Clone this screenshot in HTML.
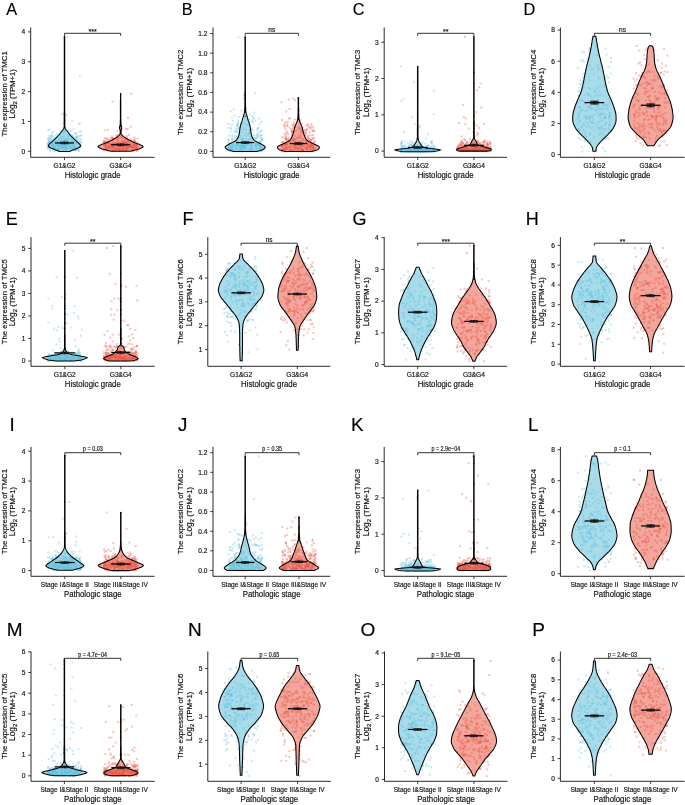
<!DOCTYPE html><html><head><meta charset="utf-8"><style>html,body{margin:0;padding:0;background:#fff;width:685px;height:805px;overflow:hidden}</style></head><body><svg width="685" height="805" viewBox="0 0 685 805" style="display:block;font-family:'Liberation Sans', sans-serif;will-change:transform"><style>text{stroke:#111;stroke-width:0.18px}</style><text x="6.2" y="15.0" font-size="16.3" >A</text>
<defs><path id="vA0" d="M70.0 151.4 70.2 151.2 70.5 151.0 72.3 150.3 74.4 149.6 76.8 148.6 78.7 147.7 80.0 146.8 80.7 145.9 80.3 145.0 79.6 144.1 78.9 143.4 78.0 142.6 77.1 141.9 76.1 141.0 75.2 140.0 74.2 139.1 73.3 138.2 72.4 137.3 71.5 136.4 70.6 135.5 69.8 134.6 69.1 133.7 68.4 132.8 67.7 131.8 67.0 130.9 66.5 130.2 65.9 129.5 65.4 128.7 65.1 128.0 65.0 127.3 64.8 126.6 64.8 125.9 64.8 125.0 64.8 124.0 64.8 123.1 64.8 122.1 64.8 121.2 64.8 120.2 64.8 119.3 64.8 118.3 64.8 117.4 64.8 116.4 64.8 115.4 64.8 114.5 64.8 113.5 64.7 112.6 64.7 111.6 64.7 110.7 64.7 109.7 64.7 108.8 64.7 107.8 64.7 106.9 64.7 105.9 64.7 105.0 64.7 104.0 64.7 103.1 64.7 102.1 64.7 101.2 64.7 100.2 64.7 99.3 64.7 98.3 64.7 97.3 64.7 96.4 64.7 95.4 64.7 94.5 64.7 93.5 64.7 92.6 64.7 91.6 64.7 90.7 64.7 89.7 64.7 88.8 64.7 87.8 64.7 86.9 64.7 85.9 64.7 85.0 64.7 84.0 64.7 83.1 64.7 82.1 64.7 81.2 64.7 80.2 64.7 79.2 64.7 78.3 64.7 77.3 64.7 76.4 64.7 75.4 64.7 74.5 64.7 73.5 64.7 72.6 64.7 71.6 64.7 70.7 64.7 69.7 64.7 68.8 64.7 67.8 64.7 66.9 64.7 65.9 64.7 65.0 64.7 64.0 64.7 63.1 64.7 62.1 64.7 61.1 64.7 60.2 64.7 59.2 64.7 58.3 64.7 57.3 64.7 56.4 64.7 55.4 64.7 54.5 64.7 53.5 64.7 52.6 64.7 51.6 64.7 50.7 64.7 49.7 64.7 48.8 64.7 47.8 64.7 46.9 64.7 45.9 64.7 45.0 64.7 44.0 64.7 43.0 64.7 42.1 64.7 41.1 64.7 40.2 64.7 39.2 64.7 38.3 64.7 37.3 64.7 36.4 64.3 36.4 64.3 37.3 64.3 38.3 64.3 39.2 64.3 40.2 64.3 41.1 64.3 42.1 64.3 43.0 64.3 44.0 64.3 45.0 64.3 45.9 64.3 46.9 64.3 47.8 64.3 48.8 64.3 49.7 64.3 50.7 64.3 51.6 64.3 52.6 64.3 53.5 64.3 54.5 64.3 55.4 64.3 56.4 64.3 57.3 64.3 58.3 64.3 59.2 64.3 60.2 64.3 61.1 64.3 62.1 64.3 63.1 64.3 64.0 64.3 65.0 64.3 65.9 64.3 66.9 64.3 67.8 64.3 68.8 64.3 69.7 64.3 70.7 64.3 71.6 64.3 72.6 64.3 73.5 64.3 74.5 64.3 75.4 64.3 76.4 64.3 77.3 64.3 78.3 64.3 79.2 64.3 80.2 64.3 81.2 64.3 82.1 64.3 83.1 64.3 84.0 64.3 85.0 64.3 85.9 64.3 86.9 64.3 87.8 64.3 88.8 64.3 89.7 64.3 90.7 64.3 91.6 64.3 92.6 64.3 93.5 64.3 94.5 64.3 95.4 64.3 96.4 64.3 97.3 64.3 98.3 64.3 99.3 64.3 100.2 64.3 101.2 64.3 102.1 64.3 103.1 64.3 104.0 64.3 105.0 64.3 105.9 64.3 106.9 64.3 107.8 64.3 108.8 64.3 109.7 64.3 110.7 64.3 111.6 64.3 112.6 64.2 113.5 64.2 114.5 64.2 115.4 64.2 116.4 64.2 117.4 64.2 118.3 64.2 119.3 64.2 120.2 64.2 121.2 64.2 122.1 64.2 123.1 64.2 124.0 64.2 125.0 64.2 125.9 64.2 126.6 64.0 127.3 63.9 128.0 63.6 128.7 63.1 129.5 62.5 130.2 62.0 130.9 61.3 131.8 60.6 132.8 59.9 133.7 59.2 134.6 58.4 135.5 57.5 136.4 56.6 137.3 55.7 138.2 54.8 139.1 53.8 140.0 52.9 141.0 51.9 141.9 51.0 142.6 50.1 143.4 49.4 144.1 48.7 145.0 48.3 145.9 49.0 146.8 50.3 147.7 52.2 148.6 54.6 149.6 56.7 150.3 58.5 151.0 58.8 151.2 59.0 151.4Z"/></defs><use href="#vA0" fill="#a9dcea"/>
<defs><path id="vA1" d="M129.7 151.3 131.5 150.9 133.3 150.4 135.0 150.0 136.5 149.6 137.9 149.2 139.2 148.9 140.2 148.5 141.0 148.1 141.8 147.7 142.5 147.3 142.9 146.9 143.1 146.5 142.9 146.2 142.3 145.8 141.5 145.4 140.7 145.0 139.7 144.6 138.6 144.1 137.3 143.7 136.1 143.2 135.0 142.8 134.0 142.3 133.0 141.9 132.0 141.4 131.0 141.0 130.1 140.6 129.2 140.1 128.4 139.7 127.7 139.2 126.9 138.8 126.2 138.4 125.5 138.0 124.9 137.5 124.3 137.1 123.8 136.7 123.2 136.2 122.7 135.8 122.2 135.3 121.7 134.9 121.4 134.4 121.2 134.0 121.1 133.6 121.1 133.2 121.0 132.7 121.0 132.3 121.0 131.9 121.0 131.5 121.0 131.1 121.1 130.6 121.1 130.2 121.2 129.8 121.3 129.4 121.4 129.0 121.6 128.6 121.7 128.1 121.7 127.7 121.7 127.3 121.6 126.9 121.4 126.5 121.3 126.0 121.2 125.6 121.1 125.2 121.1 124.7 121.0 124.3 121.0 123.8 120.9 123.4 120.9 122.9 120.9 122.5 120.9 122.0 120.9 121.5 120.9 121.0 120.9 120.5 120.9 120.1 120.9 119.6 120.8 119.1 120.8 118.6 120.8 118.1 120.8 117.7 120.8 117.2 120.8 116.7 120.8 116.2 120.8 115.7 120.8 115.3 120.8 114.8 120.8 114.3 120.8 113.8 120.8 113.4 120.8 112.9 120.8 112.4 120.8 111.9 120.8 111.4 120.8 111.0 120.8 110.5 120.8 110.0 120.8 109.5 120.8 109.0 120.8 108.6 120.8 108.1 120.8 107.6 120.8 107.1 120.8 106.6 120.8 106.2 120.8 105.7 120.8 105.2 120.8 104.7 120.8 104.2 120.8 103.8 120.8 103.3 120.8 102.8 120.8 102.3 120.8 101.8 120.8 101.4 120.8 100.9 120.8 100.4 120.7 99.9 120.7 99.4 120.7 99.0 120.7 98.5 120.7 98.0 120.7 97.5 120.7 97.0 120.7 96.6 120.7 96.1 120.7 95.6 120.7 95.1 120.7 94.6 120.7 94.2 120.7 93.7 120.5 93.7 120.5 94.2 120.5 94.6 120.5 95.1 120.5 95.6 120.5 96.1 120.5 96.6 120.5 97.0 120.5 97.5 120.5 98.0 120.5 98.5 120.5 99.0 120.5 99.4 120.5 99.9 120.4 100.4 120.4 100.9 120.4 101.4 120.4 101.8 120.4 102.3 120.4 102.8 120.4 103.3 120.4 103.8 120.4 104.2 120.4 104.7 120.4 105.2 120.4 105.7 120.4 106.2 120.4 106.6 120.4 107.1 120.4 107.6 120.4 108.1 120.4 108.6 120.4 109.0 120.4 109.5 120.4 110.0 120.4 110.5 120.4 111.0 120.4 111.4 120.4 111.9 120.4 112.4 120.4 112.9 120.4 113.4 120.4 113.8 120.4 114.3 120.4 114.8 120.4 115.3 120.4 115.7 120.4 116.2 120.4 116.7 120.4 117.2 120.4 117.7 120.4 118.1 120.4 118.6 120.4 119.1 120.3 119.6 120.3 120.1 120.3 120.5 120.3 121.0 120.3 121.5 120.3 122.0 120.3 122.5 120.3 122.9 120.3 123.4 120.2 123.8 120.2 124.3 120.1 124.7 120.1 125.2 120.0 125.6 119.9 126.0 119.8 126.5 119.6 126.9 119.5 127.3 119.5 127.7 119.5 128.1 119.6 128.6 119.8 129.0 119.9 129.4 120.0 129.8 120.1 130.2 120.1 130.6 120.2 131.1 120.2 131.5 120.2 131.9 120.2 132.3 120.2 132.7 120.1 133.2 120.1 133.6 120.0 134.0 119.8 134.4 119.5 134.9 119.0 135.3 118.5 135.8 118.0 136.2 117.4 136.7 116.9 137.1 116.3 137.5 115.7 138.0 115.0 138.4 114.3 138.8 113.5 139.2 112.8 139.7 112.0 140.1 111.1 140.6 110.2 141.0 109.2 141.4 108.2 141.9 107.2 142.3 106.2 142.8 105.1 143.2 103.9 143.7 102.6 144.1 101.5 144.6 100.5 145.0 99.7 145.4 98.9 145.8 98.3 146.2 98.1 146.5 98.3 146.9 98.7 147.3 99.4 147.7 100.2 148.1 101.0 148.5 102.0 148.9 103.3 149.2 104.7 149.6 106.2 150.0 107.9 150.4 109.7 150.9 111.5 151.3Z"/></defs><use href="#vA1" fill="#f3a69b"/>
<path d="M75.7 140.6h2M61.9 136.8h2M52.2 145.8h2M51.4 139.0h2M64.7 140.4h2M60.3 147.2h2M66.0 148.7h2M78.5 142.1h2M61.8 144.9h2M57.6 149.2h2M72.4 149.3h2M79.8 141.3h2M52.4 147.3h2M75.7 146.7h2M62.1 147.3h2M48.9 149.4h2M57.2 150.2h2M71.1 137.9h2M63.1 131.1h2M71.2 120.8h2M76.3 138.0h2M69.9 146.2h2M62.8 144.9h2M60.0 149.1h2M72.5 137.4h2M73.6 144.1h2M62.8 138.6h2M46.9 139.3h2M73.3 146.7h2M51.2 140.3h2M62.4 142.1h2M51.4 141.2h2M65.0 148.5h2M71.1 149.7h2M59.5 142.9h2M80.4 142.0h2M49.7 141.4h2M50.2 135.2h2M52.1 142.2h2M59.5 150.5h2M54.6 144.7h2M59.4 142.1h2M63.0 141.0h2" stroke="rgb(91,192,222)" stroke-opacity="0.33" stroke-width="2" fill="none"/>
<path d="M57.5 144.3h2M75.2 142.4h2M78.6 143.8h2M65.9 138.9h2M72.2 144.8h2M66.0 135.8h2M58.9 143.7h2M74.6 150.3h2M75.0 138.7h2M66.3 37.3h2M47.4 147.5h2M52.1 151.5h2M48.0 139.2h2M68.1 146.2h2M66.7 141.7h2M80.1 147.5h2M60.5 145.5h2M53.6 142.2h2M70.7 142.7h2M53.1 151.3h2M79.6 146.6h2M48.2 129.6h2M71.2 141.2h2M60.6 147.6h2M64.5 148.1h2M77.7 149.6h2M67.3 135.9h2M70.1 144.5h2M54.4 148.0h2M78.7 75.7h2M56.3 148.7h2M52.2 131.4h2M56.7 143.3h2M61.7 146.4h2M74.5 132.7h2M78.1 151.1h2M48.9 147.8h2M67.9 147.9h2M73.0 139.8h2M57.6 143.5h2M50.4 145.4h2M51.6 142.7h2M72.6 148.4h2" stroke="rgb(91,192,222)" stroke-opacity="0.33" stroke-width="2" fill="none"/>
<path d="M49.4 138.4h2M57.9 145.5h2M56.4 148.5h2M61.3 113.4h2M76.4 143.6h2M59.1 147.9h2M63.8 148.6h2M79.4 136.0h2M54.1 150.2h2M68.0 145.5h2M57.5 144.6h2M60.3 147.5h2M55.5 141.8h2M70.8 135.0h2M52.3 145.0h2M64.4 146.3h2M64.7 146.0h2M70.5 138.6h2M75.6 133.8h2M62.6 123.3h2M73.2 141.6h2M72.8 144.9h2M61.3 141.5h2M73.9 146.8h2M59.8 146.6h2M50.9 145.1h2M53.7 135.6h2M48.0 142.0h2M56.5 138.1h2M69.8 147.7h2M72.5 143.6h2M47.9 143.0h2M73.9 133.6h2M71.1 148.6h2M70.8 141.5h2M66.7 145.6h2M46.9 144.4h2M52.4 148.4h2M57.6 149.7h2M65.2 148.8h2M46.7 149.1h2M63.8 130.6h2M75.4 148.8h2" stroke="rgb(91,192,222)" stroke-opacity="0.33" stroke-width="2" fill="none"/>
<path d="M54.8 142.6h2M76.6 141.1h2M55.1 140.1h2M66.3 141.9h2M75.3 142.7h2M55.4 146.1h2M49.4 139.8h2M49.5 141.1h2M48.3 144.8h2M71.3 137.9h2M57.2 149.6h2M64.0 132.6h2M71.8 143.0h2M54.8 139.5h2M55.8 141.0h2M56.9 145.6h2M78.4 131.4h2M63.4 147.0h2M78.1 141.2h2M58.4 143.9h2M46.9 144.3h2M58.6 149.9h2M75.5 143.8h2M52.7 145.2h2M47.8 144.7h2M52.3 145.6h2M73.5 147.2h2M48.8 142.5h2M62.4 141.0h2M57.5 142.9h2M53.4 147.4h2M62.6 133.8h2M54.4 150.8h2M64.3 146.6h2M54.8 138.8h2M65.7 115.0h2M63.4 139.9h2M57.2 146.0h2M77.3 150.2h2M69.1 145.9h2M49.6 136.9h2M60.4 138.0h2M50.8 147.7h2" stroke="rgb(91,192,222)" stroke-opacity="0.33" stroke-width="2" fill="none"/>
<path d="M73.4 138.0h2M59.3 144.6h2M50.7 143.6h2M62.0 142.7h2M75.3 147.6h2M68.7 147.4h2M60.7 150.0h2M69.0 148.5h2M62.6 147.7h2M58.0 143.2h2M66.4 141.9h2M65.4 147.6h2M62.0 151.2h2M71.7 143.4h2M68.5 133.4h2M46.6 146.9h2M60.9 148.1h2M58.8 144.1h2M64.3 144.7h2M80.0 131.7h2M54.9 145.1h2M58.4 146.2h2M61.2 147.8h2M51.8 145.1h2M57.6 141.0h2M72.5 129.3h2M67.0 148.8h2M53.0 146.9h2M75.4 147.1h2M59.5 147.5h2M78.7 145.2h2M50.5 142.8h2M60.5 147.2h2M46.7 142.4h2M57.9 138.8h2M78.5 135.9h2M58.9 140.9h2M70.7 147.2h2M69.4 136.3h2M76.0 136.0h2M72.3 147.8h2M50.9 135.7h2" stroke="rgb(91,192,222)" stroke-opacity="0.33" stroke-width="2" fill="none"/>
<path d="M80.0 139.0h2M57.2 149.1h2M48.1 146.7h2M63.3 150.4h2M79.1 144.8h2M60.9 147.3h2M67.9 133.8h2M67.8 144.8h2M52.9 140.0h2M59.5 136.3h2M59.4 140.2h2M74.3 148.7h2M71.1 145.6h2M48.7 147.4h2M51.4 132.7h2M75.0 138.3h2M64.1 142.6h2M57.1 146.2h2M60.9 143.3h2M74.8 136.5h2M68.8 139.4h2M65.4 148.0h2M52.6 143.1h2M72.5 148.8h2M80.5 135.0h2M62.9 145.5h2M69.0 135.4h2M64.4 150.5h2M48.2 135.9h2M48.5 140.5h2M66.5 138.5h2M66.7 144.8h2M62.7 148.0h2M77.8 124.3h2M65.8 141.9h2M71.0 145.1h2M57.2 141.5h2M76.9 143.3h2M53.4 138.5h2M74.0 149.9h2M68.7 135.2h2M49.1 151.1h2" stroke="rgb(91,192,222)" stroke-opacity="0.33" stroke-width="2" fill="none"/>
<path d="M75.7 140.2h2M53.5 148.0h2M57.2 147.8h2M71.9 135.8h2M64.3 140.3h2M64.9 143.9h2M63.0 136.0h2M74.6 150.1h2M46.8 144.1h2M70.1 130.8h2M70.0 142.0h2M57.4 147.3h2M65.7 145.6h2M58.4 135.1h2M49.6 138.8h2M60.2 137.8h2M77.8 138.4h2M80.2 143.4h2M52.3 143.5h2M50.5 145.1h2M47.3 138.0h2M72.9 139.6h2M66.0 139.7h2M64.1 128.4h2M62.0 149.9h2M47.9 142.2h2M68.7 144.6h2M54.5 147.2h2M75.6 142.1h2M65.5 149.9h2M50.8 136.5h2M66.1 145.6h2M60.8 132.1h2M63.5 145.8h2M60.1 138.7h2M64.3 141.3h2M48.0 143.3h2M61.7 145.1h2M79.0 123.2h2M47.7 142.7h2M66.8 137.9h2M69.3 142.9h2" stroke="rgb(91,192,222)" stroke-opacity="0.33" stroke-width="2" fill="none"/>
<path d="M66.6 140.4h2M63.9 139.5h2M71.0 148.3h2M63.6 142.0h2M63.6 147.2h2M56.1 144.5h2M64.6 141.3h2M52.6 147.3h2M76.3 149.7h2M54.4 144.7h2M77.3 147.1h2M56.2 133.9h2M55.4 144.2h2M63.7 145.5h2M51.6 140.7h2M52.4 145.9h2M62.2 140.8h2M56.7 144.0h2M75.9 137.1h2M65.8 150.3h2M50.0 142.6h2M58.3 145.8h2M65.2 140.0h2M50.6 146.2h2M56.9 143.6h2M53.4 147.1h2M54.1 140.9h2M70.7 140.6h2M58.5 145.5h2M65.3 151.2h2M47.4 146.5h2M48.3 143.0h2M46.9 130.2h2M48.4 141.0h2M61.7 132.5h2M57.0 143.0h2M67.2 130.9h2M58.2 141.3h2M53.9 140.6h2M55.8 144.2h2M56.1 135.1h2M72.9 146.8h2" stroke="rgb(91,192,222)" stroke-opacity="0.33" stroke-width="2" fill="none"/>
<path d="M104.7 146.8h2M134.2 144.3h2M126.7 145.5h2M107.2 147.2h2M135.9 147.3h2M117.8 145.2h2M136.0 143.4h2M106.2 142.0h2M132.6 143.1h2M124.3 145.5h2M106.5 142.4h2M111.5 150.6h2M116.1 139.3h2M106.6 146.9h2M135.5 148.5h2M106.4 149.6h2M112.5 140.1h2M132.1 143.3h2M136.5 149.9h2M136.3 146.7h2M115.1 135.8h2M129.0 147.6h2M106.7 143.0h2M125.7 144.3h2M130.7 148.0h2M118.4 149.7h2M127.2 142.3h2M119.6 143.6h2M109.8 145.6h2M107.9 148.6h2M114.8 146.0h2M124.3 139.6h2M106.1 147.8h2M116.1 144.9h2M126.0 145.1h2M113.8 146.5h2M120.7 143.2h2M134.3 144.6h2M108.1 146.7h2M119.6 146.1h2M127.6 140.5h2M103.6 130.5h2M135.8 150.8h2" stroke="rgb(235,80,60)" stroke-opacity="0.33" stroke-width="2" fill="none"/>
<path d="M132.6 148.2h2M103.1 141.4h2M119.9 143.6h2M132.9 147.5h2M112.5 145.9h2M106.0 142.4h2M120.4 149.2h2M123.4 142.0h2M113.1 145.0h2M132.4 149.8h2M136.5 138.6h2M105.4 148.3h2M134.4 145.6h2M124.8 142.4h2M115.5 143.3h2M127.0 117.8h2M120.8 146.0h2M131.8 143.3h2M103.8 145.6h2M102.9 143.9h2M109.6 138.2h2M132.8 145.6h2M125.9 145.4h2M133.8 142.0h2M136.0 144.2h2M114.5 138.3h2M127.3 146.0h2M108.8 142.2h2M105.3 148.9h2M109.2 144.1h2M110.9 139.5h2M105.2 145.6h2M121.7 148.3h2M111.6 144.1h2M103.9 142.0h2M125.5 142.9h2M112.4 138.9h2M131.0 151.1h2M122.2 144.3h2M124.6 144.0h2M131.0 147.7h2M109.8 140.6h2M114.5 148.4h2" stroke="rgb(235,80,60)" stroke-opacity="0.33" stroke-width="2" fill="none"/>
<path d="M106.7 140.7h2M124.4 146.1h2M107.2 142.9h2M103.0 143.0h2M118.7 151.1h2M136.1 144.2h2M108.4 144.3h2M108.6 140.1h2M120.6 129.2h2M124.2 145.7h2M136.3 150.6h2M116.2 141.2h2M125.5 143.7h2M126.7 128.9h2M126.3 144.8h2M129.6 126.7h2M111.6 146.0h2M117.1 148.8h2M134.2 148.7h2M131.0 147.1h2M115.9 130.8h2M119.6 137.8h2M104.3 137.9h2M103.2 142.0h2M117.4 147.1h2M134.3 144.0h2M119.4 142.7h2M123.0 146.3h2M114.3 149.7h2M125.9 140.6h2M122.5 143.7h2M111.5 101.4h2M104.5 145.2h2M129.3 144.6h2M125.5 135.9h2M127.6 147.0h2M118.3 137.6h2M136.4 142.4h2M121.5 138.3h2M111.7 146.3h2M124.5 149.5h2M132.5 150.8h2" stroke="rgb(235,80,60)" stroke-opacity="0.33" stroke-width="2" fill="none"/>
<path d="M127.4 143.7h2M136.3 150.1h2M110.3 150.3h2M111.7 145.8h2M117.2 138.7h2M117.3 144.9h2M134.1 140.8h2M123.0 146.6h2M125.6 142.8h2M129.3 139.5h2M122.6 145.2h2M130.2 93.7h2M127.1 148.5h2M117.8 141.4h2M114.0 143.1h2M124.6 147.7h2M124.0 141.2h2M136.4 147.7h2M125.7 149.6h2M119.0 145.6h2M121.9 142.4h2M116.8 148.5h2M108.5 146.5h2M129.2 141.3h2M125.7 137.6h2M104.7 139.0h2M111.0 147.4h2M125.2 129.0h2M111.2 141.6h2M103.9 144.4h2M119.7 144.8h2M113.2 143.6h2M105.9 138.6h2M121.9 149.3h2M124.8 147.5h2M133.1 145.8h2M106.7 130.1h2M110.1 147.2h2M126.0 148.1h2M111.0 136.5h2M116.7 136.8h2M135.4 145.4h2" stroke="rgb(235,80,60)" stroke-opacity="0.33" stroke-width="2" fill="none"/>
<path d="M102.9 145.8h2M119.5 148.9h2M120.4 149.8h2M119.3 146.4h2M123.7 143.4h2M129.2 147.1h2M126.5 138.7h2M112.3 147.1h2M128.8 142.7h2M117.5 144.4h2M120.9 146.7h2M135.5 149.6h2M132.3 146.4h2M103.4 149.3h2M126.5 144.2h2M126.5 147.6h2M107.6 150.2h2M112.4 150.7h2M111.5 137.7h2M105.9 148.9h2M120.6 145.0h2M107.8 149.8h2M107.0 150.4h2M106.2 149.0h2M113.0 145.6h2M102.9 141.8h2M115.9 144.1h2M122.9 150.7h2M130.3 146.5h2M130.2 149.9h2M119.6 149.8h2M117.0 134.8h2M117.7 145.2h2M103.4 150.2h2M132.9 140.1h2M120.4 136.3h2M125.8 148.0h2M125.2 149.3h2M104.6 149.6h2M126.8 145.4h2M118.2 146.3h2M121.3 145.5h2" stroke="rgb(235,80,60)" stroke-opacity="0.33" stroke-width="2" fill="none"/>
<path d="M125.4 138.6h2M126.8 147.3h2M117.2 148.0h2M132.1 150.3h2M107.5 142.5h2M119.9 144.3h2M119.1 145.5h2M110.8 148.7h2M104.3 145.9h2M113.5 149.2h2M102.9 150.3h2M119.4 146.0h2M121.7 141.7h2M124.7 147.3h2M125.5 143.1h2M113.2 143.0h2M118.1 146.7h2M112.2 150.2h2M127.9 146.9h2M131.7 144.6h2M111.3 146.8h2M126.7 140.8h2M125.0 145.6h2M111.0 138.5h2M130.2 139.5h2M115.1 148.2h2M124.7 142.7h2M103.4 148.8h2M117.6 146.5h2M130.5 146.8h2M118.5 149.4h2M126.1 149.0h2M122.0 150.0h2M112.4 142.8h2M109.8 149.1h2M105.3 146.9h2M122.5 142.9h2M125.2 148.1h2M125.3 145.0h2M103.0 140.8h2M131.8 144.9h2M123.0 143.9h2" stroke="rgb(235,80,60)" stroke-opacity="0.33" stroke-width="2" fill="none"/>
<path d="M127.4 149.6h2M129.3 144.4h2M116.6 143.9h2M103.5 149.3h2M126.3 142.4h2M133.9 145.8h2M106.0 146.5h2M135.0 147.2h2M121.6 136.8h2M104.7 148.3h2M133.6 148.1h2M116.7 136.6h2M129.3 145.7h2M124.8 143.6h2M122.3 148.0h2M118.1 150.6h2M104.9 144.4h2M127.8 135.1h2M106.5 147.4h2M128.8 145.6h2M113.4 145.7h2M133.0 142.2h2M120.7 145.3h2M115.4 149.1h2M122.4 149.9h2M124.4 150.2h2M116.9 149.6h2M116.7 146.4h2M120.1 146.2h2M108.2 146.6h2M131.7 141.0h2M111.3 147.1h2M128.6 145.6h2M132.5 146.8h2M131.0 148.9h2M129.8 146.9h2M127.7 145.2h2M111.0 144.0h2M111.5 147.6h2M127.3 144.4h2M105.6 142.7h2M108.3 147.1h2" stroke="rgb(235,80,60)" stroke-opacity="0.33" stroke-width="2" fill="none"/>
<path d="M115.5 149.7h2M107.4 146.3h2M107.8 144.2h2M117.6 143.4h2M111.3 144.5h2M120.9 148.8h2M114.1 143.2h2M135.5 149.8h2M132.9 145.8h2M122.2 140.8h2M104.9 144.6h2M104.6 149.2h2M116.6 143.0h2M119.2 144.4h2M136.2 146.2h2M108.6 146.8h2M110.3 144.0h2M113.0 147.9h2M136.0 149.5h2M133.3 137.5h2M118.5 148.3h2M135.4 145.4h2M118.8 146.7h2M133.5 140.9h2M115.0 150.2h2M113.2 148.5h2M111.8 138.0h2M119.1 146.9h2M125.8 145.5h2M133.4 148.0h2M109.2 147.6h2M104.9 141.4h2M121.3 140.8h2M124.1 146.7h2M125.2 149.9h2M130.1 146.3h2M106.8 139.3h2M122.7 147.2h2M133.9 138.5h2M132.9 145.2h2M102.9 142.1h2M105.1 144.4h2" stroke="rgb(235,80,60)" stroke-opacity="0.33" stroke-width="2" fill="none"/>
<path d="M63.9 37.3h1.2M63.9 115.0h1.2M63.9 120.8h1.2M63.9 75.7h1.2M63.9 113.4h1.2M120.0 93.7h1.2M120.0 126.7h1.2M120.0 130.8h1.2M120.0 130.5h1.2" stroke="#111" stroke-width="1.0" fill="none"/>
<use href="#vA0" fill="none" stroke="#000" stroke-width="1.05"/>
<use href="#vA1" fill="none" stroke="#000" stroke-width="1.05"/>
<line x1="55.00" y1="142.94" x2="74.00" y2="142.94" stroke="#000" stroke-width="1.25"/>
<rect x="60.40" y="141.59" width="8.2" height="2.70" fill="#1a1a1a" fill-opacity="0.85"/>
<line x1="64.50" y1="141.59" x2="64.50" y2="144.29" stroke="#000" stroke-width="0.6"/>
<line x1="110.90" y1="144.73" x2="130.30" y2="144.73" stroke="#000" stroke-width="1.25"/>
<rect x="116.50" y="143.38" width="8.2" height="2.70" fill="#1a1a1a" fill-opacity="0.85"/>
<line x1="120.60" y1="143.38" x2="120.60" y2="146.08" stroke="#000" stroke-width="0.6"/>
<path d="M30.70,27.50 L30.70,157.30 L154.60,157.30" fill="none" stroke="#111" stroke-width="0.9"/>
<line x1="27.90" y1="151.30" x2="30.70" y2="151.30" stroke="#111" stroke-width="0.8"/>
<text x="25.20" y="153.61" font-size="6.6" text-anchor="end" fill="#222">0</text>
<line x1="27.90" y1="121.45" x2="30.70" y2="121.45" stroke="#111" stroke-width="0.8"/>
<text x="25.20" y="123.76" font-size="6.6" text-anchor="end" fill="#222">1</text>
<line x1="27.90" y1="91.60" x2="30.70" y2="91.60" stroke="#111" stroke-width="0.8"/>
<text x="25.20" y="93.91" font-size="6.6" text-anchor="end" fill="#222">2</text>
<line x1="27.90" y1="61.75" x2="30.70" y2="61.75" stroke="#111" stroke-width="0.8"/>
<text x="25.20" y="64.06" font-size="6.6" text-anchor="end" fill="#222">3</text>
<line x1="27.90" y1="31.90" x2="30.70" y2="31.90" stroke="#111" stroke-width="0.8"/>
<text x="25.20" y="34.21" font-size="6.6" text-anchor="end" fill="#222">4</text>
<line x1="64.50" y1="157.30" x2="64.50" y2="160.10" stroke="#111" stroke-width="0.8"/>
<text x="64.50" y="167.70" font-size="6.6" text-anchor="middle" fill="#222">G1&amp;G2</text>
<line x1="120.60" y1="157.30" x2="120.60" y2="160.10" stroke="#111" stroke-width="0.8"/>
<text x="120.60" y="167.70" font-size="6.6" text-anchor="middle" fill="#222">G3&amp;G4</text>
<text x="64.69" y="177.50" font-size="8.6" textLength="55.93" lengthAdjust="spacingAndGlyphs" fill="#111">Histologic grade</text>
<text transform="translate(7.00,93.80) rotate(-90)" font-size="7.8" text-anchor="middle" fill="#111">The expression of TMC1</text>
<text transform="translate(14.90,118.40) rotate(-90)" font-size="8.4" fill="#111">Log<tspan font-size="6" dy="2.3">2</tspan><tspan font-size="7.6" dy="-2.3"> (TPM+1)</tspan></text>
<path d="M64.50,35.80 L64.50,33.30 L120.60,33.30 L120.60,35.80" fill="none" stroke="#111" stroke-width="0.85"/>
<text x="92.55" y="34.30" font-size="7.0" text-anchor="middle" fill="#222">***</text>
<text x="181.7" y="15.0" font-size="16.3" >B</text>
<defs><path id="vB0" d="M256.9 151.4 260.3 150.6 262.8 149.7 264.1 148.8 265.0 148.0 265.3 147.1 264.8 146.3 263.6 145.5 262.1 144.6 260.7 143.8 259.1 143.0 257.3 142.1 255.6 141.3 254.4 140.4 253.7 139.6 253.1 138.7 252.5 137.9 252.1 137.1 251.8 136.2 251.5 135.4 251.3 134.4 251.1 133.5 251.0 132.5 250.9 131.6 250.7 130.6 250.6 129.7 250.5 128.7 250.4 127.8 250.2 126.9 250.0 125.9 249.7 125.0 249.5 124.1 249.2 123.2 248.9 122.3 248.5 121.4 248.2 120.4 248.0 119.5 247.7 118.6 247.4 117.7 247.2 116.7 246.9 115.8 246.6 114.8 246.3 113.9 246.1 113.0 245.9 112.0 245.8 111.1 245.7 110.2 245.7 109.3 245.6 108.4 245.6 107.5 245.6 106.7 245.5 105.8 245.5 104.9 245.5 104.0 245.5 103.2 245.5 102.3 245.5 101.4 245.5 100.4 245.5 99.5 245.5 98.5 245.5 97.6 245.5 96.6 245.5 95.7 245.5 94.7 245.5 93.8 245.5 92.8 245.5 91.9 245.4 90.9 245.4 90.0 245.4 89.0 245.4 88.1 245.4 87.1 245.4 86.2 245.4 85.2 245.4 84.3 245.4 83.3 245.4 82.4 245.4 81.4 245.4 80.5 245.4 79.5 245.4 78.6 245.4 77.6 245.4 76.7 245.4 75.7 245.4 74.8 245.4 73.8 245.4 72.9 245.4 71.9 245.4 71.0 245.4 70.0 245.4 69.1 245.4 68.1 245.4 67.2 245.4 66.2 245.4 65.3 245.4 64.3 245.4 63.4 245.4 62.4 245.4 61.5 245.4 60.5 245.4 59.6 245.4 58.6 245.4 57.7 245.4 56.7 245.4 55.8 245.4 54.8 245.4 53.9 245.4 52.9 245.4 52.0 245.4 51.0 245.4 50.1 245.4 49.1 245.4 48.2 245.4 47.2 245.4 46.3 245.4 45.3 245.4 44.4 245.4 43.4 245.4 42.5 245.4 41.5 245.4 40.6 245.4 39.6 245.4 38.7 245.4 37.7 245.3 36.8 245.0 36.8 245.0 37.7 245.0 38.7 245.0 39.6 245.0 40.6 245.0 41.5 245.0 42.5 245.0 43.4 245.0 44.4 245.0 45.3 245.0 46.3 245.0 47.2 245.0 48.2 245.0 49.1 245.0 50.1 245.0 51.0 245.0 52.0 245.0 52.9 245.0 53.9 245.0 54.8 245.0 55.8 245.0 56.7 245.0 57.7 245.0 58.6 245.0 59.6 245.0 60.5 245.0 61.5 245.0 62.4 245.0 63.4 245.0 64.3 245.0 65.3 245.0 66.2 245.0 67.2 245.0 68.1 245.0 69.1 245.0 70.0 245.0 71.0 245.0 71.9 245.0 72.9 245.0 73.8 245.0 74.8 245.0 75.7 245.0 76.7 245.0 77.6 245.0 78.6 245.0 79.5 245.0 80.5 245.0 81.4 245.0 82.4 245.0 83.3 245.0 84.3 245.0 85.2 245.0 86.2 245.0 87.1 245.0 88.1 245.0 89.0 245.0 90.0 245.0 90.9 244.9 91.9 244.9 92.8 244.9 93.8 244.9 94.7 244.9 95.7 244.9 96.6 244.9 97.6 244.9 98.5 244.9 99.5 244.9 100.4 244.9 101.4 244.9 102.3 244.9 103.2 244.9 104.0 244.9 104.9 244.9 105.8 244.8 106.7 244.8 107.5 244.8 108.4 244.7 109.3 244.7 110.2 244.6 111.1 244.5 112.0 244.3 113.0 244.1 113.9 243.8 114.8 243.5 115.8 243.2 116.7 243.0 117.7 242.7 118.6 242.4 119.5 242.2 120.4 241.9 121.4 241.5 122.3 241.2 123.2 240.9 124.1 240.7 125.0 240.4 125.9 240.2 126.9 240.0 127.8 239.9 128.7 239.8 129.7 239.7 130.6 239.5 131.6 239.4 132.5 239.3 133.5 239.1 134.4 238.9 135.4 238.6 136.2 238.3 137.1 237.9 137.9 237.3 138.7 236.7 139.6 236.0 140.4 234.8 141.3 233.1 142.1 231.3 143.0 229.7 143.8 228.3 144.6 226.8 145.5 225.6 146.3 225.1 147.1 225.4 148.0 226.3 148.8 227.6 149.7 230.1 150.6 233.5 151.4Z"/></defs><use href="#vB0" fill="#a9dcea"/>
<defs><path id="vB1" d="M311.8 151.4 313.5 151.0 315.2 150.6 316.8 150.1 317.7 149.7 318.2 149.3 318.6 148.8 318.9 148.4 319.2 148.0 319.3 147.5 319.4 147.1 319.2 146.7 318.8 146.3 318.1 145.9 317.2 145.5 316.2 145.1 315.3 144.6 314.3 144.2 313.5 143.8 312.7 143.4 311.8 143.0 310.9 142.5 310.0 142.1 309.1 141.7 308.3 141.3 307.7 140.8 307.2 140.4 306.8 140.0 306.5 139.6 306.2 139.1 305.9 138.7 305.7 138.3 305.4 137.9 305.2 137.5 305.0 137.1 304.8 136.6 304.6 136.2 304.5 135.8 304.3 135.4 304.1 135.0 304.0 134.5 303.8 134.1 303.7 133.7 303.6 133.3 303.5 132.8 303.3 132.4 303.2 132.0 303.1 131.5 303.0 131.1 302.9 130.7 302.8 130.3 302.7 129.8 302.6 129.4 302.5 129.0 302.4 128.6 302.3 128.1 302.2 127.7 302.0 127.3 301.9 126.9 301.8 126.4 301.6 126.0 301.4 125.5 301.3 125.1 301.1 124.7 300.9 124.2 300.7 123.8 300.5 123.4 300.3 122.9 300.1 122.5 299.9 122.1 299.8 121.6 299.6 121.2 299.5 120.8 299.3 120.3 299.2 119.9 299.1 119.5 299.0 119.0 299.0 118.6 299.0 118.2 298.9 117.7 298.9 117.3 298.9 116.9 298.9 116.4 298.8 116.0 298.8 115.6 298.8 115.1 298.8 114.7 298.8 114.3 298.7 113.8 298.7 113.4 298.7 113.0 298.7 112.6 298.7 112.1 298.7 111.7 298.7 111.2 298.7 110.8 298.7 110.4 298.7 109.9 298.7 109.5 298.7 109.0 298.6 108.6 298.6 108.2 298.6 107.7 298.6 107.3 298.6 106.8 298.6 106.4 298.6 106.0 298.6 105.5 298.6 105.1 298.6 104.6 298.6 104.2 298.6 103.8 298.6 103.3 298.6 102.9 298.6 102.4 298.6 102.0 298.6 101.6 298.6 101.1 298.6 100.7 298.6 100.2 298.6 99.8 298.6 99.3 298.6 98.9 298.6 98.5 298.6 98.0 298.5 97.6 298.2 97.6 298.2 98.0 298.2 98.5 298.2 98.9 298.2 99.3 298.2 99.8 298.2 100.2 298.2 100.7 298.2 101.1 298.2 101.6 298.2 102.0 298.2 102.4 298.2 102.9 298.2 103.3 298.2 103.8 298.2 104.2 298.2 104.6 298.2 105.1 298.2 105.5 298.2 106.0 298.2 106.4 298.2 106.8 298.2 107.3 298.2 107.7 298.2 108.2 298.2 108.6 298.1 109.0 298.1 109.5 298.1 109.9 298.1 110.4 298.1 110.8 298.1 111.2 298.1 111.7 298.1 112.1 298.1 112.6 298.1 113.0 298.1 113.4 298.1 113.8 298.0 114.3 298.0 114.7 298.0 115.1 298.0 115.6 298.0 116.0 297.9 116.4 297.9 116.9 297.9 117.3 297.9 117.7 297.8 118.2 297.8 118.6 297.8 119.0 297.7 119.5 297.6 119.9 297.5 120.3 297.3 120.8 297.2 121.2 297.0 121.6 296.9 122.1 296.7 122.5 296.5 122.9 296.3 123.4 296.1 123.8 295.9 124.2 295.7 124.7 295.5 125.1 295.4 125.5 295.2 126.0 295.0 126.4 294.9 126.9 294.8 127.3 294.6 127.7 294.5 128.1 294.4 128.6 294.3 129.0 294.2 129.4 294.1 129.8 294.0 130.3 293.9 130.7 293.8 131.1 293.7 131.5 293.6 132.0 293.5 132.4 293.3 132.8 293.2 133.3 293.1 133.7 293.0 134.1 292.8 134.5 292.7 135.0 292.5 135.4 292.3 135.8 292.2 136.2 292.0 136.6 291.8 137.1 291.6 137.5 291.4 137.9 291.1 138.3 290.9 138.7 290.6 139.1 290.3 139.6 290.0 140.0 289.6 140.4 289.1 140.8 288.5 141.3 287.7 141.7 286.8 142.1 285.9 142.5 285.0 143.0 284.1 143.4 283.3 143.8 282.5 144.2 281.5 144.6 280.6 145.1 279.6 145.5 278.7 145.9 278.0 146.3 277.6 146.7 277.4 147.1 277.5 147.5 277.6 148.0 277.9 148.4 278.2 148.8 278.6 149.3 279.1 149.7 280.0 150.1 281.6 150.6 283.3 151.0 285.0 151.4Z"/></defs><use href="#vB1" fill="#f3a69b"/>
<path d="M244.0 148.7h2M240.2 146.2h2M241.2 140.4h2M240.3 146.0h2M243.2 148.5h2M250.1 144.8h2M240.9 139.1h2M231.0 139.8h2M241.9 147.2h2M236.3 144.4h2M259.1 146.6h2M229.6 149.8h2M245.0 148.3h2M252.0 148.6h2M237.2 146.9h2M249.9 142.4h2M231.0 149.3h2M253.6 137.7h2M258.3 118.5h2M239.7 148.4h2M227.7 141.9h2M261.1 148.2h2M243.6 144.2h2M236.3 126.3h2M260.2 150.9h2M258.6 145.6h2M259.1 131.9h2M227.8 145.3h2M237.0 128.0h2M256.3 143.3h2M260.0 151.6h2M233.7 115.7h2M259.8 142.3h2M244.7 147.1h2M238.4 149.7h2M238.1 132.6h2M258.1 145.1h2M227.6 149.4h2M244.3 141.8h2M235.2 131.0h2M249.7 144.3h2M230.9 117.4h2M244.9 142.8h2" stroke="rgb(91,192,222)" stroke-opacity="0.33" stroke-width="2" fill="none"/>
<path d="M241.0 146.3h2M246.8 151.2h2M237.8 116.9h2M254.4 145.7h2M250.8 149.8h2M240.1 149.2h2M235.8 136.4h2M249.5 138.4h2M244.5 135.5h2M235.2 149.4h2M258.0 145.0h2M242.3 148.0h2M233.8 143.9h2M227.2 139.7h2M249.4 149.1h2M231.1 139.0h2M227.6 143.7h2M234.7 142.2h2M256.4 129.3h2M240.0 148.0h2M244.0 146.1h2M237.9 145.5h2M236.3 131.9h2M255.1 136.1h2M255.3 138.8h2M243.1 147.4h2M234.5 140.6h2M237.1 120.5h2M248.1 133.4h2M256.4 148.4h2M258.9 142.0h2M255.9 141.7h2M260.1 131.3h2M255.3 151.1h2M235.8 145.8h2M236.4 142.7h2M259.9 137.7h2M252.8 118.4h2M232.1 145.3h2M258.7 148.9h2M252.6 139.2h2M232.6 145.4h2M249.1 114.3h2" stroke="rgb(91,192,222)" stroke-opacity="0.33" stroke-width="2" fill="none"/>
<path d="M248.5 146.3h2M255.2 146.1h2M259.8 146.9h2M228.6 145.2h2M242.2 150.6h2M237.2 136.8h2M232.0 143.3h2M233.9 147.5h2M243.2 145.2h2M261.0 139.7h2M257.4 134.4h2M256.9 128.6h2M250.8 148.2h2M233.2 150.3h2M258.4 144.9h2M238.5 147.1h2M257.5 134.0h2M261.0 140.7h2M228.0 145.5h2M227.4 148.1h2M235.4 145.5h2M258.5 148.0h2M255.7 149.2h2M237.0 138.5h2M240.7 132.3h2M248.9 150.2h2M258.5 124.2h2M235.2 146.8h2M255.3 144.9h2M230.7 145.8h2M233.4 141.5h2M249.8 138.6h2M234.8 146.0h2M235.2 139.0h2M242.7 150.1h2M237.3 144.8h2M249.1 130.5h2M230.1 150.5h2M245.1 149.1h2M259.0 146.4h2M256.9 144.2h2M233.4 145.3h2M243.0 98.2h2" stroke="rgb(91,192,222)" stroke-opacity="0.33" stroke-width="2" fill="none"/>
<path d="M228.0 135.5h2M251.3 151.3h2M256.5 145.6h2M243.9 147.0h2M256.0 146.4h2M234.4 135.5h2M229.9 147.2h2M231.6 148.2h2M251.4 145.2h2M235.9 125.9h2M243.1 147.4h2M237.8 134.4h2M259.2 145.8h2M236.9 122.6h2M246.9 144.4h2M245.3 120.1h2M235.7 129.3h2M260.7 130.6h2M260.5 148.9h2M241.6 145.3h2M242.0 129.4h2M229.5 149.6h2M249.6 150.9h2M233.0 137.4h2M237.7 122.8h2M239.8 136.1h2M246.3 148.2h2M255.0 145.1h2M230.8 124.8h2M260.1 146.6h2M239.7 148.1h2M259.8 148.3h2M228.0 139.8h2M251.7 139.7h2M234.1 141.6h2M246.0 144.8h2M245.9 124.9h2M252.2 138.1h2M248.0 132.5h2M253.0 138.0h2M230.2 128.8h2M250.1 151.2h2M236.6 124.9h2" stroke="rgb(91,192,222)" stroke-opacity="0.33" stroke-width="2" fill="none"/>
<path d="M241.8 139.4h2M232.0 149.2h2M231.1 135.1h2M230.9 149.4h2M241.8 146.1h2M260.5 121.9h2M248.8 142.1h2M232.0 150.0h2M238.6 143.8h2M229.3 146.1h2M236.2 148.7h2M243.9 142.3h2M230.9 148.4h2M232.7 109.4h2M238.9 143.3h2M242.8 95.3h2M247.9 120.0h2M256.5 131.6h2M249.4 121.6h2M235.6 149.6h2M241.9 145.5h2M228.9 148.7h2M249.7 149.3h2M234.2 128.6h2M260.7 149.7h2M245.5 150.9h2M241.5 146.3h2M256.5 135.8h2M243.6 144.2h2M235.0 148.3h2M254.4 93.2h2M247.1 124.7h2M243.1 122.9h2M238.7 148.7h2M232.9 146.6h2M239.0 148.3h2M245.1 132.9h2M253.2 112.5h2M252.3 118.5h2M241.3 142.7h2M244.6 129.6h2M261.1 139.1h2" stroke="rgb(91,192,222)" stroke-opacity="0.33" stroke-width="2" fill="none"/>
<path d="M251.4 136.1h2M249.0 129.8h2M249.4 145.1h2M250.3 147.9h2M229.8 131.8h2M257.0 127.5h2M230.9 136.8h2M259.1 141.2h2M250.8 146.3h2M228.7 151.0h2M242.4 143.1h2M254.1 144.1h2M248.3 149.1h2M232.0 120.7h2M242.8 147.1h2M242.7 127.8h2M239.7 151.2h2M227.6 148.8h2M260.9 134.9h2M248.8 149.5h2M227.9 147.6h2M252.0 122.6h2M234.5 149.2h2M247.2 135.6h2M249.0 130.0h2M248.3 134.3h2M256.0 149.6h2M257.1 144.0h2M239.2 145.1h2M241.2 150.1h2M238.1 148.9h2M237.9 151.1h2M250.5 128.9h2M236.2 123.8h2M235.5 145.9h2M231.2 144.7h2M247.4 133.9h2M228.4 144.2h2M239.8 138.5h2M249.8 149.9h2M254.3 145.4h2M247.5 140.0h2" stroke="rgb(91,192,222)" stroke-opacity="0.33" stroke-width="2" fill="none"/>
<path d="M236.8 143.5h2M235.6 142.3h2M237.9 129.5h2M242.0 138.2h2M243.2 145.4h2M256.3 138.3h2M244.2 143.0h2M259.3 145.3h2M252.2 130.1h2M245.0 139.2h2M229.8 127.7h2M242.2 143.6h2M237.0 142.3h2M232.9 131.4h2M240.9 143.7h2M241.2 123.5h2M249.5 128.9h2M227.6 123.9h2M259.8 135.3h2M237.5 37.5h2M259.9 150.7h2M234.9 132.3h2M239.6 145.8h2M241.7 145.1h2M259.1 143.9h2M259.2 148.1h2M254.8 148.8h2M236.9 124.7h2M231.3 148.4h2M246.1 116.6h2M260.5 140.1h2M229.4 111.1h2M240.6 149.8h2M240.4 147.3h2M244.8 140.4h2M251.5 120.9h2M246.0 144.9h2M235.2 147.9h2M242.9 147.6h2M251.3 116.3h2M238.7 127.4h2M254.4 147.1h2" stroke="rgb(91,192,222)" stroke-opacity="0.33" stroke-width="2" fill="none"/>
<path d="M259.2 135.5h2M246.6 145.7h2M260.8 150.8h2M241.5 139.9h2M253.5 150.7h2M242.5 141.9h2M248.8 130.4h2M241.1 146.2h2M255.4 142.8h2M250.5 142.5h2M235.8 144.0h2M254.1 120.7h2M259.0 147.3h2M259.2 150.6h2M231.2 140.6h2M243.7 146.5h2M245.2 145.3h2M249.1 146.1h2M231.1 147.0h2M259.4 148.2h2M256.0 134.2h2M253.0 134.9h2M240.4 110.5h2M255.9 144.2h2M228.5 145.7h2M237.9 151.6h2M231.5 144.8h2M250.2 146.9h2M229.5 149.0h2M256.7 151.1h2M257.5 136.4h2M227.8 146.5h2M256.4 137.1h2M231.4 145.5h2M254.2 138.6h2M259.9 149.7h2M257.3 141.9h2M242.4 150.2h2M227.4 128.1h2M252.5 150.1h2M231.1 148.7h2M260.5 138.2h2" stroke="rgb(91,192,222)" stroke-opacity="0.33" stroke-width="2" fill="none"/>
<path d="M302.5 131.1h2M294.8 142.1h2M285.7 144.2h2M313.9 144.3h2M296.4 145.6h2M290.5 141.2h2M282.5 141.9h2M308.4 145.3h2M294.8 148.1h2M283.4 150.9h2M283.9 144.7h2M301.9 150.5h2M288.0 99.5h2M294.4 139.3h2M291.9 98.4h2M294.7 139.2h2M287.9 140.5h2M294.4 144.6h2M305.2 125.4h2M301.8 127.7h2M285.3 147.0h2M312.5 130.0h2M303.4 132.3h2M296.7 138.0h2M304.8 130.5h2M284.9 147.1h2M299.6 143.2h2M305.3 147.2h2M296.8 143.9h2M288.7 147.2h2M298.4 149.6h2M312.5 144.4h2M291.3 125.3h2M291.1 131.7h2M307.0 150.5h2M310.1 140.8h2M298.1 137.6h2M285.3 140.4h2M308.6 132.6h2M280.4 145.3h2M284.8 138.4h2M287.2 148.5h2M297.7 142.6h2" stroke="rgb(235,80,60)" stroke-opacity="0.33" stroke-width="2" fill="none"/>
<path d="M284.6 136.6h2M309.1 148.9h2M288.6 151.1h2M302.8 147.6h2M298.6 147.9h2M299.8 133.1h2M312.0 135.0h2M293.8 126.2h2M300.8 140.4h2M284.3 148.7h2M302.7 145.9h2M291.1 130.7h2M308.6 140.5h2M305.4 141.2h2M301.9 139.3h2M313.4 148.0h2M302.8 150.3h2M288.4 127.5h2M307.3 125.6h2M284.3 138.5h2M302.1 141.4h2M297.0 141.8h2M284.1 122.5h2M302.8 146.9h2M288.1 141.0h2M287.7 140.2h2M280.7 151.2h2M285.3 148.3h2M311.1 144.0h2M286.2 131.7h2M284.5 143.9h2M312.9 148.8h2M312.0 145.9h2M292.7 122.4h2M310.2 147.0h2M302.9 145.6h2M306.5 144.3h2M302.6 150.6h2M300.6 150.7h2M314.0 148.8h2M295.9 147.9h2M312.2 147.4h2M296.2 137.7h2" stroke="rgb(235,80,60)" stroke-opacity="0.33" stroke-width="2" fill="none"/>
<path d="M282.6 148.9h2M298.3 128.8h2M293.0 147.7h2M293.2 146.0h2M306.0 147.3h2M291.5 132.5h2M284.9 144.3h2M299.8 136.3h2M299.5 144.0h2M280.6 150.2h2M292.5 131.9h2M310.0 145.4h2M312.0 127.5h2M300.8 148.4h2M298.2 145.2h2M285.1 150.0h2M307.5 146.4h2M280.8 142.9h2M301.6 150.2h2M285.1 135.8h2M307.0 140.2h2M310.6 150.9h2M285.3 148.0h2M282.4 143.5h2M296.7 148.9h2M313.4 131.2h2M311.9 143.3h2M301.0 146.5h2M285.0 138.8h2M307.4 135.3h2M297.0 114.7h2M285.2 151.3h2M309.8 135.6h2M298.1 151.2h2M283.1 151.3h2M310.5 128.1h2M311.9 148.5h2M281.5 151.5h2M289.7 150.1h2M289.9 146.8h2M289.0 149.6h2M292.2 137.8h2M309.9 128.5h2" stroke="rgb(235,80,60)" stroke-opacity="0.33" stroke-width="2" fill="none"/>
<path d="M301.8 145.6h2M299.8 129.6h2M289.7 142.4h2M290.4 131.7h2M287.2 142.2h2M306.3 144.9h2M298.4 147.1h2M294.4 145.9h2M297.9 135.5h2M292.6 147.5h2M308.2 146.1h2M310.4 145.7h2M313.5 142.2h2M292.1 143.9h2M304.3 140.3h2M307.4 145.5h2M294.2 119.4h2M292.3 124.7h2M284.2 149.7h2M290.8 150.7h2M308.0 148.0h2M291.2 139.2h2M287.5 139.1h2M307.6 146.8h2M289.4 144.4h2M314.3 145.0h2M293.2 150.8h2M306.5 148.7h2M298.2 147.8h2M299.1 146.2h2M292.2 139.6h2M284.7 149.1h2M283.1 125.3h2M311.5 151.0h2M281.0 145.8h2M292.6 148.5h2M283.9 134.1h2M306.9 145.2h2M285.9 138.9h2M290.3 143.5h2M312.0 142.7h2M293.8 141.8h2M300.8 149.6h2" stroke="rgb(235,80,60)" stroke-opacity="0.33" stroke-width="2" fill="none"/>
<path d="M312.5 137.7h2M284.3 144.3h2M311.1 151.2h2M291.8 144.3h2M298.9 144.2h2M282.1 145.3h2M299.9 145.5h2M281.9 142.0h2M305.8 143.4h2M310.1 140.2h2M292.8 139.9h2M310.9 150.1h2M301.0 131.9h2M288.1 118.6h2M305.9 139.2h2M290.3 129.0h2M307.3 141.2h2M306.0 129.2h2M309.6 145.8h2M309.1 127.3h2M302.9 143.1h2M294.0 100.3h2M310.6 126.1h2M283.2 145.1h2M296.0 149.3h2M312.8 145.7h2M281.7 145.7h2M308.8 147.2h2M306.9 137.2h2M305.0 133.0h2M307.4 144.0h2M310.3 124.0h2M296.5 150.0h2M309.6 150.4h2M298.9 141.1h2M311.2 131.1h2M301.7 151.2h2M284.8 139.0h2M291.3 150.0h2M307.4 127.4h2M296.1 149.9h2M297.7 149.3h2M310.4 148.9h2" stroke="rgb(235,80,60)" stroke-opacity="0.33" stroke-width="2" fill="none"/>
<path d="M304.6 144.0h2M305.4 142.3h2M304.9 148.3h2M289.3 150.4h2M283.8 150.6h2M287.2 145.8h2M309.3 144.4h2M287.7 147.2h2M285.6 123.6h2M283.8 144.0h2M285.3 111.6h2M303.3 130.2h2M284.0 148.1h2M312.6 149.2h2M281.4 136.7h2M299.3 150.7h2M299.7 144.9h2M281.6 137.9h2M301.9 149.4h2M297.5 144.8h2M312.1 147.4h2M300.6 130.6h2M286.6 125.3h2M304.5 135.6h2M281.8 137.4h2M284.6 129.4h2M311.6 139.3h2M295.3 130.8h2M292.8 132.1h2M293.9 144.6h2M300.0 149.1h2M302.5 150.7h2M306.9 124.5h2M291.6 128.8h2M311.3 144.0h2M299.1 143.5h2M309.0 144.0h2M312.8 148.8h2M281.8 149.4h2M290.2 150.0h2M294.1 135.8h2M309.7 146.1h2M312.5 150.2h2" stroke="rgb(235,80,60)" stroke-opacity="0.33" stroke-width="2" fill="none"/>
<path d="M291.5 141.1h2M285.8 126.0h2M291.1 146.5h2M291.7 145.4h2M294.5 145.3h2M311.2 144.9h2M300.5 149.7h2M300.9 145.1h2M288.6 108.9h2M287.6 137.5h2M286.0 148.5h2M286.7 121.7h2M312.2 130.9h2M310.2 139.4h2M285.8 143.9h2M311.3 144.6h2M305.7 148.7h2M280.5 102.2h2M305.9 149.1h2M289.6 146.7h2M301.7 150.0h2M292.5 151.0h2M280.9 146.8h2M310.4 146.7h2M299.5 146.2h2M304.5 147.7h2M294.0 147.0h2M304.5 132.7h2M283.7 127.5h2M303.1 151.1h2M306.0 147.2h2M312.6 138.5h2M307.8 138.8h2M296.5 145.1h2M285.4 133.0h2M313.5 148.2h2M293.1 138.9h2M304.2 147.7h2M293.5 124.3h2M313.7 141.2h2M293.9 149.6h2M299.4 119.9h2" stroke="rgb(235,80,60)" stroke-opacity="0.33" stroke-width="2" fill="none"/>
<path d="M285.3 144.8h2M291.6 131.4h2M289.5 149.9h2M301.4 150.5h2M289.2 118.3h2M281.4 145.2h2M299.5 137.8h2M295.1 148.2h2M306.8 136.5h2M305.1 141.8h2M308.7 140.3h2M290.7 135.6h2M300.4 151.5h2M283.3 125.5h2M296.5 144.3h2M294.2 144.3h2M288.6 147.3h2M294.4 141.8h2M297.8 127.5h2M292.4 126.9h2M304.3 134.4h2M303.3 145.5h2M306.1 148.9h2M308.1 138.8h2M294.2 142.1h2M283.1 143.7h2M286.2 144.6h2M301.7 139.0h2M281.3 149.3h2M294.9 147.2h2M284.7 145.1h2M287.3 134.0h2M282.3 147.4h2M314.1 150.6h2M285.9 140.6h2M300.5 123.8h2M296.4 147.8h2M310.9 151.0h2M291.1 134.5h2M281.0 120.0h2M284.8 146.9h2M305.7 130.1h2" stroke="rgb(235,80,60)" stroke-opacity="0.33" stroke-width="2" fill="none"/>
<path d="M244.6 37.5h1.2M244.6 95.3h1.2M244.6 116.3h1.2M244.6 112.5h1.2M244.6 111.1h1.2M297.8 98.4h1.2M297.8 119.4h1.2M297.8 102.2h1.2M297.8 99.5h1.2M297.8 108.9h1.2M297.8 118.6h1.2" stroke="#111" stroke-width="1.0" fill="none"/>
<use href="#vB0" fill="none" stroke="#000" stroke-width="1.05"/>
<use href="#vB1" fill="none" stroke="#000" stroke-width="1.05"/>
<line x1="236.00" y1="142.56" x2="254.40" y2="142.56" stroke="#000" stroke-width="1.25"/>
<rect x="241.10" y="141.21" width="8.2" height="2.70" fill="#1a1a1a" fill-opacity="0.85"/>
<line x1="245.20" y1="141.21" x2="245.20" y2="143.91" stroke="#000" stroke-width="0.6"/>
<line x1="289.60" y1="143.54" x2="307.20" y2="143.54" stroke="#000" stroke-width="1.25"/>
<rect x="294.30" y="142.19" width="8.2" height="2.70" fill="#1a1a1a" fill-opacity="0.85"/>
<line x1="298.40" y1="142.19" x2="298.40" y2="144.89" stroke="#000" stroke-width="0.6"/>
<path d="M213.00,27.50 L213.00,157.30 L330.30,157.30" fill="none" stroke="#111" stroke-width="0.9"/>
<line x1="210.20" y1="151.40" x2="213.00" y2="151.40" stroke="#111" stroke-width="0.8"/>
<text x="207.50" y="153.71" font-size="6.6" text-anchor="end" fill="#222">0.0</text>
<line x1="210.20" y1="131.76" x2="213.00" y2="131.76" stroke="#111" stroke-width="0.8"/>
<text x="207.50" y="134.07" font-size="6.6" text-anchor="end" fill="#222">0.2</text>
<line x1="210.20" y1="112.12" x2="213.00" y2="112.12" stroke="#111" stroke-width="0.8"/>
<text x="207.50" y="114.43" font-size="6.6" text-anchor="end" fill="#222">0.4</text>
<line x1="210.20" y1="92.48" x2="213.00" y2="92.48" stroke="#111" stroke-width="0.8"/>
<text x="207.50" y="94.79" font-size="6.6" text-anchor="end" fill="#222">0.6</text>
<line x1="210.20" y1="72.84" x2="213.00" y2="72.84" stroke="#111" stroke-width="0.8"/>
<text x="207.50" y="75.15" font-size="6.6" text-anchor="end" fill="#222">0.8</text>
<line x1="210.20" y1="53.20" x2="213.00" y2="53.20" stroke="#111" stroke-width="0.8"/>
<text x="207.50" y="55.51" font-size="6.6" text-anchor="end" fill="#222">1.0</text>
<line x1="210.20" y1="33.56" x2="213.00" y2="33.56" stroke="#111" stroke-width="0.8"/>
<text x="207.50" y="35.87" font-size="6.6" text-anchor="end" fill="#222">1.2</text>
<line x1="245.20" y1="157.30" x2="245.20" y2="160.10" stroke="#111" stroke-width="0.8"/>
<text x="245.20" y="167.70" font-size="6.6" text-anchor="middle" fill="#222">G1&amp;G2</text>
<line x1="298.40" y1="157.30" x2="298.40" y2="160.10" stroke="#111" stroke-width="0.8"/>
<text x="298.40" y="167.70" font-size="6.6" text-anchor="middle" fill="#222">G3&amp;G4</text>
<text x="243.69" y="177.50" font-size="8.6" textLength="55.93" lengthAdjust="spacingAndGlyphs" fill="#111">Histologic grade</text>
<text transform="translate(183.20,92.40) rotate(-90)" font-size="7.8" text-anchor="middle" fill="#111">The expression of TMC2</text>
<text transform="translate(191.50,117.00) rotate(-90)" font-size="8.4" fill="#111">Log<tspan font-size="6" dy="2.3">2</tspan><tspan font-size="7.6" dy="-2.3"> (TPM+1)</tspan></text>
<path d="M245.20,35.80 L245.20,33.30 L298.40,33.30 L298.40,35.80" fill="none" stroke="#111" stroke-width="0.85"/>
<text x="271.80" y="32.00" font-size="6.5" text-anchor="middle" fill="#222">ns</text>
<text x="352.7" y="15.0" font-size="16.3" >C</text>
<defs><path id="vC0" d="M429.7 151.7 433.7 151.4 436.7 151.1 439.3 150.6 440.4 150.0 438.5 149.5 434.7 148.9 430.5 148.6 426.7 148.2 424.4 147.6 423.1 147.0 422.2 146.3 421.6 145.6 421.1 144.9 420.6 144.2 420.2 143.5 419.8 142.8 419.4 142.2 419.0 141.5 418.7 140.9 418.5 140.2 418.4 139.6 418.3 139.0 418.2 138.4 418.1 137.8 418.0 137.2 418.0 136.6 418.0 135.9 418.0 135.2 418.0 134.5 418.0 133.7 418.0 133.0 418.0 132.3 418.0 131.6 418.0 130.9 418.0 130.2 418.0 129.5 418.0 128.8 418.0 128.1 418.0 127.4 418.0 126.7 417.9 126.0 417.9 125.3 417.9 124.5 417.9 123.8 417.9 123.1 417.9 122.4 417.9 121.7 417.9 121.0 417.9 120.3 417.9 119.6 417.9 118.9 417.9 118.2 417.9 117.5 417.9 116.8 417.9 116.1 417.9 115.3 417.9 114.6 417.9 113.9 417.9 113.2 417.9 112.5 417.9 111.8 417.9 111.1 417.9 110.4 417.9 109.7 417.9 109.0 417.9 108.3 417.9 107.6 417.9 106.9 417.9 106.2 417.9 105.4 417.9 104.7 417.9 104.0 417.9 103.3 417.9 102.6 417.9 101.9 417.9 101.2 417.9 100.5 417.9 99.8 417.9 99.1 417.9 98.4 417.9 97.7 417.9 97.0 417.9 96.2 417.9 95.5 417.9 94.8 417.9 94.1 417.9 93.4 417.9 92.7 417.9 92.0 417.9 91.3 417.9 90.6 417.9 89.9 417.9 89.2 417.9 88.5 417.9 87.8 417.9 87.0 417.9 86.3 417.9 85.6 417.9 84.9 417.9 84.2 417.9 83.5 417.9 82.8 417.9 82.1 417.9 81.4 417.9 80.7 417.9 80.0 417.9 79.3 417.9 78.6 417.9 77.8 417.9 77.1 417.9 76.4 417.9 75.7 417.9 75.0 417.9 74.3 417.9 73.6 417.9 72.9 417.9 72.2 417.9 71.5 417.9 70.8 417.9 70.1 417.9 69.4 417.9 68.6 417.9 67.9 417.9 67.2 417.8 66.5 417.6 66.5 417.5 67.2 417.5 67.9 417.5 68.6 417.5 69.4 417.5 70.1 417.5 70.8 417.5 71.5 417.5 72.2 417.5 72.9 417.5 73.6 417.5 74.3 417.5 75.0 417.5 75.7 417.5 76.4 417.5 77.1 417.5 77.8 417.5 78.6 417.5 79.3 417.5 80.0 417.5 80.7 417.5 81.4 417.5 82.1 417.5 82.8 417.5 83.5 417.5 84.2 417.5 84.9 417.5 85.6 417.5 86.3 417.5 87.0 417.5 87.8 417.5 88.5 417.5 89.2 417.5 89.9 417.5 90.6 417.5 91.3 417.5 92.0 417.5 92.7 417.5 93.4 417.5 94.1 417.5 94.8 417.5 95.5 417.5 96.2 417.5 97.0 417.5 97.7 417.5 98.4 417.5 99.1 417.5 99.8 417.5 100.5 417.5 101.2 417.5 101.9 417.5 102.6 417.5 103.3 417.5 104.0 417.5 104.7 417.5 105.4 417.5 106.2 417.5 106.9 417.5 107.6 417.5 108.3 417.5 109.0 417.5 109.7 417.5 110.4 417.5 111.1 417.5 111.8 417.5 112.5 417.5 113.2 417.5 113.9 417.5 114.6 417.5 115.3 417.5 116.1 417.5 116.8 417.5 117.5 417.5 118.2 417.5 118.9 417.5 119.6 417.5 120.3 417.5 121.0 417.5 121.7 417.5 122.4 417.5 123.1 417.5 123.8 417.5 124.5 417.5 125.3 417.5 126.0 417.4 126.7 417.4 127.4 417.4 128.1 417.4 128.8 417.4 129.5 417.4 130.2 417.4 130.9 417.4 131.6 417.4 132.3 417.4 133.0 417.4 133.7 417.4 134.5 417.4 135.2 417.4 135.9 417.4 136.6 417.4 137.2 417.3 137.8 417.2 138.4 417.1 139.0 417.0 139.6 416.9 140.2 416.7 140.9 416.4 141.5 416.0 142.2 415.6 142.8 415.2 143.5 414.8 144.2 414.3 144.9 413.8 145.6 413.2 146.3 412.3 147.0 411.0 147.6 408.7 148.2 404.9 148.6 400.7 148.9 396.9 149.5 395.0 150.0 396.1 150.6 398.7 151.1 401.7 151.4 405.7 151.7Z"/></defs><use href="#vC0" fill="#a9dcea"/>
<defs><path id="vC1" d="M487.3 151.1 489.5 150.7 490.9 150.4 491.2 149.9 491.3 149.5 490.5 148.8 488.9 148.2 487.0 147.7 484.9 147.1 483.4 146.7 481.9 146.2 480.2 145.7 478.9 145.3 477.9 144.6 477.3 143.8 476.8 142.9 476.4 142.0 475.9 141.1 475.4 140.2 474.9 139.5 474.5 138.8 474.4 138.0 474.3 137.2 474.2 136.4 474.2 135.6 474.2 134.8 474.2 133.8 474.2 132.9 474.2 131.9 474.2 131.0 474.2 130.0 474.2 129.1 474.2 128.1 474.2 127.2 474.2 126.2 474.2 125.2 474.2 124.3 474.2 123.3 474.2 122.4 474.2 121.4 474.1 120.5 474.1 119.5 474.1 118.6 474.1 117.6 474.1 116.7 474.1 115.7 474.1 114.8 474.1 113.8 474.1 112.9 474.1 111.9 474.1 111.0 474.1 110.0 474.1 109.1 474.1 108.1 474.1 107.2 474.1 106.2 474.1 105.3 474.1 104.3 474.1 103.4 474.1 102.4 474.1 101.5 474.1 100.5 474.1 99.6 474.1 98.6 474.1 97.7 474.1 96.7 474.1 95.8 474.1 94.8 474.1 93.8 474.1 92.9 474.1 91.9 474.1 91.0 474.1 90.0 474.1 89.1 474.1 88.1 474.1 87.2 474.1 86.2 474.1 85.3 474.1 84.3 474.1 83.4 474.1 82.4 474.1 81.5 474.1 80.5 474.1 79.6 474.1 78.6 474.1 77.7 474.1 76.7 474.1 75.8 474.1 74.8 474.1 73.9 474.1 72.9 474.1 72.0 474.1 71.0 474.1 70.1 474.1 69.1 474.1 68.2 474.1 67.2 474.1 66.3 474.1 65.3 474.1 64.4 474.1 63.4 474.1 62.4 474.1 61.5 474.1 60.5 474.1 59.6 474.1 58.6 474.1 57.7 474.1 56.7 474.1 55.8 474.1 54.8 474.1 53.9 474.1 52.9 474.1 52.0 474.1 51.0 474.1 50.1 474.1 49.1 474.1 48.2 474.1 47.2 474.1 46.3 474.1 45.3 474.1 44.4 474.1 43.4 474.1 42.5 474.1 41.5 474.1 40.6 474.1 39.6 474.1 38.7 474.1 37.7 474.0 36.8 473.8 36.8 473.7 37.7 473.7 38.7 473.7 39.6 473.7 40.6 473.7 41.5 473.7 42.5 473.7 43.4 473.7 44.4 473.7 45.3 473.7 46.3 473.7 47.2 473.7 48.2 473.7 49.1 473.7 50.1 473.7 51.0 473.7 52.0 473.7 52.9 473.7 53.9 473.7 54.8 473.7 55.8 473.7 56.7 473.7 57.7 473.7 58.6 473.7 59.6 473.7 60.5 473.7 61.5 473.7 62.4 473.7 63.4 473.7 64.4 473.7 65.3 473.7 66.3 473.7 67.2 473.7 68.2 473.7 69.1 473.7 70.1 473.7 71.0 473.7 72.0 473.7 72.9 473.7 73.9 473.7 74.8 473.7 75.8 473.7 76.7 473.7 77.7 473.7 78.6 473.7 79.6 473.7 80.5 473.7 81.5 473.7 82.4 473.7 83.4 473.7 84.3 473.7 85.3 473.7 86.2 473.7 87.2 473.7 88.1 473.7 89.1 473.7 90.0 473.7 91.0 473.7 91.9 473.7 92.9 473.7 93.8 473.7 94.8 473.7 95.8 473.7 96.7 473.7 97.7 473.7 98.6 473.7 99.6 473.7 100.5 473.7 101.5 473.7 102.4 473.7 103.4 473.7 104.3 473.7 105.3 473.7 106.2 473.7 107.2 473.7 108.1 473.7 109.1 473.7 110.0 473.7 111.0 473.7 111.9 473.7 112.9 473.7 113.8 473.7 114.8 473.7 115.7 473.7 116.7 473.7 117.6 473.7 118.6 473.7 119.5 473.7 120.5 473.6 121.4 473.6 122.4 473.6 123.3 473.6 124.3 473.6 125.2 473.6 126.2 473.6 127.2 473.6 128.1 473.6 129.1 473.6 130.0 473.6 131.0 473.6 131.9 473.6 132.9 473.6 133.8 473.6 134.8 473.6 135.6 473.6 136.4 473.5 137.2 473.4 138.0 473.3 138.8 472.9 139.5 472.4 140.2 471.9 141.1 471.4 142.0 471.0 142.9 470.5 143.8 469.9 144.6 468.9 145.3 467.6 145.7 465.9 146.2 464.4 146.7 462.9 147.1 460.8 147.7 458.9 148.2 457.3 148.8 456.5 149.5 456.6 149.9 456.9 150.4 458.3 150.7 460.5 151.1Z"/></defs><use href="#vC1" fill="#f3a69b"/>
<path d="M410.8 145.8h2M418.4 148.9h2M413.9 150.5h2M416.4 150.7h2M426.6 150.0h2M414.0 149.7h2M401.0 149.8h2M430.1 146.8h2M433.5 149.5h2M429.0 150.2h2M421.3 151.5h2M427.4 148.1h2M413.2 149.3h2M427.3 148.7h2M418.0 148.9h2M427.1 134.3h2M432.6 151.4h2M432.0 149.9h2M425.1 151.1h2M413.2 151.5h2M401.6 151.6h2M409.0 141.4h2M424.2 143.6h2M414.9 149.4h2M431.9 151.7h2M416.2 151.1h2M400.4 150.6h2M408.9 148.1h2M421.8 149.5h2M419.0 150.0h2M415.8 146.4h2M415.1 151.0h2M431.8 148.5h2M419.6 150.2h2M433.1 151.2h2M408.4 151.0h2M433.2 151.2h2M416.2 150.5h2M425.0 138.5h2M408.3 151.4h2M407.0 149.5h2M403.0 132.2h2M426.2 148.8h2" stroke="rgb(91,192,222)" stroke-opacity="0.33" stroke-width="2" fill="none"/>
<path d="M428.3 151.0h2M423.8 150.0h2M422.8 148.4h2M425.6 148.3h2M401.8 151.5h2M400.6 149.2h2M414.5 144.7h2M424.3 148.8h2M411.3 148.4h2M421.7 147.1h2M403.8 148.8h2M429.6 148.6h2M401.2 148.7h2M420.1 148.1h2M419.1 149.7h2M413.8 144.6h2M417.2 150.7h2M413.6 149.5h2M429.2 149.9h2M423.4 150.1h2M420.7 144.6h2M401.0 150.7h2M416.7 149.0h2M414.6 146.5h2M418.2 150.7h2M400.0 143.7h2M428.4 150.4h2M426.4 148.0h2M406.9 149.7h2M424.5 148.5h2M430.5 150.6h2M407.6 150.7h2M400.2 151.8h2M423.1 146.9h2M425.2 150.8h2M432.6 150.7h2M402.5 99.1h2M417.2 148.4h2M411.8 149.4h2M423.7 149.7h2M419.7 149.0h2M414.2 149.1h2M419.3 148.9h2" stroke="rgb(91,192,222)" stroke-opacity="0.33" stroke-width="2" fill="none"/>
<path d="M411.7 145.2h2M406.1 150.5h2M415.8 150.5h2M412.9 150.6h2M413.1 150.6h2M417.7 149.7h2M420.9 149.9h2M400.9 151.8h2M425.3 149.5h2M410.6 149.0h2M419.8 149.9h2M403.0 149.7h2M408.7 149.5h2M400.9 149.6h2M425.2 150.6h2M414.7 150.6h2M432.9 151.0h2M419.2 150.4h2M409.1 150.2h2M433.3 150.3h2M433.0 148.3h2M428.9 148.1h2M420.7 151.4h2M417.2 142.1h2M409.5 150.6h2M407.6 151.1h2M403.7 141.5h2M427.2 145.2h2M402.3 148.8h2M411.7 150.2h2M422.0 149.2h2M400.2 143.0h2M401.8 148.0h2M403.7 150.7h2M426.8 149.8h2M421.4 148.7h2M404.2 151.6h2M417.1 151.6h2M422.9 149.3h2M432.0 148.4h2M402.7 151.2h2M426.9 149.2h2M426.0 148.5h2" stroke="rgb(91,192,222)" stroke-opacity="0.33" stroke-width="2" fill="none"/>
<path d="M418.7 149.9h2M416.3 145.6h2M420.0 149.1h2M402.6 146.6h2M414.3 149.5h2M410.6 143.7h2M407.7 147.2h2M400.4 147.1h2M404.5 151.9h2M426.0 145.9h2M410.7 141.6h2M422.2 150.0h2M411.9 150.7h2M410.7 150.6h2M408.9 150.3h2M420.7 150.7h2M400.0 66.5h2M413.1 82.0h2M425.8 147.5h2M428.7 150.0h2M405.3 147.8h2M428.6 150.7h2M407.7 150.3h2M421.8 148.7h2M418.3 150.6h2M420.3 150.2h2M417.6 150.4h2M432.2 149.0h2M413.6 150.2h2M428.0 150.5h2M421.7 142.3h2M409.8 151.4h2M400.7 140.9h2M404.7 146.6h2M403.5 149.8h2M409.3 150.0h2M411.0 117.3h2M400.4 149.1h2M399.9 151.7h2M422.7 148.6h2M431.7 150.5h2M412.6 150.5h2M429.7 147.6h2" stroke="rgb(91,192,222)" stroke-opacity="0.33" stroke-width="2" fill="none"/>
<path d="M413.6 151.1h2M423.5 151.4h2M431.4 146.0h2M429.4 150.4h2M432.3 146.0h2M402.5 148.3h2M420.8 151.3h2M417.4 151.5h2M426.1 149.7h2M414.3 148.5h2M409.4 149.8h2M430.7 143.1h2M431.6 148.9h2M418.5 150.6h2M404.3 148.6h2M428.1 146.9h2M433.4 148.6h2M420.0 151.5h2M415.4 148.4h2M419.9 151.4h2M428.6 151.3h2M411.6 149.1h2M429.5 148.9h2M429.0 149.6h2M409.5 150.8h2M413.2 151.3h2M421.8 149.2h2M416.7 150.1h2M425.5 151.5h2M415.7 149.6h2M403.5 150.8h2M416.6 151.5h2M401.6 150.9h2M415.5 150.2h2M425.1 151.1h2M405.2 151.1h2M413.3 148.1h2M403.6 150.2h2M404.9 149.1h2M427.8 148.5h2M408.8 144.6h2M403.4 148.2h2M413.8 150.0h2" stroke="rgb(91,192,222)" stroke-opacity="0.33" stroke-width="2" fill="none"/>
<path d="M400.5 150.8h2M401.4 150.4h2M417.0 151.5h2M411.3 150.0h2M408.7 151.5h2M421.6 149.2h2M405.7 148.7h2M400.8 144.1h2M427.2 145.9h2M400.4 150.4h2M420.5 151.1h2M426.5 150.9h2M419.9 149.7h2M413.4 146.2h2M430.1 142.2h2M402.3 150.3h2M409.6 145.0h2M413.9 147.6h2M401.6 150.2h2M413.4 150.3h2M415.1 151.6h2M431.9 151.3h2M422.0 150.2h2M415.7 149.8h2M431.3 150.4h2M417.8 149.0h2M433.1 147.6h2M416.7 150.4h2M419.1 149.8h2M411.8 143.6h2M400.3 100.8h2M433.6 149.9h2M414.2 149.8h2M400.6 149.3h2M403.7 145.0h2M400.1 150.5h2M423.8 150.3h2M431.6 149.8h2M424.9 150.7h2M424.9 151.1h2M427.0 147.6h2M413.2 150.4h2M425.5 146.1h2" stroke="rgb(91,192,222)" stroke-opacity="0.33" stroke-width="2" fill="none"/>
<path d="M428.1 151.1h2M421.4 147.2h2M415.9 150.7h2M400.7 149.8h2M432.7 114.2h2M422.7 148.4h2M430.1 149.5h2M405.8 149.8h2M408.1 147.4h2M427.3 150.9h2M416.8 151.0h2M430.7 149.0h2M418.7 148.5h2M424.7 148.4h2M411.8 151.7h2M431.4 149.6h2M430.3 149.0h2M416.2 148.6h2M416.7 147.9h2M418.6 125.7h2M416.0 149.4h2M405.5 149.5h2M412.4 150.8h2M430.8 142.6h2M426.0 148.8h2M404.2 148.5h2M420.1 151.9h2M408.9 151.1h2M405.3 149.0h2M411.1 148.8h2M400.6 149.0h2M402.2 145.9h2M401.4 146.0h2M424.6 149.7h2M425.6 149.1h2M416.2 150.2h2M414.8 149.4h2M414.5 124.2h2M432.8 90.7h2M413.8 149.9h2M420.7 143.7h2M433.6 150.2h2M419.3 149.7h2" stroke="rgb(91,192,222)" stroke-opacity="0.33" stroke-width="2" fill="none"/>
<path d="M432.5 145.2h2M414.6 150.0h2M414.6 146.6h2M410.6 148.1h2M415.8 148.6h2M422.7 150.5h2M419.5 145.9h2M414.3 149.2h2M408.0 145.6h2M406.1 149.2h2M424.7 150.5h2M408.3 146.1h2M426.5 149.3h2M409.9 148.9h2M400.3 145.6h2M405.3 150.1h2M419.1 127.5h2M425.6 149.7h2M408.4 151.3h2M418.1 145.5h2M429.0 149.0h2M423.0 151.5h2M414.4 142.1h2M431.0 150.2h2M430.4 151.8h2M419.3 146.4h2M406.8 142.9h2M410.7 150.2h2M422.6 150.2h2M415.1 148.2h2M418.3 150.0h2M430.9 141.5h2M426.0 148.3h2M415.4 150.9h2M416.6 120.1h2M400.9 142.3h2M409.6 150.5h2M420.5 150.7h2M423.7 150.3h2M412.1 146.1h2M409.9 149.4h2M424.9 150.6h2M407.6 149.8h2" stroke="rgb(91,192,222)" stroke-opacity="0.33" stroke-width="2" fill="none"/>
<path d="M480.3 149.7h2M473.4 149.8h2M488.2 150.8h2M487.3 149.2h2M461.3 149.8h2M465.8 141.8h2M489.1 143.0h2M481.8 149.6h2M460.2 142.1h2M483.6 142.7h2M481.9 150.2h2M460.6 147.8h2M489.3 147.1h2M482.8 150.7h2M457.3 149.7h2M476.4 147.8h2M471.1 150.4h2M476.4 142.5h2M458.2 145.5h2M468.7 150.2h2M479.1 148.0h2M467.5 149.7h2M475.0 148.5h2M476.7 143.8h2M470.8 147.5h2M471.1 149.3h2M482.4 150.6h2M456.9 149.3h2M468.7 138.9h2M468.6 150.1h2M476.1 146.4h2M476.1 141.6h2M488.8 147.7h2M468.4 150.4h2M489.5 143.9h2M465.8 150.2h2M484.3 150.1h2M463.8 150.1h2M485.2 150.8h2M486.7 145.3h2M469.7 147.5h2M474.9 150.7h2M467.4 146.4h2M483.9 148.2h2" stroke="rgb(235,80,60)" stroke-opacity="0.33" stroke-width="2" fill="none"/>
<path d="M462.8 149.4h2M460.2 148.6h2M484.1 147.6h2M461.7 146.1h2M484.4 141.6h2M476.7 150.1h2M487.3 149.0h2M466.0 142.6h2M479.2 148.0h2M489.7 150.8h2M466.4 143.9h2M476.5 151.1h2M476.1 146.4h2M472.9 72.3h2M482.8 144.5h2M456.8 148.2h2M464.5 149.8h2M476.1 150.3h2M458.8 149.5h2M478.2 148.8h2M467.8 150.0h2M472.6 151.0h2M476.9 134.2h2M478.8 148.3h2M463.7 148.3h2M460.3 145.5h2M464.9 147.9h2M475.8 135.4h2M459.0 149.0h2M464.8 151.1h2M486.6 147.1h2M466.9 150.5h2M472.0 148.2h2M484.3 150.4h2M488.9 151.1h2M470.5 149.7h2M478.0 147.5h2M476.0 90.3h2M458.5 150.6h2M475.5 149.2h2M468.7 149.9h2M486.0 144.5h2M482.9 149.1h2M479.2 148.0h2" stroke="rgb(235,80,60)" stroke-opacity="0.33" stroke-width="2" fill="none"/>
<path d="M475.1 148.1h2M470.7 149.8h2M462.1 151.0h2M459.2 150.2h2M478.2 150.1h2M464.8 144.3h2M477.0 142.0h2M464.4 147.9h2M479.6 144.6h2M479.6 146.2h2M480.8 147.6h2M463.3 146.7h2M478.8 148.0h2M466.6 149.9h2M464.7 144.7h2M459.7 150.7h2M473.1 150.6h2M473.2 148.5h2M458.3 145.6h2M475.6 125.5h2M479.2 146.0h2M480.0 151.1h2M457.3 150.9h2M471.9 142.3h2M468.2 145.3h2M468.2 150.0h2M471.5 149.0h2M472.9 147.4h2M489.0 141.7h2M482.8 145.6h2M468.4 150.6h2M460.3 150.9h2M463.9 150.2h2M485.0 147.6h2M469.6 149.6h2M470.0 148.4h2M488.6 144.4h2M456.4 150.3h2M466.4 150.4h2M459.7 144.8h2M476.0 150.1h2M471.0 150.5h2M478.6 145.3h2M488.1 149.0h2" stroke="rgb(235,80,60)" stroke-opacity="0.33" stroke-width="2" fill="none"/>
<path d="M467.6 128.6h2M465.6 149.7h2M472.0 146.3h2M478.0 128.1h2M472.9 114.3h2M460.0 144.4h2M458.0 149.0h2M473.3 147.2h2M478.9 143.0h2M462.9 149.8h2M466.6 149.2h2M489.9 147.8h2M472.5 149.1h2M476.7 147.7h2M458.9 145.9h2M459.4 143.7h2M457.3 147.3h2M483.5 149.1h2M488.1 150.6h2M464.1 150.1h2M485.6 147.8h2M469.3 149.6h2M483.3 148.2h2M465.0 150.4h2M484.8 149.0h2M473.7 149.4h2M468.6 149.6h2M487.4 148.2h2M479.6 147.2h2M480.6 151.3h2M474.7 149.8h2M483.4 140.0h2M486.7 150.0h2M459.9 145.1h2M460.4 143.8h2M467.2 148.4h2M472.6 144.3h2M473.5 146.6h2M466.6 148.0h2M471.8 145.8h2M470.1 150.0h2M489.3 147.3h2M462.9 116.9h2M469.7 149.3h2" stroke="rgb(235,80,60)" stroke-opacity="0.33" stroke-width="2" fill="none"/>
<path d="M462.0 151.0h2M482.7 148.2h2M466.4 148.2h2M461.4 142.8h2M472.7 149.1h2M482.2 147.2h2M483.6 147.1h2M486.0 143.8h2M461.5 147.4h2M458.6 148.3h2M464.9 148.9h2M471.7 140.1h2M470.9 149.7h2M456.1 147.6h2M478.7 149.2h2M468.4 142.6h2M467.0 146.7h2M474.1 149.1h2M475.6 150.3h2M466.7 148.2h2M465.1 149.7h2M469.1 147.2h2M477.1 146.5h2M456.9 150.0h2M486.7 148.4h2M484.8 149.3h2M474.1 150.6h2M466.0 150.2h2M485.1 150.1h2M472.8 150.4h2M464.9 149.1h2M475.2 147.1h2M458.4 143.7h2M460.0 149.4h2M470.2 150.0h2M486.4 149.9h2M475.2 146.2h2M479.5 149.9h2M472.8 148.5h2M474.7 143.2h2M481.8 150.8h2M458.7 149.7h2M485.4 150.0h2M472.4 148.4h2" stroke="rgb(235,80,60)" stroke-opacity="0.33" stroke-width="2" fill="none"/>
<path d="M479.5 83.6h2M468.6 149.0h2M487.4 149.9h2M460.6 140.7h2M479.8 144.9h2M461.9 149.7h2M481.9 149.5h2M487.3 144.1h2M462.1 148.8h2M480.2 107.6h2M484.9 151.3h2M458.3 123.1h2M471.5 143.2h2M459.7 149.1h2M479.8 149.1h2M471.7 143.3h2M471.9 150.8h2M469.0 150.4h2M457.1 148.7h2M486.0 149.0h2M472.2 145.0h2M477.5 150.0h2M478.3 87.3h2M484.2 151.1h2M461.9 105.0h2M471.9 150.1h2M488.8 143.0h2M463.2 139.3h2M476.5 143.3h2M486.0 146.9h2M487.0 146.2h2M489.9 148.8h2M471.2 149.6h2M457.7 151.1h2M465.9 145.9h2M462.2 143.7h2M466.2 148.5h2M479.9 149.5h2M482.4 146.2h2M481.3 147.9h2M472.4 150.1h2M481.7 142.3h2M477.8 145.5h2M475.4 112.0h2" stroke="rgb(235,80,60)" stroke-opacity="0.33" stroke-width="2" fill="none"/>
<path d="M477.0 147.9h2M461.7 147.2h2M481.1 151.0h2M462.1 142.8h2M489.7 150.4h2M462.5 148.7h2M457.7 149.5h2M460.6 136.6h2M474.7 150.5h2M470.1 145.4h2M460.4 150.5h2M489.1 149.2h2M457.3 147.2h2M473.3 150.8h2M459.6 149.8h2M486.8 150.2h2M456.6 145.7h2M468.2 149.8h2M478.8 148.6h2M478.5 146.9h2M464.8 118.4h2M478.6 150.5h2M485.9 148.8h2M487.1 149.6h2M476.8 140.2h2M464.0 139.9h2M461.2 149.2h2M457.6 150.2h2M485.4 150.1h2M466.1 149.6h2M464.5 148.5h2M473.9 143.7h2M467.0 150.0h2M476.5 132.9h2M482.2 142.3h2M474.8 147.4h2M474.7 149.6h2M464.0 36.8h2M472.5 132.2h2M484.9 151.0h2M484.0 148.4h2M472.2 144.0h2M483.1 123.8h2M461.7 148.6h2" stroke="rgb(235,80,60)" stroke-opacity="0.33" stroke-width="2" fill="none"/>
<path d="M486.7 151.1h2M473.2 148.8h2M478.8 143.1h2M466.9 150.6h2M475.4 142.5h2M460.5 148.6h2M485.8 150.8h2M474.8 151.2h2M477.2 151.1h2M481.4 145.9h2M486.5 141.5h2M466.7 149.9h2M486.1 143.6h2M479.7 149.6h2M472.8 145.1h2M457.8 150.0h2M466.4 149.7h2M463.2 150.4h2M470.7 144.8h2M464.0 149.5h2M460.5 145.1h2M465.8 142.7h2M472.0 150.0h2M477.4 149.5h2M464.3 124.3h2M474.3 147.9h2M460.0 148.5h2M487.3 148.7h2M483.1 141.8h2M473.7 142.7h2M457.6 148.7h2M462.6 148.2h2M486.4 144.8h2M482.7 150.4h2M485.4 151.0h2M476.2 148.0h2M462.1 150.7h2M488.8 149.3h2M484.8 145.8h2M461.1 142.8h2M462.2 145.2h2M457.0 149.1h2M482.5 146.7h2M471.2 150.1h2" stroke="rgb(235,80,60)" stroke-opacity="0.33" stroke-width="2" fill="none"/>
<path d="M417.1 66.5h1.2M417.1 117.3h1.2M417.1 82.0h1.2M417.1 125.7h1.2M417.1 100.8h1.2M417.1 90.7h1.2M417.1 114.2h1.2M473.3 36.8h1.2M473.3 116.9h1.2M473.3 135.4h1.2M473.3 136.6h1.2M473.3 83.6h1.2M473.3 128.6h1.2M473.3 123.1h1.2M473.3 123.8h1.2M473.3 132.9h1.2M473.3 125.5h1.2M473.3 72.3h1.2" stroke="#111" stroke-width="1.0" fill="none"/>
<use href="#vC0" fill="none" stroke="#000" stroke-width="1.05"/>
<use href="#vC1" fill="none" stroke="#000" stroke-width="1.05"/>
<line x1="407.70" y1="147.47" x2="427.70" y2="147.47" stroke="#000" stroke-width="1.25"/>
<rect x="413.60" y="146.12" width="8.2" height="2.70" fill="#1a1a1a" fill-opacity="0.85"/>
<line x1="417.70" y1="146.12" x2="417.70" y2="148.82" stroke="#000" stroke-width="0.6"/>
<line x1="463.90" y1="145.29" x2="483.90" y2="145.29" stroke="#000" stroke-width="1.25"/>
<rect x="469.80" y="143.94" width="8.2" height="2.70" fill="#1a1a1a" fill-opacity="0.85"/>
<line x1="473.90" y1="143.94" x2="473.90" y2="146.64" stroke="#000" stroke-width="0.6"/>
<path d="M384.20,27.50 L384.20,157.30 L507.00,157.30" fill="none" stroke="#111" stroke-width="0.9"/>
<line x1="381.40" y1="151.10" x2="384.20" y2="151.10" stroke="#111" stroke-width="0.8"/>
<text x="378.70" y="153.41" font-size="6.6" text-anchor="end" fill="#222">0</text>
<line x1="381.40" y1="114.80" x2="384.20" y2="114.80" stroke="#111" stroke-width="0.8"/>
<text x="378.70" y="117.11" font-size="6.6" text-anchor="end" fill="#222">1</text>
<line x1="381.40" y1="78.50" x2="384.20" y2="78.50" stroke="#111" stroke-width="0.8"/>
<text x="378.70" y="80.81" font-size="6.6" text-anchor="end" fill="#222">2</text>
<line x1="381.40" y1="42.20" x2="384.20" y2="42.20" stroke="#111" stroke-width="0.8"/>
<text x="378.70" y="44.51" font-size="6.6" text-anchor="end" fill="#222">3</text>
<line x1="417.70" y1="157.30" x2="417.70" y2="160.10" stroke="#111" stroke-width="0.8"/>
<text x="417.70" y="167.70" font-size="6.6" text-anchor="middle" fill="#222">G1&amp;G2</text>
<line x1="473.90" y1="157.30" x2="473.90" y2="160.10" stroke="#111" stroke-width="0.8"/>
<text x="473.90" y="167.70" font-size="6.6" text-anchor="middle" fill="#222">G3&amp;G4</text>
<text x="417.64" y="177.50" font-size="8.6" textLength="55.93" lengthAdjust="spacingAndGlyphs" fill="#111">Histologic grade</text>
<text transform="translate(360.00,92.40) rotate(-90)" font-size="7.8" text-anchor="middle" fill="#111">The expression of TMC3</text>
<text transform="translate(368.50,117.00) rotate(-90)" font-size="8.4" fill="#111">Log<tspan font-size="6" dy="2.3">2</tspan><tspan font-size="7.6" dy="-2.3"> (TPM+1)</tspan></text>
<path d="M417.70,35.80 L417.70,33.30 L473.90,33.30 L473.90,35.80" fill="none" stroke="#111" stroke-width="0.85"/>
<text x="445.80" y="34.30" font-size="7.0" text-anchor="middle" fill="#222">**</text>
<text x="523.5" y="15.0" font-size="16.3" >D</text>
<defs><path id="vD0" d="M595.9 151.2 596.0 150.4 596.1 149.6 596.2 148.8 596.3 148.1 596.6 147.1 597.1 146.2 597.8 145.3 598.5 144.3 599.2 143.4 599.9 142.5 600.7 141.7 601.5 140.8 602.4 139.9 603.3 139.1 604.2 138.2 605.1 137.3 606.0 136.5 606.8 135.6 607.6 134.8 608.4 133.9 609.3 133.0 610.1 132.2 610.9 131.3 611.6 130.4 612.3 129.6 612.9 128.7 613.4 127.8 613.8 127.0 614.3 126.1 614.7 125.2 615.1 124.4 615.4 123.5 615.7 122.7 615.9 121.8 616.0 120.9 616.1 120.1 616.1 119.1 616.1 118.2 616.1 117.3 616.0 116.3 616.0 115.4 615.9 114.5 615.8 113.7 615.6 112.8 615.4 111.9 615.2 111.1 614.9 110.2 614.6 109.3 614.4 108.5 614.1 107.6 613.8 106.7 613.5 105.9 613.2 105.0 612.9 104.2 612.5 103.3 612.2 102.4 611.8 101.6 611.5 100.7 611.1 99.8 610.7 99.0 610.4 98.1 610.0 97.2 609.6 96.4 609.2 95.5 608.8 94.6 608.4 93.8 608.1 92.9 607.8 92.0 607.5 91.2 607.3 90.3 607.0 89.5 606.8 88.6 606.6 87.7 606.4 86.9 606.2 86.0 606.0 85.1 605.8 84.3 605.6 83.3 605.4 82.4 605.2 81.4 605.0 80.5 604.8 79.5 604.7 78.6 604.5 77.6 604.3 76.6 604.1 75.8 604.0 74.9 603.8 74.1 603.6 73.2 603.4 72.3 603.3 71.5 603.1 70.6 602.9 69.7 602.7 68.9 602.5 68.0 602.3 67.1 602.1 66.3 601.9 65.4 601.7 64.5 601.4 63.7 601.2 62.8 601.0 61.9 600.8 61.1 600.6 60.2 600.4 59.4 600.2 58.5 599.9 57.6 599.7 56.8 599.5 55.9 599.3 55.0 599.1 54.2 598.9 53.3 598.7 52.4 598.5 51.6 598.3 50.7 598.2 49.8 598.0 49.0 597.8 48.1 597.7 47.3 597.5 46.4 597.4 45.5 597.2 44.7 597.1 43.8 596.9 42.9 596.8 42.1 596.7 41.2 596.6 40.3 596.4 39.5 596.2 38.6 596.1 37.8 595.9 37.0 595.7 36.2 593.1 36.2 592.9 37.0 592.7 37.8 592.6 38.6 592.4 39.5 592.2 40.3 592.1 41.2 592.0 42.1 591.9 42.9 591.7 43.8 591.6 44.7 591.4 45.5 591.3 46.4 591.1 47.3 591.0 48.1 590.8 49.0 590.6 49.8 590.5 50.7 590.3 51.6 590.1 52.4 589.9 53.3 589.7 54.2 589.5 55.0 589.3 55.9 589.1 56.8 588.9 57.6 588.6 58.5 588.4 59.4 588.2 60.2 588.0 61.1 587.8 61.9 587.6 62.8 587.4 63.7 587.1 64.5 586.9 65.4 586.7 66.3 586.5 67.1 586.3 68.0 586.1 68.9 585.9 69.7 585.7 70.6 585.5 71.5 585.4 72.3 585.2 73.2 585.0 74.1 584.8 74.9 584.7 75.8 584.5 76.6 584.3 77.6 584.1 78.6 584.0 79.5 583.8 80.5 583.6 81.4 583.4 82.4 583.2 83.3 583.0 84.3 582.8 85.1 582.6 86.0 582.4 86.9 582.2 87.7 582.0 88.6 581.8 89.5 581.5 90.3 581.3 91.2 581.0 92.0 580.7 92.9 580.4 93.8 580.0 94.6 579.6 95.5 579.2 96.4 578.8 97.2 578.4 98.1 578.1 99.0 577.7 99.8 577.3 100.7 577.0 101.6 576.6 102.4 576.3 103.3 575.9 104.2 575.6 105.0 575.3 105.9 575.0 106.7 574.7 107.6 574.4 108.5 574.2 109.3 573.9 110.2 573.6 111.1 573.4 111.9 573.2 112.8 573.0 113.7 572.9 114.5 572.8 115.4 572.8 116.3 572.7 117.3 572.7 118.2 572.7 119.1 572.7 120.1 572.8 120.9 572.9 121.8 573.1 122.7 573.4 123.5 573.7 124.4 574.1 125.2 574.5 126.1 575.0 127.0 575.4 127.8 575.9 128.7 576.5 129.6 577.2 130.4 577.9 131.3 578.7 132.2 579.5 133.0 580.4 133.9 581.2 134.8 582.0 135.6 582.8 136.5 583.7 137.3 584.6 138.2 585.5 139.1 586.4 139.9 587.3 140.8 588.1 141.7 588.9 142.5 589.6 143.4 590.3 144.3 591.0 145.3 591.7 146.2 592.2 147.1 592.5 148.1 592.6 148.8 592.7 149.6 592.8 150.4 592.9 151.2Z"/></defs><use href="#vD0" fill="#a9dcea"/>
<defs><path id="vD1" d="M653.8 145.7 654.3 144.9 654.9 144.1 655.4 143.3 655.9 142.4 656.5 141.6 657.0 140.8 657.7 140.0 658.4 139.2 659.2 138.4 660.1 137.6 661.1 136.8 662.1 136.0 663.0 135.2 664.0 134.4 664.8 133.6 665.6 132.8 666.3 132.0 667.1 131.2 667.8 130.4 668.6 129.6 669.2 128.8 669.9 128.0 670.4 127.2 670.9 126.5 671.2 125.7 671.5 124.9 671.7 124.1 672.0 123.3 672.2 122.5 672.4 121.8 672.6 121.0 672.8 120.2 672.9 119.4 673.0 118.7 673.1 117.9 673.1 117.1 673.1 116.3 673.0 115.5 672.9 114.6 672.8 113.8 672.7 113.0 672.6 112.2 672.5 111.3 672.4 110.6 672.3 109.8 672.1 109.0 671.9 108.2 671.8 107.5 671.6 106.7 671.4 105.9 671.2 105.1 671.0 104.3 670.8 103.5 670.5 102.8 670.3 102.0 670.0 101.2 669.7 100.4 669.4 99.6 669.1 98.8 668.8 98.0 668.5 97.2 668.2 96.4 667.8 95.6 667.4 94.8 667.1 94.0 666.7 93.2 666.3 92.4 665.9 91.6 665.5 90.8 665.2 90.0 664.9 89.2 664.6 88.4 664.3 87.6 664.0 86.8 663.8 86.0 663.5 85.3 663.2 84.5 662.9 83.7 662.6 82.9 662.3 82.1 661.9 81.3 661.6 80.5 661.2 79.7 660.9 78.9 660.5 78.1 660.1 77.3 659.8 76.5 659.4 75.7 659.0 74.9 658.6 74.1 658.2 73.3 657.8 72.5 657.3 71.7 656.9 70.9 656.6 70.1 656.3 69.3 656.0 68.6 655.8 67.8 655.6 67.0 655.3 66.2 655.2 65.4 655.0 64.6 654.8 63.8 654.7 63.0 654.6 62.2 654.5 61.4 654.4 60.6 654.4 59.8 654.3 59.0 654.3 58.2 654.3 57.4 654.2 56.6 654.2 55.8 654.2 55.0 654.1 54.2 654.0 53.5 653.9 52.8 653.8 52.1 653.7 51.4 653.6 50.7 653.5 50.0 653.4 49.3 653.3 48.6 653.1 47.9 652.9 47.2 652.4 46.5 651.8 45.7 649.4 45.7 648.8 46.5 648.3 47.2 648.1 47.9 647.9 48.6 647.8 49.3 647.7 50.0 647.6 50.7 647.5 51.4 647.4 52.1 647.3 52.8 647.2 53.5 647.1 54.2 647.0 55.0 647.0 55.8 647.0 56.6 646.9 57.4 646.9 58.2 646.9 59.0 646.8 59.8 646.8 60.6 646.7 61.4 646.6 62.2 646.5 63.0 646.4 63.8 646.2 64.6 646.0 65.4 645.9 66.2 645.6 67.0 645.4 67.8 645.2 68.6 644.9 69.3 644.6 70.1 644.3 70.9 643.9 71.7 643.4 72.5 643.0 73.3 642.6 74.1 642.2 74.9 641.8 75.7 641.4 76.5 641.1 77.3 640.7 78.1 640.3 78.9 640.0 79.7 639.6 80.5 639.3 81.3 638.9 82.1 638.6 82.9 638.3 83.7 638.0 84.5 637.7 85.3 637.4 86.0 637.2 86.8 636.9 87.6 636.6 88.4 636.3 89.2 636.0 90.0 635.7 90.8 635.3 91.6 634.9 92.4 634.5 93.2 634.1 94.0 633.8 94.8 633.4 95.6 633.0 96.4 632.7 97.2 632.4 98.0 632.1 98.8 631.8 99.6 631.5 100.4 631.2 101.2 630.9 102.0 630.7 102.8 630.4 103.5 630.2 104.3 630.0 105.1 629.8 105.9 629.6 106.7 629.4 107.5 629.3 108.2 629.1 109.0 628.9 109.8 628.8 110.6 628.7 111.3 628.6 112.2 628.5 113.0 628.4 113.8 628.3 114.6 628.2 115.5 628.1 116.3 628.1 117.1 628.1 117.9 628.2 118.7 628.3 119.4 628.4 120.2 628.6 121.0 628.8 121.8 629.0 122.5 629.2 123.3 629.5 124.1 629.7 124.9 630.0 125.7 630.3 126.5 630.8 127.2 631.3 128.0 632.0 128.8 632.6 129.6 633.4 130.4 634.1 131.2 634.9 132.0 635.6 132.8 636.4 133.6 637.2 134.4 638.2 135.2 639.1 136.0 640.1 136.8 641.1 137.6 642.0 138.4 642.8 139.2 643.5 140.0 644.2 140.8 644.7 141.6 645.3 142.4 645.8 143.3 646.3 144.1 646.9 144.9 647.4 145.7Z"/></defs><use href="#vD1" fill="#f3a69b"/>
<path d="M607.3 77.9h2M595.3 95.8h2M593.2 89.6h2M577.6 90.9h2M584.0 135.8h2M598.5 78.5h2M606.3 137.9h2M581.1 127.1h2M585.5 126.5h2M605.0 123.0h2M592.3 126.5h2M584.6 137.4h2M604.1 150.9h2M586.9 93.9h2M596.7 69.8h2M578.6 130.2h2M588.4 48.6h2M604.2 117.2h2M598.6 85.4h2M581.2 87.2h2M588.0 126.2h2M591.3 115.9h2M584.4 83.0h2M577.9 116.4h2M581.0 134.4h2M579.1 106.8h2M586.7 115.9h2M584.5 116.6h2M608.3 119.2h2M589.7 107.3h2M609.8 73.6h2" stroke="rgb(91,192,222)" stroke-opacity="0.33" stroke-width="2" fill="none"/>
<path d="M581.6 101.3h2M609.1 115.1h2M578.6 129.3h2M581.7 60.1h2M576.5 118.8h2M579.5 99.8h2M606.6 107.6h2M608.6 131.9h2M579.8 139.5h2M608.0 82.6h2M592.2 119.6h2M596.3 127.4h2M581.1 151.5h2M587.6 76.5h2M598.2 115.1h2M580.7 89.8h2M587.1 92.9h2M593.3 114.6h2M608.5 113.2h2M577.7 134.6h2M591.0 122.3h2M577.5 95.7h2M582.8 86.9h2M601.8 148.3h2M576.6 124.1h2M610.0 62.3h2M577.5 113.0h2M585.4 136.8h2M578.4 131.2h2M599.7 121.2h2M597.2 94.8h2" stroke="rgb(91,192,222)" stroke-opacity="0.33" stroke-width="2" fill="none"/>
<path d="M594.3 110.5h2M599.8 94.0h2M594.3 91.8h2M589.0 134.8h2M590.0 127.9h2M593.4 96.3h2M596.2 102.6h2M591.7 117.4h2M585.2 118.0h2M595.1 105.6h2M589.0 107.8h2M597.2 76.4h2M602.5 105.0h2M599.1 128.5h2M599.1 95.7h2M600.7 113.0h2M597.6 121.9h2M599.2 114.3h2M593.4 129.7h2M603.0 137.4h2M586.9 107.0h2M604.7 85.9h2M608.1 116.2h2M603.6 135.4h2M601.0 113.7h2M605.9 104.8h2M608.0 133.8h2M596.8 109.2h2M607.6 129.1h2M601.7 106.4h2M603.7 84.5h2" stroke="rgb(91,192,222)" stroke-opacity="0.33" stroke-width="2" fill="none"/>
<path d="M588.4 80.2h2M596.0 55.0h2M593.2 137.4h2M603.5 109.1h2M577.9 106.9h2M604.9 123.6h2M608.1 126.5h2M602.6 78.7h2M590.8 97.8h2M607.9 104.6h2M590.4 69.6h2M590.7 108.7h2M589.7 103.1h2M590.7 122.2h2M602.9 105.4h2M589.3 89.0h2M604.0 117.8h2M583.7 80.6h2M580.1 126.1h2M581.9 77.2h2M592.3 123.1h2M580.2 110.5h2M609.1 131.6h2M597.1 87.8h2M587.9 101.0h2M604.9 138.8h2M587.8 59.7h2M583.9 140.9h2M579.1 84.1h2M603.8 77.8h2M609.0 124.6h2" stroke="rgb(91,192,222)" stroke-opacity="0.33" stroke-width="2" fill="none"/>
<path d="M598.7 91.3h2M604.0 128.7h2M592.2 102.6h2M582.4 129.9h2M603.5 86.6h2M609.5 131.2h2M589.9 141.6h2M587.3 95.0h2M604.3 117.9h2M600.6 137.4h2M601.0 71.5h2M590.3 101.3h2M584.0 94.5h2M608.2 95.2h2M576.8 129.0h2M577.1 67.7h2M579.4 80.5h2M582.8 101.4h2M588.4 119.0h2M588.9 117.3h2M588.7 65.5h2M583.3 52.2h2M594.9 110.2h2M594.6 91.7h2M602.3 113.8h2M579.6 61.1h2M599.2 118.1h2M596.7 67.3h2M608.7 116.7h2M588.1 105.7h2M584.9 69.1h2" stroke="rgb(91,192,222)" stroke-opacity="0.33" stroke-width="2" fill="none"/>
<path d="M582.2 109.8h2M582.7 74.1h2M579.8 92.8h2M578.4 87.9h2M594.1 41.2h2M604.7 96.3h2M595.0 47.0h2M598.5 134.8h2M601.6 120.3h2M587.6 88.0h2M583.7 132.6h2M598.1 105.8h2M603.4 118.1h2M586.4 102.0h2M598.9 133.8h2M578.0 121.6h2M603.8 125.1h2M608.9 121.5h2M605.9 109.0h2M586.4 110.5h2M602.7 129.1h2M596.0 107.3h2M598.5 109.6h2M595.6 124.2h2M577.4 102.6h2M581.2 81.6h2M584.8 111.3h2M582.9 124.6h2M600.7 109.7h2M596.6 112.5h2M596.9 65.1h2" stroke="rgb(91,192,222)" stroke-opacity="0.33" stroke-width="2" fill="none"/>
<path d="M600.4 114.5h2M596.2 88.0h2M596.9 100.3h2M603.8 138.9h2M577.9 96.0h2M577.6 91.6h2M610.0 130.0h2M605.5 54.4h2M600.6 126.0h2M579.2 111.7h2M592.9 73.9h2M580.1 84.4h2M589.0 121.3h2M583.3 116.9h2M584.9 103.7h2M598.5 114.7h2M588.1 49.6h2M610.0 58.2h2M606.7 75.7h2M582.6 123.7h2M607.9 124.4h2M600.6 127.4h2M604.6 48.4h2M582.8 61.7h2M598.2 128.5h2M589.0 133.6h2M600.4 132.1h2M607.2 138.4h2M600.4 108.2h2M607.6 98.9h2" stroke="rgb(91,192,222)" stroke-opacity="0.33" stroke-width="2" fill="none"/>
<path d="M608.1 101.9h2M579.1 108.1h2M589.3 95.8h2M587.7 117.7h2M581.7 51.9h2M584.0 73.2h2M591.3 108.8h2M598.5 127.7h2M603.9 115.7h2M585.7 118.7h2M592.4 69.1h2M608.5 112.8h2M577.5 137.9h2M580.8 100.6h2M578.9 120.4h2M602.3 95.5h2M586.9 142.6h2M588.6 51.8h2M581.2 147.2h2M598.5 69.1h2M608.4 116.9h2M605.1 91.6h2M602.2 134.5h2M588.9 106.2h2M607.5 66.7h2M589.2 116.8h2M586.2 122.7h2M605.0 105.3h2M585.2 121.6h2M577.7 115.2h2" stroke="rgb(91,192,222)" stroke-opacity="0.33" stroke-width="2" fill="none"/>
<path d="M653.5 104.2h2M648.9 83.7h2M662.1 114.0h2M633.3 113.9h2M652.6 117.2h2M635.5 136.0h2M638.6 124.5h2M663.9 98.1h2M646.8 96.9h2M652.6 81.3h2M639.3 106.0h2M657.2 108.8h2M660.5 72.6h2M651.2 88.0h2M642.6 136.7h2M656.4 98.9h2M651.5 118.0h2M647.2 132.6h2M655.9 135.9h2M648.6 138.2h2M643.3 93.9h2M652.9 109.3h2M655.6 124.4h2M640.8 105.3h2M634.8 85.1h2M636.9 100.9h2M639.7 75.9h2M647.9 99.9h2M655.3 116.3h2M654.6 119.5h2M632.8 88.6h2" stroke="rgb(235,80,60)" stroke-opacity="0.33" stroke-width="2" fill="none"/>
<path d="M644.5 125.9h2M641.9 125.9h2M645.3 65.4h2M660.0 115.9h2M663.9 92.9h2M649.9 108.0h2M638.8 114.9h2M633.2 114.8h2M666.3 90.5h2M664.9 91.6h2M634.2 128.4h2M636.6 129.5h2M663.0 118.3h2M632.8 105.5h2M663.0 48.7h2M648.4 134.0h2M652.6 47.2h2M664.9 102.6h2M649.0 101.4h2M655.8 117.7h2M646.4 116.1h2M638.2 108.6h2M638.0 101.2h2M648.5 118.9h2M654.7 80.7h2M632.6 78.8h2M665.2 132.9h2M652.0 88.2h2M640.3 65.2h2M638.6 113.5h2M637.2 116.2h2" stroke="rgb(235,80,60)" stroke-opacity="0.33" stroke-width="2" fill="none"/>
<path d="M650.1 123.6h2M632.6 107.6h2M645.8 82.4h2M635.0 73.3h2M664.9 65.7h2M637.5 63.6h2M635.7 99.9h2M653.6 79.4h2M662.7 74.7h2M643.8 76.9h2M649.8 101.4h2M644.6 83.3h2M652.2 71.7h2M661.5 86.3h2M660.5 94.0h2M645.0 137.2h2M656.6 99.3h2M634.8 141.1h2M641.5 74.3h2M642.0 124.0h2M656.7 100.6h2M647.7 70.4h2M654.8 120.0h2M644.7 92.0h2M658.4 123.7h2M655.6 122.1h2M638.3 75.5h2M650.9 116.5h2M648.8 95.5h2M641.5 83.6h2M653.4 49.8h2" stroke="rgb(235,80,60)" stroke-opacity="0.33" stroke-width="2" fill="none"/>
<path d="M642.2 76.6h2M644.7 88.5h2M639.2 130.2h2M654.9 116.0h2M653.7 75.7h2M634.1 97.4h2M665.1 124.1h2M636.6 93.5h2M650.9 103.2h2M633.1 124.6h2M643.2 114.7h2M647.7 83.0h2M637.4 127.5h2M662.6 120.2h2M664.6 131.5h2M643.0 120.3h2M659.1 145.3h2M647.5 106.0h2M659.3 115.5h2M662.5 130.5h2M666.3 102.6h2M661.9 131.4h2M646.3 82.7h2M658.3 98.1h2M649.1 71.9h2M662.9 122.9h2M643.6 59.1h2M658.4 92.0h2M645.3 108.7h2M640.7 105.3h2M666.5 71.9h2" stroke="rgb(235,80,60)" stroke-opacity="0.33" stroke-width="2" fill="none"/>
<path d="M656.6 76.0h2M636.1 112.7h2M642.5 114.1h2M657.5 145.9h2M641.4 112.7h2M663.6 102.6h2M633.8 104.2h2M653.7 92.1h2M650.6 80.1h2M663.5 130.1h2M637.0 95.2h2M659.0 106.2h2M643.0 55.2h2M661.5 137.1h2M651.1 124.2h2M663.5 85.6h2M633.2 120.7h2M646.0 85.5h2M653.2 111.9h2M660.9 87.5h2M655.9 98.1h2M638.5 109.5h2M642.2 130.7h2M666.1 55.5h2M635.7 46.0h2M639.5 143.1h2M665.3 121.5h2M644.7 49.7h2M651.5 88.5h2M665.4 119.8h2" stroke="rgb(235,80,60)" stroke-opacity="0.33" stroke-width="2" fill="none"/>
<path d="M659.0 86.3h2M657.2 108.6h2M648.3 84.3h2M654.2 96.2h2M639.5 133.0h2M654.6 138.5h2M648.5 90.9h2M660.8 67.6h2M665.9 145.0h2M662.9 93.6h2M652.1 128.5h2M651.1 116.2h2M653.9 65.3h2M641.2 73.0h2M664.4 113.2h2M654.8 98.7h2M645.5 91.0h2M658.4 131.0h2M645.1 73.3h2M665.2 95.1h2M635.8 79.5h2M661.8 117.7h2M663.9 107.5h2M656.7 129.2h2M657.0 78.6h2M647.0 120.0h2M643.5 112.8h2M636.0 138.3h2M658.7 129.0h2M635.8 132.3h2" stroke="rgb(235,80,60)" stroke-opacity="0.33" stroke-width="2" fill="none"/>
<path d="M657.4 113.2h2M654.6 140.9h2M638.8 131.5h2M642.3 136.6h2M636.9 123.2h2M639.6 126.7h2M635.0 93.2h2M646.1 71.7h2M660.0 72.9h2M645.6 92.7h2M648.5 72.0h2M639.8 85.8h2M647.8 64.3h2M646.0 112.5h2M661.7 124.6h2M646.0 111.4h2M654.1 130.6h2M656.7 116.0h2M658.9 111.8h2M658.8 106.6h2M633.6 116.1h2M654.9 117.5h2M656.8 60.2h2M663.5 71.5h2M641.8 145.3h2M638.2 138.4h2M644.0 133.6h2M661.0 63.4h2M639.2 62.3h2M643.7 129.6h2" stroke="rgb(235,80,60)" stroke-opacity="0.33" stroke-width="2" fill="none"/>
<path d="M658.0 124.3h2M657.8 78.6h2M660.7 132.8h2M651.4 84.8h2M638.5 84.4h2M644.2 78.2h2M650.5 115.5h2M638.2 50.6h2M634.1 127.2h2M664.3 121.3h2M649.1 127.3h2M650.8 126.7h2M642.9 87.9h2M663.2 141.4h2M642.6 128.0h2M635.2 111.2h2M648.6 108.1h2M656.9 106.4h2M653.7 102.0h2M633.9 117.3h2M646.4 48.4h2M633.7 81.4h2M644.9 100.7h2M656.2 127.0h2M647.8 124.2h2M649.0 127.5h2M660.0 130.4h2M647.8 96.7h2M643.7 118.9h2M662.4 135.1h2" stroke="rgb(235,80,60)" stroke-opacity="0.33" stroke-width="2" fill="none"/>
<use href="#vD0" fill="none" stroke="#000" stroke-width="1.05"/>
<use href="#vD1" fill="none" stroke="#000" stroke-width="1.05"/>
<line x1="584.60" y1="102.63" x2="604.20" y2="102.63" stroke="#000" stroke-width="1.25"/>
<rect x="590.30" y="100.63" width="8.2" height="4.00" fill="#1a1a1a" fill-opacity="0.85"/>
<line x1="594.40" y1="100.63" x2="594.40" y2="104.63" stroke="#000" stroke-width="0.6"/>
<line x1="640.90" y1="105.27" x2="660.30" y2="105.27" stroke="#000" stroke-width="1.25"/>
<rect x="646.50" y="103.27" width="8.2" height="4.00" fill="#1a1a1a" fill-opacity="0.85"/>
<line x1="650.60" y1="103.27" x2="650.60" y2="107.27" stroke="#000" stroke-width="0.6"/>
<path d="M560.40,27.50 L560.40,157.30 L684.50,157.30" fill="none" stroke="#111" stroke-width="0.9"/>
<line x1="557.60" y1="154.60" x2="560.40" y2="154.60" stroke="#111" stroke-width="0.8"/>
<text x="554.90" y="156.91" font-size="6.6" text-anchor="end" fill="#222">0</text>
<line x1="557.60" y1="123.48" x2="560.40" y2="123.48" stroke="#111" stroke-width="0.8"/>
<text x="554.90" y="125.79" font-size="6.6" text-anchor="end" fill="#222">2</text>
<line x1="557.60" y1="92.36" x2="560.40" y2="92.36" stroke="#111" stroke-width="0.8"/>
<text x="554.90" y="94.67" font-size="6.6" text-anchor="end" fill="#222">4</text>
<line x1="557.60" y1="61.24" x2="560.40" y2="61.24" stroke="#111" stroke-width="0.8"/>
<text x="554.90" y="63.55" font-size="6.6" text-anchor="end" fill="#222">6</text>
<line x1="557.60" y1="30.12" x2="560.40" y2="30.12" stroke="#111" stroke-width="0.8"/>
<text x="554.90" y="32.43" font-size="6.6" text-anchor="end" fill="#222">8</text>
<line x1="594.40" y1="157.30" x2="594.40" y2="160.10" stroke="#111" stroke-width="0.8"/>
<text x="594.40" y="167.70" font-size="6.6" text-anchor="middle" fill="#222">G1&amp;G2</text>
<line x1="650.60" y1="157.30" x2="650.60" y2="160.10" stroke="#111" stroke-width="0.8"/>
<text x="650.60" y="167.70" font-size="6.6" text-anchor="middle" fill="#222">G3&amp;G4</text>
<text x="594.49" y="177.50" font-size="8.6" textLength="55.93" lengthAdjust="spacingAndGlyphs" fill="#111">Histologic grade</text>
<text transform="translate(536.10,92.40) rotate(-90)" font-size="7.8" text-anchor="middle" fill="#111">The expression of TMC4</text>
<text transform="translate(544.00,117.00) rotate(-90)" font-size="8.4" fill="#111">Log<tspan font-size="6" dy="2.3">2</tspan><tspan font-size="7.6" dy="-2.3"> (TPM+1)</tspan></text>
<path d="M594.40,35.80 L594.40,33.30 L650.60,33.30 L650.60,35.80" fill="none" stroke="#111" stroke-width="0.85"/>
<text x="622.50" y="32.00" font-size="6.5" text-anchor="middle" fill="#222">ns</text>
<text x="5.7" y="224.9" font-size="18.0" >E</text>
<defs><path id="vE0" d="M73.6 361.0 77.9 360.4 81.4 359.9 84.2 359.1 86.4 358.4 87.2 357.6 85.3 356.9 81.2 356.3 77.1 355.6 72.3 354.7 68.8 353.8 67.6 352.9 66.8 352.0 66.2 351.2 65.7 350.3 65.4 349.5 65.3 348.8 65.1 348.2 65.1 347.5 65.1 346.6 65.1 345.7 65.1 344.7 65.1 343.8 65.1 342.9 65.1 342.0 65.1 341.1 65.1 340.2 65.1 339.3 65.1 338.4 65.1 337.4 65.1 336.5 65.1 335.6 65.1 334.7 65.0 333.8 65.0 332.9 65.0 332.0 65.0 331.0 65.0 330.1 65.0 329.2 65.0 328.3 65.0 327.4 65.0 326.5 65.0 325.6 65.0 324.6 65.0 323.7 65.0 322.8 65.0 321.9 65.0 321.0 65.0 320.1 65.0 319.2 65.0 318.3 65.0 317.3 65.0 316.4 65.0 315.5 65.0 314.6 65.0 313.7 65.0 312.8 65.0 311.9 65.0 310.9 65.0 310.0 65.0 309.1 65.0 308.2 65.0 307.3 65.0 306.4 65.0 305.5 65.0 304.6 65.0 303.6 65.0 302.7 65.0 301.8 65.0 300.9 65.0 300.0 65.0 299.1 65.0 298.2 65.0 297.2 65.0 296.3 65.0 295.4 65.0 294.5 65.0 293.6 65.0 292.7 65.0 291.8 65.0 290.8 65.0 289.9 65.0 289.0 65.0 288.1 65.0 287.2 65.0 286.3 65.0 285.4 65.0 284.5 65.0 283.5 65.0 282.6 65.0 281.7 65.0 280.8 65.0 279.9 65.0 279.0 65.0 278.1 65.0 277.1 65.0 276.2 65.0 275.3 65.0 274.4 65.0 273.5 65.0 272.6 65.0 271.7 65.0 270.8 65.0 269.8 65.0 268.9 65.0 268.0 65.0 267.1 65.0 266.2 65.0 265.3 65.0 264.4 65.0 263.4 65.0 262.5 65.0 261.6 65.0 260.7 65.0 259.8 65.0 258.9 65.0 258.0 65.0 257.0 65.0 256.1 65.0 255.2 65.0 254.3 65.0 253.4 65.0 252.5 65.0 251.6 65.0 250.7 64.6 250.7 64.6 251.6 64.6 252.5 64.6 253.4 64.6 254.3 64.6 255.2 64.6 256.1 64.6 257.0 64.6 258.0 64.6 258.9 64.6 259.8 64.6 260.7 64.6 261.6 64.6 262.5 64.6 263.4 64.6 264.4 64.6 265.3 64.6 266.2 64.6 267.1 64.6 268.0 64.6 268.9 64.6 269.8 64.6 270.8 64.6 271.7 64.6 272.6 64.6 273.5 64.6 274.4 64.6 275.3 64.6 276.2 64.6 277.1 64.6 278.1 64.6 279.0 64.6 279.9 64.6 280.8 64.6 281.7 64.6 282.6 64.6 283.5 64.6 284.5 64.6 285.4 64.6 286.3 64.6 287.2 64.6 288.1 64.6 289.0 64.6 289.9 64.6 290.8 64.6 291.8 64.6 292.7 64.6 293.6 64.6 294.5 64.6 295.4 64.6 296.3 64.6 297.2 64.6 298.2 64.6 299.1 64.6 300.0 64.6 300.9 64.6 301.8 64.6 302.7 64.6 303.6 64.6 304.6 64.6 305.5 64.6 306.4 64.6 307.3 64.6 308.2 64.6 309.1 64.6 310.0 64.6 310.9 64.6 311.9 64.6 312.8 64.6 313.7 64.6 314.6 64.6 315.5 64.6 316.4 64.6 317.3 64.6 318.3 64.6 319.2 64.6 320.1 64.6 321.0 64.6 321.9 64.6 322.8 64.6 323.7 64.6 324.6 64.6 325.6 64.6 326.5 64.6 327.4 64.6 328.3 64.6 329.2 64.6 330.1 64.6 331.0 64.6 332.0 64.6 332.9 64.6 333.8 64.5 334.7 64.5 335.6 64.5 336.5 64.5 337.4 64.5 338.4 64.5 339.3 64.5 340.2 64.5 341.1 64.5 342.0 64.5 342.9 64.5 343.8 64.5 344.7 64.5 345.7 64.5 346.6 64.5 347.5 64.5 348.2 64.3 348.8 64.2 349.5 63.9 350.3 63.4 351.2 62.8 352.0 62.0 352.9 60.8 353.8 57.3 354.7 52.5 355.6 48.4 356.3 44.3 356.9 42.4 357.6 43.2 358.4 45.4 359.1 48.2 359.9 51.7 360.4 56.0 361.0Z"/></defs><use href="#vE0" fill="#a9dcea"/>
<defs><path id="vE1" d="M130.8 361.0 133.0 360.7 134.8 360.3 137.1 359.5 138.1 358.7 137.6 358.1 136.6 357.4 134.7 356.5 132.2 355.6 130.0 354.7 128.3 353.8 126.9 352.9 125.8 352.0 125.2 351.2 124.7 350.3 124.3 349.5 124.0 348.6 123.8 347.7 123.4 346.8 122.3 345.9 121.4 345.0 121.2 344.3 121.1 343.7 121.1 343.0 121.1 342.0 121.1 341.1 121.1 340.1 121.1 339.2 121.1 338.2 121.1 337.3 121.1 336.3 121.1 335.4 121.1 334.4 121.1 333.5 121.1 332.5 121.1 331.6 121.1 330.6 121.1 329.7 121.0 328.7 121.0 327.8 121.0 326.8 121.0 325.9 121.0 324.9 121.0 324.0 121.0 323.0 121.0 322.1 121.0 321.1 121.0 320.2 121.0 319.2 121.0 318.3 121.0 317.4 121.0 316.4 121.0 315.5 121.0 314.5 121.0 313.6 121.0 312.6 121.0 311.7 121.0 310.7 121.0 309.8 121.0 308.8 121.0 307.9 121.0 306.9 121.0 306.0 121.0 305.0 121.0 304.1 121.0 303.1 121.0 302.2 121.0 301.2 121.0 300.3 121.0 299.3 121.0 298.4 121.0 297.4 121.0 296.5 121.0 295.5 121.0 294.6 121.0 293.6 121.0 292.7 121.0 291.7 121.0 290.8 121.0 289.8 121.0 288.9 121.0 287.9 121.0 287.0 121.0 286.0 121.0 285.1 121.0 284.1 121.0 283.2 121.0 282.2 121.0 281.3 121.0 280.3 121.0 279.4 121.0 278.4 121.0 277.5 121.0 276.5 121.0 275.6 121.0 274.6 121.0 273.7 121.0 272.7 121.0 271.8 121.0 270.8 121.0 269.9 121.0 268.9 121.0 268.0 121.0 267.0 121.0 266.1 121.0 265.1 121.0 264.2 121.0 263.2 121.0 262.3 121.0 261.3 121.0 260.4 121.0 259.4 121.0 258.5 121.0 257.5 121.0 256.6 121.0 255.6 121.0 254.7 121.0 253.7 121.0 252.8 121.0 251.8 121.0 250.9 121.0 249.9 121.0 249.0 121.0 248.0 121.0 247.1 121.0 246.1 120.6 246.1 120.6 247.1 120.6 248.0 120.6 249.0 120.6 249.9 120.6 250.9 120.6 251.8 120.6 252.8 120.6 253.7 120.6 254.7 120.6 255.6 120.6 256.6 120.6 257.5 120.6 258.5 120.6 259.4 120.6 260.4 120.6 261.3 120.6 262.3 120.6 263.2 120.6 264.2 120.6 265.1 120.6 266.1 120.6 267.0 120.6 268.0 120.6 268.9 120.6 269.9 120.6 270.8 120.6 271.8 120.6 272.7 120.6 273.7 120.6 274.6 120.6 275.6 120.6 276.5 120.6 277.5 120.6 278.4 120.6 279.4 120.6 280.3 120.6 281.3 120.6 282.2 120.6 283.2 120.6 284.1 120.6 285.1 120.6 286.0 120.6 287.0 120.6 287.9 120.6 288.9 120.6 289.8 120.6 290.8 120.6 291.7 120.6 292.7 120.6 293.6 120.6 294.6 120.6 295.5 120.6 296.5 120.6 297.4 120.6 298.4 120.6 299.3 120.6 300.3 120.6 301.2 120.6 302.2 120.6 303.1 120.6 304.1 120.6 305.0 120.6 306.0 120.6 306.9 120.6 307.9 120.6 308.8 120.6 309.8 120.6 310.7 120.6 311.7 120.6 312.6 120.6 313.6 120.6 314.5 120.6 315.5 120.6 316.4 120.6 317.4 120.6 318.3 120.6 319.2 120.6 320.2 120.6 321.1 120.6 322.1 120.6 323.0 120.6 324.0 120.6 324.9 120.6 325.9 120.6 326.8 120.6 327.8 120.6 328.7 120.5 329.7 120.5 330.6 120.5 331.6 120.5 332.5 120.5 333.5 120.5 334.4 120.5 335.4 120.5 336.3 120.5 337.3 120.5 338.2 120.5 339.2 120.5 340.1 120.5 341.1 120.5 342.0 120.5 343.0 120.5 343.7 120.4 344.3 120.2 345.0 119.3 345.9 118.2 346.8 117.8 347.7 117.6 348.6 117.3 349.5 116.9 350.3 116.4 351.2 115.8 352.0 114.7 352.9 113.3 353.8 111.6 354.7 109.4 355.6 106.9 356.5 105.0 357.4 104.0 358.1 103.5 358.7 104.5 359.5 106.8 360.3 108.6 360.7 110.8 361.0Z"/></defs><use href="#vE1" fill="#f3a69b"/>
<path d="M79.4 357.8h2M70.4 357.1h2M66.1 357.1h2M70.4 327.6h2M51.5 354.6h2M58.8 360.3h2M75.8 358.2h2M74.9 355.8h2M77.1 358.5h2M66.0 356.6h2M48.8 361.3h2M55.7 360.8h2M76.0 355.1h2M54.1 360.1h2M73.8 358.7h2M47.3 298.5h2M63.0 359.5h2M51.2 355.1h2M72.9 361.0h2M70.2 359.0h2M74.6 346.2h2M70.5 357.9h2M71.0 353.3h2M53.5 355.3h2M58.2 338.6h2M50.4 356.0h2M59.9 358.8h2M77.3 356.3h2M48.9 355.7h2M74.3 359.3h2M62.3 354.8h2M79.6 355.8h2M74.0 357.6h2M74.2 356.1h2M79.8 357.6h2M63.8 353.2h2M59.3 358.2h2M74.5 359.5h2M71.3 357.4h2M65.5 356.7h2M79.4 355.9h2M58.4 360.5h2M60.3 360.3h2M78.1 356.6h2M50.4 357.9h2" stroke="rgb(91,192,222)" stroke-opacity="0.33" stroke-width="2" fill="none"/>
<path d="M58.9 358.6h2M53.6 357.1h2M60.2 355.3h2M65.3 355.6h2M75.2 353.4h2M59.0 347.5h2M67.3 356.3h2M67.8 360.3h2M78.0 354.4h2M70.9 358.9h2M55.8 356.0h2M77.2 350.7h2M58.2 355.3h2M59.6 356.2h2M52.9 360.0h2M48.0 358.1h2M76.5 358.1h2M65.0 357.0h2M75.2 356.3h2M70.9 358.9h2M68.3 359.3h2M69.5 355.5h2M52.7 357.9h2M71.2 357.4h2M55.9 353.0h2M64.6 357.8h2M63.5 359.7h2M64.2 358.2h2M59.1 357.5h2M52.3 359.3h2M60.7 360.3h2M66.9 357.8h2M71.2 351.9h2M78.0 357.4h2M77.3 357.4h2M55.4 358.9h2M68.8 359.4h2M73.8 355.3h2M59.2 357.6h2M66.3 323.4h2M73.6 306.3h2M65.5 360.3h2M59.5 353.7h2M49.8 358.5h2M78.5 357.6h2" stroke="rgb(91,192,222)" stroke-opacity="0.33" stroke-width="2" fill="none"/>
<path d="M64.7 352.1h2M66.0 360.9h2M77.3 353.5h2M64.7 357.9h2M59.7 357.4h2M54.0 354.9h2M69.3 354.0h2M71.1 360.1h2M70.2 357.3h2M48.5 358.6h2M75.9 354.2h2M49.1 356.5h2M60.3 355.5h2M50.9 357.6h2M72.9 359.0h2M78.8 355.1h2M76.3 358.3h2M79.3 356.1h2M69.1 358.6h2M62.6 350.1h2M77.5 352.6h2M71.1 358.1h2M69.4 360.6h2M51.0 359.8h2M62.7 355.4h2M56.2 355.5h2M61.9 357.8h2M57.3 359.9h2M61.8 359.0h2M52.1 356.4h2M62.5 359.4h2M68.9 359.4h2M80.0 360.9h2M63.1 355.4h2M80.1 358.6h2M63.4 356.7h2M61.0 352.5h2M76.9 353.4h2M71.9 358.6h2M58.9 355.3h2M53.9 357.4h2M52.2 359.3h2M70.9 356.4h2M51.4 359.5h2M62.9 357.2h2" stroke="rgb(91,192,222)" stroke-opacity="0.33" stroke-width="2" fill="none"/>
<path d="M63.1 357.1h2M72.0 358.6h2M57.5 357.2h2M76.9 316.1h2M55.7 361.0h2M73.4 357.4h2M47.2 355.9h2M68.8 360.3h2M65.2 357.5h2M78.9 358.5h2M51.3 358.5h2M75.6 359.6h2M70.3 357.0h2M71.5 355.1h2M55.3 355.3h2M54.4 358.7h2M56.6 357.2h2M80.3 360.6h2M47.0 356.5h2M61.2 327.4h2M59.1 358.6h2M66.7 358.5h2M77.7 358.5h2M67.7 360.2h2M62.5 358.9h2M78.9 360.6h2M55.4 276.9h2M67.6 357.6h2M57.9 354.9h2M66.1 358.0h2M79.5 358.7h2M64.0 355.7h2M67.8 357.4h2M57.3 356.2h2M76.6 353.6h2M63.6 360.3h2M52.0 357.9h2M65.5 359.3h2M79.2 353.1h2M63.3 358.4h2M52.0 360.4h2M65.2 354.9h2M74.9 354.3h2M66.8 356.9h2M50.4 359.9h2" stroke="rgb(91,192,222)" stroke-opacity="0.33" stroke-width="2" fill="none"/>
<path d="M50.5 360.1h2M70.8 356.4h2M55.3 358.5h2M64.8 355.5h2M74.5 354.3h2M51.6 355.3h2M46.8 360.5h2M48.5 357.0h2M57.1 358.4h2M80.7 358.8h2M76.9 358.9h2M71.0 355.3h2M70.3 356.8h2M62.5 357.6h2M48.2 357.6h2M60.2 357.5h2M58.3 353.4h2M79.6 358.4h2M72.7 356.4h2M65.3 352.9h2M71.4 360.1h2M80.6 360.9h2M69.7 356.6h2M61.1 357.4h2M54.3 355.9h2M58.4 357.9h2M54.8 357.1h2M71.7 358.4h2M61.2 360.1h2M64.5 358.9h2M50.7 358.5h2M74.1 356.0h2M55.9 357.7h2M62.0 360.8h2M62.8 360.3h2M70.3 360.6h2M72.9 357.2h2M76.6 358.1h2M53.9 357.8h2M67.0 355.8h2M64.5 350.9h2M65.3 351.8h2M71.0 357.4h2M47.9 356.8h2M77.9 357.3h2" stroke="rgb(91,192,222)" stroke-opacity="0.33" stroke-width="2" fill="none"/>
<path d="M55.4 357.4h2M60.7 297.1h2M58.6 341.6h2M73.5 359.4h2M57.3 358.8h2M51.8 358.6h2M77.9 355.8h2M55.7 330.2h2M66.3 358.0h2M76.0 277.7h2M69.6 360.1h2M62.1 356.2h2M61.7 360.4h2M62.0 355.0h2M73.5 359.4h2M70.1 359.9h2M50.3 356.6h2M53.1 328.4h2M56.2 356.7h2M79.2 356.6h2M59.5 355.4h2M59.8 360.5h2M63.2 356.3h2M63.1 328.4h2M65.1 356.4h2M61.9 359.4h2M47.4 357.9h2M53.1 356.0h2M67.7 359.1h2M49.8 355.9h2M52.0 350.2h2M47.2 322.6h2M75.6 356.1h2M64.9 359.5h2M80.0 335.7h2M74.5 358.4h2M47.0 356.0h2M79.5 356.1h2M72.2 250.7h2M79.5 357.9h2M66.0 358.8h2M74.6 358.5h2M50.5 355.5h2M51.6 306.0h2M64.6 358.0h2" stroke="rgb(91,192,222)" stroke-opacity="0.33" stroke-width="2" fill="none"/>
<path d="M58.2 358.9h2M51.4 308.5h2M52.1 359.1h2M68.5 357.4h2M47.5 360.6h2M63.6 354.5h2M64.3 359.6h2M49.7 358.9h2M67.4 358.1h2M57.6 326.9h2M78.5 358.1h2M72.8 313.1h2M56.6 354.6h2M63.7 357.3h2M58.0 358.6h2M72.8 357.1h2M47.9 354.0h2M73.9 339.9h2M48.5 354.3h2M55.0 358.1h2M65.1 360.1h2M58.7 357.7h2M64.3 359.9h2M69.0 360.5h2M47.4 360.1h2M65.7 354.5h2M51.7 355.8h2M78.0 349.4h2M72.6 356.6h2M48.2 359.6h2M74.9 358.5h2M69.4 360.1h2M47.8 360.1h2M65.0 355.9h2M76.6 358.6h2M78.5 352.3h2M63.6 356.6h2M64.0 357.8h2M54.7 360.1h2M52.2 355.5h2M46.9 359.8h2M60.7 360.3h2M58.5 360.0h2M58.5 355.4h2M70.7 357.2h2" stroke="rgb(91,192,222)" stroke-opacity="0.33" stroke-width="2" fill="none"/>
<path d="M64.9 294.3h2M64.7 358.5h2M66.1 356.2h2M66.7 314.6h2M72.7 358.4h2M76.3 355.9h2M72.3 359.1h2M70.6 359.9h2M60.8 358.9h2M70.8 357.7h2M75.6 357.5h2M55.1 358.2h2M59.9 356.8h2M78.5 358.2h2M77.7 318.4h2M55.6 356.1h2M60.4 359.1h2M49.3 359.9h2M77.6 360.6h2M61.4 358.4h2M80.7 329.6h2M53.1 355.6h2M58.1 356.5h2M51.3 359.2h2M78.3 359.9h2M50.0 359.1h2M76.8 357.7h2M59.7 353.6h2M55.3 344.2h2M47.1 359.3h2M54.3 355.2h2M78.1 357.9h2M70.7 357.7h2M53.4 359.2h2M77.5 357.4h2M48.7 360.2h2M61.3 357.5h2M48.4 360.3h2M76.9 352.8h2M68.4 356.9h2M47.6 355.1h2M48.3 358.6h2M78.2 359.6h2M61.3 358.0h2M80.7 358.1h2" stroke="rgb(91,192,222)" stroke-opacity="0.33" stroke-width="2" fill="none"/>
<path d="M117.9 334.4h2M122.8 347.4h2M135.1 351.8h2M111.4 358.7h2M117.9 347.0h2M116.8 350.7h2M122.8 358.5h2M109.9 355.6h2M114.6 355.1h2M116.7 350.3h2M117.3 351.7h2M115.2 350.9h2M136.5 359.5h2M106.5 349.4h2M116.6 355.4h2M132.4 359.9h2M121.9 357.3h2M114.9 360.2h2M116.2 354.4h2M120.4 355.7h2M136.2 355.5h2M107.6 353.7h2M112.9 356.4h2M133.9 357.2h2M120.0 357.5h2M131.4 354.3h2M129.3 340.2h2M105.1 349.8h2M130.0 358.5h2M106.5 355.6h2M111.1 356.2h2M117.0 359.7h2M103.6 357.5h2M131.2 353.0h2M112.2 246.1h2M122.1 360.2h2M133.0 356.2h2M135.9 356.6h2M124.1 358.9h2M136.7 358.6h2M125.5 360.3h2M114.6 360.2h2M120.2 346.0h2M111.7 350.3h2M108.2 356.9h2M123.9 358.5h2M123.5 354.9h2" stroke="rgb(235,80,60)" stroke-opacity="0.33" stroke-width="2" fill="none"/>
<path d="M130.8 334.3h2M103.9 356.5h2M134.2 356.1h2M126.1 359.0h2M127.6 336.2h2M135.3 360.6h2M106.0 353.3h2M105.3 346.6h2M104.5 356.2h2M115.4 355.8h2M115.0 347.7h2M122.5 357.1h2M119.6 353.3h2M133.6 353.8h2M127.8 354.4h2M104.7 352.9h2M104.6 357.6h2M107.2 358.4h2M109.3 337.8h2M114.8 357.0h2M127.5 360.5h2M132.7 349.4h2M102.8 352.0h2M116.8 358.3h2M117.6 360.7h2M136.1 346.1h2M107.3 360.0h2M105.8 357.0h2M131.5 354.5h2M111.3 359.3h2M102.9 352.8h2M106.0 355.3h2M133.5 360.2h2M119.1 359.0h2M110.8 358.0h2M109.1 347.1h2M118.3 356.2h2M119.7 359.5h2M115.1 358.8h2M114.9 351.2h2M125.2 360.8h2M111.7 349.7h2M108.8 357.7h2M109.2 356.6h2M122.7 357.7h2M113.2 355.6h2M119.1 354.0h2" stroke="rgb(235,80,60)" stroke-opacity="0.33" stroke-width="2" fill="none"/>
<path d="M108.9 358.5h2M121.3 360.2h2M117.0 356.5h2M115.2 355.3h2M107.5 357.8h2M109.2 359.4h2M128.6 343.6h2M124.3 352.8h2M132.3 356.3h2M116.4 355.8h2M134.4 355.3h2M124.5 357.3h2M109.7 356.8h2M117.5 351.7h2M112.9 346.5h2M130.9 349.1h2M105.8 356.7h2M110.1 354.5h2M121.1 358.2h2M129.2 328.8h2M111.1 356.5h2M113.4 314.5h2M112.6 360.3h2M112.1 355.1h2M135.3 355.7h2M127.7 351.6h2M133.9 358.4h2M112.5 357.4h2M120.2 348.3h2M119.9 358.1h2M111.2 354.6h2M124.5 353.1h2M112.4 357.3h2M125.5 347.1h2M111.5 355.6h2M105.9 351.7h2M124.6 359.3h2M107.9 360.4h2M116.7 356.4h2M117.1 357.7h2M122.5 354.8h2M109.0 358.0h2M107.3 359.3h2M132.9 347.1h2M121.4 354.2h2M127.8 357.5h2" stroke="rgb(235,80,60)" stroke-opacity="0.33" stroke-width="2" fill="none"/>
<path d="M129.7 354.2h2M123.3 356.4h2M130.4 350.9h2M114.9 357.9h2M120.2 354.0h2M110.9 354.6h2M122.9 357.5h2M102.9 356.0h2M119.9 357.8h2M130.9 344.2h2M129.5 358.9h2M131.0 359.8h2M105.2 355.3h2M109.1 354.4h2M129.2 352.6h2M110.7 355.3h2M112.7 356.8h2M111.7 341.6h2M122.8 355.8h2M134.7 352.9h2M129.4 354.6h2M104.6 360.3h2M116.5 310.3h2M134.5 329.9h2M135.9 358.2h2M121.8 358.0h2M105.5 358.8h2M115.4 353.7h2M114.1 360.0h2M112.2 361.0h2M122.8 357.3h2M115.1 360.8h2M123.4 359.1h2M133.0 358.1h2M130.9 348.8h2M114.5 360.1h2M124.8 357.2h2M108.2 353.4h2M118.4 359.7h2M123.8 347.1h2M119.5 354.6h2M109.7 351.0h2M131.0 357.3h2M121.6 359.0h2M109.9 359.5h2M122.0 359.5h2" stroke="rgb(235,80,60)" stroke-opacity="0.33" stroke-width="2" fill="none"/>
<path d="M118.6 356.2h2M109.7 358.4h2M112.0 356.8h2M127.0 357.7h2M105.0 358.8h2M118.5 350.3h2M135.4 354.5h2M131.0 354.9h2M121.3 359.8h2M115.0 357.2h2M114.5 284.2h2M121.6 360.5h2M124.0 355.6h2M127.2 325.6h2M128.9 358.5h2M127.8 358.5h2M116.8 353.3h2M124.5 356.8h2M109.6 345.4h2M103.0 357.9h2M136.2 360.1h2M136.3 300.6h2M120.1 346.7h2M113.5 354.5h2M108.1 357.5h2M108.7 273.8h2M115.3 357.2h2M125.0 355.9h2M116.9 358.0h2M121.3 359.4h2M135.0 352.1h2M131.6 356.8h2M106.5 331.2h2M128.1 351.9h2M106.7 355.6h2M119.2 357.1h2M123.1 360.0h2M125.9 355.3h2M111.2 355.6h2M109.3 361.2h2M103.9 345.6h2M125.0 286.7h2M125.7 355.1h2M107.7 349.2h2M113.3 360.3h2M117.6 351.2h2" stroke="rgb(235,80,60)" stroke-opacity="0.33" stroke-width="2" fill="none"/>
<path d="M105.0 357.3h2M109.8 360.5h2M135.5 285.8h2M118.3 355.8h2M133.8 358.4h2M133.9 356.1h2M129.9 358.0h2M105.1 342.9h2M131.5 353.5h2M128.0 357.6h2M114.1 356.9h2M135.5 352.9h2M129.6 358.4h2M108.1 346.0h2M117.3 298.3h2M125.6 355.9h2M124.9 360.3h2M106.5 356.9h2M107.1 359.9h2M131.0 352.5h2M112.5 319.6h2M124.5 353.1h2M118.8 351.2h2M123.5 359.1h2M118.3 355.6h2M109.3 356.5h2M116.1 346.4h2M102.9 357.1h2M127.5 360.0h2M105.4 346.7h2M126.3 357.8h2M118.6 355.1h2M129.0 359.3h2M135.3 346.5h2M121.0 354.1h2M133.2 353.3h2M130.0 349.1h2M129.0 354.3h2M130.9 359.4h2M131.4 357.6h2M119.1 360.6h2M119.6 357.3h2M125.9 360.2h2M118.8 360.9h2M119.2 300.2h2M109.1 355.9h2" stroke="rgb(235,80,60)" stroke-opacity="0.33" stroke-width="2" fill="none"/>
<path d="M103.5 334.7h2M120.1 354.4h2M109.2 358.7h2M128.5 359.6h2M104.9 353.6h2M111.2 357.5h2M104.7 359.7h2M125.6 356.0h2M132.3 360.8h2M124.2 360.4h2M126.9 344.3h2M132.2 338.1h2M113.1 355.9h2M112.4 355.0h2M131.0 358.6h2M118.7 357.9h2M129.5 359.3h2M131.7 358.2h2M130.6 358.6h2M119.6 358.0h2M108.4 358.8h2M105.6 360.2h2M123.1 356.9h2M114.2 357.7h2M132.7 358.6h2M115.6 353.1h2M129.8 359.7h2M120.9 339.0h2M113.4 298.6h2M129.7 354.2h2M108.7 354.9h2M118.8 358.2h2M105.8 248.0h2M135.8 358.5h2M106.7 359.6h2M104.6 353.6h2M129.4 355.8h2M106.1 357.3h2M115.2 358.4h2M107.1 361.1h2M120.3 354.3h2M121.0 358.0h2M118.9 354.8h2M134.7 351.1h2M104.0 360.6h2M111.6 334.8h2" stroke="rgb(235,80,60)" stroke-opacity="0.33" stroke-width="2" fill="none"/>
<path d="M111.5 349.5h2M118.7 353.4h2M110.3 309.3h2M112.9 355.4h2M110.2 314.7h2M128.7 356.2h2M116.1 345.8h2M111.4 357.8h2M130.9 357.8h2M116.2 343.9h2M118.8 356.7h2M114.9 356.9h2M119.7 357.7h2M114.3 355.0h2M105.7 353.1h2M126.4 351.9h2M110.4 301.3h2M107.3 352.9h2M106.9 358.1h2M114.0 347.3h2M123.2 320.7h2M127.6 358.1h2M104.1 357.6h2M104.7 356.6h2M116.7 359.3h2M110.5 347.4h2M132.7 353.2h2M131.2 360.1h2M129.2 355.4h2M123.0 360.3h2M105.0 354.4h2M125.0 358.7h2M120.2 353.2h2M136.0 345.8h2M126.6 325.1h2M119.2 358.6h2M130.7 360.0h2M122.1 358.0h2M126.1 359.1h2M131.6 358.5h2M124.2 360.3h2M117.3 357.2h2M108.6 360.1h2M132.6 355.2h2M124.3 353.6h2M126.6 351.6h2" stroke="rgb(235,80,60)" stroke-opacity="0.33" stroke-width="2" fill="none"/>
<path d="M64.2 250.7h1.2M64.2 276.9h1.2M64.2 328.4h1.2M64.2 347.5h1.2M64.2 298.5h1.2M64.2 322.6h1.2M64.2 349.4h1.2M64.2 335.7h1.2M64.2 313.1h1.2M64.2 308.5h1.2M64.2 306.0h1.2M64.2 314.6h1.2M64.2 323.4h1.2M64.2 344.2h1.2M64.2 318.4h1.2M120.2 246.1h1.2M120.2 343.6h1.2M120.2 285.8h1.2M120.2 328.8h1.2M120.2 329.9h1.2M120.2 334.7h1.2M120.2 345.8h1.2M120.2 344.2h1.2M120.2 284.2h1.2M120.2 273.8h1.2M120.2 320.7h1.2M120.2 342.9h1.2M120.2 339.0h1.2M120.2 286.7h1.2M120.2 314.5h1.2M120.2 309.3h1.2M120.2 310.3h1.2M120.2 338.1h1.2M120.2 298.6h1.2M120.2 301.3h1.2" stroke="#111" stroke-width="1.0" fill="none"/>
<use href="#vE0" fill="none" stroke="#000" stroke-width="1.05"/>
<use href="#vE1" fill="none" stroke="#000" stroke-width="1.05"/>
<line x1="54.30" y1="352.89" x2="75.30" y2="352.89" stroke="#000" stroke-width="1.25"/>
<rect x="60.70" y="351.54" width="8.2" height="2.70" fill="#1a1a1a" fill-opacity="0.85"/>
<line x1="64.80" y1="351.54" x2="64.80" y2="354.24" stroke="#000" stroke-width="0.6"/>
<line x1="111.20" y1="352.44" x2="130.40" y2="352.44" stroke="#000" stroke-width="1.25"/>
<rect x="116.70" y="351.09" width="8.2" height="2.70" fill="#1a1a1a" fill-opacity="0.85"/>
<line x1="120.80" y1="351.09" x2="120.80" y2="353.79" stroke="#000" stroke-width="0.6"/>
<path d="M31.00,237.10 L31.00,366.30 L154.60,366.30" fill="none" stroke="#111" stroke-width="0.9"/>
<line x1="28.20" y1="361.00" x2="31.00" y2="361.00" stroke="#111" stroke-width="0.8"/>
<text x="25.50" y="363.31" font-size="6.6" text-anchor="end" fill="#222">0</text>
<line x1="28.20" y1="338.48" x2="31.00" y2="338.48" stroke="#111" stroke-width="0.8"/>
<text x="25.50" y="340.79" font-size="6.6" text-anchor="end" fill="#222">1</text>
<line x1="28.20" y1="315.96" x2="31.00" y2="315.96" stroke="#111" stroke-width="0.8"/>
<text x="25.50" y="318.27" font-size="6.6" text-anchor="end" fill="#222">2</text>
<line x1="28.20" y1="293.44" x2="31.00" y2="293.44" stroke="#111" stroke-width="0.8"/>
<text x="25.50" y="295.75" font-size="6.6" text-anchor="end" fill="#222">3</text>
<line x1="28.20" y1="270.92" x2="31.00" y2="270.92" stroke="#111" stroke-width="0.8"/>
<text x="25.50" y="273.23" font-size="6.6" text-anchor="end" fill="#222">4</text>
<line x1="28.20" y1="248.40" x2="31.00" y2="248.40" stroke="#111" stroke-width="0.8"/>
<text x="25.50" y="250.71" font-size="6.6" text-anchor="end" fill="#222">5</text>
<line x1="64.80" y1="366.30" x2="64.80" y2="369.10" stroke="#111" stroke-width="0.8"/>
<text x="64.80" y="376.70" font-size="6.6" text-anchor="middle" fill="#222">G1&amp;G2</text>
<line x1="120.80" y1="366.30" x2="120.80" y2="369.10" stroke="#111" stroke-width="0.8"/>
<text x="120.80" y="376.70" font-size="6.6" text-anchor="middle" fill="#222">G3&amp;G4</text>
<text x="64.84" y="386.50" font-size="8.6" textLength="55.93" lengthAdjust="spacingAndGlyphs" fill="#111">Histologic grade</text>
<text transform="translate(7.00,301.70) rotate(-90)" font-size="7.8" text-anchor="middle" fill="#111">The expression of TMC5</text>
<text transform="translate(14.90,326.30) rotate(-90)" font-size="8.4" fill="#111">Log<tspan font-size="6" dy="2.3">2</tspan><tspan font-size="7.6" dy="-2.3"> (TPM+1)</tspan></text>
<path d="M64.80,245.70 L64.80,243.20 L120.80,243.20 L120.80,245.70" fill="none" stroke="#111" stroke-width="0.85"/>
<text x="92.80" y="244.20" font-size="7.0" text-anchor="middle" fill="#222">**</text>
<text x="182.5" y="224.9" font-size="18.0" >F</text>
<defs><path id="vF0" d="M242.1 360.8 242.1 360.0 242.1 359.2 242.2 358.3 242.2 357.5 242.2 356.7 242.3 355.9 242.3 355.0 242.3 354.2 242.3 353.4 242.3 352.6 242.4 351.7 242.4 350.9 242.4 350.1 242.4 349.2 242.4 348.3 242.4 347.5 242.4 346.6 242.5 345.7 242.5 344.9 242.5 344.0 242.5 343.1 242.5 342.2 242.5 341.4 242.5 340.5 242.5 339.6 242.5 338.8 242.5 337.9 242.5 337.0 242.5 336.1 242.5 335.3 242.5 334.4 242.5 333.5 242.6 332.7 242.6 331.8 242.6 330.9 242.6 330.0 242.6 329.2 242.7 328.5 242.7 327.7 242.8 326.9 242.8 326.1 242.9 325.3 243.0 324.5 243.1 323.7 243.2 322.9 243.4 322.1 243.6 321.3 244.0 320.4 244.4 319.6 244.8 318.8 245.2 318.0 245.7 317.2 246.2 316.4 246.7 315.6 247.3 314.8 247.9 314.0 248.5 313.2 249.2 312.4 249.8 311.6 250.5 310.8 251.1 310.0 251.7 309.2 252.4 308.4 253.0 307.6 253.6 306.8 254.3 306.0 254.9 305.2 255.5 304.4 256.2 303.6 256.8 302.9 257.4 302.1 258.1 301.3 258.8 300.5 259.5 299.7 260.2 298.9 260.8 298.1 261.3 297.3 261.8 296.5 262.2 295.7 262.5 294.9 262.9 294.1 263.2 293.2 263.4 292.4 263.6 291.6 263.8 290.8 263.8 290.0 263.8 289.1 263.6 288.3 263.4 287.4 263.2 286.5 263.0 285.7 262.8 284.9 262.5 284.1 262.2 283.3 261.8 282.5 261.4 281.7 261.0 280.9 260.6 280.1 260.1 279.3 259.7 278.5 259.2 277.7 258.8 276.9 258.2 276.1 257.7 275.3 257.1 274.6 256.6 273.8 256.0 273.0 255.3 272.2 254.7 271.4 254.0 270.6 253.3 269.8 252.6 269.0 251.8 268.2 251.0 267.4 250.2 266.6 249.4 265.8 248.6 265.0 247.9 264.2 247.1 263.4 246.2 262.6 245.3 261.8 244.5 260.9 243.8 260.1 243.2 259.3 242.9 258.5 242.8 257.7 242.6 257.0 242.5 256.2 242.5 255.5 242.4 254.7 242.3 254.0 239.9 254.0 239.8 254.7 239.7 255.5 239.7 256.2 239.6 257.0 239.4 257.7 239.3 258.5 239.0 259.3 238.4 260.1 237.7 260.9 236.9 261.8 236.0 262.6 235.1 263.4 234.3 264.2 233.6 265.0 232.8 265.8 232.0 266.6 231.2 267.4 230.4 268.2 229.6 269.0 228.9 269.8 228.2 270.6 227.5 271.4 226.9 272.2 226.2 273.0 225.6 273.8 225.1 274.6 224.5 275.3 224.0 276.1 223.4 276.9 223.0 277.7 222.5 278.5 222.1 279.3 221.6 280.1 221.2 280.9 220.8 281.7 220.4 282.5 220.0 283.3 219.7 284.1 219.4 284.9 219.2 285.7 219.0 286.5 218.8 287.4 218.6 288.3 218.4 289.1 218.4 290.0 218.4 290.8 218.6 291.6 218.8 292.4 219.0 293.2 219.3 294.1 219.7 294.9 220.0 295.7 220.4 296.5 220.9 297.3 221.4 298.1 222.0 298.9 222.7 299.7 223.4 300.5 224.1 301.3 224.8 302.1 225.4 302.9 226.0 303.6 226.7 304.4 227.3 305.2 227.9 306.0 228.6 306.8 229.2 307.6 229.8 308.4 230.5 309.2 231.1 310.0 231.7 310.8 232.4 311.6 233.0 312.4 233.7 313.2 234.3 314.0 234.9 314.8 235.5 315.6 236.0 316.4 236.5 317.2 237.0 318.0 237.4 318.8 237.8 319.6 238.2 320.4 238.6 321.3 238.8 322.1 239.0 322.9 239.1 323.7 239.2 324.5 239.3 325.3 239.4 326.1 239.4 326.9 239.5 327.7 239.5 328.5 239.6 329.2 239.6 330.0 239.6 330.9 239.6 331.8 239.6 332.7 239.7 333.5 239.7 334.4 239.7 335.3 239.7 336.1 239.7 337.0 239.7 337.9 239.7 338.8 239.7 339.6 239.7 340.5 239.7 341.4 239.7 342.2 239.7 343.1 239.7 344.0 239.7 344.9 239.7 345.7 239.8 346.6 239.8 347.5 239.8 348.3 239.8 349.2 239.8 350.1 239.8 350.9 239.8 351.7 239.9 352.6 239.9 353.4 239.9 354.2 239.9 355.0 239.9 355.9 240.0 356.7 240.0 357.5 240.0 358.3 240.1 359.2 240.1 360.0 240.1 360.8Z"/></defs><use href="#vF0" fill="#a9dcea"/>
<defs><path id="vF1" d="M298.1 350.3 298.1 349.5 298.2 348.6 298.2 347.8 298.2 346.9 298.2 346.0 298.3 345.2 298.3 344.3 298.3 343.5 298.3 342.6 298.4 341.8 298.4 340.9 298.4 340.1 298.4 339.2 298.5 338.4 298.5 337.5 298.6 336.7 298.6 335.8 298.6 335.0 298.7 334.1 298.8 333.3 298.8 332.5 298.9 331.6 299.0 330.8 299.2 330.0 299.3 329.2 299.4 328.3 299.6 327.5 299.8 326.7 300.1 325.9 300.4 325.0 300.9 324.2 301.4 323.3 302.0 322.5 302.6 321.6 303.2 320.8 303.8 319.9 304.4 319.1 304.9 318.3 305.5 317.4 306.1 316.6 306.7 315.8 307.2 315.0 307.8 314.1 308.4 313.3 309.0 312.5 309.6 311.7 310.2 310.9 310.9 310.0 311.5 309.2 312.2 308.4 312.8 307.6 313.4 306.7 314.0 305.9 314.4 305.1 314.8 304.3 315.1 303.4 315.4 302.6 315.7 301.7 316.0 300.9 316.2 300.0 316.4 299.2 316.6 298.3 316.7 297.5 316.7 296.7 316.7 295.8 316.7 295.0 316.6 294.2 316.5 293.4 316.4 292.5 316.3 291.7 316.2 290.9 316.1 290.1 316.0 289.3 315.9 288.4 315.7 287.6 315.5 286.8 315.2 286.0 314.9 285.2 314.6 284.3 314.3 283.5 314.0 282.7 313.7 281.9 313.4 281.0 313.0 280.2 312.6 279.3 312.2 278.5 311.8 277.6 311.4 276.8 310.9 275.9 310.5 275.1 310.0 274.2 309.5 273.4 309.1 272.6 308.5 271.8 308.0 270.9 307.5 270.1 307.0 269.3 306.5 268.5 306.0 267.7 305.5 266.8 305.1 266.0 304.6 265.2 304.2 264.4 303.7 263.6 303.3 262.7 302.9 261.9 302.5 261.1 302.2 260.3 301.8 259.4 301.4 258.6 301.1 257.8 300.7 256.9 300.4 256.1 300.0 255.2 299.7 254.4 299.5 253.5 299.2 252.7 299.0 251.8 298.8 251.0 298.7 250.2 298.6 249.4 298.5 248.5 298.3 247.7 298.2 246.9 298.1 246.1 296.5 246.1 296.4 246.9 296.3 247.7 296.1 248.5 296.0 249.4 295.9 250.2 295.8 251.0 295.6 251.8 295.4 252.7 295.1 253.5 294.9 254.4 294.6 255.2 294.2 256.1 293.9 256.9 293.5 257.8 293.2 258.6 292.8 259.4 292.4 260.3 292.1 261.1 291.7 261.9 291.3 262.7 290.9 263.6 290.4 264.4 290.0 265.2 289.5 266.0 289.1 266.8 288.6 267.7 288.1 268.5 287.6 269.3 287.1 270.1 286.6 270.9 286.1 271.8 285.5 272.6 285.1 273.4 284.6 274.2 284.1 275.1 283.7 275.9 283.2 276.8 282.8 277.6 282.4 278.5 282.0 279.3 281.6 280.2 281.2 281.0 280.9 281.9 280.6 282.7 280.3 283.5 280.0 284.3 279.7 285.2 279.4 286.0 279.1 286.8 278.9 287.6 278.7 288.4 278.6 289.3 278.5 290.1 278.4 290.9 278.3 291.7 278.2 292.5 278.1 293.4 278.0 294.2 277.9 295.0 277.9 295.8 277.9 296.7 277.9 297.5 278.0 298.3 278.2 299.2 278.4 300.0 278.6 300.9 278.9 301.7 279.2 302.6 279.5 303.4 279.8 304.3 280.2 305.1 280.6 305.9 281.2 306.7 281.8 307.6 282.4 308.4 283.1 309.2 283.7 310.0 284.4 310.9 285.0 311.7 285.6 312.5 286.2 313.3 286.8 314.1 287.4 315.0 287.9 315.8 288.5 316.6 289.1 317.4 289.7 318.3 290.2 319.1 290.8 319.9 291.4 320.8 292.0 321.6 292.6 322.5 293.2 323.3 293.7 324.2 294.2 325.0 294.5 325.9 294.8 326.7 295.0 327.5 295.2 328.3 295.3 329.2 295.4 330.0 295.6 330.8 295.7 331.6 295.8 332.5 295.8 333.3 295.9 334.1 296.0 335.0 296.0 335.8 296.0 336.7 296.1 337.5 296.1 338.4 296.2 339.2 296.2 340.1 296.2 340.9 296.2 341.8 296.3 342.6 296.3 343.5 296.3 344.3 296.3 345.2 296.4 346.0 296.4 346.9 296.4 347.8 296.4 348.6 296.5 349.5 296.5 350.3Z"/></defs><use href="#vF1" fill="#f3a69b"/>
<path d="M228.1 263.4h2M238.0 292.6h2M242.5 293.2h2M255.7 302.6h2M235.6 303.9h2M246.3 273.5h2M239.0 294.8h2M247.1 290.5h2M234.0 274.8h2M241.5 281.1h2M225.7 321.4h2M237.9 300.5h2M227.1 314.1h2M246.5 313.4h2M224.8 271.1h2M243.2 283.0h2M245.7 285.6h2M228.2 322.5h2M227.2 268.9h2M254.6 309.1h2M230.6 273.2h2M238.2 285.7h2M229.4 263.3h2M235.9 316.8h2M247.1 302.7h2M238.2 286.7h2M240.0 261.1h2M235.0 293.5h2M247.0 260.6h2M242.7 303.3h2M223.7 297.4h2M247.2 281.6h2M227.7 264.4h2" stroke="rgb(91,192,222)" stroke-opacity="0.33" stroke-width="2" fill="none"/>
<path d="M230.0 297.0h2M246.2 321.5h2M241.2 303.9h2M225.7 296.1h2M254.5 270.7h2M239.0 290.0h2M229.8 316.8h2M225.8 268.3h2M230.2 325.9h2M239.0 294.0h2M242.5 311.5h2M234.8 287.4h2M225.8 316.3h2M244.8 272.7h2M249.3 280.1h2M239.9 333.2h2M248.4 319.0h2M241.0 269.4h2M226.4 312.4h2M255.4 282.3h2M253.3 305.8h2M227.7 317.0h2M231.5 301.9h2M251.4 319.6h2M242.6 283.8h2M230.3 272.9h2M246.1 272.6h2M242.8 305.8h2M228.9 276.0h2M233.5 286.7h2M229.6 306.2h2M235.7 300.3h2M256.8 292.5h2" stroke="rgb(91,192,222)" stroke-opacity="0.33" stroke-width="2" fill="none"/>
<path d="M245.5 280.4h2M229.8 290.1h2M229.7 308.0h2M254.0 287.8h2M246.2 320.0h2M244.8 290.6h2M238.0 273.3h2M249.8 311.1h2M234.2 283.3h2M232.2 292.1h2M238.9 283.8h2M256.2 279.5h2M225.7 269.7h2M256.3 334.8h2M255.1 305.7h2M243.7 277.0h2M239.2 266.2h2M241.1 300.2h2M231.6 316.6h2M245.3 294.9h2M245.2 289.5h2M232.7 275.3h2M226.7 289.3h2M231.6 273.3h2M230.5 310.9h2M236.8 285.0h2M249.4 299.5h2M251.8 320.0h2M247.2 287.7h2M229.9 322.8h2M244.5 333.1h2M242.1 285.4h2M234.5 284.3h2" stroke="rgb(91,192,222)" stroke-opacity="0.33" stroke-width="2" fill="none"/>
<path d="M255.9 286.6h2M245.9 286.0h2M230.5 275.8h2M248.2 292.5h2M248.4 269.0h2M229.2 313.8h2M251.6 285.0h2M227.3 341.8h2M223.4 312.9h2M244.6 291.1h2M228.8 282.9h2M231.4 274.0h2M254.6 287.5h2M230.1 299.2h2M252.9 303.6h2M237.9 345.1h2M223.9 332.1h2M239.6 310.4h2M238.0 300.2h2M243.3 316.0h2M238.0 276.4h2M242.7 305.6h2M237.9 277.6h2M241.7 292.7h2M237.7 295.4h2M238.3 326.7h2M234.4 275.0h2M223.1 309.0h2M241.5 361.5h2M236.7 277.5h2M234.7 288.5h2M236.1 292.2h2M238.2 314.7h2" stroke="rgb(91,192,222)" stroke-opacity="0.33" stroke-width="2" fill="none"/>
<path d="M252.9 292.0h2M250.5 311.8h2M249.0 292.8h2M250.2 309.7h2M230.4 289.2h2M250.0 282.4h2M234.4 280.2h2M232.7 293.6h2M239.3 313.1h2M224.3 290.1h2M234.1 331.9h2M235.0 318.6h2M255.5 280.3h2M243.3 285.8h2M246.3 272.0h2M224.7 286.9h2M243.3 265.8h2M255.7 294.2h2M249.2 300.2h2M234.5 268.9h2M252.9 283.2h2M244.2 311.5h2M254.9 309.7h2M242.3 305.0h2M248.9 298.3h2M223.7 291.4h2M247.3 352.2h2M247.3 303.9h2M243.9 306.2h2M254.8 277.2h2M225.4 269.4h2M227.5 263.3h2M248.6 283.6h2" stroke="rgb(91,192,222)" stroke-opacity="0.33" stroke-width="2" fill="none"/>
<path d="M255.7 270.9h2M231.4 287.1h2M249.6 305.9h2M235.1 285.4h2M231.5 287.2h2M230.2 331.1h2M231.2 317.0h2M233.7 294.5h2M249.4 330.3h2M247.5 321.1h2M243.9 284.2h2M224.0 290.7h2M233.8 295.5h2M255.7 306.0h2M241.3 306.6h2M251.5 276.4h2M243.8 290.1h2M236.2 266.4h2M252.9 292.7h2M243.0 279.8h2M251.7 299.6h2M253.7 281.9h2M253.3 299.8h2M254.4 286.1h2M246.5 286.7h2M242.5 303.5h2M237.7 291.6h2M235.1 300.6h2M234.7 279.5h2M254.6 265.9h2M224.1 292.4h2M238.1 291.1h2M229.2 290.8h2" stroke="rgb(91,192,222)" stroke-opacity="0.33" stroke-width="2" fill="none"/>
<path d="M226.2 280.9h2M238.2 281.5h2M225.4 305.9h2M254.2 256.7h2M246.0 276.4h2M256.1 274.1h2M246.4 275.4h2M235.4 289.8h2M254.5 259.1h2M250.2 292.4h2M253.0 294.7h2M246.7 298.4h2M248.6 285.2h2M230.6 295.8h2M225.7 292.5h2M250.9 304.9h2M233.4 279.1h2M223.6 301.6h2M238.0 267.5h2M237.8 290.4h2M233.0 294.3h2M233.7 276.4h2M236.2 307.5h2M254.6 289.3h2M227.1 285.0h2M248.4 294.5h2M240.1 300.1h2M234.0 294.1h2M250.1 296.7h2M230.9 295.2h2M240.4 290.0h2M255.8 285.4h2" stroke="rgb(91,192,222)" stroke-opacity="0.33" stroke-width="2" fill="none"/>
<path d="M226.2 316.7h2M254.5 303.2h2M226.9 294.6h2M256.1 276.7h2M225.9 274.8h2M233.5 277.5h2M247.6 271.7h2M256.6 349.2h2M226.7 291.3h2M251.6 290.2h2M240.1 305.9h2M238.6 268.8h2M228.7 310.4h2M251.2 303.6h2M224.5 308.1h2M243.1 283.3h2M238.5 267.1h2M239.6 282.4h2M237.3 294.8h2M234.7 295.7h2M247.3 288.4h2M246.8 281.4h2M254.5 327.5h2M255.5 267.6h2M233.4 285.7h2M253.0 267.0h2M234.2 270.1h2M238.2 325.5h2M241.6 288.6h2M236.8 293.2h2M225.9 335.3h2M241.8 268.7h2" stroke="rgb(91,192,222)" stroke-opacity="0.33" stroke-width="2" fill="none"/>
<path d="M307.0 296.7h2M303.9 296.8h2M281.1 273.6h2M282.5 280.6h2M311.2 311.4h2M312.2 310.9h2M309.1 300.0h2M281.0 307.5h2M303.8 294.6h2M297.2 275.2h2M312.5 332.9h2M284.6 311.8h2M286.3 300.7h2M305.4 291.0h2M300.5 288.2h2M307.3 288.9h2M286.7 312.3h2M291.1 283.2h2M302.5 251.9h2M285.0 279.4h2M299.0 309.2h2M296.8 335.2h2M308.3 269.5h2M312.6 327.3h2M305.6 247.9h2M281.4 262.5h2M286.2 299.1h2M286.8 277.6h2M303.5 274.6h2M285.8 257.2h2M312.3 304.2h2M308.5 311.8h2" stroke="rgb(235,80,60)" stroke-opacity="0.33" stroke-width="2" fill="none"/>
<path d="M305.0 285.8h2M286.9 341.0h2M307.0 258.0h2M307.0 283.0h2M289.2 273.3h2M301.5 284.9h2M284.3 274.5h2M307.0 296.6h2M311.7 262.5h2M280.5 284.6h2M303.8 263.3h2M300.4 298.7h2M303.7 283.9h2M309.7 275.7h2M308.1 313.0h2M294.8 283.0h2M310.5 278.4h2M288.1 300.5h2M285.7 322.5h2M292.0 282.6h2M282.0 320.5h2M286.7 305.9h2M310.4 324.0h2M302.2 265.9h2M311.0 282.4h2M289.4 285.7h2M298.7 262.0h2M302.1 309.3h2M294.3 323.8h2M293.0 315.8h2M306.2 319.7h2M288.8 310.7h2" stroke="rgb(235,80,60)" stroke-opacity="0.33" stroke-width="2" fill="none"/>
<path d="M285.1 285.3h2M285.3 345.3h2M302.8 292.0h2M292.4 296.9h2M284.3 299.7h2M293.5 312.2h2M288.9 309.5h2M297.8 268.7h2M282.8 278.3h2M313.0 290.2h2M300.1 314.7h2M302.5 319.8h2M284.1 276.0h2M302.7 335.2h2M287.5 308.7h2M296.6 279.1h2M297.4 287.1h2M298.5 280.5h2M296.1 293.3h2M299.6 267.6h2M286.1 282.6h2M280.7 317.0h2M287.0 292.0h2M300.3 294.6h2M291.5 287.0h2M309.4 267.1h2M283.9 298.2h2M288.0 310.9h2M311.7 338.9h2M312.2 285.7h2M297.4 289.9h2M300.1 296.2h2" stroke="rgb(235,80,60)" stroke-opacity="0.33" stroke-width="2" fill="none"/>
<path d="M308.1 288.3h2M303.0 296.5h2M293.0 294.1h2M293.8 311.0h2M282.5 289.5h2M309.4 320.1h2M302.2 283.2h2M282.9 296.8h2M294.2 290.7h2M284.3 320.1h2M293.2 296.9h2M290.0 251.1h2M303.3 288.0h2M309.1 311.4h2M289.9 270.5h2M300.9 267.0h2M310.9 284.4h2M281.7 263.9h2M312.1 273.7h2M310.3 264.8h2M310.9 293.6h2M308.6 299.2h2M288.3 309.2h2M299.2 256.5h2M287.3 280.9h2M307.7 329.3h2M292.6 298.4h2M305.4 301.4h2M284.7 303.5h2M284.5 287.7h2M303.8 280.2h2M280.0 319.0h2" stroke="rgb(235,80,60)" stroke-opacity="0.33" stroke-width="2" fill="none"/>
<path d="M288.7 272.3h2M296.8 268.9h2M291.0 320.4h2M310.4 306.9h2M291.7 288.2h2M282.7 289.6h2M296.7 318.1h2M299.2 274.8h2M287.5 281.5h2M298.1 272.5h2M287.0 303.4h2M288.4 299.7h2M300.9 274.4h2M311.7 323.8h2M303.2 329.2h2M292.1 268.4h2M294.1 275.6h2M298.5 285.4h2M283.6 286.0h2M286.2 273.3h2M288.4 349.6h2M287.9 295.4h2M311.4 266.8h2M297.9 286.7h2M293.6 313.9h2M304.8 313.3h2M310.6 288.6h2M299.4 285.3h2M280.6 301.5h2M288.4 291.2h2M303.9 303.2h2M299.0 276.0h2" stroke="rgb(235,80,60)" stroke-opacity="0.33" stroke-width="2" fill="none"/>
<path d="M293.9 300.0h2M294.7 304.1h2M301.3 325.4h2M306.5 298.6h2M301.8 322.8h2M289.4 301.0h2M312.4 273.2h2M295.9 311.6h2M301.7 279.6h2M282.6 278.0h2M293.3 310.3h2M291.9 279.4h2M279.7 331.9h2M309.1 288.1h2M280.5 286.5h2M304.1 304.2h2M306.5 287.2h2M301.3 317.2h2M298.6 298.3h2M308.2 277.3h2M285.2 314.4h2M280.6 291.0h2M296.4 291.9h2M304.0 302.0h2M297.7 279.3h2M293.2 285.7h2M286.7 302.4h2M308.6 307.7h2M285.3 289.5h2M285.7 281.5h2M308.8 280.9h2M303.1 290.2h2" stroke="rgb(235,80,60)" stroke-opacity="0.33" stroke-width="2" fill="none"/>
<path d="M306.1 301.9h2M306.4 275.4h2M306.5 302.8h2M312.9 309.7h2M294.7 281.0h2M295.8 297.5h2M296.1 328.9h2M301.6 304.9h2M300.5 284.9h2M287.5 277.7h2M285.3 268.9h2M287.9 280.4h2M295.8 308.7h2M291.1 311.0h2M285.7 303.7h2M288.2 317.3h2M286.8 298.6h2M281.1 271.8h2M312.6 291.3h2M293.0 307.6h2M287.8 293.3h2M313.3 270.3h2M300.5 291.0h2M306.8 308.7h2M295.1 323.0h2M305.2 283.4h2M305.1 273.5h2M298.6 297.4h2M306.3 332.6h2M309.6 287.2h2M283.6 291.1h2M296.2 305.5h2" stroke="rgb(235,80,60)" stroke-opacity="0.33" stroke-width="2" fill="none"/>
<path d="M307.0 269.5h2M279.4 281.9h2M304.9 300.9h2M299.6 328.9h2M284.6 311.4h2M297.2 312.9h2M299.0 278.6h2M292.8 272.8h2M288.3 301.9h2M306.7 299.2h2M293.0 283.9h2M313.1 296.3h2M306.8 269.8h2M297.6 274.6h2M312.4 287.8h2M308.3 314.6h2M311.2 311.2h2M289.5 290.1h2M309.6 304.7h2M292.4 330.5h2M296.9 271.0h2M303.8 297.4h2M283.4 318.6h2M302.5 306.0h2M309.4 320.0h2M294.2 289.0h2M281.2 292.0h2M284.7 273.8h2M308.6 275.0h2M284.3 288.3h2M296.3 286.4h2M305.5 288.6h2" stroke="rgb(235,80,60)" stroke-opacity="0.33" stroke-width="2" fill="none"/>
<use href="#vF0" fill="none" stroke="#000" stroke-width="1.05"/>
<use href="#vF1" fill="none" stroke="#000" stroke-width="1.05"/>
<line x1="231.40" y1="292.84" x2="250.80" y2="292.84" stroke="#000" stroke-width="1.25"/>
<rect x="237.00" y="291.49" width="8.2" height="2.70" fill="#1a1a1a" fill-opacity="0.85"/>
<line x1="241.10" y1="291.49" x2="241.10" y2="294.19" stroke="#000" stroke-width="0.6"/>
<line x1="287.60" y1="294.03" x2="307.00" y2="294.03" stroke="#000" stroke-width="1.25"/>
<rect x="293.20" y="292.68" width="8.2" height="2.70" fill="#1a1a1a" fill-opacity="0.85"/>
<line x1="297.30" y1="292.68" x2="297.30" y2="295.38" stroke="#000" stroke-width="0.6"/>
<path d="M207.80,237.10 L207.80,366.30 L330.30,366.30" fill="none" stroke="#111" stroke-width="0.9"/>
<line x1="205.00" y1="349.60" x2="207.80" y2="349.60" stroke="#111" stroke-width="0.8"/>
<text x="202.30" y="351.91" font-size="6.6" text-anchor="end" fill="#222">1</text>
<line x1="205.00" y1="325.75" x2="207.80" y2="325.75" stroke="#111" stroke-width="0.8"/>
<text x="202.30" y="328.06" font-size="6.6" text-anchor="end" fill="#222">2</text>
<line x1="205.00" y1="301.90" x2="207.80" y2="301.90" stroke="#111" stroke-width="0.8"/>
<text x="202.30" y="304.21" font-size="6.6" text-anchor="end" fill="#222">3</text>
<line x1="205.00" y1="278.05" x2="207.80" y2="278.05" stroke="#111" stroke-width="0.8"/>
<text x="202.30" y="280.36" font-size="6.6" text-anchor="end" fill="#222">4</text>
<line x1="205.00" y1="254.20" x2="207.80" y2="254.20" stroke="#111" stroke-width="0.8"/>
<text x="202.30" y="256.51" font-size="6.6" text-anchor="end" fill="#222">5</text>
<line x1="241.10" y1="366.30" x2="241.10" y2="369.10" stroke="#111" stroke-width="0.8"/>
<text x="241.10" y="376.70" font-size="6.6" text-anchor="middle" fill="#222">G1&amp;G2</text>
<line x1="297.30" y1="366.30" x2="297.30" y2="369.10" stroke="#111" stroke-width="0.8"/>
<text x="297.30" y="376.70" font-size="6.6" text-anchor="middle" fill="#222">G3&amp;G4</text>
<text x="241.09" y="386.50" font-size="8.6" textLength="55.93" lengthAdjust="spacingAndGlyphs" fill="#111">Histologic grade</text>
<text transform="translate(183.20,301.70) rotate(-90)" font-size="7.8" text-anchor="middle" fill="#111">The expression of TMC6</text>
<text transform="translate(191.50,326.30) rotate(-90)" font-size="8.4" fill="#111">Log<tspan font-size="6" dy="2.3">2</tspan><tspan font-size="7.6" dy="-2.3"> (TPM+1)</tspan></text>
<path d="M241.10,245.70 L241.10,243.20 L297.30,243.20 L297.30,245.70" fill="none" stroke="#111" stroke-width="0.85"/>
<text x="269.20" y="241.90" font-size="6.5" text-anchor="middle" fill="#222">ns</text>
<text x="352.4" y="224.9" font-size="18.0" >G</text>
<defs><path id="vG0" d="M418.5 359.7 418.7 359.0 418.9 358.3 419.0 357.6 419.2 356.9 419.4 356.2 419.6 355.5 419.8 354.8 419.9 354.0 420.1 353.3 420.3 352.6 420.6 351.9 420.8 351.2 421.1 350.5 421.3 349.8 421.6 349.1 421.9 348.4 422.3 347.7 422.6 347.0 422.9 346.3 423.3 345.6 423.6 344.8 424.0 344.1 424.3 343.4 424.7 342.6 425.0 341.9 425.4 341.1 425.8 340.4 426.2 339.7 426.6 338.9 427.0 338.2 427.4 337.5 427.9 336.8 428.3 336.1 428.8 335.4 429.3 334.7 429.8 334.0 430.2 333.3 430.7 332.6 431.1 331.8 431.5 331.1 432.0 330.4 432.4 329.6 432.9 328.9 433.3 328.2 433.7 327.4 434.1 326.7 434.4 325.9 434.7 325.2 435.0 324.5 435.2 323.8 435.4 323.1 435.7 322.4 435.9 321.7 436.0 321.0 436.2 320.3 436.3 319.6 436.4 318.9 436.5 318.1 436.5 317.4 436.6 316.6 436.7 315.9 436.7 315.2 436.7 314.4 436.8 313.7 436.8 312.9 436.8 312.2 436.8 311.5 436.8 310.7 436.7 310.0 436.7 309.2 436.6 308.5 436.5 307.8 436.5 307.0 436.4 306.3 436.3 305.5 436.2 304.8 436.0 304.1 435.8 303.4 435.6 302.7 435.4 302.0 435.1 301.3 434.8 300.6 434.6 299.9 434.3 299.2 434.0 298.5 433.8 297.7 433.5 297.0 433.2 296.2 432.9 295.5 432.6 294.8 432.3 294.0 431.9 293.3 431.6 292.5 431.3 291.8 430.9 291.1 430.6 290.4 430.2 289.7 429.8 289.0 429.4 288.3 429.0 287.6 428.7 286.9 428.3 286.2 427.9 285.5 427.5 284.7 427.2 284.0 426.8 283.2 426.4 282.5 426.0 281.8 425.7 281.0 425.3 280.3 424.9 279.5 424.5 278.8 424.1 278.1 423.7 277.3 423.3 276.6 422.8 275.8 422.4 275.1 422.0 274.4 421.7 273.6 421.3 272.9 421.0 272.2 420.7 271.5 420.4 270.7 420.1 270.0 419.8 269.3 419.6 268.6 419.3 267.9 419.0 267.2 416.4 267.2 416.1 267.9 415.8 268.6 415.6 269.3 415.3 270.0 415.0 270.7 414.7 271.5 414.4 272.2 414.1 272.9 413.7 273.6 413.4 274.4 413.0 275.1 412.6 275.8 412.1 276.6 411.7 277.3 411.3 278.1 410.9 278.8 410.5 279.5 410.1 280.3 409.7 281.0 409.4 281.8 409.0 282.5 408.6 283.2 408.2 284.0 407.9 284.7 407.5 285.5 407.1 286.2 406.7 286.9 406.4 287.6 406.0 288.3 405.6 289.0 405.2 289.7 404.8 290.4 404.5 291.1 404.1 291.8 403.8 292.5 403.5 293.3 403.1 294.0 402.8 294.8 402.5 295.5 402.2 296.2 401.9 297.0 401.6 297.7 401.4 298.5 401.1 299.2 400.8 299.9 400.6 300.6 400.3 301.3 400.0 302.0 399.8 302.7 399.6 303.4 399.4 304.1 399.2 304.8 399.1 305.5 399.0 306.3 398.9 307.0 398.9 307.8 398.8 308.5 398.7 309.2 398.7 310.0 398.6 310.7 398.6 311.5 398.6 312.2 398.6 312.9 398.6 313.7 398.7 314.4 398.7 315.2 398.7 315.9 398.8 316.6 398.9 317.4 398.9 318.1 399.0 318.9 399.1 319.6 399.2 320.3 399.4 321.0 399.5 321.7 399.7 322.4 400.0 323.1 400.2 323.8 400.4 324.5 400.7 325.2 401.0 325.9 401.3 326.7 401.7 327.4 402.1 328.2 402.5 328.9 403.0 329.6 403.4 330.4 403.9 331.1 404.3 331.8 404.7 332.6 405.2 333.3 405.6 334.0 406.1 334.7 406.6 335.4 407.1 336.1 407.5 336.8 408.0 337.5 408.4 338.2 408.8 338.9 409.2 339.7 409.6 340.4 410.0 341.1 410.4 341.9 410.7 342.6 411.1 343.4 411.4 344.1 411.8 344.8 412.1 345.6 412.5 346.3 412.8 347.0 413.1 347.7 413.5 348.4 413.8 349.1 414.1 349.8 414.3 350.5 414.6 351.2 414.8 351.9 415.1 352.6 415.3 353.3 415.5 354.0 415.6 354.8 415.8 355.5 416.0 356.2 416.2 356.9 416.4 357.6 416.5 358.3 416.7 359.0 416.9 359.7Z"/></defs><use href="#vG0" fill="#a9dcea"/>
<defs><path id="vG1" d="M474.9 361.3 475.2 360.5 475.5 359.7 475.9 358.9 476.2 358.0 476.6 357.2 477.2 356.3 477.9 355.3 478.6 354.4 479.4 353.4 480.1 352.5 480.8 351.5 481.5 350.6 482.2 349.6 482.9 348.6 483.6 347.7 484.2 346.7 484.7 345.9 485.1 345.0 485.5 344.2 485.9 343.3 486.3 342.4 486.7 341.6 487.2 340.7 487.8 339.8 488.4 338.8 489.1 337.9 489.7 336.9 490.4 336.0 491.0 335.0 491.5 334.2 492.1 333.3 492.7 332.4 493.2 331.6 493.7 330.7 494.1 329.9 494.5 329.0 494.8 328.1 495.2 327.3 495.5 326.4 495.8 325.6 496.1 324.7 496.2 323.8 496.3 323.0 496.3 322.0 496.2 321.1 496.1 320.1 495.9 319.2 495.8 318.2 495.6 317.3 495.4 316.4 495.2 315.5 494.9 314.7 494.5 313.8 494.2 313.0 493.8 312.1 493.4 311.2 492.9 310.3 492.4 309.3 491.8 308.4 491.2 307.4 490.6 306.5 490.0 305.5 489.5 304.7 489.0 303.8 488.5 303.0 488.0 302.1 487.5 301.2 487.0 300.4 486.5 299.5 486.0 298.7 485.4 297.8 484.8 296.9 484.2 296.1 483.6 295.2 483.0 294.4 482.4 293.5 481.7 292.5 481.0 291.6 480.3 290.6 479.6 289.7 478.9 288.7 478.3 287.8 477.8 286.9 477.3 286.1 476.8 285.2 476.4 284.3 476.0 283.5 475.7 282.6 475.4 281.8 475.2 280.9 474.9 280.0 474.8 279.1 474.6 278.2 474.5 277.3 474.4 276.5 474.4 275.7 474.3 274.9 474.3 274.2 474.3 273.2 474.3 272.3 474.3 271.3 474.2 270.4 474.2 269.4 474.2 268.4 474.2 267.5 474.2 266.5 474.2 265.6 474.2 264.6 474.2 263.7 474.2 262.7 474.1 261.8 474.1 260.8 474.1 259.9 474.1 258.9 474.1 258.0 474.1 257.0 474.1 256.1 474.1 255.1 474.1 254.2 474.1 253.2 474.1 252.3 474.1 251.3 474.1 250.4 474.1 249.4 474.1 248.5 474.1 247.5 474.1 246.6 474.0 245.6 473.8 245.6 473.7 246.6 473.7 247.5 473.7 248.5 473.7 249.4 473.7 250.4 473.7 251.3 473.7 252.3 473.7 253.2 473.7 254.2 473.7 255.1 473.7 256.1 473.7 257.0 473.7 258.0 473.7 258.9 473.7 259.9 473.7 260.8 473.7 261.8 473.6 262.7 473.6 263.7 473.6 264.6 473.6 265.6 473.6 266.5 473.6 267.5 473.6 268.4 473.6 269.4 473.6 270.4 473.5 271.3 473.5 272.3 473.5 273.2 473.5 274.2 473.5 274.9 473.4 275.7 473.4 276.5 473.3 277.3 473.2 278.2 473.0 279.1 472.9 280.0 472.6 280.9 472.4 281.8 472.1 282.6 471.8 283.5 471.4 284.3 471.0 285.2 470.5 286.1 470.0 286.9 469.5 287.8 468.9 288.7 468.2 289.7 467.5 290.6 466.8 291.6 466.1 292.5 465.4 293.5 464.8 294.4 464.2 295.2 463.6 296.1 463.0 296.9 462.4 297.8 461.8 298.7 461.3 299.5 460.8 300.4 460.3 301.2 459.8 302.1 459.3 303.0 458.8 303.8 458.3 304.7 457.8 305.5 457.2 306.5 456.6 307.4 456.0 308.4 455.4 309.3 454.9 310.3 454.4 311.2 454.0 312.1 453.6 313.0 453.3 313.8 452.9 314.7 452.6 315.5 452.4 316.4 452.2 317.3 452.0 318.2 451.9 319.2 451.7 320.1 451.6 321.1 451.5 322.0 451.5 323.0 451.6 323.8 451.7 324.7 452.0 325.6 452.3 326.4 452.6 327.3 453.0 328.1 453.3 329.0 453.7 329.9 454.1 330.7 454.6 331.6 455.1 332.4 455.7 333.3 456.3 334.2 456.8 335.0 457.4 336.0 458.1 336.9 458.7 337.9 459.4 338.8 460.0 339.8 460.6 340.7 461.1 341.6 461.5 342.4 461.9 343.3 462.3 344.2 462.7 345.0 463.1 345.9 463.6 346.7 464.2 347.7 464.9 348.6 465.6 349.6 466.3 350.6 467.0 351.5 467.7 352.5 468.4 353.4 469.2 354.4 469.9 355.3 470.6 356.3 471.2 357.2 471.6 358.0 471.9 358.9 472.3 359.7 472.6 360.5 472.9 361.3Z"/></defs><use href="#vG1" fill="#f3a69b"/>
<path d="M404.5 334.6h2M427.5 322.7h2M420.4 291.9h2M402.0 312.5h2M415.0 305.5h2M403.3 307.2h2M424.1 304.4h2M422.1 280.1h2M403.8 330.4h2M406.0 321.7h2M413.6 311.1h2M401.1 313.1h2M426.3 311.2h2M407.1 312.7h2M428.1 306.3h2M428.6 304.3h2M407.5 309.6h2M408.9 315.5h2M410.5 294.6h2M411.5 312.4h2M424.2 290.1h2M409.1 315.1h2M418.8 324.3h2M433.6 331.2h2M412.1 310.4h2M411.1 323.2h2M420.9 336.2h2M433.0 288.9h2M403.4 318.0h2M430.1 330.0h2M406.8 322.1h2" stroke="rgb(91,192,222)" stroke-opacity="0.33" stroke-width="2" fill="none"/>
<path d="M420.3 329.5h2M420.4 345.9h2M431.6 298.7h2M412.1 323.4h2M408.2 293.1h2M414.5 325.1h2M417.3 329.0h2M406.9 271.4h2M408.7 305.7h2M424.0 318.2h2M428.4 325.1h2M407.0 292.8h2M409.0 294.4h2M416.7 333.4h2M405.1 288.1h2M407.8 288.5h2M419.9 320.7h2M422.1 331.0h2M402.9 314.0h2M420.1 311.9h2M400.2 328.1h2M411.8 298.0h2M406.9 310.1h2M418.0 308.9h2M427.2 310.3h2M420.4 286.4h2M402.2 338.9h2M428.3 354.2h2M429.6 313.7h2M405.8 331.4h2M433.0 308.5h2" stroke="rgb(91,192,222)" stroke-opacity="0.33" stroke-width="2" fill="none"/>
<path d="M431.6 311.3h2M412.6 296.7h2M418.8 324.1h2M404.2 334.4h2M417.5 315.5h2M414.3 274.0h2M427.8 300.0h2M429.5 320.6h2M407.2 278.7h2M430.5 290.9h2M407.4 320.9h2M430.9 328.6h2M411.3 317.2h2M427.7 340.4h2M408.0 339.8h2M432.7 304.1h2M406.3 333.3h2M414.0 318.3h2M430.4 340.0h2M424.7 330.6h2M417.2 316.5h2M409.4 321.7h2M407.2 298.3h2M415.1 306.2h2M410.2 312.0h2M419.6 316.9h2M420.3 342.4h2M416.0 338.1h2M409.0 295.0h2M410.4 341.1h2M428.2 325.9h2" stroke="rgb(91,192,222)" stroke-opacity="0.33" stroke-width="2" fill="none"/>
<path d="M413.4 316.6h2M415.7 325.0h2M407.5 281.1h2M419.3 295.7h2M402.7 284.5h2M428.6 321.5h2M430.0 330.4h2M421.5 307.0h2M417.8 329.0h2M433.0 319.5h2M419.0 285.8h2M401.2 303.4h2M420.5 327.6h2M424.6 337.8h2M433.2 314.2h2M409.5 291.4h2M406.4 328.2h2M409.4 301.3h2M406.1 303.5h2M412.5 299.2h2M427.9 281.1h2M412.3 308.8h2M401.2 329.3h2M423.2 297.3h2M424.9 280.9h2M417.0 316.0h2M412.6 313.4h2M408.6 301.9h2M432.3 306.3h2M426.0 326.6h2M410.8 294.7h2" stroke="rgb(91,192,222)" stroke-opacity="0.33" stroke-width="2" fill="none"/>
<path d="M428.4 325.9h2M413.7 314.6h2M424.2 297.3h2M418.6 284.2h2M403.0 345.2h2M422.0 317.2h2M424.7 359.4h2M421.0 351.0h2M433.6 315.7h2M431.4 348.3h2M403.2 328.1h2M412.0 335.3h2M427.6 279.9h2M401.1 339.7h2M406.8 296.6h2M410.0 287.4h2M411.8 323.3h2M418.1 341.5h2M422.9 300.6h2M417.7 304.1h2M406.8 321.5h2M413.3 335.7h2M409.3 296.8h2M421.5 327.8h2M428.4 302.6h2M431.7 318.8h2M432.5 312.9h2M402.6 289.6h2M418.8 276.2h2M421.2 319.0h2M415.8 341.8h2" stroke="rgb(91,192,222)" stroke-opacity="0.33" stroke-width="2" fill="none"/>
<path d="M429.9 317.6h2M429.9 324.8h2M425.9 353.2h2M411.7 338.6h2M404.1 330.7h2M404.4 304.6h2M408.6 281.0h2M429.1 329.9h2M413.0 301.3h2M428.9 312.2h2M410.5 310.3h2M426.4 319.1h2M417.1 322.5h2M404.6 306.0h2M399.8 278.5h2M405.1 359.7h2M431.9 281.4h2M411.5 323.3h2M399.9 331.7h2M407.1 288.5h2M414.3 301.9h2M422.6 296.5h2M430.5 305.4h2M433.1 313.6h2M410.3 307.4h2M429.0 303.9h2M425.4 333.8h2M431.7 317.5h2M403.1 275.4h2M424.6 283.3h2M420.7 340.0h2" stroke="rgb(91,192,222)" stroke-opacity="0.33" stroke-width="2" fill="none"/>
<path d="M411.1 347.5h2M413.9 320.5h2M413.9 291.2h2M403.8 344.9h2M429.7 298.6h2M433.3 299.9h2M412.8 313.3h2M425.5 340.6h2M400.2 300.0h2M413.0 348.9h2M418.4 298.9h2M432.1 295.0h2M424.0 310.9h2M427.4 329.8h2M410.2 321.6h2M421.3 336.5h2M429.5 316.4h2M429.4 325.0h2M406.5 348.1h2M416.9 342.5h2M417.7 330.0h2M425.9 318.5h2M415.8 317.0h2M405.0 328.8h2M402.7 289.8h2M432.2 267.8h2M406.5 330.8h2M409.9 351.3h2M410.1 278.7h2M429.3 333.0h2" stroke="rgb(91,192,222)" stroke-opacity="0.33" stroke-width="2" fill="none"/>
<path d="M418.6 296.0h2M413.2 347.4h2M423.6 312.0h2M429.1 344.6h2M424.4 297.1h2M429.3 284.9h2M425.4 309.7h2M427.3 332.2h2M429.2 335.7h2M406.4 338.3h2M402.1 302.9h2M418.5 317.1h2M413.9 311.1h2M424.6 346.7h2M426.5 326.4h2M413.5 319.4h2M402.5 315.8h2M428.4 311.9h2M413.4 326.3h2M432.6 301.7h2M424.7 314.2h2M424.5 306.3h2M417.7 301.6h2M427.1 272.2h2M400.2 290.2h2M432.7 310.1h2M407.9 276.9h2M407.5 282.3h2M433.6 314.4h2M423.1 343.5h2" stroke="rgb(91,192,222)" stroke-opacity="0.33" stroke-width="2" fill="none"/>
<path d="M488.3 300.7h2M460.6 327.4h2M476.7 319.9h2M465.2 343.0h2M476.0 309.1h2M485.8 319.6h2M467.9 300.7h2M463.4 335.6h2M458.4 309.8h2M463.4 311.0h2M465.6 355.9h2M482.0 350.1h2M471.1 316.4h2M465.9 292.7h2M475.6 351.0h2M468.7 295.6h2M466.5 309.6h2M460.2 351.1h2M482.3 342.4h2M476.9 324.4h2M456.2 347.0h2M470.5 314.8h2M488.9 330.2h2M463.2 327.1h2M488.1 296.4h2M482.1 313.3h2M466.8 320.7h2M486.2 334.1h2M471.9 336.2h2M466.6 300.3h2M456.0 327.3h2M479.3 315.0h2" stroke="rgb(235,80,60)" stroke-opacity="0.33" stroke-width="2" fill="none"/>
<path d="M467.2 352.1h2M486.2 341.2h2M463.3 300.9h2M461.8 312.2h2M465.4 307.2h2M469.0 304.1h2M460.9 321.1h2M468.5 317.0h2M473.6 353.9h2M474.0 301.0h2M461.0 337.6h2M463.8 348.1h2M467.5 323.2h2M466.8 340.7h2M467.2 313.1h2M461.5 299.8h2M460.5 333.0h2M466.2 288.9h2M459.2 308.6h2M481.5 324.8h2M466.0 302.4h2M486.5 324.8h2M461.1 323.7h2M477.4 329.7h2M459.7 319.6h2M489.3 310.4h2M460.6 333.4h2M459.8 301.9h2M480.9 317.1h2M460.7 346.1h2M466.3 302.7h2M486.8 345.0h2" stroke="rgb(235,80,60)" stroke-opacity="0.33" stroke-width="2" fill="none"/>
<path d="M480.3 306.1h2M483.8 336.1h2M471.8 303.0h2M462.2 321.4h2M463.0 352.0h2M483.1 321.7h2M479.6 309.4h2M478.5 343.6h2M474.7 309.7h2M477.1 350.0h2M456.3 338.9h2M469.5 330.5h2M462.6 322.0h2M468.7 245.6h2M489.7 325.9h2M480.9 279.5h2M465.8 330.8h2M483.8 303.8h2M475.2 345.1h2M463.1 316.1h2M470.6 332.7h2M464.2 313.0h2M471.4 284.1h2M480.2 350.5h2M479.6 314.8h2M487.2 321.4h2M455.9 327.9h2M455.9 307.5h2M476.4 308.1h2M488.0 318.1h2M488.5 302.2h2M483.5 309.2h2" stroke="rgb(235,80,60)" stroke-opacity="0.33" stroke-width="2" fill="none"/>
<path d="M486.8 309.5h2M480.1 335.7h2M461.5 314.1h2M471.8 299.1h2M465.5 331.0h2M472.0 349.8h2M485.1 288.3h2M470.2 339.0h2M480.5 324.4h2M487.0 318.0h2M459.6 312.9h2M489.2 303.3h2M486.3 318.1h2M480.8 320.0h2M458.6 338.0h2M462.9 316.5h2M466.1 339.9h2M471.6 301.2h2M468.1 329.9h2M488.1 290.2h2M487.6 311.3h2M483.5 338.3h2M456.1 347.4h2M475.5 343.7h2M481.5 317.3h2M476.2 323.5h2M476.3 332.9h2M470.9 316.2h2M489.7 346.8h2M465.7 302.4h2M460.3 322.6h2" stroke="rgb(235,80,60)" stroke-opacity="0.33" stroke-width="2" fill="none"/>
<path d="M466.5 330.6h2M467.7 316.8h2M459.9 298.3h2M465.6 304.1h2M459.9 334.1h2M475.3 335.9h2M462.3 345.9h2M457.6 303.6h2M459.3 319.3h2M460.5 307.1h2M463.6 288.7h2M457.3 296.3h2M465.6 337.2h2M456.5 345.3h2M464.6 308.1h2M471.5 326.6h2M462.5 331.7h2M477.3 339.2h2M467.9 302.4h2M460.0 321.7h2M468.8 321.3h2M458.9 346.5h2M482.6 328.4h2M463.2 328.2h2M484.8 332.0h2M484.0 317.9h2M479.8 330.9h2M477.3 317.7h2M483.5 310.4h2M463.0 327.7h2M464.2 345.4h2" stroke="rgb(235,80,60)" stroke-opacity="0.33" stroke-width="2" fill="none"/>
<path d="M470.3 337.1h2M470.1 337.7h2M483.8 326.2h2M469.5 319.1h2M466.6 332.0h2M484.2 327.4h2M475.3 350.4h2M484.4 319.0h2M478.9 323.1h2M485.9 321.8h2M469.7 329.8h2M473.9 278.8h2M486.7 308.9h2M489.8 328.7h2M464.7 298.7h2M470.8 309.7h2M475.0 317.0h2M486.7 316.1h2M475.8 268.6h2M485.3 300.7h2M488.3 336.8h2M473.0 304.2h2M477.9 327.4h2M462.1 353.5h2M463.9 349.8h2M458.3 301.4h2M481.8 323.6h2M486.2 314.3h2M473.1 302.9h2M483.6 314.3h2M463.4 305.4h2" stroke="rgb(235,80,60)" stroke-opacity="0.33" stroke-width="2" fill="none"/>
<path d="M474.7 305.8h2M476.1 330.9h2M483.8 331.2h2M488.4 296.1h2M488.1 292.7h2M465.8 253.1h2M487.7 281.1h2M474.0 353.5h2M486.2 341.9h2M457.1 324.3h2M469.4 350.4h2M484.3 337.5h2M476.6 339.3h2M488.1 301.8h2M469.9 286.3h2M458.9 341.0h2M465.1 290.8h2M468.4 361.3h2M483.6 342.4h2M488.7 302.2h2M475.0 327.7h2M478.2 340.3h2M474.0 319.0h2M476.7 338.9h2M474.9 337.1h2M474.0 331.8h2M487.1 299.4h2M489.7 324.4h2M485.1 335.7h2M468.3 359.1h2M466.1 318.8h2" stroke="rgb(235,80,60)" stroke-opacity="0.33" stroke-width="2" fill="none"/>
<path d="M476.8 313.5h2M456.8 311.9h2M457.3 342.2h2M480.5 322.9h2M482.5 307.1h2M461.6 305.8h2M467.6 347.9h2M459.5 289.7h2M464.4 338.2h2M462.5 322.7h2M489.3 317.1h2M485.0 325.5h2M483.4 321.4h2M478.0 313.9h2M457.9 318.1h2M471.1 317.2h2M475.4 294.5h2M456.7 351.6h2M464.8 349.7h2M483.2 297.0h2M458.8 298.0h2M477.6 342.2h2M475.9 340.6h2M459.0 317.4h2M489.9 327.1h2M483.0 361.3h2M459.0 313.5h2M481.0 294.4h2M459.5 338.8h2M466.7 318.9h2M480.1 288.6h2" stroke="rgb(235,80,60)" stroke-opacity="0.33" stroke-width="2" fill="none"/>
<path d="M473.3 245.6h1.2M473.3 278.8h1.2M473.3 279.5h1.2" stroke="#111" stroke-width="1.0" fill="none"/>
<use href="#vG0" fill="none" stroke="#000" stroke-width="1.05"/>
<use href="#vG1" fill="none" stroke="#000" stroke-width="1.05"/>
<line x1="407.90" y1="312.19" x2="427.50" y2="312.19" stroke="#000" stroke-width="1.25"/>
<rect x="413.60" y="310.84" width="8.2" height="2.70" fill="#1a1a1a" fill-opacity="0.85"/>
<line x1="417.70" y1="310.84" x2="417.70" y2="313.55" stroke="#000" stroke-width="0.6"/>
<line x1="464.30" y1="321.39" x2="483.50" y2="321.39" stroke="#000" stroke-width="1.25"/>
<rect x="469.80" y="320.04" width="8.2" height="2.70" fill="#1a1a1a" fill-opacity="0.85"/>
<line x1="473.90" y1="320.04" x2="473.90" y2="322.74" stroke="#000" stroke-width="0.6"/>
<path d="M384.20,237.10 L384.20,366.30 L507.00,366.30" fill="none" stroke="#111" stroke-width="0.9"/>
<line x1="381.40" y1="364.50" x2="384.20" y2="364.50" stroke="#111" stroke-width="0.8"/>
<text x="378.70" y="366.81" font-size="6.6" text-anchor="end" fill="#222">0</text>
<line x1="381.40" y1="332.80" x2="384.20" y2="332.80" stroke="#111" stroke-width="0.8"/>
<text x="378.70" y="335.11" font-size="6.6" text-anchor="end" fill="#222">1</text>
<line x1="381.40" y1="301.10" x2="384.20" y2="301.10" stroke="#111" stroke-width="0.8"/>
<text x="378.70" y="303.41" font-size="6.6" text-anchor="end" fill="#222">2</text>
<line x1="381.40" y1="269.40" x2="384.20" y2="269.40" stroke="#111" stroke-width="0.8"/>
<text x="378.70" y="271.71" font-size="6.6" text-anchor="end" fill="#222">3</text>
<line x1="381.40" y1="237.70" x2="384.20" y2="237.70" stroke="#111" stroke-width="0.8"/>
<text x="378.70" y="240.01" font-size="6.6" text-anchor="end" fill="#222">4</text>
<line x1="417.70" y1="366.30" x2="417.70" y2="369.10" stroke="#111" stroke-width="0.8"/>
<text x="417.70" y="376.70" font-size="6.6" text-anchor="middle" fill="#222">G1&amp;G2</text>
<line x1="473.90" y1="366.30" x2="473.90" y2="369.10" stroke="#111" stroke-width="0.8"/>
<text x="473.90" y="376.70" font-size="6.6" text-anchor="middle" fill="#222">G3&amp;G4</text>
<text x="417.64" y="386.50" font-size="8.6" textLength="55.93" lengthAdjust="spacingAndGlyphs" fill="#111">Histologic grade</text>
<text transform="translate(360.00,301.70) rotate(-90)" font-size="7.8" text-anchor="middle" fill="#111">The expression of TMC7</text>
<text transform="translate(368.50,326.30) rotate(-90)" font-size="8.4" fill="#111">Log<tspan font-size="6" dy="2.3">2</tspan><tspan font-size="7.6" dy="-2.3"> (TPM+1)</tspan></text>
<path d="M417.70,245.70 L417.70,243.20 L473.90,243.20 L473.90,245.70" fill="none" stroke="#111" stroke-width="0.85"/>
<text x="445.80" y="244.20" font-size="7.0" text-anchor="middle" fill="#222">***</text>
<text x="525.7" y="224.9" font-size="18.0" >H</text>
<defs><path id="vH0" d="M595.2 360.7 595.2 359.9 595.3 359.1 595.3 358.3 595.4 357.5 595.4 356.6 595.5 355.8 595.5 355.0 595.5 354.2 595.6 353.3 595.6 352.5 595.7 351.7 595.7 350.9 595.8 350.1 595.9 349.2 595.9 348.4 596.0 347.5 596.0 346.7 596.1 345.9 596.2 345.0 596.3 344.2 596.4 343.3 596.5 342.5 596.6 341.6 596.7 340.8 596.8 340.0 597.0 339.2 597.1 338.4 597.4 337.6 597.6 336.8 597.9 336.0 598.2 335.2 598.6 334.4 598.9 333.6 599.2 332.8 599.5 332.1 599.9 331.3 600.2 330.5 600.6 329.7 601.0 328.9 601.4 328.1 601.8 327.3 602.2 326.5 602.6 325.7 603.0 324.9 603.4 324.1 603.8 323.4 604.2 322.6 604.6 321.8 605.1 321.0 605.5 320.2 605.9 319.4 606.4 318.6 606.9 317.8 607.4 317.0 607.9 316.2 608.5 315.4 609.0 314.7 609.6 313.9 610.1 313.1 610.7 312.3 611.2 311.5 611.7 310.7 612.3 309.9 612.8 309.1 613.4 308.3 613.9 307.5 614.4 306.7 614.8 305.9 615.2 305.2 615.5 304.4 615.7 303.6 616.0 302.7 616.2 301.9 616.4 301.1 616.6 300.3 616.8 299.5 616.9 298.7 617.0 297.9 617.0 297.0 617.0 296.3 616.9 295.5 616.7 294.7 616.5 293.9 616.3 293.1 616.1 292.3 615.8 291.5 615.6 290.7 615.3 289.9 615.0 289.1 614.7 288.3 614.4 287.6 614.0 286.8 613.7 286.0 613.3 285.2 612.9 284.4 612.4 283.6 612.0 282.8 611.6 282.0 611.1 281.2 610.6 280.4 610.1 279.6 609.5 278.8 609.0 278.1 608.4 277.3 607.9 276.5 607.3 275.7 606.7 274.9 606.1 274.1 605.5 273.3 604.9 272.5 604.2 271.7 603.6 270.9 602.9 270.1 602.3 269.4 601.7 268.6 601.0 267.8 600.3 267.0 599.6 266.2 598.8 265.4 598.1 264.6 597.5 263.8 596.9 263.0 596.5 262.2 596.3 261.4 596.2 260.7 596.1 259.9 596.0 259.1 595.9 258.3 595.8 257.5 595.8 256.7 595.7 255.9 593.1 255.9 593.0 256.7 593.0 257.5 592.9 258.3 592.8 259.1 592.7 259.9 592.6 260.7 592.5 261.4 592.3 262.2 591.9 263.0 591.3 263.8 590.7 264.6 590.0 265.4 589.2 266.2 588.5 267.0 587.8 267.8 587.1 268.6 586.5 269.4 585.9 270.1 585.2 270.9 584.6 271.7 583.9 272.5 583.3 273.3 582.7 274.1 582.1 274.9 581.5 275.7 580.9 276.5 580.4 277.3 579.8 278.1 579.3 278.8 578.7 279.6 578.2 280.4 577.7 281.2 577.2 282.0 576.8 282.8 576.4 283.6 575.9 284.4 575.5 285.2 575.1 286.0 574.8 286.8 574.4 287.6 574.1 288.3 573.8 289.1 573.5 289.9 573.2 290.7 573.0 291.5 572.7 292.3 572.5 293.1 572.3 293.9 572.1 294.7 571.9 295.5 571.8 296.3 571.8 297.0 571.8 297.9 571.9 298.7 572.0 299.5 572.2 300.3 572.4 301.1 572.6 301.9 572.8 302.7 573.1 303.6 573.3 304.4 573.6 305.2 574.0 305.9 574.4 306.7 574.9 307.5 575.4 308.3 576.0 309.1 576.5 309.9 577.1 310.7 577.6 311.5 578.1 312.3 578.7 313.1 579.2 313.9 579.8 314.7 580.3 315.4 580.9 316.2 581.4 317.0 581.9 317.8 582.4 318.6 582.9 319.4 583.3 320.2 583.7 321.0 584.2 321.8 584.6 322.6 585.0 323.4 585.4 324.1 585.8 324.9 586.2 325.7 586.6 326.5 587.0 327.3 587.4 328.1 587.8 328.9 588.2 329.7 588.6 330.5 588.9 331.3 589.3 332.1 589.6 332.8 589.9 333.6 590.2 334.4 590.6 335.2 590.9 336.0 591.2 336.8 591.4 337.6 591.7 338.4 591.8 339.2 592.0 340.0 592.1 340.8 592.2 341.6 592.3 342.5 592.4 343.3 592.5 344.2 592.6 345.0 592.7 345.9 592.8 346.7 592.8 347.5 592.9 348.4 592.9 349.2 593.0 350.1 593.1 350.9 593.1 351.7 593.2 352.5 593.2 353.3 593.3 354.2 593.3 355.0 593.3 355.8 593.4 356.6 593.4 357.5 593.5 358.3 593.5 359.1 593.6 359.9 593.6 360.7Z"/></defs><use href="#vH0" fill="#a9dcea"/>
<defs><path id="vH1" d="M651.6 351.8 651.7 351.0 651.7 350.1 651.8 349.3 651.8 348.4 651.9 347.6 651.9 346.7 652.0 345.8 652.1 345.0 652.1 344.1 652.2 343.3 652.3 342.4 652.4 341.6 652.5 340.7 652.7 339.9 652.8 339.0 653.0 338.2 653.2 337.4 653.4 336.5 653.7 335.7 653.9 334.9 654.2 334.0 654.5 333.2 654.9 332.4 655.3 331.5 655.7 330.7 656.2 329.9 656.7 329.0 657.2 328.2 657.6 327.4 658.1 326.5 658.5 325.7 659.0 324.8 659.4 324.0 659.9 323.2 660.3 322.3 660.7 321.5 661.2 320.7 661.6 319.8 662.1 319.0 662.6 318.2 663.0 317.4 663.5 316.6 664.0 315.7 664.4 314.9 664.9 314.1 665.4 313.3 665.8 312.5 666.3 311.7 666.8 310.8 667.3 310.0 667.9 309.2 668.4 308.3 668.9 307.5 669.4 306.7 669.9 305.8 670.2 305.0 670.5 304.2 670.7 303.3 671.0 302.5 671.2 301.7 671.4 300.8 671.5 300.0 671.7 299.2 671.8 298.3 671.9 297.5 671.9 296.7 671.9 295.8 671.8 295.0 671.8 294.2 671.7 293.4 671.6 292.6 671.4 291.8 671.3 291.0 671.1 290.1 671.0 289.3 670.8 288.5 670.6 287.7 670.4 286.8 670.1 286.0 669.8 285.2 669.5 284.3 669.2 283.5 668.8 282.7 668.5 281.8 668.2 281.0 667.8 280.1 667.4 279.3 667.0 278.5 666.6 277.6 666.2 276.8 665.8 276.0 665.3 275.1 664.9 274.3 664.5 273.5 664.1 272.7 663.6 271.9 663.2 271.0 662.8 270.2 662.3 269.4 661.9 268.6 661.4 267.8 661.0 267.0 660.5 266.1 660.1 265.3 659.6 264.5 659.2 263.6 658.7 262.8 658.3 262.0 657.8 261.1 657.3 260.3 656.9 259.5 656.4 258.6 656.0 257.8 655.5 257.0 655.0 256.1 654.5 255.3 654.1 254.5 653.7 253.6 653.3 252.8 653.0 251.9 652.7 251.1 652.5 250.3 652.2 249.4 652.0 248.6 651.8 247.7 651.6 246.9 651.4 246.0 649.8 246.0 649.6 246.9 649.4 247.7 649.2 248.6 649.0 249.4 648.7 250.3 648.5 251.1 648.2 251.9 647.9 252.8 647.5 253.6 647.1 254.5 646.7 255.3 646.2 256.1 645.7 257.0 645.2 257.8 644.8 258.6 644.3 259.5 643.9 260.3 643.4 261.1 642.9 262.0 642.5 262.8 642.0 263.6 641.6 264.5 641.1 265.3 640.7 266.1 640.2 267.0 639.8 267.8 639.3 268.6 638.9 269.4 638.4 270.2 638.0 271.0 637.6 271.9 637.1 272.7 636.7 273.5 636.3 274.3 635.9 275.1 635.4 276.0 635.0 276.8 634.6 277.6 634.2 278.5 633.8 279.3 633.4 280.1 633.0 281.0 632.7 281.8 632.4 282.7 632.0 283.5 631.7 284.3 631.4 285.2 631.1 286.0 630.8 286.8 630.6 287.7 630.4 288.5 630.2 289.3 630.1 290.1 629.9 291.0 629.8 291.8 629.6 292.6 629.5 293.4 629.4 294.2 629.4 295.0 629.3 295.8 629.3 296.7 629.3 297.5 629.4 298.3 629.5 299.2 629.7 300.0 629.8 300.8 630.0 301.7 630.2 302.5 630.5 303.3 630.7 304.2 631.0 305.0 631.3 305.8 631.8 306.7 632.3 307.5 632.8 308.3 633.3 309.2 633.9 310.0 634.4 310.8 634.9 311.7 635.4 312.5 635.8 313.3 636.3 314.1 636.8 314.9 637.2 315.7 637.7 316.6 638.2 317.4 638.6 318.2 639.1 319.0 639.6 319.8 640.0 320.7 640.5 321.5 640.9 322.3 641.3 323.2 641.8 324.0 642.2 324.8 642.7 325.7 643.1 326.5 643.6 327.4 644.0 328.2 644.5 329.0 645.0 329.9 645.5 330.7 645.9 331.5 646.3 332.4 646.7 333.2 647.0 334.0 647.3 334.9 647.5 335.7 647.8 336.5 648.0 337.4 648.2 338.2 648.4 339.0 648.5 339.9 648.7 340.7 648.8 341.6 648.9 342.4 649.0 343.3 649.1 344.1 649.1 345.0 649.2 345.8 649.3 346.7 649.3 347.6 649.4 348.4 649.4 349.3 649.5 350.1 649.5 351.0 649.6 351.8Z"/></defs><use href="#vH1" fill="#f3a69b"/>
<path d="M604.2 307.5h2M605.1 303.2h2M591.5 307.6h2M588.1 295.0h2M606.2 278.5h2M588.8 286.0h2M609.6 273.7h2M586.1 290.2h2M580.7 315.4h2M592.7 273.8h2M587.8 316.2h2M596.5 293.4h2M599.5 279.0h2M582.3 327.0h2M584.7 358.7h2M606.8 315.9h2M577.2 261.9h2M601.4 280.3h2M578.8 292.1h2M579.6 305.0h2M596.9 314.8h2M597.8 306.3h2M602.6 289.4h2M600.3 296.3h2M583.8 304.8h2M595.8 269.5h2M583.6 312.3h2M587.6 273.0h2M592.4 305.6h2M581.6 316.3h2M581.3 288.0h2M603.9 268.3h2" stroke="rgb(91,192,222)" stroke-opacity="0.33" stroke-width="2" fill="none"/>
<path d="M588.2 292.9h2M591.8 332.9h2M582.2 294.7h2M601.9 299.0h2M579.1 344.1h2M577.5 282.2h2M610.2 273.8h2M589.3 278.6h2M607.2 286.7h2M601.5 305.3h2M601.2 313.6h2M598.4 361.7h2M591.2 282.1h2M600.4 301.7h2M598.2 304.0h2M586.9 294.2h2M592.3 320.1h2M586.0 319.7h2M580.7 261.9h2M600.7 324.9h2M577.1 323.5h2M604.1 276.1h2M585.0 317.1h2M582.7 303.5h2M597.1 297.5h2M598.1 291.1h2M595.3 339.2h2M588.4 297.8h2M579.0 280.3h2M579.7 324.5h2M608.5 281.3h2M609.7 283.7h2" stroke="rgb(91,192,222)" stroke-opacity="0.33" stroke-width="2" fill="none"/>
<path d="M584.8 335.9h2M595.0 274.0h2M589.0 318.7h2M608.1 298.2h2M596.3 325.6h2M600.8 342.2h2M590.9 297.3h2M597.3 289.9h2M605.5 267.8h2M586.3 288.9h2M598.0 276.0h2M598.4 273.9h2M589.3 293.0h2M586.9 291.0h2M585.6 316.0h2M578.2 293.9h2M587.0 280.9h2M579.3 276.4h2M609.9 280.5h2M585.5 280.5h2M582.5 308.9h2M604.9 329.9h2M582.5 327.5h2M593.8 295.3h2M604.1 324.2h2M589.5 301.7h2M598.1 304.5h2M601.2 315.4h2M583.3 306.8h2M608.5 338.4h2M604.7 292.5h2M590.1 321.2h2" stroke="rgb(91,192,222)" stroke-opacity="0.33" stroke-width="2" fill="none"/>
<path d="M576.9 291.5h2M585.9 319.9h2M604.1 300.3h2M589.3 280.8h2M581.8 281.7h2M591.1 328.5h2M577.1 274.5h2M601.5 259.6h2M603.9 281.3h2M598.0 334.3h2M597.9 294.4h2M592.3 298.4h2M586.5 290.7h2M592.2 321.3h2M587.1 335.0h2M601.4 286.1h2M610.2 324.3h2M601.2 330.0h2M586.5 299.6h2M587.1 300.9h2M598.1 332.0h2M605.8 284.8h2M586.2 308.5h2M577.1 304.9h2M590.9 296.2h2M600.1 321.9h2M598.0 293.1h2M602.1 299.8h2M607.7 314.3h2M590.1 310.7h2M602.7 293.1h2M604.0 284.6h2" stroke="rgb(91,192,222)" stroke-opacity="0.33" stroke-width="2" fill="none"/>
<path d="M584.0 296.9h2M602.4 316.5h2M605.6 266.8h2M595.7 300.4h2M581.3 303.4h2M593.4 311.6h2M593.5 309.2h2M587.2 300.0h2M580.1 287.5h2M582.5 295.5h2M604.2 312.5h2M578.1 295.9h2M590.4 294.4h2M577.2 280.7h2M580.1 283.8h2M603.6 286.7h2M594.7 295.4h2M610.2 314.7h2M580.2 336.7h2M607.2 319.3h2M598.1 299.4h2M602.3 281.0h2M603.6 290.2h2M586.4 302.8h2M596.1 298.8h2M587.7 288.9h2M593.8 291.6h2M592.3 270.3h2M581.9 291.6h2M600.1 281.0h2M579.4 319.7h2" stroke="rgb(91,192,222)" stroke-opacity="0.33" stroke-width="2" fill="none"/>
<path d="M586.7 285.1h2M607.9 281.7h2M593.5 292.2h2M595.7 282.8h2M600.8 299.9h2M602.2 296.9h2M584.0 305.9h2M607.4 316.6h2M590.3 292.2h2M595.1 305.2h2M591.3 318.8h2M592.6 332.2h2M610.0 315.0h2M607.7 321.3h2M601.6 314.8h2M581.9 281.8h2M603.9 289.9h2M600.2 300.5h2M608.2 312.5h2M579.7 287.6h2M592.3 319.3h2M608.5 300.8h2M605.9 302.0h2M580.8 298.7h2M580.0 294.8h2M590.2 295.4h2M601.8 287.2h2M581.4 310.7h2M579.7 312.4h2M606.3 338.9h2M609.1 282.1h2" stroke="rgb(91,192,222)" stroke-opacity="0.33" stroke-width="2" fill="none"/>
<path d="M576.6 301.1h2M577.9 285.1h2M579.6 318.2h2M610.0 281.0h2M601.0 272.2h2M604.9 313.0h2M588.7 280.1h2M580.0 293.7h2M600.8 270.5h2M605.8 296.2h2M602.4 272.4h2M585.2 312.4h2M590.1 291.4h2M608.4 290.2h2M577.2 308.2h2M606.8 302.6h2M605.8 294.4h2M590.4 282.9h2M595.6 278.2h2M602.6 296.2h2M607.0 311.2h2M604.2 281.9h2M608.5 331.7h2M601.4 295.3h2M607.5 292.3h2M602.6 308.4h2M586.8 323.8h2M604.1 316.2h2M599.2 282.9h2M584.8 290.1h2M590.2 294.3h2" stroke="rgb(91,192,222)" stroke-opacity="0.33" stroke-width="2" fill="none"/>
<path d="M598.2 297.3h2M580.6 289.0h2M580.8 297.2h2M596.8 289.9h2M582.4 291.5h2M607.8 329.3h2M577.2 298.3h2M600.1 301.2h2M596.9 303.0h2M580.9 301.9h2M584.8 305.2h2M591.3 297.0h2M584.8 291.4h2M603.0 288.4h2M579.4 327.3h2M593.1 304.8h2M598.0 273.3h2M593.9 275.9h2M593.5 303.6h2M602.9 301.3h2M595.7 277.3h2M591.9 348.2h2M606.1 309.6h2M596.3 273.0h2M608.0 303.7h2M583.8 285.6h2M582.7 301.8h2M600.4 282.5h2M594.3 302.5h2M580.5 328.9h2M596.9 290.5h2" stroke="rgb(91,192,222)" stroke-opacity="0.33" stroke-width="2" fill="none"/>
<path d="M639.0 296.8h2M640.6 327.1h2M656.6 293.8h2M659.2 289.8h2M650.1 282.6h2M648.1 294.1h2M657.0 312.2h2M655.1 279.2h2M633.9 248.0h2M636.2 277.7h2M655.4 303.8h2M666.1 287.9h2M646.3 304.6h2M662.5 293.6h2M654.4 278.8h2M633.1 266.4h2M633.5 285.5h2M659.2 316.2h2M637.2 304.5h2M644.3 281.0h2M637.4 269.6h2M642.9 285.5h2M649.9 271.2h2M662.3 334.1h2M647.4 283.3h2M636.3 288.4h2M649.9 317.6h2M648.0 285.4h2M654.1 279.7h2M647.9 282.9h2M657.7 341.3h2" stroke="rgb(235,80,60)" stroke-opacity="0.33" stroke-width="2" fill="none"/>
<path d="M637.8 297.5h2M633.5 316.4h2M664.1 287.2h2M665.7 266.5h2M636.2 288.1h2M659.4 309.3h2M659.7 272.1h2M642.3 296.4h2M663.5 292.7h2M643.0 318.9h2M655.6 299.2h2M655.6 314.3h2M643.5 289.9h2M634.3 272.7h2M634.1 269.8h2M666.4 293.9h2M641.7 289.9h2M639.3 286.4h2M657.5 278.3h2M651.6 330.2h2M658.9 284.0h2M635.9 279.4h2M657.1 272.5h2M652.8 320.6h2M647.8 328.0h2M641.7 316.3h2M638.6 296.6h2M648.3 321.3h2M640.3 261.4h2M634.4 285.3h2M657.3 310.8h2" stroke="rgb(235,80,60)" stroke-opacity="0.33" stroke-width="2" fill="none"/>
<path d="M662.2 284.0h2M634.0 302.8h2M657.9 258.5h2M634.3 296.1h2M638.2 299.6h2M634.2 307.8h2M648.6 316.3h2M635.4 318.1h2M659.1 318.1h2M637.5 272.1h2M665.8 303.9h2M636.4 303.4h2M639.8 266.5h2M656.0 306.4h2M643.7 259.1h2M659.3 271.9h2M662.2 352.8h2M645.6 265.0h2M651.8 303.0h2M634.5 295.0h2M663.0 261.4h2M656.9 308.3h2M664.7 314.9h2M636.8 332.2h2M655.5 299.5h2M638.7 301.6h2M640.8 338.4h2M657.4 316.5h2M653.1 310.6h2M648.7 306.5h2M659.9 304.4h2" stroke="rgb(235,80,60)" stroke-opacity="0.33" stroke-width="2" fill="none"/>
<path d="M637.3 317.5h2M661.0 289.2h2M645.2 283.5h2M643.9 316.4h2M643.3 322.3h2M645.2 265.4h2M653.0 308.5h2M644.9 281.7h2M662.4 328.2h2M648.5 317.8h2M644.5 295.2h2M641.5 281.7h2M660.1 310.4h2M643.5 269.9h2M664.7 296.6h2M663.8 286.9h2M656.4 317.8h2M650.3 313.9h2M642.2 313.5h2M653.6 283.1h2M640.5 272.4h2M662.0 281.4h2M658.7 261.8h2M662.4 298.7h2M658.3 261.5h2M651.8 288.9h2M653.6 300.7h2M648.8 327.5h2M642.4 331.0h2M663.4 273.6h2M633.0 298.6h2" stroke="rgb(235,80,60)" stroke-opacity="0.33" stroke-width="2" fill="none"/>
<path d="M637.6 313.1h2M659.1 293.3h2M643.4 309.2h2M642.2 311.6h2M639.4 315.3h2M635.7 273.3h2M634.7 323.4h2M648.5 309.4h2M654.4 308.6h2M653.1 252.1h2M652.0 291.5h2M651.7 310.1h2M646.6 284.1h2M645.6 304.2h2M663.5 312.1h2M663.1 343.7h2M656.7 306.7h2M634.2 274.7h2M651.8 297.4h2M639.8 268.0h2M647.6 260.1h2M646.4 273.0h2M640.6 290.2h2M663.4 275.1h2M647.1 308.1h2M647.5 265.9h2M636.4 299.2h2M642.8 327.8h2M656.3 312.2h2M653.7 266.5h2M661.1 291.2h2" stroke="rgb(235,80,60)" stroke-opacity="0.33" stroke-width="2" fill="none"/>
<path d="M636.1 282.1h2M661.5 296.7h2M659.1 301.2h2M634.2 300.7h2M640.2 265.5h2M662.0 309.6h2M640.5 248.6h2M656.2 305.4h2M642.6 285.2h2M647.0 282.9h2M652.5 314.9h2M664.1 298.3h2M641.2 284.4h2M645.0 293.7h2M643.5 306.1h2M634.3 310.4h2M655.4 254.5h2M632.6 327.8h2M659.7 315.0h2M662.0 288.4h2M657.2 313.4h2M634.3 280.2h2M634.8 256.8h2M635.7 312.6h2M649.8 275.6h2M658.9 278.4h2M633.3 268.7h2M661.7 303.0h2M639.1 282.6h2M643.2 301.6h2M655.0 267.5h2" stroke="rgb(235,80,60)" stroke-opacity="0.33" stroke-width="2" fill="none"/>
<path d="M635.1 298.2h2M658.2 272.4h2M662.8 291.4h2M661.4 292.1h2M644.4 308.0h2M646.5 268.2h2M654.8 287.9h2M636.1 288.1h2M662.1 289.8h2M659.1 307.0h2M660.5 289.0h2M648.7 323.1h2M645.9 308.1h2M662.9 298.0h2M633.8 304.8h2M648.3 306.0h2M647.3 323.5h2M650.5 306.0h2M646.4 271.4h2M661.3 276.2h2M643.6 329.9h2M661.4 307.3h2M656.1 299.6h2M644.4 302.7h2M645.4 284.0h2M665.4 308.4h2M655.5 305.0h2M666.4 286.4h2M663.8 294.1h2M647.6 311.6h2M635.4 306.6h2" stroke="rgb(235,80,60)" stroke-opacity="0.33" stroke-width="2" fill="none"/>
<path d="M642.4 313.1h2M638.6 274.2h2M640.4 324.1h2M646.6 308.4h2M639.3 267.4h2M634.8 276.6h2M653.5 310.3h2M633.0 276.7h2M639.9 329.2h2M644.3 312.7h2M658.8 307.8h2M661.1 328.8h2M636.7 293.5h2M659.0 328.6h2M662.6 294.1h2M650.1 293.8h2M652.3 320.3h2M646.3 267.2h2M644.2 317.4h2M662.0 247.9h2M659.2 325.5h2M634.0 282.6h2M657.3 282.3h2M646.8 327.8h2M642.3 318.8h2M665.0 259.8h2M636.8 314.9h2M643.9 266.1h2M633.5 337.7h2M650.7 301.1h2M647.6 310.7h2" stroke="rgb(235,80,60)" stroke-opacity="0.33" stroke-width="2" fill="none"/>
<use href="#vH0" fill="none" stroke="#000" stroke-width="1.05"/>
<use href="#vH1" fill="none" stroke="#000" stroke-width="1.05"/>
<line x1="584.60" y1="301.60" x2="604.20" y2="301.60" stroke="#000" stroke-width="1.25"/>
<rect x="590.30" y="300.15" width="8.2" height="2.90" fill="#1a1a1a" fill-opacity="0.85"/>
<line x1="594.40" y1="300.15" x2="594.40" y2="303.05" stroke="#000" stroke-width="0.6"/>
<line x1="640.70" y1="295.66" x2="660.50" y2="295.66" stroke="#000" stroke-width="1.25"/>
<rect x="646.50" y="294.21" width="8.2" height="2.90" fill="#1a1a1a" fill-opacity="0.85"/>
<line x1="650.60" y1="294.21" x2="650.60" y2="297.11" stroke="#000" stroke-width="0.6"/>
<path d="M560.40,237.10 L560.40,366.30 L684.50,366.30" fill="none" stroke="#111" stroke-width="0.9"/>
<line x1="557.60" y1="364.10" x2="560.40" y2="364.10" stroke="#111" stroke-width="0.8"/>
<text x="554.90" y="366.41" font-size="6.6" text-anchor="end" fill="#222">0</text>
<line x1="557.60" y1="344.32" x2="560.40" y2="344.32" stroke="#111" stroke-width="0.8"/>
<text x="554.90" y="346.63" font-size="6.6" text-anchor="end" fill="#222">1</text>
<line x1="557.60" y1="324.54" x2="560.40" y2="324.54" stroke="#111" stroke-width="0.8"/>
<text x="554.90" y="326.85" font-size="6.6" text-anchor="end" fill="#222">2</text>
<line x1="557.60" y1="304.76" x2="560.40" y2="304.76" stroke="#111" stroke-width="0.8"/>
<text x="554.90" y="307.07" font-size="6.6" text-anchor="end" fill="#222">3</text>
<line x1="557.60" y1="284.98" x2="560.40" y2="284.98" stroke="#111" stroke-width="0.8"/>
<text x="554.90" y="287.29" font-size="6.6" text-anchor="end" fill="#222">4</text>
<line x1="557.60" y1="265.20" x2="560.40" y2="265.20" stroke="#111" stroke-width="0.8"/>
<text x="554.90" y="267.51" font-size="6.6" text-anchor="end" fill="#222">5</text>
<line x1="557.60" y1="245.42" x2="560.40" y2="245.42" stroke="#111" stroke-width="0.8"/>
<text x="554.90" y="247.73" font-size="6.6" text-anchor="end" fill="#222">6</text>
<line x1="594.40" y1="366.30" x2="594.40" y2="369.10" stroke="#111" stroke-width="0.8"/>
<text x="594.40" y="376.70" font-size="6.6" text-anchor="middle" fill="#222">G1&amp;G2</text>
<line x1="650.60" y1="366.30" x2="650.60" y2="369.10" stroke="#111" stroke-width="0.8"/>
<text x="650.60" y="376.70" font-size="6.6" text-anchor="middle" fill="#222">G3&amp;G4</text>
<text x="594.49" y="386.50" font-size="8.6" textLength="55.93" lengthAdjust="spacingAndGlyphs" fill="#111">Histologic grade</text>
<text transform="translate(536.10,301.70) rotate(-90)" font-size="7.8" text-anchor="middle" fill="#111">The expression of TMC8</text>
<text transform="translate(544.00,326.30) rotate(-90)" font-size="8.4" fill="#111">Log<tspan font-size="6" dy="2.3">2</tspan><tspan font-size="7.6" dy="-2.3"> (TPM+1)</tspan></text>
<path d="M594.40,245.70 L594.40,243.20 L650.60,243.20 L650.60,245.70" fill="none" stroke="#111" stroke-width="0.85"/>
<text x="622.50" y="244.20" font-size="7.0" text-anchor="middle" fill="#222">**</text>
<text x="9.6" y="430.6" font-size="18.8" >I</text>
<defs><path id="vI0" d="M72.0 570.3 74.3 569.7 76.6 569.1 79.4 568.4 81.5 567.6 83.1 566.7 83.8 565.8 83.1 564.9 81.9 564.0 80.8 563.2 79.7 562.4 78.5 561.6 77.3 560.7 76.2 560.0 75.1 559.3 74.0 558.5 73.0 557.8 72.1 557.0 71.1 556.2 70.3 555.4 69.5 554.7 68.8 553.9 68.2 553.1 67.6 552.4 67.1 551.6 66.7 550.9 66.3 550.2 65.9 549.4 65.6 548.7 65.4 547.9 65.3 547.0 65.1 546.1 65.1 545.2 65.1 544.3 65.1 543.3 65.1 542.4 65.1 541.4 65.1 540.4 65.1 539.5 65.1 538.5 65.1 537.6 65.1 536.6 65.1 535.7 65.1 534.7 65.1 533.8 65.1 532.8 65.0 531.8 65.0 530.9 65.0 529.9 65.0 529.0 65.0 528.0 65.0 527.1 65.0 526.1 65.0 525.2 65.0 524.2 65.0 523.2 65.0 522.3 65.0 521.3 65.0 520.4 65.0 519.4 65.0 518.5 65.0 517.5 65.0 516.6 65.0 515.6 65.0 514.6 65.0 513.7 65.0 512.7 65.0 511.8 65.0 510.8 65.0 509.9 65.0 508.9 65.0 507.9 65.0 507.0 65.0 506.0 65.0 505.1 65.0 504.1 65.0 503.2 65.0 502.2 65.0 501.3 65.0 500.3 65.0 499.3 65.0 498.4 65.0 497.4 65.0 496.5 65.0 495.5 65.0 494.6 65.0 493.6 65.0 492.7 65.0 491.7 65.0 490.7 65.0 489.8 65.0 488.8 65.0 487.9 65.0 486.9 65.0 486.0 65.0 485.0 65.0 484.1 65.0 483.1 65.0 482.1 65.0 481.2 65.0 480.2 65.0 479.3 65.0 478.3 65.0 477.4 65.0 476.4 65.0 475.5 65.0 474.5 65.0 473.5 65.0 472.6 65.0 471.6 65.0 470.7 65.0 469.7 65.0 468.8 65.0 467.8 65.0 466.8 65.0 465.9 65.0 464.9 65.0 464.0 65.0 463.0 65.0 462.1 65.0 461.1 65.0 460.2 65.0 459.2 65.0 458.2 65.0 457.3 65.0 456.3 65.0 455.4 64.6 455.4 64.6 456.3 64.6 457.3 64.6 458.2 64.6 459.2 64.6 460.2 64.6 461.1 64.6 462.1 64.6 463.0 64.6 464.0 64.6 464.9 64.6 465.9 64.6 466.8 64.6 467.8 64.6 468.8 64.6 469.7 64.6 470.7 64.6 471.6 64.6 472.6 64.6 473.5 64.6 474.5 64.6 475.5 64.6 476.4 64.6 477.4 64.6 478.3 64.6 479.3 64.6 480.2 64.6 481.2 64.6 482.1 64.6 483.1 64.6 484.1 64.6 485.0 64.6 486.0 64.6 486.9 64.6 487.9 64.6 488.8 64.6 489.8 64.6 490.7 64.6 491.7 64.6 492.7 64.6 493.6 64.6 494.6 64.6 495.5 64.6 496.5 64.6 497.4 64.6 498.4 64.6 499.3 64.6 500.3 64.6 501.3 64.6 502.2 64.6 503.2 64.6 504.1 64.6 505.1 64.6 506.0 64.6 507.0 64.6 507.9 64.6 508.9 64.6 509.9 64.6 510.8 64.6 511.8 64.6 512.7 64.6 513.7 64.6 514.6 64.6 515.6 64.6 516.6 64.6 517.5 64.6 518.5 64.6 519.4 64.6 520.4 64.6 521.3 64.6 522.3 64.6 523.2 64.6 524.2 64.6 525.2 64.6 526.1 64.6 527.1 64.6 528.0 64.6 529.0 64.6 529.9 64.6 530.9 64.6 531.8 64.5 532.8 64.5 533.8 64.5 534.7 64.5 535.7 64.5 536.6 64.5 537.6 64.5 538.5 64.5 539.5 64.5 540.4 64.5 541.4 64.5 542.4 64.5 543.3 64.5 544.3 64.5 545.2 64.5 546.1 64.3 547.0 64.2 547.9 64.0 548.7 63.7 549.4 63.3 550.2 62.9 550.9 62.5 551.6 62.0 552.4 61.4 553.1 60.8 553.9 60.1 554.7 59.3 555.4 58.5 556.2 57.5 557.0 56.6 557.8 55.6 558.5 54.5 559.3 53.4 560.0 52.3 560.7 51.1 561.6 49.9 562.4 48.8 563.2 47.7 564.0 46.5 564.9 45.8 565.8 46.5 566.7 48.1 567.6 50.2 568.4 53.0 569.1 55.3 569.7 57.6 570.3Z"/></defs><use href="#vI0" fill="#a9dcea"/>
<defs><path id="vI1" d="M129.2 570.6 130.9 570.2 132.6 569.9 134.1 569.5 135.9 569.0 137.6 568.6 139.1 568.1 140.2 567.6 141.1 567.2 142.0 566.7 142.7 566.3 143.2 565.8 143.4 565.4 143.1 564.9 142.3 564.5 141.2 564.0 140.1 563.6 139.0 563.1 138.0 562.7 136.9 562.2 135.8 561.7 134.8 561.2 133.7 560.7 132.7 560.3 131.7 559.9 130.6 559.5 129.6 559.0 128.6 558.6 127.8 558.2 127.1 557.8 126.5 557.3 126.0 556.9 125.5 556.5 125.1 556.1 124.7 555.6 124.3 555.2 124.0 554.8 123.7 554.4 123.4 553.9 123.1 553.5 122.9 553.1 122.7 552.6 122.5 552.2 122.3 551.8 122.2 551.4 122.0 550.9 121.9 550.5 121.8 550.1 121.7 549.6 121.6 549.2 121.6 548.8 121.5 548.3 121.4 547.9 121.3 547.5 121.2 547.0 121.1 546.6 121.1 546.1 121.1 545.6 121.1 545.2 121.1 544.7 121.1 544.2 121.1 543.7 121.1 543.2 121.1 542.7 121.1 542.3 121.1 541.8 121.1 541.3 121.0 540.8 121.0 540.3 121.0 539.9 121.0 539.4 121.0 538.9 121.0 538.4 121.0 537.9 121.0 537.4 121.0 537.0 121.0 536.5 121.0 536.0 121.0 535.5 121.0 535.0 121.0 534.6 121.0 534.1 121.0 533.6 121.0 533.1 121.0 532.6 121.0 532.1 121.0 531.7 121.0 531.2 121.0 530.7 121.0 530.2 121.0 529.7 121.0 529.3 121.0 528.8 121.0 528.3 121.0 527.8 121.0 527.3 121.0 526.8 121.0 526.4 121.0 525.9 121.0 525.4 121.0 524.9 121.0 524.4 121.0 524.0 121.0 523.5 121.0 523.0 121.0 522.5 121.0 522.0 121.0 521.5 121.0 521.1 121.0 520.6 121.0 520.1 121.0 519.6 121.0 519.1 121.0 518.7 121.0 518.2 121.0 517.7 121.0 517.2 121.0 516.7 121.0 516.2 121.0 515.8 121.0 515.3 121.0 514.8 121.0 514.3 121.0 513.8 121.0 513.4 121.0 512.9 121.0 512.4 120.6 512.4 120.6 512.9 120.6 513.4 120.6 513.8 120.6 514.3 120.6 514.8 120.6 515.3 120.6 515.8 120.6 516.2 120.6 516.7 120.6 517.2 120.6 517.7 120.6 518.2 120.6 518.7 120.6 519.1 120.6 519.6 120.6 520.1 120.6 520.6 120.6 521.1 120.6 521.5 120.6 522.0 120.6 522.5 120.6 523.0 120.6 523.5 120.6 524.0 120.6 524.4 120.6 524.9 120.6 525.4 120.6 525.9 120.6 526.4 120.6 526.8 120.6 527.3 120.6 527.8 120.6 528.3 120.6 528.8 120.6 529.3 120.6 529.7 120.6 530.2 120.6 530.7 120.6 531.2 120.6 531.7 120.6 532.1 120.6 532.6 120.6 533.1 120.6 533.6 120.6 534.1 120.6 534.6 120.6 535.0 120.6 535.5 120.6 536.0 120.6 536.5 120.6 537.0 120.6 537.4 120.6 537.9 120.6 538.4 120.6 538.9 120.6 539.4 120.6 539.9 120.6 540.3 120.6 540.8 120.5 541.3 120.5 541.8 120.5 542.3 120.5 542.7 120.5 543.2 120.5 543.7 120.5 544.2 120.5 544.7 120.5 545.2 120.5 545.6 120.5 546.1 120.5 546.6 120.4 547.0 120.3 547.5 120.2 547.9 120.1 548.3 120.0 548.8 120.0 549.2 119.9 549.6 119.8 550.1 119.7 550.5 119.6 550.9 119.4 551.4 119.3 551.8 119.1 552.2 118.9 552.6 118.7 553.1 118.5 553.5 118.2 553.9 117.9 554.4 117.6 554.8 117.3 555.2 116.9 555.6 116.5 556.1 116.1 556.5 115.6 556.9 115.1 557.3 114.5 557.8 113.8 558.2 113.0 558.6 112.0 559.0 111.0 559.5 109.9 559.9 108.9 560.3 107.9 560.7 106.8 561.2 105.8 561.7 104.7 562.2 103.6 562.7 102.6 563.1 101.5 563.6 100.4 564.0 99.3 564.5 98.5 564.9 98.2 565.4 98.4 565.8 98.9 566.3 99.6 566.7 100.5 567.2 101.4 567.6 102.5 568.1 104.0 568.6 105.7 569.0 107.5 569.5 109.0 569.9 110.7 570.2 112.4 570.6Z"/></defs><use href="#vI1" fill="#f3a69b"/>
<path d="M59.9 567.4h2M62.2 566.6h2M61.6 564.3h2M48.1 560.8h2M49.9 565.0h2M62.5 564.6h2M63.7 557.0h2M48.9 563.6h2M54.7 556.6h2M73.4 561.3h2M57.1 568.8h2M73.0 569.1h2M72.6 563.4h2M63.2 568.5h2M70.1 567.4h2M79.2 557.4h2M80.0 567.0h2M78.6 570.2h2M70.2 564.8h2M52.8 560.5h2M53.9 566.6h2M74.6 567.3h2M70.8 554.3h2M56.6 569.0h2M75.6 542.1h2M63.2 563.0h2M57.6 555.2h2M63.6 569.6h2M72.0 553.7h2M79.7 561.6h2M51.9 563.2h2M63.6 567.6h2M64.2 553.5h2M54.6 567.4h2M72.4 569.0h2M57.9 566.7h2M75.5 567.5h2M60.4 565.2h2M69.0 560.6h2M79.7 569.6h2M62.8 565.8h2M77.2 566.1h2M48.2 564.0h2" stroke="rgb(91,192,222)" stroke-opacity="0.33" stroke-width="2" fill="none"/>
<path d="M53.4 565.8h2M71.5 569.0h2M62.6 556.2h2M60.3 564.6h2M69.9 562.3h2M59.4 565.4h2M47.4 563.5h2M75.0 568.8h2M70.8 567.5h2M47.2 563.2h2M57.8 567.6h2M75.7 566.7h2M66.6 564.4h2M80.3 567.8h2M70.5 567.4h2M71.1 561.2h2M71.9 558.9h2M51.3 558.7h2M68.4 567.1h2M65.9 566.4h2M68.3 561.7h2M62.3 565.7h2M59.3 561.4h2M54.6 563.0h2M57.8 557.2h2M59.1 566.4h2M57.7 561.0h2M58.0 553.0h2M69.3 564.8h2M54.5 551.1h2M70.0 560.8h2M62.9 559.2h2M51.1 562.4h2M74.5 568.1h2M71.7 565.6h2M59.8 570.0h2M73.5 551.7h2M55.3 557.3h2M68.7 561.4h2M68.4 565.4h2M59.6 562.9h2M55.1 555.2h2M47.8 564.7h2" stroke="rgb(91,192,222)" stroke-opacity="0.33" stroke-width="2" fill="none"/>
<path d="M47.0 562.4h2M54.3 555.3h2M71.2 552.0h2M53.5 565.7h2M78.9 566.8h2M67.1 564.8h2M47.0 552.6h2M70.3 562.9h2M55.9 566.3h2M80.4 565.6h2M48.7 565.9h2M65.5 557.9h2M79.4 567.0h2M65.8 566.9h2M47.2 569.4h2M72.4 562.6h2M58.4 561.3h2M79.8 569.1h2M67.5 566.7h2M75.4 568.6h2M74.6 559.8h2M61.7 563.8h2M52.3 536.9h2M75.0 562.5h2M49.8 563.6h2M65.2 564.1h2M70.7 557.7h2M47.8 537.6h2M65.2 565.2h2M64.6 455.7h2M57.0 567.4h2M55.0 566.5h2M58.8 567.3h2M56.2 567.3h2M67.5 569.5h2M68.9 563.9h2M64.5 560.6h2M67.0 568.6h2M58.1 542.4h2M70.0 561.7h2M54.4 561.6h2M75.5 565.3h2M70.6 551.2h2" stroke="rgb(91,192,222)" stroke-opacity="0.33" stroke-width="2" fill="none"/>
<path d="M54.8 569.5h2M74.3 563.9h2M69.0 564.0h2M64.0 558.8h2M78.4 559.2h2M61.9 557.9h2M69.1 560.8h2M60.6 559.5h2M69.4 568.0h2M68.3 565.6h2M64.2 566.0h2M72.2 561.3h2M57.9 557.0h2M77.5 561.0h2M64.9 564.9h2M57.0 568.9h2M78.2 567.1h2M78.7 551.5h2M62.4 567.4h2M74.6 567.2h2M51.5 565.6h2M61.9 518.8h2M50.5 567.3h2M49.0 567.6h2M52.4 562.2h2M75.5 565.8h2M50.8 568.3h2M79.6 565.3h2M70.1 559.5h2M74.6 568.0h2M59.7 565.6h2M54.3 569.8h2M79.4 561.3h2M55.3 565.3h2M66.0 569.1h2M66.1 567.4h2M58.7 567.4h2M64.0 567.4h2M71.6 556.5h2M66.5 552.9h2M63.6 561.4h2M52.3 569.8h2M62.2 564.6h2" stroke="rgb(91,192,222)" stroke-opacity="0.33" stroke-width="2" fill="none"/>
<path d="M48.9 557.7h2M68.4 569.0h2M62.6 567.4h2M66.2 567.2h2M55.2 564.5h2M64.8 556.5h2M66.4 565.7h2M67.9 559.6h2M54.6 566.3h2M66.7 565.1h2M51.9 556.5h2M56.9 568.1h2M50.8 567.8h2M72.3 559.4h2M76.0 557.9h2M50.4 568.8h2M75.5 569.4h2M50.6 568.3h2M66.1 562.4h2M63.0 564.1h2M74.1 568.2h2M79.0 563.0h2M77.4 558.8h2M59.4 561.9h2M77.8 565.6h2M59.4 565.6h2M56.8 556.9h2M69.0 556.5h2M58.4 560.7h2M55.3 567.2h2M62.3 566.0h2M52.6 566.8h2M60.6 555.4h2M50.3 566.8h2M51.3 558.5h2M65.1 558.4h2M47.7 566.8h2M74.8 567.0h2M72.8 564.8h2M74.7 545.6h2M69.3 557.7h2M71.8 561.0h2" stroke="rgb(91,192,222)" stroke-opacity="0.33" stroke-width="2" fill="none"/>
<path d="M49.9 562.6h2M78.2 561.8h2M75.7 556.9h2M71.5 566.7h2M74.9 563.8h2M50.1 565.3h2M72.2 568.0h2M63.2 567.9h2M68.0 501.9h2M55.8 569.8h2M72.6 566.4h2M79.8 564.4h2M78.0 558.4h2M71.0 559.0h2M67.3 569.8h2M50.5 565.0h2M70.3 558.5h2M59.6 560.8h2M67.5 560.9h2M75.4 536.5h2M75.5 556.3h2M47.1 565.5h2M51.9 558.3h2M51.9 566.2h2M73.4 564.8h2M68.5 562.0h2M74.1 564.8h2M64.8 563.1h2M53.2 564.6h2M69.3 569.8h2M69.3 568.8h2M67.8 566.6h2M64.6 569.9h2M61.0 567.4h2M68.3 568.1h2M75.4 569.3h2M61.9 567.9h2M56.0 560.8h2M78.3 568.1h2M77.4 561.4h2M62.8 564.0h2M74.9 558.7h2" stroke="rgb(91,192,222)" stroke-opacity="0.33" stroke-width="2" fill="none"/>
<path d="M64.0 562.8h2M78.7 559.0h2M53.7 565.8h2M69.3 561.1h2M62.5 567.7h2M51.4 559.1h2M80.2 566.6h2M55.5 566.3h2M53.4 570.1h2M66.4 569.0h2M52.7 562.5h2M56.1 569.3h2M64.8 563.6h2M61.3 558.7h2M68.4 564.4h2M56.5 567.8h2M77.2 570.4h2M54.0 567.0h2M58.2 564.9h2M78.6 569.6h2M60.1 564.6h2M69.0 554.4h2M64.5 552.7h2M78.8 564.8h2M63.7 563.5h2M55.7 565.1h2M54.7 561.5h2M69.6 564.8h2M58.0 561.8h2M56.3 552.1h2M74.1 568.1h2M66.0 533.6h2M73.7 561.8h2M51.8 567.5h2M66.1 564.3h2M57.0 565.8h2M70.3 563.1h2M47.1 567.6h2M68.2 558.0h2M69.6 567.4h2M74.6 558.3h2M53.3 565.4h2" stroke="rgb(91,192,222)" stroke-opacity="0.33" stroke-width="2" fill="none"/>
<path d="M74.3 558.5h2M76.8 561.0h2M68.2 569.4h2M62.9 562.8h2M63.8 569.2h2M64.6 567.3h2M49.5 558.9h2M61.6 567.6h2M48.5 564.4h2M72.8 558.0h2M47.1 557.2h2M57.3 564.8h2M76.1 562.9h2M51.5 565.3h2M58.7 557.7h2M66.3 561.3h2M77.9 562.8h2M69.8 558.3h2M64.5 562.3h2M56.1 559.0h2M59.2 566.2h2M54.0 564.3h2M54.5 558.1h2M70.7 569.8h2M76.5 562.2h2M55.0 569.4h2M56.7 565.9h2M51.7 564.8h2M61.4 567.9h2M58.9 565.6h2M77.4 569.2h2M55.0 564.2h2M79.2 563.2h2M77.2 565.8h2M66.6 558.6h2M59.8 566.9h2M78.7 560.7h2M48.8 566.3h2M48.8 565.7h2M59.5 561.7h2M57.4 567.1h2M71.7 566.2h2" stroke="rgb(91,192,222)" stroke-opacity="0.33" stroke-width="2" fill="none"/>
<path d="M110.9 557.0h2M136.1 564.9h2M120.6 563.5h2M117.8 562.2h2M125.1 566.7h2M111.8 563.6h2M114.8 563.6h2M129.9 559.6h2M122.4 568.2h2M127.0 564.9h2M131.9 563.5h2M107.9 556.4h2M103.0 566.7h2M126.9 560.9h2M110.4 559.4h2M112.8 548.4h2M128.3 566.3h2M119.0 564.3h2M103.3 564.0h2M108.9 563.2h2M133.5 569.6h2M107.0 565.5h2M130.0 564.7h2M134.4 565.8h2M107.9 560.4h2M104.3 565.0h2M128.4 556.5h2M129.1 567.8h2M124.3 560.3h2M133.6 566.2h2M126.0 568.2h2M113.6 567.6h2M104.5 569.6h2M112.8 557.0h2M123.8 568.0h2M113.6 568.8h2M130.3 563.3h2M131.9 565.6h2M133.7 564.1h2M127.8 564.7h2M121.6 566.2h2M130.0 561.9h2M115.1 567.2h2" stroke="rgb(235,80,60)" stroke-opacity="0.33" stroke-width="2" fill="none"/>
<path d="M106.0 563.6h2M104.9 568.2h2M104.3 567.7h2M129.8 563.8h2M105.8 568.5h2M113.9 555.3h2M105.0 564.1h2M119.6 565.3h2M117.0 556.7h2M104.0 568.8h2M112.3 569.6h2M111.4 566.4h2M103.2 567.6h2M111.8 562.9h2M117.8 558.0h2M104.0 556.9h2M130.5 568.6h2M133.4 559.2h2M107.1 565.3h2M118.3 569.9h2M103.4 565.5h2M131.8 562.5h2M130.0 564.1h2M130.9 558.9h2M125.4 565.7h2M108.7 566.5h2M122.6 554.5h2M120.9 558.0h2M125.3 556.3h2M129.0 563.0h2M134.0 562.5h2M126.6 559.6h2M135.4 561.6h2M111.5 565.4h2M103.9 562.8h2M130.3 567.4h2M105.5 565.0h2M115.2 556.8h2M106.5 561.8h2M114.2 567.4h2M131.5 569.8h2M108.9 561.2h2M117.2 562.9h2" stroke="rgb(235,80,60)" stroke-opacity="0.33" stroke-width="2" fill="none"/>
<path d="M122.2 568.9h2M133.1 565.8h2M108.3 562.2h2M107.0 568.2h2M119.4 565.1h2M133.7 568.5h2M133.3 564.7h2M114.0 554.3h2M115.6 560.5h2M119.7 568.0h2M117.4 562.3h2M103.8 565.5h2M120.2 556.5h2M132.4 559.6h2M117.3 563.2h2M121.6 566.1h2M133.6 557.3h2M127.0 565.9h2M123.1 563.4h2M117.8 564.5h2M105.1 567.6h2M119.8 568.5h2M131.0 558.3h2M112.1 563.1h2M128.0 565.5h2M103.4 566.5h2M122.3 562.7h2M116.5 568.2h2M106.2 560.7h2M123.5 570.0h2M129.9 564.6h2M121.3 561.3h2M119.5 561.4h2M119.0 566.7h2M130.0 567.6h2M127.3 566.7h2M117.3 564.1h2M109.4 562.4h2M114.0 556.4h2M105.8 570.5h2M125.7 562.7h2M103.2 549.6h2" stroke="rgb(235,80,60)" stroke-opacity="0.33" stroke-width="2" fill="none"/>
<path d="M134.7 546.1h2M134.1 564.5h2M135.2 569.3h2M126.3 564.0h2M123.0 562.5h2M111.9 561.5h2M131.2 570.0h2M129.1 565.8h2M130.9 567.1h2M106.9 556.8h2M109.6 567.4h2M134.3 564.2h2M112.5 557.4h2M128.5 542.5h2M107.4 549.7h2M128.6 566.0h2M121.8 569.7h2M118.8 546.2h2M107.3 569.6h2M116.1 570.7h2M127.1 566.9h2M117.5 561.8h2M127.4 562.3h2M119.2 565.7h2M125.6 528.7h2M104.6 557.7h2M131.2 561.5h2M115.5 567.1h2M119.9 551.1h2M135.6 567.3h2M115.4 564.3h2M105.8 512.4h2M112.7 565.2h2M108.2 564.9h2M113.7 566.5h2M106.9 556.6h2M118.7 566.8h2M112.2 557.5h2M113.3 569.8h2M115.1 561.8h2M121.5 556.1h2M118.9 566.3h2" stroke="rgb(235,80,60)" stroke-opacity="0.33" stroke-width="2" fill="none"/>
<path d="M121.1 562.2h2M104.2 562.3h2M129.8 565.5h2M133.6 570.4h2M119.0 565.5h2M103.5 565.7h2M134.4 565.1h2M107.4 560.8h2M134.9 568.8h2M111.4 555.9h2M136.4 566.8h2M131.1 560.1h2M122.5 565.7h2M117.7 570.3h2M102.9 567.5h2M106.6 561.4h2M129.3 563.0h2M123.5 564.8h2M113.4 562.4h2M134.8 569.0h2M125.0 562.3h2M123.6 555.5h2M117.1 561.9h2M116.4 558.5h2M132.4 563.4h2M131.0 565.3h2M109.7 566.7h2M113.6 570.3h2M129.3 552.5h2M133.4 565.9h2M109.9 565.0h2M105.7 559.8h2M112.9 568.2h2M110.7 559.4h2M127.0 563.9h2M121.4 561.6h2M128.0 560.2h2M126.0 568.5h2M126.1 559.4h2M127.7 568.5h2M133.7 567.9h2M133.7 556.7h2" stroke="rgb(235,80,60)" stroke-opacity="0.33" stroke-width="2" fill="none"/>
<path d="M108.8 563.7h2M124.6 565.9h2M106.6 566.4h2M134.1 560.9h2M116.9 562.7h2M109.8 567.9h2M104.1 569.6h2M134.7 566.5h2M108.1 565.5h2M130.1 554.2h2M126.8 568.3h2M118.5 566.8h2M116.8 564.8h2M106.7 568.7h2M135.0 561.4h2M133.6 565.8h2M107.5 565.8h2M111.4 563.2h2M113.5 568.1h2M119.2 569.7h2M113.8 568.1h2M116.6 567.0h2M130.9 563.8h2M129.3 561.3h2M111.2 558.9h2M119.0 568.4h2M120.0 564.6h2M113.3 562.9h2M106.7 561.4h2M106.4 569.7h2M103.5 564.8h2M108.2 565.9h2M113.2 565.1h2M129.0 562.6h2M127.8 556.7h2M135.4 558.9h2M122.6 563.8h2M116.1 561.5h2M105.3 551.3h2M127.0 564.7h2M111.2 566.1h2M108.1 570.3h2" stroke="rgb(235,80,60)" stroke-opacity="0.33" stroke-width="2" fill="none"/>
<path d="M128.9 564.6h2M122.7 568.5h2M122.4 563.2h2M124.9 563.7h2M106.6 559.9h2M114.7 557.3h2M115.2 566.2h2M110.9 563.9h2M132.1 558.1h2M134.0 559.0h2M127.2 553.4h2M126.5 567.6h2M105.5 567.8h2M135.7 564.1h2M120.4 561.6h2M130.6 566.2h2M134.5 563.2h2M135.0 568.3h2M114.9 560.2h2M112.4 542.9h2M105.1 569.0h2M116.1 560.2h2M122.4 568.9h2M104.9 555.3h2M136.7 565.3h2M122.2 570.0h2M116.9 565.0h2M128.8 568.6h2M121.7 569.1h2M127.5 563.8h2M113.1 566.2h2M131.6 568.3h2M108.1 564.3h2M115.8 564.2h2M130.8 560.5h2M121.7 565.1h2M122.1 563.3h2M131.2 562.1h2M114.1 564.7h2M102.8 562.8h2M103.6 562.0h2M124.4 560.2h2" stroke="rgb(235,80,60)" stroke-opacity="0.33" stroke-width="2" fill="none"/>
<path d="M112.3 562.3h2M103.8 562.7h2M128.9 555.2h2M111.4 566.2h2M134.7 560.3h2M105.0 559.0h2M109.6 551.0h2M103.3 555.6h2M115.9 570.4h2M105.9 565.8h2M119.7 564.2h2M107.3 568.2h2M117.7 562.1h2M103.8 551.7h2M135.0 570.4h2M127.8 565.8h2M112.3 562.2h2M119.6 566.5h2M136.4 562.9h2M116.1 560.0h2M120.8 567.4h2M108.5 558.0h2M111.5 562.7h2M109.0 570.6h2M123.7 566.7h2M134.0 569.9h2M127.3 565.3h2M105.0 564.2h2M103.5 561.1h2M136.8 568.1h2M126.0 563.9h2M113.8 566.7h2M119.5 565.7h2M135.4 561.8h2M118.2 568.0h2M113.5 559.4h2M104.6 564.0h2M127.6 564.2h2M117.1 566.7h2M117.0 564.9h2M121.3 562.8h2M110.3 562.9h2" stroke="rgb(235,80,60)" stroke-opacity="0.33" stroke-width="2" fill="none"/>
<path d="M64.2 455.7h1.2M64.2 536.9h1.2M64.2 533.6h1.2M64.2 501.9h1.2M64.2 545.6h1.2M120.2 512.4h1.2M120.2 549.7h1.2M120.2 546.2h1.2M120.2 549.6h1.2" stroke="#111" stroke-width="1.0" fill="none"/>
<use href="#vI0" fill="none" stroke="#000" stroke-width="1.05"/>
<use href="#vI1" fill="none" stroke="#000" stroke-width="1.05"/>
<line x1="54.90" y1="562.54" x2="74.70" y2="562.54" stroke="#000" stroke-width="1.25"/>
<rect x="60.70" y="561.19" width="8.2" height="2.70" fill="#1a1a1a" fill-opacity="0.85"/>
<line x1="64.80" y1="561.19" x2="64.80" y2="563.89" stroke="#000" stroke-width="0.6"/>
<line x1="111.10" y1="564.03" x2="130.50" y2="564.03" stroke="#000" stroke-width="1.25"/>
<rect x="116.70" y="562.68" width="8.2" height="2.70" fill="#1a1a1a" fill-opacity="0.85"/>
<line x1="120.80" y1="562.68" x2="120.80" y2="565.38" stroke="#000" stroke-width="0.6"/>
<path d="M31.00,446.90 L31.00,576.30 L154.60,576.30" fill="none" stroke="#111" stroke-width="0.9"/>
<line x1="28.20" y1="570.60" x2="31.00" y2="570.60" stroke="#111" stroke-width="0.8"/>
<text x="25.50" y="572.91" font-size="6.6" text-anchor="end" fill="#222">0</text>
<line x1="28.20" y1="540.75" x2="31.00" y2="540.75" stroke="#111" stroke-width="0.8"/>
<text x="25.50" y="543.06" font-size="6.6" text-anchor="end" fill="#222">1</text>
<line x1="28.20" y1="510.90" x2="31.00" y2="510.90" stroke="#111" stroke-width="0.8"/>
<text x="25.50" y="513.21" font-size="6.6" text-anchor="end" fill="#222">2</text>
<line x1="28.20" y1="481.05" x2="31.00" y2="481.05" stroke="#111" stroke-width="0.8"/>
<text x="25.50" y="483.36" font-size="6.6" text-anchor="end" fill="#222">3</text>
<line x1="28.20" y1="451.20" x2="31.00" y2="451.20" stroke="#111" stroke-width="0.8"/>
<text x="25.50" y="453.51" font-size="6.6" text-anchor="end" fill="#222">4</text>
<line x1="64.80" y1="576.30" x2="64.80" y2="579.10" stroke="#111" stroke-width="0.8"/>
<text x="64.80" y="586.70" font-size="6.6" text-anchor="middle" fill="#222">Stage I&amp;Stage II</text>
<line x1="120.80" y1="576.30" x2="120.80" y2="579.10" stroke="#111" stroke-width="0.8"/>
<text x="120.80" y="586.70" font-size="6.6" text-anchor="middle" fill="#222">Stage III&amp;Stage IV</text>
<text x="63.96" y="596.50" font-size="8.6" textLength="57.67" lengthAdjust="spacingAndGlyphs" fill="#111">Pathologic stage</text>
<text transform="translate(7.00,511.60) rotate(-90)" font-size="7.8" text-anchor="middle" fill="#111">The expression of TMC1</text>
<text transform="translate(14.90,536.20) rotate(-90)" font-size="8.4" fill="#111">Log<tspan font-size="6" dy="2.3">2</tspan><tspan font-size="7.6" dy="-2.3"> (TPM+1)</tspan></text>
<path d="M64.80,455.20 L64.80,452.70 L120.80,452.70 L120.80,455.20" fill="none" stroke="#111" stroke-width="0.85"/>
<text x="82.97" y="450.90" font-size="6.3" textLength="19.67" lengthAdjust="spacingAndGlyphs" fill="#222">p = 0.03</text>
<text x="178.1" y="430.6" font-size="18.8" >J</text>
<defs><path id="vJ0" d="M263.2 570.5 264.4 569.7 265.6 568.9 266.2 568.0 265.8 567.2 264.9 566.3 263.6 565.5 262.4 564.6 261.1 563.8 259.7 562.9 258.2 562.1 256.8 561.2 255.7 560.4 254.7 559.4 253.8 558.5 253.0 557.5 252.3 556.6 251.7 555.6 251.1 554.7 250.7 553.7 250.4 552.8 250.1 551.8 249.8 550.9 249.6 550.0 249.4 549.0 249.2 548.1 249.0 547.1 248.8 546.2 248.6 545.3 248.3 544.3 248.0 543.4 247.7 542.4 247.4 541.4 247.2 540.5 246.9 539.5 246.7 538.6 246.5 537.7 246.3 536.8 246.2 535.8 246.0 534.9 245.9 534.0 245.8 533.1 245.7 532.2 245.7 531.4 245.6 530.5 245.6 529.7 245.5 528.8 245.5 528.0 245.5 527.2 245.5 526.3 245.5 525.4 245.5 524.4 245.5 523.5 245.5 522.5 245.5 521.6 245.5 520.6 245.5 519.6 245.5 518.7 245.5 517.7 245.5 516.8 245.5 515.8 245.4 514.9 245.4 513.9 245.4 513.0 245.4 512.0 245.4 511.1 245.4 510.1 245.4 509.2 245.4 508.2 245.4 507.3 245.4 506.3 245.4 505.4 245.4 504.4 245.4 503.5 245.4 502.5 245.4 501.6 245.4 500.6 245.4 499.7 245.4 498.7 245.4 497.8 245.4 496.8 245.4 495.9 245.4 494.9 245.4 494.0 245.4 493.0 245.4 492.1 245.4 491.1 245.4 490.2 245.4 489.2 245.4 488.3 245.4 487.3 245.4 486.3 245.4 485.4 245.4 484.4 245.4 483.5 245.4 482.5 245.4 481.6 245.4 480.6 245.4 479.7 245.4 478.7 245.4 477.8 245.4 476.8 245.4 475.9 245.4 474.9 245.4 474.0 245.4 473.0 245.4 472.1 245.4 471.1 245.4 470.2 245.4 469.2 245.4 468.3 245.4 467.3 245.4 466.4 245.4 465.4 245.4 464.5 245.4 463.5 245.4 462.6 245.4 461.6 245.4 460.7 245.4 459.7 245.4 458.8 245.4 457.8 245.4 456.9 245.3 455.9 245.0 455.9 245.0 456.9 245.0 457.8 245.0 458.8 245.0 459.7 245.0 460.7 245.0 461.6 245.0 462.6 245.0 463.5 245.0 464.5 245.0 465.4 245.0 466.4 245.0 467.3 245.0 468.3 245.0 469.2 245.0 470.2 245.0 471.1 245.0 472.1 245.0 473.0 245.0 474.0 245.0 474.9 245.0 475.9 245.0 476.8 245.0 477.8 245.0 478.7 245.0 479.7 245.0 480.6 245.0 481.6 245.0 482.5 245.0 483.5 245.0 484.4 245.0 485.4 245.0 486.3 245.0 487.3 245.0 488.3 245.0 489.2 245.0 490.2 245.0 491.1 245.0 492.1 245.0 493.0 245.0 494.0 245.0 494.9 245.0 495.9 245.0 496.8 245.0 497.8 245.0 498.7 245.0 499.7 245.0 500.6 245.0 501.6 245.0 502.5 245.0 503.5 245.0 504.4 245.0 505.4 245.0 506.3 245.0 507.3 245.0 508.2 245.0 509.2 245.0 510.1 245.0 511.1 245.0 512.0 245.0 513.0 245.0 513.9 245.0 514.9 244.9 515.8 244.9 516.8 244.9 517.7 244.9 518.7 244.9 519.6 244.9 520.6 244.9 521.6 244.9 522.5 244.9 523.5 244.9 524.4 244.9 525.4 244.9 526.3 244.9 527.2 244.9 528.0 244.9 528.8 244.8 529.7 244.8 530.5 244.7 531.4 244.7 532.2 244.6 533.1 244.5 534.0 244.4 534.9 244.2 535.8 244.1 536.8 243.9 537.7 243.7 538.6 243.5 539.5 243.2 540.5 243.0 541.4 242.7 542.4 242.4 543.4 242.1 544.3 241.8 545.3 241.6 546.2 241.4 547.1 241.2 548.1 241.0 549.0 240.8 550.0 240.6 550.9 240.3 551.8 240.0 552.8 239.7 553.7 239.3 554.7 238.7 555.6 238.1 556.6 237.4 557.5 236.6 558.5 235.7 559.4 234.7 560.4 233.6 561.2 232.2 562.1 230.7 562.9 229.3 563.8 228.0 564.6 226.8 565.5 225.5 566.3 224.6 567.2 224.2 568.0 224.8 568.9 226.0 569.7 227.2 570.5Z"/></defs><use href="#vJ0" fill="#a9dcea"/>
<defs><path id="vJ1" d="M314.1 570.5 315.0 570.1 315.9 569.7 316.9 569.3 317.8 568.9 318.4 568.5 318.6 568.0 318.5 567.6 318.2 567.2 317.7 566.8 317.1 566.3 316.5 565.9 315.8 565.5 315.1 565.0 314.5 564.6 313.9 564.2 313.1 563.8 312.3 563.3 311.5 562.9 310.6 562.5 309.8 562.1 309.0 561.7 308.4 561.2 307.8 560.8 307.4 560.4 307.1 559.9 306.8 559.5 306.5 559.0 306.3 558.6 306.1 558.2 305.9 557.7 305.7 557.3 305.5 556.8 305.4 556.4 305.2 555.9 305.0 555.5 304.9 555.0 304.7 554.6 304.6 554.2 304.4 553.7 304.2 553.3 304.1 552.8 303.9 552.4 303.7 551.9 303.6 551.5 303.4 551.0 303.2 550.6 303.1 550.2 302.9 549.7 302.8 549.3 302.6 548.8 302.5 548.4 302.3 547.9 302.2 547.5 302.1 547.0 301.9 546.6 301.8 546.2 301.6 545.7 301.5 545.3 301.4 544.8 301.2 544.4 301.1 543.9 300.9 543.5 300.7 543.0 300.6 542.6 300.4 542.1 300.3 541.7 300.1 541.3 300.0 540.8 299.9 540.4 299.8 539.9 299.7 539.5 299.6 539.0 299.6 538.6 299.6 538.2 299.5 537.7 299.5 537.3 299.5 536.9 299.5 536.4 299.4 536.0 299.4 535.6 299.4 535.1 299.4 534.7 299.4 534.3 299.4 533.8 299.3 533.4 299.3 533.0 299.3 532.5 299.3 532.1 299.3 531.7 299.3 531.2 299.3 530.8 299.3 530.3 299.3 529.9 299.3 529.5 299.3 529.0 299.3 528.6 299.3 528.2 299.2 527.7 299.2 527.3 299.2 526.8 299.2 526.4 299.2 526.0 299.2 525.5 299.2 525.1 299.2 524.7 299.2 524.2 299.2 523.8 299.2 523.3 299.2 522.9 299.2 522.5 299.2 522.0 299.2 521.6 299.2 521.2 299.2 520.7 299.2 520.3 299.2 519.8 299.2 519.4 299.2 519.0 299.2 518.5 299.2 518.1 299.2 517.7 299.2 517.2 299.1 516.8 298.9 516.8 298.8 517.2 298.8 517.7 298.8 518.1 298.8 518.5 298.8 519.0 298.8 519.4 298.8 519.8 298.8 520.3 298.8 520.7 298.8 521.2 298.8 521.6 298.8 522.0 298.8 522.5 298.8 522.9 298.8 523.3 298.8 523.8 298.8 524.2 298.8 524.7 298.8 525.1 298.8 525.5 298.8 526.0 298.8 526.4 298.8 526.8 298.8 527.3 298.8 527.7 298.7 528.2 298.7 528.6 298.7 529.0 298.7 529.5 298.7 529.9 298.7 530.3 298.7 530.8 298.7 531.2 298.7 531.7 298.7 532.1 298.7 532.5 298.7 533.0 298.7 533.4 298.6 533.8 298.6 534.3 298.6 534.7 298.6 535.1 298.6 535.6 298.6 536.0 298.5 536.4 298.5 536.9 298.5 537.3 298.5 537.7 298.4 538.2 298.4 538.6 298.4 539.0 298.3 539.5 298.2 539.9 298.1 540.4 298.0 540.8 297.9 541.3 297.7 541.7 297.6 542.1 297.4 542.6 297.3 543.0 297.1 543.5 296.9 543.9 296.8 544.4 296.6 544.8 296.5 545.3 296.4 545.7 296.2 546.2 296.1 546.6 295.9 547.0 295.8 547.5 295.7 547.9 295.5 548.4 295.4 548.8 295.2 549.3 295.1 549.7 294.9 550.2 294.8 550.6 294.6 551.0 294.4 551.5 294.3 551.9 294.1 552.4 293.9 552.8 293.8 553.3 293.6 553.7 293.4 554.2 293.3 554.6 293.1 555.0 293.0 555.5 292.8 555.9 292.6 556.4 292.5 556.8 292.3 557.3 292.1 557.7 291.9 558.2 291.7 558.6 291.5 559.0 291.2 559.5 290.9 559.9 290.6 560.4 290.2 560.8 289.6 561.2 289.0 561.7 288.2 562.1 287.4 562.5 286.5 562.9 285.7 563.3 284.9 563.8 284.1 564.2 283.5 564.6 282.9 565.0 282.2 565.5 281.5 565.9 280.9 566.3 280.3 566.8 279.8 567.2 279.5 567.6 279.4 568.0 279.6 568.5 280.2 568.9 281.1 569.3 282.1 569.7 283.0 570.1 283.9 570.5Z"/></defs><use href="#vJ1" fill="#f3a69b"/>
<path d="M255.1 566.7h2M251.8 564.2h2M241.6 568.7h2M256.8 558.8h2M241.0 546.2h2M240.8 554.6h2M228.0 561.4h2M256.6 564.5h2M242.7 551.9h2M227.6 565.4h2M250.3 569.6h2M254.1 555.3h2M250.5 568.3h2M244.8 567.3h2M233.8 557.8h2M233.2 566.7h2M248.4 563.3h2M254.8 569.6h2M233.8 567.8h2M237.6 553.0h2M228.0 565.7h2M257.1 566.8h2M238.4 566.9h2M235.4 553.3h2M255.4 564.0h2M248.9 564.2h2M236.0 569.2h2M240.4 564.7h2M238.1 534.5h2M251.7 545.2h2M250.2 566.2h2M241.9 558.4h2M235.2 569.4h2M253.6 561.8h2M243.9 560.3h2M237.9 546.7h2M248.1 564.5h2M237.5 569.3h2M243.9 565.0h2M234.3 545.5h2M231.4 570.1h2M244.4 568.3h2M234.7 559.9h2" stroke="rgb(91,192,222)" stroke-opacity="0.33" stroke-width="2" fill="none"/>
<path d="M236.5 562.5h2M235.4 569.5h2M231.9 564.0h2M227.5 554.1h2M237.6 569.4h2M247.1 566.2h2M242.5 540.0h2M240.6 568.2h2M244.9 557.7h2M259.9 570.6h2M243.8 542.3h2M244.1 561.9h2M238.7 565.4h2M241.2 553.8h2M257.8 456.6h2M237.2 560.5h2M258.2 562.5h2M236.9 563.9h2M253.9 569.5h2M258.5 562.0h2M228.8 569.7h2M255.4 558.9h2M258.5 556.4h2M233.2 567.1h2M229.1 532.2h2M229.5 550.3h2M229.9 567.4h2M258.2 561.1h2M261.2 548.6h2M253.4 551.9h2M254.2 562.5h2M237.4 540.3h2M241.3 563.0h2M237.5 568.8h2M256.1 565.6h2M257.6 566.5h2M246.2 524.5h2M242.1 563.5h2M246.2 548.9h2M233.1 564.5h2M252.3 567.5h2M234.7 555.5h2M234.3 569.8h2" stroke="rgb(91,192,222)" stroke-opacity="0.33" stroke-width="2" fill="none"/>
<path d="M229.1 559.5h2M235.6 565.3h2M237.4 569.8h2M230.6 569.6h2M253.5 562.5h2M261.2 558.0h2M228.1 559.7h2M243.0 560.3h2M241.8 564.6h2M258.1 567.9h2M241.4 562.9h2M252.4 569.9h2M240.8 560.2h2M232.3 565.2h2M231.9 566.0h2M257.4 546.0h2M245.4 565.9h2M247.5 551.1h2M246.3 559.0h2M232.3 554.4h2M247.9 565.8h2M261.1 550.3h2M252.6 562.6h2M245.1 569.5h2M252.0 565.6h2M234.1 563.9h2M237.8 544.5h2M256.9 557.9h2M250.1 560.8h2M241.4 565.1h2M230.9 564.5h2M240.7 558.4h2M241.7 564.0h2M254.2 567.6h2M241.9 551.3h2M230.4 568.9h2M251.0 568.9h2M250.1 560.9h2M251.9 535.3h2M236.1 563.1h2M256.6 565.6h2M260.0 561.3h2M254.1 559.5h2" stroke="rgb(91,192,222)" stroke-opacity="0.33" stroke-width="2" fill="none"/>
<path d="M249.1 548.3h2M250.8 564.2h2M234.1 569.1h2M239.6 567.8h2M253.6 561.4h2M233.8 557.5h2M241.4 570.3h2M259.5 561.4h2M239.1 557.9h2M251.6 556.7h2M231.4 562.5h2M232.7 566.1h2M239.3 561.8h2M260.0 567.8h2M246.8 560.9h2M237.2 565.0h2M243.2 570.4h2M241.0 535.8h2M237.4 564.9h2M254.0 569.4h2M251.0 553.1h2M240.9 569.6h2M232.6 568.4h2M260.1 554.9h2M253.1 554.1h2M237.2 563.6h2M229.2 569.4h2M256.9 556.4h2M238.1 570.3h2M243.0 569.6h2M246.1 562.3h2M234.4 568.8h2M248.8 554.4h2M228.0 569.9h2M242.5 564.6h2M245.6 556.5h2M237.1 561.3h2M232.2 569.2h2M260.0 559.9h2M228.7 547.0h2M240.5 569.0h2M243.7 569.4h2M248.2 569.4h2" stroke="rgb(91,192,222)" stroke-opacity="0.33" stroke-width="2" fill="none"/>
<path d="M236.6 534.3h2M260.7 544.8h2M235.6 560.1h2M230.3 567.9h2M231.7 544.8h2M249.4 569.6h2M238.5 546.2h2M248.8 566.6h2M244.2 563.2h2M247.1 565.7h2M231.5 564.9h2M243.4 565.7h2M251.8 565.3h2M253.5 544.3h2M252.3 557.1h2M251.6 563.6h2M244.2 563.9h2M260.0 559.4h2M260.7 557.8h2M252.9 499.1h2M230.0 566.4h2M260.9 569.7h2M243.7 567.0h2M254.7 552.2h2M232.9 563.2h2M247.5 567.9h2M248.9 552.2h2M257.3 557.1h2M234.7 569.9h2M257.3 569.2h2M248.6 553.6h2M257.5 539.5h2M247.1 553.8h2M240.0 559.8h2M260.5 559.2h2M234.6 556.9h2M233.5 563.0h2M233.8 529.8h2M260.7 570.2h2M228.6 562.6h2M251.6 555.3h2M260.8 533.1h2" stroke="rgb(91,192,222)" stroke-opacity="0.33" stroke-width="2" fill="none"/>
<path d="M254.8 567.4h2M238.2 566.5h2M230.2 565.3h2M231.4 550.8h2M259.5 569.3h2M257.8 558.4h2M236.8 565.8h2M240.2 562.2h2M246.1 566.8h2M243.5 564.1h2M234.3 563.1h2M234.0 554.8h2M244.4 522.8h2M255.2 545.1h2M245.5 570.3h2M251.4 567.8h2M241.6 544.3h2M241.0 560.2h2M233.7 564.1h2M247.2 568.9h2M257.2 568.3h2M229.5 547.2h2M239.7 558.3h2M233.8 542.8h2M256.4 564.1h2M246.6 570.5h2M231.0 564.0h2M249.4 569.9h2M255.0 537.5h2M258.4 564.6h2M236.0 562.7h2M250.4 566.5h2M231.2 562.4h2M241.9 570.3h2M235.2 564.6h2M250.7 567.3h2M260.2 538.1h2M244.5 546.3h2M253.0 539.2h2M245.3 562.2h2M250.7 567.2h2M232.7 564.4h2" stroke="rgb(91,192,222)" stroke-opacity="0.33" stroke-width="2" fill="none"/>
<path d="M230.6 558.0h2M232.3 560.1h2M254.7 545.5h2M254.1 560.4h2M239.3 548.3h2M240.5 568.2h2M258.3 561.6h2M254.0 559.9h2M240.4 567.2h2M240.7 551.4h2M255.7 545.1h2M242.0 569.8h2M243.3 566.4h2M236.0 563.0h2M240.6 567.0h2M238.6 570.7h2M245.5 564.3h2M245.1 557.2h2M237.9 564.2h2M257.9 567.3h2M258.5 559.3h2M227.9 569.1h2M251.4 569.3h2M232.7 568.6h2M237.6 539.3h2M251.2 569.9h2M248.4 569.2h2M235.5 567.7h2M239.1 534.7h2M238.1 562.5h2M231.0 564.5h2M258.8 549.6h2M228.8 549.9h2M238.8 564.0h2M240.2 569.9h2M249.7 565.4h2M245.2 563.2h2M232.3 570.3h2M240.8 554.1h2M238.0 565.9h2M237.3 561.3h2M243.5 552.4h2" stroke="rgb(91,192,222)" stroke-opacity="0.33" stroke-width="2" fill="none"/>
<path d="M229.4 565.8h2M236.3 557.0h2M261.0 558.6h2M242.0 570.6h2M229.2 562.5h2M245.8 563.0h2M235.3 553.3h2M247.0 542.8h2M249.3 540.9h2M234.7 567.2h2M235.9 566.1h2M253.2 560.2h2M258.4 570.1h2M257.5 568.1h2M246.7 570.0h2M247.7 539.4h2M254.6 544.6h2M240.9 567.3h2M233.7 562.8h2M245.5 545.5h2M250.6 560.7h2M232.0 548.3h2M257.8 564.0h2M253.5 566.8h2M237.5 548.2h2M238.0 544.6h2M229.8 564.7h2M244.6 569.2h2M229.2 569.3h2M258.6 545.8h2M251.6 560.7h2M248.1 540.0h2M249.8 561.6h2M260.4 565.1h2M238.5 565.8h2M231.3 563.7h2M258.3 570.1h2M243.5 556.2h2M260.4 566.9h2M242.0 570.7h2M235.5 559.4h2M241.5 569.3h2" stroke="rgb(91,192,222)" stroke-opacity="0.33" stroke-width="2" fill="none"/>
<path d="M306.5 566.8h2M282.7 567.4h2M285.7 567.6h2M299.3 567.9h2M292.1 555.7h2M301.6 560.3h2M306.6 567.8h2M297.5 566.0h2M296.0 568.1h2M295.2 558.7h2M291.5 555.2h2M294.3 562.4h2M304.4 558.7h2M304.2 567.9h2M310.2 567.9h2M308.6 558.8h2M312.0 565.1h2M311.5 549.3h2M284.3 566.0h2M313.4 566.1h2M312.8 564.3h2M295.9 564.9h2M287.4 549.7h2M287.2 552.3h2M307.1 564.8h2M283.9 554.5h2M304.7 570.6h2M281.2 561.7h2M298.5 560.6h2M287.1 563.2h2M285.8 563.7h2M291.9 546.8h2M293.9 562.6h2M289.2 558.0h2M310.3 570.0h2M286.0 546.3h2M284.9 542.0h2M291.0 558.3h2M310.7 568.7h2M314.5 553.9h2M295.3 568.5h2M282.1 568.3h2M297.7 548.7h2" stroke="rgb(235,80,60)" stroke-opacity="0.33" stroke-width="2" fill="none"/>
<path d="M285.9 567.5h2M296.6 565.7h2M295.0 555.1h2M282.2 566.7h2M287.9 561.9h2M292.6 570.0h2M309.1 562.6h2M282.2 552.7h2M301.2 564.7h2M282.7 568.8h2M306.0 559.7h2M282.2 566.1h2M297.9 567.5h2M291.4 521.6h2M300.8 559.4h2M311.3 567.1h2M294.4 517.5h2M287.8 567.2h2M305.4 564.9h2M291.6 563.7h2M299.4 557.0h2M310.9 569.9h2M287.7 561.4h2M296.5 560.1h2M283.2 565.1h2M305.4 551.5h2M311.7 539.5h2M285.9 569.7h2M284.8 570.4h2M289.3 555.9h2M308.8 558.5h2M289.9 569.1h2M308.3 566.9h2M290.1 527.3h2M284.7 566.8h2M313.0 555.9h2M290.1 568.8h2M305.9 564.4h2M297.2 551.6h2M293.5 544.9h2M289.5 552.1h2M281.5 568.8h2M293.1 570.4h2" stroke="rgb(235,80,60)" stroke-opacity="0.33" stroke-width="2" fill="none"/>
<path d="M291.4 569.2h2M287.1 564.9h2M295.5 569.5h2M295.7 552.5h2M312.8 543.0h2M294.4 567.4h2M295.8 559.6h2M295.1 559.3h2M303.9 565.9h2M294.1 544.0h2M312.4 563.4h2M292.9 563.3h2M311.5 540.8h2M282.1 568.5h2M302.5 569.9h2M309.4 562.3h2M303.0 553.7h2M312.9 559.4h2M293.3 560.1h2M310.6 555.3h2M292.9 557.3h2M305.6 558.5h2M285.2 569.3h2M305.1 552.9h2M313.8 556.4h2M304.3 567.0h2M288.6 562.3h2M282.0 563.1h2M314.1 564.8h2M310.2 554.1h2M294.4 568.6h2M298.9 557.4h2M312.4 567.2h2M303.3 569.8h2M306.2 561.4h2M283.7 568.2h2M303.0 569.1h2M289.4 550.4h2M291.3 570.6h2M298.2 565.5h2M281.9 559.2h2M298.9 566.1h2M289.8 562.6h2" stroke="rgb(235,80,60)" stroke-opacity="0.33" stroke-width="2" fill="none"/>
<path d="M289.5 548.5h2M293.8 540.2h2M289.6 558.5h2M285.9 558.8h2M309.9 569.0h2M313.7 553.9h2M303.3 561.2h2M302.8 562.2h2M283.9 569.0h2M282.4 555.2h2M289.5 570.0h2M294.6 553.3h2M294.6 568.5h2M302.2 562.6h2M290.4 564.8h2M300.7 568.9h2M286.3 528.5h2M311.0 556.1h2M297.4 559.2h2M305.2 569.7h2M307.0 565.9h2M304.0 570.3h2M286.1 535.0h2M309.8 562.6h2M302.3 547.4h2M283.7 567.5h2M290.8 566.3h2M307.4 568.8h2M298.2 560.7h2M305.6 562.1h2M306.4 565.3h2M294.4 550.0h2M313.4 555.2h2M281.2 564.7h2M300.2 567.4h2M307.4 554.7h2M300.7 565.3h2M308.5 563.9h2M303.7 566.3h2M289.1 560.9h2M287.5 555.7h2M293.3 540.3h2M290.4 567.4h2" stroke="rgb(235,80,60)" stroke-opacity="0.33" stroke-width="2" fill="none"/>
<path d="M294.8 563.9h2M281.7 567.8h2M310.2 558.4h2M297.5 562.8h2M301.5 568.2h2M288.0 565.6h2M300.6 562.3h2M306.0 563.1h2M296.3 568.8h2M305.4 564.2h2M283.6 563.3h2M300.2 567.7h2M314.6 558.2h2M312.6 564.1h2M291.4 567.8h2M292.9 569.0h2M298.8 542.5h2M283.8 536.1h2M288.1 556.3h2M305.0 559.9h2M301.7 551.4h2M308.3 564.8h2M296.0 565.5h2M297.3 559.6h2M285.7 559.4h2M299.3 565.9h2M297.2 569.1h2M289.4 559.7h2M292.0 549.6h2M304.6 558.7h2M288.9 567.6h2M290.9 540.5h2M288.8 563.6h2M305.0 567.4h2M306.8 566.0h2M294.5 564.8h2M301.9 551.2h2M310.8 565.9h2M313.0 561.7h2M297.8 562.5h2M303.8 569.9h2M281.3 526.9h2M304.6 569.8h2" stroke="rgb(235,80,60)" stroke-opacity="0.33" stroke-width="2" fill="none"/>
<path d="M298.0 570.6h2M307.9 564.5h2M298.1 560.7h2M307.9 570.2h2M301.4 569.8h2M281.8 555.5h2M302.5 551.7h2M281.4 561.7h2M297.5 540.9h2M285.1 563.9h2M295.3 564.9h2M289.0 559.8h2M300.9 567.4h2M281.3 563.8h2M298.2 566.1h2M303.0 562.0h2M294.2 563.9h2M284.3 569.9h2M283.6 565.4h2M309.5 555.3h2M306.6 566.4h2M300.0 568.0h2M281.3 552.0h2M314.1 560.5h2M313.8 559.5h2M296.9 550.2h2M311.4 565.1h2M313.2 565.1h2M312.5 561.3h2M284.1 555.0h2M282.0 564.3h2M284.1 556.1h2M304.9 565.6h2M281.1 568.7h2M285.0 544.1h2M289.9 570.4h2M291.9 568.0h2M294.5 557.6h2M308.9 553.3h2M306.4 564.5h2M294.3 569.9h2M303.8 569.4h2M307.7 566.5h2" stroke="rgb(235,80,60)" stroke-opacity="0.33" stroke-width="2" fill="none"/>
<path d="M293.1 566.4h2M294.0 569.4h2M308.3 564.8h2M291.3 564.1h2M299.7 562.5h2M302.3 556.8h2M295.1 551.5h2M282.2 566.5h2M309.2 561.7h2M309.9 555.3h2M284.0 550.8h2M314.9 563.2h2M307.2 566.2h2M284.0 550.3h2M314.6 550.5h2M284.1 565.0h2M295.4 568.6h2M294.3 568.3h2M303.2 565.1h2M312.1 564.0h2M287.6 547.9h2M284.9 543.1h2M299.7 542.9h2M314.1 565.9h2M305.6 542.2h2M297.8 565.4h2M313.9 550.7h2M285.8 561.4h2M313.3 563.2h2M299.7 564.4h2M281.9 570.5h2M310.9 562.8h2M314.8 562.5h2M306.5 561.0h2M292.2 565.2h2M309.0 555.8h2M291.8 563.0h2M309.0 570.0h2M304.6 565.6h2M310.7 566.4h2M291.9 561.5h2M312.7 569.8h2" stroke="rgb(235,80,60)" stroke-opacity="0.33" stroke-width="2" fill="none"/>
<path d="M281.7 550.8h2M314.1 563.1h2M285.5 565.9h2M307.7 555.9h2M283.5 570.0h2M303.9 567.2h2M312.2 551.7h2M303.0 553.2h2M293.9 534.5h2M297.2 557.1h2M311.2 564.9h2M299.4 566.7h2M305.7 563.8h2M294.4 568.0h2M291.7 568.9h2M284.2 567.8h2M283.6 569.9h2M302.5 561.8h2M297.8 556.0h2M299.5 559.3h2M310.9 545.3h2M298.5 550.2h2M311.0 564.8h2M290.7 558.1h2M297.2 557.6h2M309.4 567.7h2M295.9 568.5h2M314.4 554.6h2M297.9 563.5h2M281.1 561.9h2M289.8 555.9h2M301.5 553.0h2M301.8 568.7h2M309.3 558.5h2M312.5 567.9h2M292.2 567.5h2M289.1 558.1h2M309.3 569.1h2M286.7 562.6h2M300.8 559.2h2M303.8 556.2h2M295.2 566.4h2" stroke="rgb(235,80,60)" stroke-opacity="0.33" stroke-width="2" fill="none"/>
<path d="M244.6 456.6h1.2M244.6 534.7h1.2M244.6 529.8h1.2M244.6 533.1h1.2M244.6 534.3h1.2M298.4 517.5h1.2M298.4 527.3h1.2M298.4 540.2h1.2M298.4 526.9h1.2M298.4 535.0h1.2M298.4 540.9h1.2" stroke="#111" stroke-width="1.0" fill="none"/>
<use href="#vJ0" fill="none" stroke="#000" stroke-width="1.05"/>
<use href="#vJ1" fill="none" stroke="#000" stroke-width="1.05"/>
<line x1="236.00" y1="562.45" x2="254.40" y2="562.45" stroke="#000" stroke-width="1.25"/>
<rect x="241.10" y="561.10" width="8.2" height="2.70" fill="#1a1a1a" fill-opacity="0.85"/>
<line x1="245.20" y1="561.10" x2="245.20" y2="563.80" stroke="#000" stroke-width="0.6"/>
<line x1="291.00" y1="561.76" x2="307.00" y2="561.76" stroke="#000" stroke-width="1.25"/>
<rect x="294.90" y="560.41" width="8.2" height="2.70" fill="#1a1a1a" fill-opacity="0.85"/>
<line x1="299.00" y1="560.41" x2="299.00" y2="563.11" stroke="#000" stroke-width="0.6"/>
<path d="M213.00,446.90 L213.00,576.30 L330.30,576.30" fill="none" stroke="#111" stroke-width="0.9"/>
<line x1="210.20" y1="570.50" x2="213.00" y2="570.50" stroke="#111" stroke-width="0.8"/>
<text x="207.50" y="572.81" font-size="6.6" text-anchor="end" fill="#222">0.0</text>
<line x1="210.20" y1="550.86" x2="213.00" y2="550.86" stroke="#111" stroke-width="0.8"/>
<text x="207.50" y="553.17" font-size="6.6" text-anchor="end" fill="#222">0.2</text>
<line x1="210.20" y1="531.22" x2="213.00" y2="531.22" stroke="#111" stroke-width="0.8"/>
<text x="207.50" y="533.53" font-size="6.6" text-anchor="end" fill="#222">0.4</text>
<line x1="210.20" y1="511.58" x2="213.00" y2="511.58" stroke="#111" stroke-width="0.8"/>
<text x="207.50" y="513.89" font-size="6.6" text-anchor="end" fill="#222">0.6</text>
<line x1="210.20" y1="491.94" x2="213.00" y2="491.94" stroke="#111" stroke-width="0.8"/>
<text x="207.50" y="494.25" font-size="6.6" text-anchor="end" fill="#222">0.8</text>
<line x1="210.20" y1="472.30" x2="213.00" y2="472.30" stroke="#111" stroke-width="0.8"/>
<text x="207.50" y="474.61" font-size="6.6" text-anchor="end" fill="#222">1.0</text>
<line x1="210.20" y1="452.66" x2="213.00" y2="452.66" stroke="#111" stroke-width="0.8"/>
<text x="207.50" y="454.97" font-size="6.6" text-anchor="end" fill="#222">1.2</text>
<line x1="245.20" y1="576.30" x2="245.20" y2="579.10" stroke="#111" stroke-width="0.8"/>
<text x="245.20" y="586.70" font-size="6.6" text-anchor="middle" fill="#222">Stage I&amp;Stage II</text>
<line x1="299.00" y1="576.30" x2="299.00" y2="579.10" stroke="#111" stroke-width="0.8"/>
<text x="299.00" y="586.70" font-size="6.6" text-anchor="middle" fill="#222">Stage III&amp;Stage IV</text>
<text x="242.81" y="596.50" font-size="8.6" textLength="57.67" lengthAdjust="spacingAndGlyphs" fill="#111">Pathologic stage</text>
<text transform="translate(183.20,511.60) rotate(-90)" font-size="7.8" text-anchor="middle" fill="#111">The expression of TMC2</text>
<text transform="translate(191.50,536.20) rotate(-90)" font-size="8.4" fill="#111">Log<tspan font-size="6" dy="2.3">2</tspan><tspan font-size="7.6" dy="-2.3"> (TPM+1)</tspan></text>
<path d="M245.20,455.20 L245.20,452.70 L299.00,452.70 L299.00,455.20" fill="none" stroke="#111" stroke-width="0.85"/>
<text x="262.27" y="450.90" font-size="6.3" textLength="19.67" lengthAdjust="spacingAndGlyphs" fill="#222">p = 0.35</text>
<text x="351.1" y="430.6" font-size="18.8" >K</text>
<defs><path id="vK0" d="M429.7 570.9 433.2 570.7 435.7 570.5 438.3 570.0 439.9 569.5 440.4 569.0 437.3 568.5 431.7 568.0 428.5 567.7 425.7 567.4 424.1 567.1 423.2 566.9 422.6 566.4 422.2 565.9 421.9 565.4 421.5 564.8 421.2 564.3 421.0 563.7 420.7 563.1 420.5 562.5 420.2 562.0 419.9 561.3 419.5 560.7 419.1 560.1 418.8 559.4 418.5 558.8 418.3 558.2 418.2 557.6 418.1 557.1 418.0 556.5 418.0 556.0 418.0 555.3 418.0 554.6 418.0 554.0 418.0 553.3 418.0 552.6 418.0 551.9 418.0 551.3 418.0 550.6 418.0 549.9 418.0 549.2 418.0 548.6 418.0 547.9 418.0 547.2 417.9 546.5 417.9 545.9 417.9 545.2 417.9 544.5 417.9 543.8 417.9 543.2 417.9 542.5 417.9 541.8 417.9 541.1 417.9 540.5 417.9 539.8 417.9 539.1 417.9 538.5 417.9 537.8 417.9 537.1 417.9 536.4 417.9 535.8 417.9 535.1 417.9 534.4 417.9 533.7 417.9 533.1 417.9 532.4 417.9 531.7 417.9 531.0 417.9 530.4 417.9 529.7 417.9 529.0 417.9 528.3 417.9 527.7 417.9 527.0 417.9 526.3 417.9 525.6 417.9 525.0 417.9 524.3 417.9 523.6 417.9 522.9 417.9 522.3 417.9 521.6 417.9 520.9 417.9 520.3 417.9 519.6 417.9 518.9 417.9 518.2 417.9 517.6 417.9 516.9 417.9 516.2 417.9 515.5 417.9 514.9 417.9 514.2 417.9 513.5 417.9 512.8 417.9 512.2 417.9 511.5 417.9 510.8 417.9 510.1 417.9 509.5 417.9 508.8 417.9 508.1 417.9 507.4 417.9 506.8 417.9 506.1 417.9 505.4 417.9 504.7 417.9 504.1 417.9 503.4 417.9 502.7 417.9 502.0 417.9 501.4 417.9 500.7 417.9 500.0 417.9 499.4 417.9 498.7 417.9 498.0 417.9 497.3 417.9 496.7 417.9 496.0 417.9 495.3 417.9 494.6 417.9 494.0 417.9 493.3 417.9 492.6 417.9 491.9 417.9 491.3 417.9 490.6 417.8 489.9 417.6 489.9 417.5 490.6 417.5 491.3 417.5 491.9 417.5 492.6 417.5 493.3 417.5 494.0 417.5 494.6 417.5 495.3 417.5 496.0 417.5 496.7 417.5 497.3 417.5 498.0 417.5 498.7 417.5 499.4 417.5 500.0 417.5 500.7 417.5 501.4 417.5 502.0 417.5 502.7 417.5 503.4 417.5 504.1 417.5 504.7 417.5 505.4 417.5 506.1 417.5 506.8 417.5 507.4 417.5 508.1 417.5 508.8 417.5 509.5 417.5 510.1 417.5 510.8 417.5 511.5 417.5 512.2 417.5 512.8 417.5 513.5 417.5 514.2 417.5 514.9 417.5 515.5 417.5 516.2 417.5 516.9 417.5 517.6 417.5 518.2 417.5 518.9 417.5 519.6 417.5 520.3 417.5 520.9 417.5 521.6 417.5 522.3 417.5 522.9 417.5 523.6 417.5 524.3 417.5 525.0 417.5 525.6 417.5 526.3 417.5 527.0 417.5 527.7 417.5 528.3 417.5 529.0 417.5 529.7 417.5 530.4 417.5 531.0 417.5 531.7 417.5 532.4 417.5 533.1 417.5 533.7 417.5 534.4 417.5 535.1 417.5 535.8 417.5 536.4 417.5 537.1 417.5 537.8 417.5 538.5 417.5 539.1 417.5 539.8 417.5 540.5 417.5 541.1 417.5 541.8 417.5 542.5 417.5 543.2 417.5 543.8 417.5 544.5 417.5 545.2 417.5 545.9 417.5 546.5 417.4 547.2 417.4 547.9 417.4 548.6 417.4 549.2 417.4 549.9 417.4 550.6 417.4 551.3 417.4 551.9 417.4 552.6 417.4 553.3 417.4 554.0 417.4 554.6 417.4 555.3 417.4 556.0 417.4 556.5 417.3 557.1 417.2 557.6 417.1 558.2 416.9 558.8 416.6 559.4 416.3 560.1 415.9 560.7 415.5 561.3 415.2 562.0 414.9 562.5 414.7 563.1 414.4 563.7 414.2 564.3 413.9 564.8 413.5 565.4 413.2 565.9 412.8 566.4 412.2 566.9 411.3 567.1 409.7 567.4 406.9 567.7 403.7 568.0 398.1 568.5 395.0 569.0 395.5 569.5 397.1 570.0 399.7 570.5 402.2 570.7 405.7 570.9Z"/></defs><use href="#vK0" fill="#a9dcea"/>
<defs><path id="vK1" d="M488.4 570.5 489.6 570.0 490.4 569.4 490.6 568.7 490.7 568.0 490.2 567.1 489.0 566.3 487.3 565.4 484.9 564.7 481.9 564.0 479.9 563.4 478.4 562.9 477.5 562.2 476.9 561.4 476.5 560.9 476.1 560.3 475.6 559.6 475.1 558.9 474.7 558.3 474.5 557.8 474.3 556.9 474.2 556.1 474.2 555.3 474.2 554.3 474.2 553.4 474.2 552.4 474.2 551.5 474.2 550.5 474.2 549.6 474.2 548.6 474.2 547.7 474.2 546.7 474.2 545.8 474.2 544.8 474.2 543.9 474.2 542.9 474.2 542.0 474.1 541.0 474.1 540.1 474.1 539.2 474.1 538.2 474.1 537.3 474.1 536.3 474.1 535.4 474.1 534.4 474.1 533.5 474.1 532.5 474.1 531.6 474.1 530.6 474.1 529.7 474.1 528.7 474.1 527.8 474.1 526.8 474.1 525.9 474.1 524.9 474.1 524.0 474.1 523.0 474.1 522.1 474.1 521.2 474.1 520.2 474.1 519.3 474.1 518.3 474.1 517.4 474.1 516.4 474.1 515.5 474.1 514.5 474.1 513.6 474.1 512.6 474.1 511.7 474.1 510.7 474.1 509.8 474.1 508.8 474.1 507.9 474.1 506.9 474.1 506.0 474.1 505.0 474.1 504.1 474.1 503.2 474.1 502.2 474.1 501.3 474.1 500.3 474.1 499.4 474.1 498.4 474.1 497.5 474.1 496.5 474.1 495.6 474.1 494.6 474.1 493.7 474.1 492.7 474.1 491.8 474.1 490.8 474.1 489.9 474.1 488.9 474.1 488.0 474.1 487.1 474.1 486.1 474.1 485.2 474.1 484.2 474.1 483.3 474.1 482.3 474.1 481.4 474.1 480.4 474.1 479.5 474.1 478.5 474.1 477.6 474.1 476.6 474.1 475.7 474.1 474.7 474.1 473.8 474.1 472.8 474.1 471.9 474.1 470.9 474.1 470.0 474.1 469.1 474.1 468.1 474.1 467.2 474.1 466.2 474.1 465.3 474.1 464.3 474.1 463.4 474.1 462.4 474.1 461.5 474.1 460.5 474.1 459.6 474.1 458.6 474.1 457.7 474.1 456.7 474.0 455.8 473.8 455.8 473.7 456.7 473.7 457.7 473.7 458.6 473.7 459.6 473.7 460.5 473.7 461.5 473.7 462.4 473.7 463.4 473.7 464.3 473.7 465.3 473.7 466.2 473.7 467.2 473.7 468.1 473.7 469.1 473.7 470.0 473.7 470.9 473.7 471.9 473.7 472.8 473.7 473.8 473.7 474.7 473.7 475.7 473.7 476.6 473.7 477.6 473.7 478.5 473.7 479.5 473.7 480.4 473.7 481.4 473.7 482.3 473.7 483.3 473.7 484.2 473.7 485.2 473.7 486.1 473.7 487.1 473.7 488.0 473.7 488.9 473.7 489.9 473.7 490.8 473.7 491.8 473.7 492.7 473.7 493.7 473.7 494.6 473.7 495.6 473.7 496.5 473.7 497.5 473.7 498.4 473.7 499.4 473.7 500.3 473.7 501.3 473.7 502.2 473.7 503.2 473.7 504.1 473.7 505.0 473.7 506.0 473.7 506.9 473.7 507.9 473.7 508.8 473.7 509.8 473.7 510.7 473.7 511.7 473.7 512.6 473.7 513.6 473.7 514.5 473.7 515.5 473.7 516.4 473.7 517.4 473.7 518.3 473.7 519.3 473.7 520.2 473.7 521.2 473.7 522.1 473.7 523.0 473.7 524.0 473.7 524.9 473.7 525.9 473.7 526.8 473.7 527.8 473.7 528.7 473.7 529.7 473.7 530.6 473.7 531.6 473.7 532.5 473.7 533.5 473.7 534.4 473.7 535.4 473.7 536.3 473.7 537.3 473.7 538.2 473.7 539.2 473.7 540.1 473.7 541.0 473.6 542.0 473.6 542.9 473.6 543.9 473.6 544.8 473.6 545.8 473.6 546.7 473.6 547.7 473.6 548.6 473.6 549.6 473.6 550.5 473.6 551.5 473.6 552.4 473.6 553.4 473.6 554.3 473.6 555.3 473.6 556.1 473.5 556.9 473.3 557.8 473.1 558.3 472.7 558.9 472.2 559.6 471.7 560.3 471.3 560.9 470.9 561.4 470.3 562.2 469.4 562.9 467.9 563.4 465.9 564.0 462.9 564.7 460.5 565.4 458.8 566.3 457.6 567.1 457.1 568.0 457.2 568.7 457.4 569.4 458.2 570.0 459.4 570.5Z"/></defs><use href="#vK1" fill="#f3a69b"/>
<path d="M416.0 568.7h2M408.5 542.9h2M410.2 567.3h2M409.9 568.5h2M432.9 568.5h2M417.2 565.1h2M411.4 569.1h2M431.8 566.9h2M413.0 568.0h2M416.5 569.8h2M399.8 569.3h2M428.4 566.4h2M411.0 567.7h2M416.5 569.6h2M414.9 569.0h2M413.4 569.2h2M429.3 568.5h2M413.5 570.9h2M420.0 567.6h2M428.2 563.1h2M424.2 570.4h2M404.7 568.7h2M407.8 565.6h2M424.1 570.6h2M429.6 562.6h2M420.2 569.7h2M423.9 569.4h2M403.1 564.4h2M430.0 561.9h2M430.9 568.8h2M423.1 566.9h2M422.2 570.9h2M404.7 570.4h2M431.6 570.3h2M430.1 568.5h2M425.8 569.7h2M414.8 567.7h2M406.2 569.3h2M406.9 570.4h2M426.2 570.1h2M427.6 567.6h2M411.0 563.0h2M403.8 568.6h2" stroke="rgb(91,192,222)" stroke-opacity="0.33" stroke-width="2" fill="none"/>
<path d="M403.2 570.1h2M413.1 570.3h2M399.7 570.1h2M432.6 570.7h2M403.0 570.1h2M401.2 567.6h2M432.1 570.0h2M400.3 569.5h2M408.3 569.4h2M399.8 570.8h2M411.7 567.7h2M418.3 569.5h2M407.0 569.6h2M431.1 570.2h2M405.5 570.1h2M418.7 570.0h2M410.8 569.4h2M405.5 566.8h2M426.7 561.5h2M427.8 569.8h2M421.8 567.3h2M401.3 568.9h2M426.9 566.6h2M420.0 563.6h2M418.0 567.8h2M415.7 563.7h2M407.1 566.7h2M403.4 568.7h2M420.2 568.4h2M426.6 566.5h2M424.8 569.2h2M414.5 562.3h2M404.0 570.5h2M407.8 569.9h2M407.6 566.7h2M426.4 565.1h2M417.3 570.3h2M415.6 568.5h2M421.7 569.4h2M433.0 568.8h2M420.4 567.7h2M411.8 567.9h2M419.6 569.2h2" stroke="rgb(91,192,222)" stroke-opacity="0.33" stroke-width="2" fill="none"/>
<path d="M429.1 559.9h2M419.5 570.4h2M400.3 568.5h2M431.4 567.7h2M420.9 559.0h2M426.8 570.2h2M415.2 567.6h2M415.6 568.0h2M427.5 490.6h2M409.0 561.7h2M402.1 569.3h2M425.6 562.5h2M429.8 568.1h2M422.4 570.4h2M407.2 568.9h2M430.9 569.0h2M416.2 564.7h2M411.5 564.2h2M422.5 565.8h2M415.4 569.0h2M433.2 569.1h2M427.5 560.4h2M418.6 566.6h2M432.9 568.7h2M421.9 567.6h2M404.3 569.0h2M414.7 568.1h2M412.0 568.9h2M409.4 564.9h2M421.2 566.8h2M418.6 569.4h2M418.9 538.7h2M410.9 569.4h2M431.6 567.2h2M401.2 567.9h2M427.1 567.4h2M407.2 569.8h2M415.9 571.0h2M418.4 569.2h2M421.6 567.3h2M428.8 568.9h2M418.4 568.4h2M428.3 569.9h2" stroke="rgb(91,192,222)" stroke-opacity="0.33" stroke-width="2" fill="none"/>
<path d="M414.9 565.4h2M428.6 565.3h2M431.4 568.5h2M400.7 570.0h2M432.2 569.1h2M407.9 565.4h2M430.4 569.4h2M426.7 562.3h2M417.8 570.2h2M431.8 568.4h2M419.5 568.2h2M412.0 570.0h2M430.3 570.3h2M408.1 569.6h2M426.5 569.0h2M402.6 534.0h2M433.5 566.2h2M400.8 568.4h2M411.3 566.9h2M417.9 528.5h2M408.9 558.0h2M410.1 563.6h2M428.3 570.7h2M421.5 569.0h2M431.7 569.4h2M420.5 569.1h2M415.7 568.2h2M403.5 564.6h2M404.2 565.4h2M428.8 570.3h2M405.9 565.6h2M417.6 569.3h2M409.8 568.3h2M400.9 569.4h2M429.6 568.7h2M401.9 563.1h2M402.0 499.2h2M431.1 568.6h2M413.9 566.5h2M410.9 568.7h2M423.6 568.6h2M399.7 564.7h2M415.6 565.2h2" stroke="rgb(91,192,222)" stroke-opacity="0.33" stroke-width="2" fill="none"/>
<path d="M420.5 531.3h2M423.7 566.4h2M429.6 559.8h2M427.3 569.1h2M431.2 569.7h2M409.3 568.0h2M433.6 565.6h2M423.3 570.7h2M408.0 562.7h2M424.7 560.9h2M423.3 569.2h2M430.7 566.9h2M424.0 564.2h2M424.0 568.8h2M415.3 568.5h2M423.4 567.9h2M419.0 570.5h2M420.2 570.5h2M433.6 568.6h2M422.5 568.7h2M426.4 568.0h2M419.5 569.3h2M414.9 570.1h2M425.3 570.7h2M428.8 569.1h2M411.2 569.9h2M414.5 560.8h2M417.6 569.8h2M431.9 568.4h2M419.1 568.8h2M408.4 565.2h2M400.1 568.9h2M405.2 567.1h2M413.1 560.6h2M417.3 569.0h2M417.3 567.0h2M403.9 567.7h2M412.3 570.6h2M413.5 563.3h2M420.3 569.7h2M403.4 568.9h2M412.4 567.9h2M416.7 570.8h2" stroke="rgb(91,192,222)" stroke-opacity="0.33" stroke-width="2" fill="none"/>
<path d="M420.9 565.8h2M422.2 568.8h2M413.0 559.9h2M405.1 568.2h2M417.3 568.4h2M413.9 547.8h2M430.7 567.7h2M420.8 567.3h2M422.3 567.4h2M424.4 565.8h2M431.5 570.6h2M433.6 570.2h2M409.0 570.1h2M425.5 565.6h2M420.8 570.7h2M426.5 569.6h2M413.0 568.7h2M414.8 568.8h2M400.4 563.4h2M405.2 561.6h2M404.0 570.3h2M407.8 534.4h2M425.6 562.0h2M419.7 567.9h2M423.6 568.3h2M412.5 569.9h2M405.9 568.7h2M406.8 568.7h2M403.8 570.2h2M429.9 566.1h2M402.9 568.0h2M418.3 568.9h2M410.6 560.8h2M421.0 571.1h2M409.6 564.0h2M412.2 567.6h2M415.1 569.2h2M415.2 570.1h2M403.3 566.9h2M406.8 565.0h2M414.8 567.9h2M405.0 565.4h2M421.6 570.2h2" stroke="rgb(91,192,222)" stroke-opacity="0.33" stroke-width="2" fill="none"/>
<path d="M406.8 570.1h2M400.9 566.1h2M418.0 561.8h2M433.5 567.2h2M404.5 563.0h2M412.3 568.9h2M407.4 565.0h2M410.8 565.0h2M421.5 567.6h2M430.1 567.1h2M414.4 570.6h2M423.8 570.2h2M405.8 558.9h2M407.9 570.9h2M416.6 570.5h2M427.9 569.6h2M411.6 570.1h2M410.4 567.8h2M403.6 567.6h2M415.9 568.8h2M415.8 569.5h2M408.7 565.3h2M433.1 569.5h2M410.0 567.0h2M401.5 569.4h2M432.9 554.9h2M426.9 569.8h2M406.0 569.7h2M404.6 564.8h2M420.4 565.0h2M422.7 568.8h2M410.5 569.0h2M409.2 566.3h2M402.1 568.9h2M403.1 569.4h2M419.6 570.0h2M417.0 566.5h2M408.1 568.0h2M409.1 568.0h2M430.8 569.9h2M412.5 570.4h2M426.7 570.0h2" stroke="rgb(91,192,222)" stroke-opacity="0.33" stroke-width="2" fill="none"/>
<path d="M430.6 570.3h2M406.6 570.8h2M403.9 569.0h2M420.1 568.1h2M407.3 568.5h2M431.1 564.2h2M418.9 563.6h2M400.2 536.6h2M419.6 569.1h2M423.1 568.3h2M431.7 569.9h2M411.7 569.7h2M430.7 569.7h2M422.3 562.6h2M402.3 568.8h2M408.7 570.5h2M424.6 569.9h2M412.3 570.5h2M416.4 569.2h2M401.2 567.8h2M413.1 561.2h2M413.3 567.2h2M418.9 566.6h2M420.8 567.1h2M404.5 567.9h2M405.7 568.3h2M406.4 560.0h2M432.5 567.9h2M415.7 569.5h2M410.7 569.5h2M417.6 569.0h2M425.7 568.4h2M406.3 570.6h2M429.1 565.9h2M431.7 567.4h2M432.1 569.0h2M406.1 569.7h2M432.9 568.1h2M413.0 568.5h2M415.6 497.8h2M426.8 568.3h2M414.6 570.2h2" stroke="rgb(91,192,222)" stroke-opacity="0.33" stroke-width="2" fill="none"/>
<path d="M485.3 562.1h2M462.0 561.5h2M459.4 569.6h2M456.3 568.2h2M457.1 568.1h2M458.2 569.5h2M486.2 566.8h2M486.5 561.0h2M458.6 563.6h2M460.8 570.3h2M461.1 568.4h2M487.4 568.8h2M481.5 563.5h2M475.8 569.3h2M476.5 552.0h2M461.3 570.3h2M468.4 564.2h2M457.6 564.6h2M486.4 548.2h2M457.2 570.0h2M466.8 565.2h2M466.9 558.3h2M464.0 565.7h2M456.4 570.1h2M461.2 494.2h2M456.6 568.8h2M476.2 565.4h2M470.7 532.5h2M485.0 568.6h2M466.9 560.4h2M476.9 565.3h2M470.0 566.8h2M481.1 563.4h2M460.2 567.4h2M457.2 563.1h2M466.9 567.0h2M462.9 566.2h2M468.6 565.4h2M468.4 567.5h2M462.7 562.0h2M482.8 568.1h2M475.7 562.9h2M462.1 564.5h2M464.9 568.7h2" stroke="rgb(235,80,60)" stroke-opacity="0.33" stroke-width="2" fill="none"/>
<path d="M457.7 569.2h2M488.8 569.8h2M483.2 569.0h2M459.2 565.4h2M462.7 565.7h2M482.1 569.9h2M461.1 564.1h2M468.0 565.7h2M465.8 565.1h2M468.6 569.2h2M488.2 564.2h2M478.6 565.4h2M484.4 564.5h2M460.2 563.9h2M489.1 563.7h2M475.8 570.5h2M462.9 566.0h2M479.6 565.2h2M478.1 567.9h2M471.8 569.4h2M470.0 566.4h2M469.0 568.3h2M488.1 568.6h2M477.5 568.2h2M470.1 501.2h2M466.1 565.2h2M475.9 568.7h2M482.8 569.6h2M484.9 567.3h2M469.7 548.5h2M477.6 569.6h2M489.1 566.3h2M465.1 568.2h2M471.0 561.5h2M468.4 531.3h2M463.2 567.6h2M486.8 570.3h2M477.7 568.0h2M481.0 568.7h2M464.7 568.0h2M487.5 569.4h2M474.4 567.3h2M488.9 560.6h2M482.8 566.8h2" stroke="rgb(235,80,60)" stroke-opacity="0.33" stroke-width="2" fill="none"/>
<path d="M487.6 563.9h2M469.9 568.6h2M464.0 569.6h2M484.5 565.0h2M488.4 567.5h2M474.0 566.1h2M485.4 562.6h2M486.6 568.0h2M482.1 569.8h2M468.5 567.8h2M467.1 565.6h2M480.8 564.3h2M477.1 565.9h2M485.6 567.8h2M476.9 565.6h2M460.4 564.7h2M476.0 567.1h2M456.6 567.6h2M479.1 565.5h2M465.0 561.4h2M467.1 567.1h2M467.5 568.4h2M462.9 565.9h2M486.0 566.8h2M461.4 565.5h2M472.5 565.7h2M488.2 567.6h2M470.8 568.1h2M481.3 559.9h2M475.5 567.4h2M485.7 567.6h2M463.3 568.0h2M471.3 564.2h2M476.9 519.4h2M485.6 567.0h2M458.7 565.0h2M481.0 564.0h2M479.3 566.6h2M486.9 564.8h2M474.8 568.2h2M476.8 563.2h2M487.7 566.7h2M487.8 566.6h2M486.9 564.0h2" stroke="rgb(235,80,60)" stroke-opacity="0.33" stroke-width="2" fill="none"/>
<path d="M484.6 567.3h2M473.7 569.4h2M462.6 568.9h2M481.9 561.9h2M463.4 566.8h2M482.7 559.2h2M474.4 569.2h2M462.7 568.0h2M480.7 568.1h2M487.5 565.5h2M468.5 568.5h2M468.0 566.5h2M472.2 567.8h2M459.0 569.7h2M473.3 569.6h2M482.3 566.9h2M474.5 561.3h2M467.3 569.3h2M460.2 565.4h2M478.9 565.7h2M471.7 562.7h2M458.0 563.8h2M478.7 563.9h2M458.7 567.2h2M457.3 566.5h2M480.9 570.6h2M475.4 565.7h2M476.1 569.1h2M489.0 558.1h2M473.1 569.7h2M462.4 565.4h2M464.2 565.3h2M468.2 570.5h2M466.4 566.1h2M471.7 542.5h2M456.2 569.1h2M474.9 569.8h2M467.5 564.6h2M484.6 564.6h2M468.6 557.9h2M475.9 569.1h2M477.0 565.3h2M461.6 568.3h2M459.3 569.8h2" stroke="rgb(235,80,60)" stroke-opacity="0.33" stroke-width="2" fill="none"/>
<path d="M477.5 567.2h2M486.6 558.5h2M483.9 563.4h2M484.0 565.9h2M476.3 564.8h2M472.6 567.8h2M487.7 564.5h2M474.5 567.9h2M482.2 569.9h2M472.7 566.5h2M480.1 566.2h2M478.1 560.7h2M466.2 565.9h2M457.7 568.4h2M475.8 564.7h2M478.2 564.1h2M484.9 570.1h2M488.8 568.0h2M477.4 566.8h2M487.3 483.8h2M465.7 564.0h2M489.2 567.8h2M464.1 565.4h2M488.7 567.0h2M472.1 568.0h2M459.4 569.1h2M465.9 569.8h2M458.0 568.0h2M460.7 563.8h2M476.5 559.0h2M477.2 564.4h2M475.6 567.9h2M484.5 565.3h2M474.0 566.8h2M477.2 562.8h2M458.6 566.9h2M458.8 557.9h2M485.4 568.7h2M484.3 565.6h2M459.4 566.1h2M488.3 566.7h2M465.3 497.7h2M480.3 568.1h2M462.5 568.7h2" stroke="rgb(235,80,60)" stroke-opacity="0.33" stroke-width="2" fill="none"/>
<path d="M459.0 566.5h2M474.1 569.3h2M471.5 568.3h2M485.5 565.4h2M473.0 550.7h2M480.4 569.7h2M463.3 568.7h2M480.1 568.0h2M470.0 560.7h2M456.2 564.3h2M462.8 565.1h2M480.4 564.7h2M472.4 568.0h2M465.2 568.3h2M481.4 566.4h2M482.7 564.9h2M474.8 569.1h2M488.2 566.1h2M459.3 567.7h2M465.0 567.8h2M479.3 566.9h2M464.5 568.7h2M465.4 568.5h2M462.4 568.9h2M484.3 565.1h2M462.5 569.1h2M459.9 566.7h2M472.4 562.2h2M483.7 570.4h2M476.9 565.2h2M483.6 567.2h2M480.8 568.9h2M484.1 567.1h2M458.4 564.6h2M468.2 565.8h2M469.2 565.4h2M478.4 570.3h2M486.3 565.9h2M463.9 569.2h2M461.5 565.7h2M476.9 475.5h2M464.0 565.7h2M473.6 569.3h2M459.2 546.3h2" stroke="rgb(235,80,60)" stroke-opacity="0.33" stroke-width="2" fill="none"/>
<path d="M462.0 565.7h2M472.9 560.9h2M472.4 563.7h2M461.5 567.2h2M474.1 567.3h2M479.1 567.5h2M473.9 567.3h2M463.2 568.1h2M482.7 567.8h2M474.3 557.8h2M461.5 563.4h2M460.7 566.6h2M464.6 568.8h2M463.4 568.8h2M485.3 568.5h2M458.2 570.2h2M476.8 558.1h2M461.8 568.9h2M485.9 568.5h2M463.2 568.8h2M480.3 566.7h2M482.9 567.3h2M476.4 567.1h2M487.8 561.8h2M468.8 569.9h2M487.1 567.9h2M462.6 559.9h2M483.5 568.9h2M486.9 566.2h2M461.1 569.5h2M484.9 569.5h2M475.0 568.1h2M473.2 565.3h2M475.2 566.6h2M476.5 542.8h2M469.7 568.1h2M487.9 569.4h2M489.0 565.3h2M475.3 567.3h2M482.4 568.5h2M472.0 456.2h2M461.5 567.6h2M485.0 569.2h2M467.8 566.0h2" stroke="rgb(235,80,60)" stroke-opacity="0.33" stroke-width="2" fill="none"/>
<path d="M482.2 570.3h2M485.7 565.6h2M456.9 569.5h2M475.2 562.6h2M468.3 567.1h2M476.7 564.8h2M479.8 567.4h2M483.7 565.9h2M489.3 569.3h2M464.4 566.6h2M463.7 568.5h2M465.1 562.7h2M487.1 568.2h2M467.5 463.2h2M480.8 565.9h2M470.8 570.3h2M484.4 569.1h2M474.1 563.1h2M477.9 565.4h2M474.5 569.9h2M478.9 558.7h2M462.5 565.0h2M476.8 569.9h2M465.4 566.3h2M487.6 570.2h2M458.3 569.2h2M478.0 569.2h2M458.0 564.6h2M465.9 568.4h2M464.3 560.2h2M456.2 568.2h2M458.6 568.8h2M461.0 569.8h2M460.5 562.5h2M487.0 565.5h2M482.4 566.0h2M487.7 568.7h2M457.1 565.7h2M475.2 564.3h2M472.0 568.4h2M464.5 568.5h2M479.2 569.9h2M484.8 569.5h2M484.1 567.5h2" stroke="rgb(235,80,60)" stroke-opacity="0.33" stroke-width="2" fill="none"/>
<path d="M417.1 490.6h1.2M417.1 531.3h1.2M417.1 528.5h1.2M417.1 542.9h1.2M417.1 554.9h1.2M417.1 534.0h1.2M473.3 456.2h1.2M473.3 531.3h1.2M473.3 463.2h1.2M473.3 559.2h1.2M473.3 519.4h1.2M473.3 483.8h1.2M473.3 558.5h1.2M473.3 548.2h1.2M473.3 557.9h1.2M473.3 558.7h1.2M473.3 559.0h1.2" stroke="#111" stroke-width="1.0" fill="none"/>
<use href="#vK0" fill="none" stroke="#000" stroke-width="1.05"/>
<use href="#vK1" fill="none" stroke="#000" stroke-width="1.05"/>
<line x1="407.70" y1="567.41" x2="427.70" y2="567.41" stroke="#000" stroke-width="1.25"/>
<rect x="413.60" y="566.06" width="8.2" height="2.70" fill="#1a1a1a" fill-opacity="0.85"/>
<line x1="417.70" y1="566.06" x2="417.70" y2="568.76" stroke="#000" stroke-width="0.6"/>
<line x1="464.30" y1="563.24" x2="483.50" y2="563.24" stroke="#000" stroke-width="1.25"/>
<rect x="469.80" y="561.89" width="8.2" height="2.70" fill="#1a1a1a" fill-opacity="0.85"/>
<line x1="473.90" y1="561.89" x2="473.90" y2="564.59" stroke="#000" stroke-width="0.6"/>
<path d="M384.20,446.90 L384.20,576.30 L507.00,576.30" fill="none" stroke="#111" stroke-width="0.9"/>
<line x1="381.40" y1="570.50" x2="384.20" y2="570.50" stroke="#111" stroke-width="0.8"/>
<text x="378.70" y="572.81" font-size="6.6" text-anchor="end" fill="#222">0</text>
<line x1="381.40" y1="534.20" x2="384.20" y2="534.20" stroke="#111" stroke-width="0.8"/>
<text x="378.70" y="536.51" font-size="6.6" text-anchor="end" fill="#222">1</text>
<line x1="381.40" y1="497.90" x2="384.20" y2="497.90" stroke="#111" stroke-width="0.8"/>
<text x="378.70" y="500.21" font-size="6.6" text-anchor="end" fill="#222">2</text>
<line x1="381.40" y1="461.60" x2="384.20" y2="461.60" stroke="#111" stroke-width="0.8"/>
<text x="378.70" y="463.91" font-size="6.6" text-anchor="end" fill="#222">3</text>
<line x1="417.70" y1="576.30" x2="417.70" y2="579.10" stroke="#111" stroke-width="0.8"/>
<text x="417.70" y="586.70" font-size="6.6" text-anchor="middle" fill="#222">Stage I&amp;Stage II</text>
<line x1="473.90" y1="576.30" x2="473.90" y2="579.10" stroke="#111" stroke-width="0.8"/>
<text x="473.90" y="586.70" font-size="6.6" text-anchor="middle" fill="#222">Stage III&amp;Stage IV</text>
<text x="416.76" y="596.50" font-size="8.6" textLength="57.67" lengthAdjust="spacingAndGlyphs" fill="#111">Pathologic stage</text>
<text transform="translate(360.00,511.60) rotate(-90)" font-size="7.8" text-anchor="middle" fill="#111">The expression of TMC3</text>
<text transform="translate(368.50,536.20) rotate(-90)" font-size="8.4" fill="#111">Log<tspan font-size="6" dy="2.3">2</tspan><tspan font-size="7.6" dy="-2.3"> (TPM+1)</tspan></text>
<path d="M417.70,455.20 L417.70,452.70 L473.90,452.70 L473.90,455.20" fill="none" stroke="#111" stroke-width="0.85"/>
<text x="431.39" y="450.90" font-size="6.3" textLength="28.83" lengthAdjust="spacingAndGlyphs" fill="#222">p = 2.9e−04</text>
<text x="528.0" y="430.6" font-size="18.8" >L</text>
<defs><path id="vL0" d="M595.2 569.8 595.4 569.1 595.5 568.3 595.7 567.5 595.9 566.7 596.1 566.0 596.4 565.2 596.8 564.4 597.2 563.6 597.6 562.9 598.2 562.0 598.9 561.2 599.7 560.4 600.6 559.6 601.5 558.8 602.4 557.9 603.2 557.1 604.1 556.2 605.0 555.3 606.0 554.4 606.9 553.6 607.8 552.7 608.7 551.8 609.5 550.9 610.3 550.0 611.0 549.1 611.8 548.2 612.5 547.3 613.2 546.4 613.9 545.5 614.4 544.6 614.9 543.7 615.3 542.9 615.6 542.0 615.9 541.1 616.2 540.2 616.5 539.3 616.7 538.4 616.9 537.5 617.0 536.6 617.0 535.7 617.0 534.9 616.9 534.0 616.8 533.1 616.6 532.3 616.5 531.4 616.3 530.5 616.1 529.6 615.9 528.7 615.6 527.8 615.4 526.9 615.1 526.0 614.7 525.1 614.4 524.3 614.0 523.4 613.6 522.5 613.1 521.6 612.5 520.7 612.0 519.8 611.5 518.9 611.0 518.0 610.5 517.1 610.1 516.2 609.6 515.3 609.2 514.5 608.7 513.6 608.3 512.7 607.9 511.8 607.6 510.9 607.3 510.0 607.0 509.1 606.8 508.2 606.6 507.3 606.4 506.4 606.2 505.5 606.0 504.6 605.8 503.8 605.6 502.9 605.4 502.0 605.1 501.1 604.9 500.2 604.7 499.3 604.5 498.4 604.2 497.5 604.0 496.6 603.8 495.7 603.6 494.8 603.4 494.0 603.2 493.1 603.0 492.2 602.9 491.3 602.7 490.4 602.5 489.5 602.3 488.6 602.1 487.7 601.9 486.8 601.7 485.9 601.5 485.0 601.3 484.1 601.2 483.3 601.0 482.4 600.8 481.5 600.6 480.6 600.5 479.7 600.3 478.8 600.2 477.9 600.0 477.0 599.9 476.1 599.7 475.2 599.6 474.3 599.5 473.4 599.3 472.5 599.2 471.6 599.1 470.7 599.0 469.8 598.8 468.9 598.7 468.0 598.6 467.1 598.5 466.2 598.4 465.3 598.3 464.4 598.1 463.5 598.0 462.6 597.9 461.7 597.8 460.8 597.6 459.9 597.4 459.1 597.2 458.3 597.0 457.5 596.8 456.7 596.6 455.9 592.2 455.9 592.0 456.7 591.8 457.5 591.6 458.3 591.4 459.1 591.2 459.9 591.0 460.8 590.9 461.7 590.8 462.6 590.7 463.5 590.5 464.4 590.4 465.3 590.3 466.2 590.2 467.1 590.1 468.0 590.0 468.9 589.8 469.8 589.7 470.7 589.6 471.6 589.5 472.5 589.3 473.4 589.2 474.3 589.1 475.2 588.9 476.1 588.8 477.0 588.6 477.9 588.5 478.8 588.3 479.7 588.2 480.6 588.0 481.5 587.8 482.4 587.6 483.3 587.5 484.1 587.3 485.0 587.1 485.9 586.9 486.8 586.7 487.7 586.5 488.6 586.3 489.5 586.1 490.4 585.9 491.3 585.8 492.2 585.6 493.1 585.4 494.0 585.2 494.8 585.0 495.7 584.8 496.6 584.6 497.5 584.3 498.4 584.1 499.3 583.9 500.2 583.7 501.1 583.4 502.0 583.2 502.9 583.0 503.8 582.8 504.6 582.6 505.5 582.4 506.4 582.2 507.3 582.0 508.2 581.8 509.1 581.5 510.0 581.2 510.9 580.9 511.8 580.5 512.7 580.1 513.6 579.6 514.5 579.2 515.3 578.7 516.2 578.3 517.1 577.8 518.0 577.3 518.9 576.8 519.8 576.3 520.7 575.7 521.6 575.2 522.5 574.8 523.4 574.4 524.3 574.1 525.1 573.7 526.0 573.4 526.9 573.2 527.8 572.9 528.7 572.7 529.6 572.5 530.5 572.3 531.4 572.2 532.3 572.0 533.1 571.9 534.0 571.8 534.9 571.8 535.7 571.8 536.6 571.9 537.5 572.1 538.4 572.3 539.3 572.6 540.2 572.9 541.1 573.2 542.0 573.5 542.9 573.9 543.7 574.4 544.6 574.9 545.5 575.6 546.4 576.3 547.3 577.0 548.2 577.8 549.1 578.5 550.0 579.3 550.9 580.1 551.8 581.0 552.7 581.9 553.6 582.8 554.4 583.8 555.3 584.7 556.2 585.6 557.1 586.4 557.9 587.3 558.8 588.2 559.6 589.1 560.4 589.9 561.2 590.6 562.0 591.2 562.9 591.6 563.6 592.0 564.4 592.4 565.2 592.7 566.0 592.9 566.7 593.1 567.5 593.3 568.3 593.4 569.1 593.6 569.8Z"/></defs><use href="#vL0" fill="#a9dcea"/>
<defs><path id="vL1" d="M653.3 568.6 653.6 567.8 654.0 567.0 654.3 566.3 654.7 565.5 655.0 564.7 655.3 563.9 655.7 563.2 656.0 562.4 656.4 561.6 656.8 560.8 657.2 560.1 657.6 559.3 658.1 558.5 658.6 557.7 659.1 556.9 659.6 556.1 660.1 555.3 660.6 554.5 661.2 553.7 661.7 552.9 662.2 552.1 662.8 551.3 663.4 550.5 664.0 549.7 664.6 548.9 665.2 548.1 665.7 547.3 666.2 546.5 666.7 545.6 667.1 544.9 667.5 544.1 668.0 543.3 668.4 542.5 668.7 541.8 669.1 541.0 669.4 540.2 669.7 539.4 669.9 538.7 670.1 537.9 670.3 537.1 670.5 536.2 670.7 535.4 670.9 534.6 671.0 533.8 671.1 533.0 671.2 532.2 671.2 531.4 671.2 530.6 671.2 529.8 671.2 529.0 671.2 528.2 671.1 527.4 671.1 526.6 671.1 525.8 671.0 525.0 671.0 524.3 670.9 523.5 670.8 522.7 670.6 521.9 670.4 521.1 670.2 520.3 670.0 519.5 669.7 518.7 669.4 517.9 669.2 517.1 669.0 516.3 668.7 515.5 668.4 514.7 668.1 514.0 667.8 513.2 667.5 512.4 667.2 511.6 666.8 510.8 666.5 510.0 666.2 509.2 665.8 508.4 665.4 507.6 665.0 506.8 664.6 506.0 664.2 505.2 663.8 504.4 663.5 503.7 663.1 502.9 662.8 502.1 662.4 501.3 662.1 500.5 661.8 499.7 661.5 498.9 661.2 498.1 660.8 497.3 660.5 496.5 660.2 495.7 659.9 494.9 659.5 494.2 659.2 493.4 658.8 492.6 658.5 491.8 658.1 491.0 657.8 490.2 657.5 489.4 657.2 488.6 656.9 487.8 656.7 487.0 656.4 486.2 656.2 485.4 655.9 484.6 655.7 483.9 655.5 483.1 655.3 482.3 655.1 481.5 654.9 480.7 654.7 479.9 654.6 479.1 654.4 478.3 654.3 477.5 654.1 476.7 654.0 475.9 653.9 475.1 653.8 474.3 653.7 473.5 653.7 472.7 653.6 471.9 653.6 471.1 653.5 470.3 647.7 470.3 647.6 471.1 647.6 471.9 647.5 472.7 647.5 473.5 647.4 474.3 647.3 475.1 647.2 475.9 647.1 476.7 646.9 477.5 646.8 478.3 646.6 479.1 646.5 479.9 646.3 480.7 646.1 481.5 645.9 482.3 645.7 483.1 645.5 483.9 645.3 484.6 645.0 485.4 644.8 486.2 644.5 487.0 644.3 487.8 644.0 488.6 643.7 489.4 643.4 490.2 643.1 491.0 642.7 491.8 642.4 492.6 642.0 493.4 641.7 494.2 641.3 494.9 641.0 495.7 640.7 496.5 640.4 497.3 640.0 498.1 639.7 498.9 639.4 499.7 639.1 500.5 638.8 501.3 638.4 502.1 638.1 502.9 637.7 503.7 637.4 504.4 637.0 505.2 636.6 506.0 636.2 506.8 635.8 507.6 635.4 508.4 635.0 509.2 634.7 510.0 634.4 510.8 634.0 511.6 633.7 512.4 633.4 513.2 633.1 514.0 632.8 514.7 632.5 515.5 632.2 516.3 632.0 517.1 631.8 517.9 631.5 518.7 631.2 519.5 631.0 520.3 630.8 521.1 630.6 521.9 630.4 522.7 630.3 523.5 630.2 524.3 630.2 525.0 630.1 525.8 630.1 526.6 630.1 527.4 630.0 528.2 630.0 529.0 630.0 529.8 630.0 530.6 630.0 531.4 630.0 532.2 630.1 533.0 630.2 533.8 630.3 534.6 630.5 535.4 630.7 536.2 630.9 537.1 631.1 537.9 631.3 538.7 631.5 539.4 631.8 540.2 632.1 541.0 632.5 541.8 632.8 542.5 633.2 543.3 633.7 544.1 634.1 544.9 634.5 545.6 635.0 546.5 635.5 547.3 636.0 548.1 636.6 548.9 637.2 549.7 637.8 550.5 638.4 551.3 639.0 552.1 639.5 552.9 640.0 553.7 640.6 554.5 641.1 555.3 641.6 556.1 642.1 556.9 642.6 557.7 643.1 558.5 643.6 559.3 644.0 560.1 644.4 560.8 644.8 561.6 645.2 562.4 645.5 563.2 645.9 563.9 646.2 564.7 646.5 565.5 646.9 566.3 647.2 567.0 647.6 567.8 647.9 568.6Z"/></defs><use href="#vL1" fill="#f3a69b"/>
<path d="M603.2 542.7h2M587.6 521.1h2M587.7 538.6h2M589.6 493.5h2M603.1 547.3h2M585.9 528.0h2M595.9 512.1h2M589.8 537.5h2M593.4 542.9h2M607.5 464.4h2M608.2 525.6h2M597.4 537.8h2M581.0 497.6h2M588.7 518.1h2M578.3 527.2h2M593.4 479.1h2M600.8 539.4h2M601.5 508.1h2M591.7 526.4h2M605.1 506.5h2M578.3 511.2h2M577.5 529.9h2M583.7 521.8h2M592.4 464.0h2M583.9 541.0h2M587.4 567.1h2M597.8 510.8h2M593.0 456.0h2M605.8 519.7h2M604.4 462.5h2M600.1 463.8h2" stroke="rgb(91,192,222)" stroke-opacity="0.33" stroke-width="2" fill="none"/>
<path d="M590.4 550.5h2M595.0 535.6h2M580.5 529.1h2M607.8 545.9h2M589.9 535.8h2M601.4 507.3h2M593.1 539.8h2M577.0 566.7h2M581.4 536.0h2M582.6 538.2h2M608.2 539.2h2M584.7 508.1h2M605.8 508.8h2M599.9 530.8h2M593.4 557.2h2M581.5 532.8h2M588.8 538.0h2M584.8 456.3h2M589.5 551.1h2M593.5 561.5h2M592.5 462.7h2M601.9 526.3h2M600.3 489.6h2M605.3 497.6h2M602.6 535.3h2M604.4 541.6h2M592.1 527.4h2M593.0 512.0h2M595.2 533.9h2M604.3 562.8h2M589.3 562.4h2" stroke="rgb(91,192,222)" stroke-opacity="0.33" stroke-width="2" fill="none"/>
<path d="M606.6 546.9h2M610.1 551.4h2M586.4 507.6h2M597.5 472.0h2M595.9 492.6h2M592.4 547.0h2M590.5 513.8h2M593.9 528.3h2M593.3 556.0h2M594.2 531.6h2M598.6 526.5h2M587.8 520.2h2M608.3 562.1h2M584.5 525.4h2M586.5 560.5h2M577.9 537.5h2M590.1 551.6h2M605.7 545.8h2M610.1 531.2h2M605.3 541.6h2M585.9 537.0h2M604.2 501.2h2M589.3 505.7h2M602.2 541.3h2M604.0 566.8h2M591.5 545.4h2M577.4 527.3h2M581.0 549.6h2M590.1 547.3h2M582.7 515.1h2M588.9 515.7h2" stroke="rgb(91,192,222)" stroke-opacity="0.33" stroke-width="2" fill="none"/>
<path d="M578.5 505.1h2M592.9 493.8h2M577.0 472.4h2M579.5 533.7h2M599.3 513.4h2M589.1 529.5h2M596.2 564.0h2M591.2 529.2h2M591.9 514.9h2M584.7 480.7h2M581.2 526.2h2M604.3 520.2h2M604.8 489.7h2M599.6 519.5h2M609.6 549.6h2M600.0 521.7h2M609.7 559.1h2M597.0 499.6h2M609.9 554.4h2M582.6 522.8h2M597.3 514.1h2M581.4 540.2h2M591.8 490.2h2M578.2 529.1h2M597.6 545.6h2M586.8 530.7h2M588.4 533.2h2M589.8 494.2h2M597.3 503.3h2M588.2 518.2h2M585.1 504.2h2" stroke="rgb(91,192,222)" stroke-opacity="0.33" stroke-width="2" fill="none"/>
<path d="M599.1 525.7h2M591.1 515.2h2M602.3 546.4h2M581.0 527.2h2M594.4 501.0h2M591.6 537.9h2M599.0 557.7h2M589.8 529.2h2M584.6 497.9h2M588.6 534.1h2M586.4 541.7h2M607.3 486.1h2M578.8 549.7h2M587.0 519.9h2M607.6 561.5h2M600.3 537.7h2M588.7 479.4h2M583.1 542.4h2M596.1 516.6h2M583.8 525.9h2M597.7 564.1h2M581.8 521.4h2M604.6 515.9h2M589.8 470.3h2M586.6 526.1h2M594.8 544.6h2M588.8 531.9h2M591.6 497.9h2M605.4 519.6h2M604.3 553.9h2M607.2 487.4h2" stroke="rgb(91,192,222)" stroke-opacity="0.33" stroke-width="2" fill="none"/>
<path d="M590.8 546.4h2M590.3 521.3h2M590.0 513.8h2M578.9 501.5h2M591.1 537.8h2M608.1 530.9h2M585.8 532.9h2M587.2 551.6h2M604.1 520.6h2M577.3 521.1h2M589.7 526.5h2M580.9 545.5h2M605.9 553.0h2M598.0 523.3h2M583.9 493.2h2M592.7 463.9h2M605.8 516.6h2M594.2 520.3h2M577.8 497.1h2M605.1 527.2h2M610.0 492.9h2M582.8 544.2h2M599.8 529.5h2M607.5 519.8h2M587.6 525.1h2M600.4 516.1h2M584.9 527.4h2M602.8 531.8h2M589.2 460.4h2M584.6 500.9h2M594.0 535.9h2" stroke="rgb(91,192,222)" stroke-opacity="0.33" stroke-width="2" fill="none"/>
<path d="M594.9 546.2h2M605.5 548.8h2M605.1 551.9h2M587.6 532.2h2M582.9 527.4h2M578.8 511.0h2M604.0 545.7h2M610.1 518.0h2M605.5 543.0h2M607.2 530.5h2M590.1 533.7h2M588.2 501.6h2M594.8 544.3h2M594.9 544.6h2M584.3 506.1h2M576.9 522.6h2M582.0 510.2h2M583.7 488.8h2M607.0 500.0h2M576.5 526.7h2M592.6 518.3h2M602.8 528.9h2M594.4 517.7h2M581.4 489.1h2M606.6 512.8h2M587.0 492.7h2M592.8 544.3h2M580.0 513.9h2M582.9 518.9h2M601.7 529.5h2" stroke="rgb(91,192,222)" stroke-opacity="0.33" stroke-width="2" fill="none"/>
<path d="M599.3 500.7h2M583.7 470.6h2M583.2 566.0h2M605.7 518.0h2M600.9 496.7h2M594.5 529.0h2M582.0 538.1h2M585.5 533.6h2M579.6 514.9h2M589.0 570.6h2M592.2 503.6h2M599.4 538.3h2M600.9 519.3h2M579.2 532.5h2M589.8 484.0h2M606.1 545.9h2M604.9 526.7h2M582.5 560.1h2M582.9 540.0h2M594.8 465.7h2M581.1 536.8h2M581.9 517.3h2M584.6 541.4h2M578.7 506.9h2M580.1 544.6h2M609.9 553.6h2M600.6 559.3h2M582.7 495.2h2M595.7 507.8h2M585.5 504.5h2" stroke="rgb(91,192,222)" stroke-opacity="0.33" stroke-width="2" fill="none"/>
<path d="M662.1 494.0h2M661.8 558.4h2M636.7 544.6h2M646.0 549.6h2M658.8 507.7h2M658.9 522.4h2M647.2 538.8h2M664.9 527.6h2M649.2 518.0h2M646.6 483.9h2M648.7 531.4h2M646.2 549.9h2M642.4 518.6h2M639.6 537.4h2M646.5 537.4h2M659.3 506.5h2M634.9 552.8h2M633.2 480.0h2M644.8 527.8h2M639.0 529.8h2M653.4 514.4h2M655.9 535.5h2M643.3 552.6h2M652.9 558.6h2M657.0 511.8h2" stroke="rgb(235,80,60)" stroke-opacity="0.33" stroke-width="2" fill="none"/>
<path d="M661.0 511.0h2M666.6 559.7h2M650.8 494.7h2M655.7 498.7h2M654.2 531.0h2M649.3 547.9h2M632.8 536.8h2M633.9 539.6h2M644.5 553.4h2M646.5 501.2h2M659.1 532.2h2M637.0 562.1h2M652.8 559.5h2M663.5 543.2h2M643.2 549.5h2M644.7 542.0h2M633.0 531.4h2M637.4 510.6h2M656.9 536.6h2M638.4 484.4h2M639.4 517.9h2M638.2 484.5h2M634.8 559.1h2M665.9 541.3h2M644.6 532.4h2" stroke="rgb(235,80,60)" stroke-opacity="0.33" stroke-width="2" fill="none"/>
<path d="M632.7 554.5h2M644.3 540.9h2M634.2 507.2h2M665.9 506.9h2M634.2 508.9h2M643.2 535.2h2M636.2 503.1h2M662.5 552.5h2M647.8 508.9h2M660.0 548.6h2M657.8 532.8h2M657.5 530.8h2M637.9 505.0h2M661.4 554.0h2M643.4 555.3h2M658.1 505.4h2M641.0 497.7h2M665.4 533.3h2M653.8 518.7h2M666.4 524.0h2M651.9 498.9h2M662.5 525.8h2M635.4 534.5h2M664.5 510.5h2M645.6 524.2h2" stroke="rgb(235,80,60)" stroke-opacity="0.33" stroke-width="2" fill="none"/>
<path d="M659.2 529.3h2M636.1 525.1h2M666.1 530.6h2M655.9 556.2h2M664.5 551.2h2M655.9 530.9h2M656.0 542.4h2M651.8 503.2h2M641.1 541.6h2M647.4 520.7h2M632.6 479.4h2M638.4 552.2h2M649.8 512.8h2M664.3 522.3h2M653.4 531.1h2M658.1 528.5h2M660.6 509.4h2M640.6 520.8h2M648.5 504.0h2M655.0 505.0h2M636.0 508.1h2M659.7 479.9h2M660.5 540.2h2M650.8 547.1h2M635.1 558.4h2" stroke="rgb(235,80,60)" stroke-opacity="0.33" stroke-width="2" fill="none"/>
<path d="M654.0 540.6h2M639.1 470.4h2M641.5 549.8h2M646.4 536.4h2M656.9 524.4h2M646.6 504.9h2M662.8 527.3h2M632.7 532.1h2M634.3 521.3h2M662.0 510.6h2M644.8 496.5h2M642.3 504.2h2M657.5 558.9h2M641.2 560.2h2M637.1 518.0h2M662.3 524.3h2M639.1 506.6h2M636.8 528.3h2M644.3 539.1h2M647.0 516.8h2M646.4 542.0h2M665.5 508.1h2M638.6 546.1h2M639.0 565.9h2" stroke="rgb(235,80,60)" stroke-opacity="0.33" stroke-width="2" fill="none"/>
<path d="M647.4 496.9h2M657.5 519.6h2M657.5 527.0h2M642.1 510.1h2M656.5 500.5h2M635.7 532.7h2M661.8 554.1h2M633.7 547.7h2M642.4 513.9h2M647.9 541.0h2M650.4 521.0h2M654.6 517.2h2M645.6 514.2h2M640.9 558.3h2M662.2 518.4h2M637.4 543.1h2M665.0 542.5h2M664.7 501.3h2M640.0 553.6h2M642.7 515.1h2M634.8 508.0h2M655.0 497.6h2M658.2 519.6h2M649.3 568.1h2" stroke="rgb(235,80,60)" stroke-opacity="0.33" stroke-width="2" fill="none"/>
<path d="M639.5 519.9h2M665.0 534.9h2M640.1 494.7h2M655.0 514.3h2M661.4 556.0h2M641.4 542.3h2M658.8 529.1h2M650.8 534.4h2M662.8 525.8h2M637.9 536.9h2M656.9 510.2h2M649.9 512.1h2M642.6 541.2h2M643.2 519.0h2M635.2 527.6h2M660.7 540.6h2M660.7 550.2h2M634.1 557.2h2M652.2 489.4h2M664.5 502.6h2M638.8 520.5h2M639.3 521.3h2M634.0 517.8h2M664.8 513.3h2" stroke="rgb(235,80,60)" stroke-opacity="0.33" stroke-width="2" fill="none"/>
<path d="M649.7 499.1h2M639.7 563.1h2M644.5 494.1h2M632.7 513.6h2M655.4 550.7h2M666.2 542.9h2M650.0 534.4h2M656.1 517.5h2M660.0 528.8h2M661.2 519.9h2M658.6 501.0h2M655.2 551.5h2M652.7 558.7h2M649.8 515.3h2M645.4 545.2h2M653.5 550.8h2M656.0 535.6h2M652.6 568.3h2M660.8 517.9h2M654.3 507.6h2M661.1 525.8h2M642.1 506.7h2M651.2 509.2h2M645.0 542.5h2" stroke="rgb(235,80,60)" stroke-opacity="0.33" stroke-width="2" fill="none"/>
<use href="#vL0" fill="none" stroke="#000" stroke-width="1.05"/>
<use href="#vL1" fill="none" stroke="#000" stroke-width="1.05"/>
<line x1="584.60" y1="521.00" x2="604.20" y2="521.00" stroke="#000" stroke-width="1.25"/>
<rect x="590.30" y="519.25" width="8.2" height="3.50" fill="#1a1a1a" fill-opacity="0.85"/>
<line x1="594.40" y1="519.25" x2="594.40" y2="522.75" stroke="#000" stroke-width="0.6"/>
<line x1="641.10" y1="525.96" x2="660.10" y2="525.96" stroke="#000" stroke-width="1.25"/>
<rect x="646.50" y="524.21" width="8.2" height="3.50" fill="#1a1a1a" fill-opacity="0.85"/>
<line x1="650.60" y1="524.21" x2="650.60" y2="527.71" stroke="#000" stroke-width="0.6"/>
<path d="M560.40,446.90 L560.40,576.30 L684.50,576.30" fill="none" stroke="#111" stroke-width="0.9"/>
<line x1="557.60" y1="573.70" x2="560.40" y2="573.70" stroke="#111" stroke-width="0.8"/>
<text x="554.90" y="576.01" font-size="6.6" text-anchor="end" fill="#222">0</text>
<line x1="557.60" y1="542.70" x2="560.40" y2="542.70" stroke="#111" stroke-width="0.8"/>
<text x="554.90" y="545.01" font-size="6.6" text-anchor="end" fill="#222">2</text>
<line x1="557.60" y1="511.70" x2="560.40" y2="511.70" stroke="#111" stroke-width="0.8"/>
<text x="554.90" y="514.01" font-size="6.6" text-anchor="end" fill="#222">4</text>
<line x1="557.60" y1="480.70" x2="560.40" y2="480.70" stroke="#111" stroke-width="0.8"/>
<text x="554.90" y="483.01" font-size="6.6" text-anchor="end" fill="#222">6</text>
<line x1="557.60" y1="449.70" x2="560.40" y2="449.70" stroke="#111" stroke-width="0.8"/>
<text x="554.90" y="452.01" font-size="6.6" text-anchor="end" fill="#222">8</text>
<line x1="594.40" y1="576.30" x2="594.40" y2="579.10" stroke="#111" stroke-width="0.8"/>
<text x="594.40" y="586.70" font-size="6.6" text-anchor="middle" fill="#222">Stage I&amp;Stage II</text>
<line x1="650.60" y1="576.30" x2="650.60" y2="579.10" stroke="#111" stroke-width="0.8"/>
<text x="650.60" y="586.70" font-size="6.6" text-anchor="middle" fill="#222">Stage III&amp;Stage IV</text>
<text x="593.61" y="596.50" font-size="8.6" textLength="57.67" lengthAdjust="spacingAndGlyphs" fill="#111">Pathologic stage</text>
<text transform="translate(536.10,511.60) rotate(-90)" font-size="7.8" text-anchor="middle" fill="#111">The expression of TMC4</text>
<text transform="translate(544.00,536.20) rotate(-90)" font-size="8.4" fill="#111">Log<tspan font-size="6" dy="2.3">2</tspan><tspan font-size="7.6" dy="-2.3"> (TPM+1)</tspan></text>
<path d="M594.40,455.20 L594.40,452.70 L650.60,452.70 L650.60,455.20" fill="none" stroke="#111" stroke-width="0.85"/>
<text x="614.17" y="450.90" font-size="6.3" textLength="16.66" lengthAdjust="spacingAndGlyphs" fill="#222">p = 0.1</text>
<text x="6.8" y="635.8" font-size="19.0" >M</text>
<defs><path id="vM0" d="M74.4 775.8 77.5 775.3 80.2 774.8 83.3 774.0 85.8 773.3 86.8 772.5 84.8 771.6 80.6 770.7 76.7 769.8 73.4 768.8 70.4 767.9 68.4 766.9 67.5 766.2 66.9 765.4 66.4 764.6 65.8 763.8 65.3 762.9 65.0 762.0 64.8 761.1 64.7 760.3 64.7 759.3 64.7 758.4 64.7 757.4 64.7 756.4 64.7 755.5 64.7 754.5 64.7 753.6 64.7 752.6 64.7 751.6 64.7 750.7 64.7 749.7 64.7 748.7 64.7 747.8 64.7 746.8 64.6 745.8 64.6 744.9 64.6 743.9 64.6 742.9 64.6 742.0 64.6 741.0 64.6 740.0 64.6 739.1 64.6 738.1 64.6 737.1 64.6 736.2 64.6 735.2 64.6 734.2 64.6 733.3 64.6 732.3 64.6 731.3 64.6 730.4 64.6 729.4 64.6 728.4 64.6 727.5 64.6 726.5 64.6 725.5 64.6 724.6 64.6 723.6 64.6 722.7 64.6 721.7 64.6 720.7 64.6 719.8 64.6 718.8 64.6 717.8 64.6 716.9 64.6 715.9 64.6 714.9 64.6 714.0 64.6 713.0 64.6 712.0 64.6 711.1 64.6 710.1 64.6 709.1 64.6 708.2 64.6 707.2 64.6 706.2 64.6 705.3 64.6 704.3 64.6 703.3 64.6 702.4 64.6 701.4 64.6 700.4 64.6 699.5 64.6 698.5 64.6 697.5 64.6 696.6 64.6 695.6 64.6 694.6 64.6 693.7 64.6 692.7 64.6 691.8 64.6 690.8 64.6 689.8 64.6 688.9 64.6 687.9 64.6 686.9 64.6 686.0 64.6 685.0 64.6 684.0 64.6 683.1 64.6 682.1 64.6 681.1 64.6 680.2 64.6 679.2 64.6 678.2 64.6 677.3 64.6 676.3 64.6 675.3 64.6 674.4 64.6 673.4 64.6 672.4 64.6 671.5 64.6 670.5 64.6 669.5 64.6 668.6 64.6 667.6 64.6 666.6 64.6 665.7 64.6 664.7 64.6 663.7 64.6 662.8 64.6 661.8 64.6 660.9 64.6 659.9 64.6 658.9 64.2 658.9 64.2 659.9 64.2 660.9 64.2 661.8 64.2 662.8 64.2 663.7 64.2 664.7 64.2 665.7 64.2 666.6 64.2 667.6 64.2 668.6 64.2 669.5 64.2 670.5 64.2 671.5 64.2 672.4 64.2 673.4 64.2 674.4 64.2 675.3 64.2 676.3 64.2 677.3 64.2 678.2 64.2 679.2 64.2 680.2 64.2 681.1 64.2 682.1 64.2 683.1 64.2 684.0 64.2 685.0 64.2 686.0 64.2 686.9 64.2 687.9 64.2 688.9 64.2 689.8 64.2 690.8 64.2 691.8 64.2 692.7 64.2 693.7 64.2 694.6 64.2 695.6 64.2 696.6 64.2 697.5 64.2 698.5 64.2 699.5 64.2 700.4 64.2 701.4 64.2 702.4 64.2 703.3 64.2 704.3 64.2 705.3 64.2 706.2 64.2 707.2 64.2 708.2 64.2 709.1 64.2 710.1 64.2 711.1 64.2 712.0 64.2 713.0 64.2 714.0 64.2 714.9 64.2 715.9 64.2 716.9 64.2 717.8 64.2 718.8 64.2 719.8 64.2 720.7 64.2 721.7 64.2 722.7 64.2 723.6 64.2 724.6 64.2 725.5 64.2 726.5 64.2 727.5 64.2 728.4 64.2 729.4 64.2 730.4 64.2 731.3 64.2 732.3 64.2 733.3 64.2 734.2 64.2 735.2 64.2 736.2 64.2 737.1 64.2 738.1 64.2 739.1 64.2 740.0 64.2 741.0 64.2 742.0 64.2 742.9 64.2 743.9 64.2 744.9 64.2 745.8 64.1 746.8 64.1 747.8 64.1 748.7 64.1 749.7 64.1 750.7 64.1 751.6 64.1 752.6 64.1 753.6 64.1 754.5 64.1 755.5 64.1 756.4 64.1 757.4 64.1 758.4 64.1 759.3 64.1 760.3 64.0 761.1 63.8 762.0 63.5 762.9 63.0 763.8 62.4 764.6 61.9 765.4 61.3 766.2 60.4 766.9 58.4 767.9 55.4 768.8 52.1 769.8 48.2 770.7 44.0 771.6 42.0 772.5 43.0 773.3 45.5 774.0 48.6 774.8 51.3 775.3 54.4 775.8Z"/></defs><use href="#vM0" fill="#a9dcea"/>
<defs><path id="vM1" d="M130.8 775.8 133.0 775.3 134.8 774.8 136.2 774.2 137.4 773.7 137.9 773.1 137.7 772.6 137.2 772.2 136.6 771.7 135.6 771.1 134.2 770.6 132.5 770.1 130.9 769.5 129.6 769.0 128.6 768.5 127.5 768.0 126.6 767.5 125.8 767.0 125.3 766.5 125.0 766.0 124.7 765.6 124.5 765.1 124.3 764.6 124.0 764.1 123.7 763.6 123.4 763.0 123.1 762.5 122.8 762.0 122.5 761.5 122.2 761.0 121.9 760.5 121.6 760.0 121.4 759.5 121.3 759.1 121.1 758.7 121.1 758.2 121.1 757.7 121.1 757.1 121.1 756.5 121.1 755.9 121.1 755.3 121.1 754.7 121.1 754.1 121.1 753.6 121.1 753.0 121.1 752.4 121.1 751.8 121.1 751.2 121.0 750.6 121.0 750.1 121.0 749.5 121.0 748.9 121.0 748.3 121.0 747.7 121.0 747.1 121.0 746.5 121.0 746.0 121.0 745.4 121.0 744.8 121.0 744.2 121.0 743.6 121.0 743.0 121.0 742.4 121.0 741.9 121.0 741.3 121.0 740.7 121.0 740.1 121.0 739.5 121.0 738.9 121.0 738.3 121.0 737.8 121.0 737.2 121.0 736.6 121.0 736.0 121.0 735.4 121.0 734.8 121.0 734.2 121.0 733.7 121.0 733.1 121.0 732.5 121.0 731.9 121.0 731.3 121.0 730.7 121.0 730.1 121.0 729.6 121.0 729.0 121.0 728.4 121.0 727.8 121.0 727.2 121.0 726.6 121.0 726.0 121.0 725.5 121.0 724.9 121.0 724.3 121.0 723.7 121.0 723.1 121.0 722.5 121.0 721.9 121.0 721.4 121.0 720.8 121.0 720.2 121.0 719.6 121.0 719.0 121.0 718.4 121.0 717.9 121.0 717.3 121.0 716.7 121.0 716.1 121.0 715.5 121.0 714.9 121.0 714.3 121.0 713.8 121.0 713.2 121.0 712.6 121.0 712.0 121.0 711.4 121.0 710.8 121.0 710.2 121.0 709.7 121.0 709.1 121.0 708.5 121.0 707.9 121.0 707.3 121.0 706.7 121.0 706.1 121.0 705.6 121.0 705.0 120.6 705.0 120.6 705.6 120.6 706.1 120.6 706.7 120.6 707.3 120.6 707.9 120.6 708.5 120.6 709.1 120.6 709.7 120.6 710.2 120.6 710.8 120.6 711.4 120.6 712.0 120.6 712.6 120.6 713.2 120.6 713.8 120.6 714.3 120.6 714.9 120.6 715.5 120.6 716.1 120.6 716.7 120.6 717.3 120.6 717.9 120.6 718.4 120.6 719.0 120.6 719.6 120.6 720.2 120.6 720.8 120.6 721.4 120.6 721.9 120.6 722.5 120.6 723.1 120.6 723.7 120.6 724.3 120.6 724.9 120.6 725.5 120.6 726.0 120.6 726.6 120.6 727.2 120.6 727.8 120.6 728.4 120.6 729.0 120.6 729.6 120.6 730.1 120.6 730.7 120.6 731.3 120.6 731.9 120.6 732.5 120.6 733.1 120.6 733.7 120.6 734.2 120.6 734.8 120.6 735.4 120.6 736.0 120.6 736.6 120.6 737.2 120.6 737.8 120.6 738.3 120.6 738.9 120.6 739.5 120.6 740.1 120.6 740.7 120.6 741.3 120.6 741.9 120.6 742.4 120.6 743.0 120.6 743.6 120.6 744.2 120.6 744.8 120.6 745.4 120.6 746.0 120.6 746.5 120.6 747.1 120.6 747.7 120.6 748.3 120.6 748.9 120.6 749.5 120.6 750.1 120.6 750.6 120.5 751.2 120.5 751.8 120.5 752.4 120.5 753.0 120.5 753.6 120.5 754.1 120.5 754.7 120.5 755.3 120.5 755.9 120.5 756.5 120.5 757.1 120.5 757.7 120.5 758.2 120.5 758.7 120.3 759.1 120.2 759.5 120.0 760.0 119.7 760.5 119.4 761.0 119.1 761.5 118.8 762.0 118.5 762.5 118.2 763.0 117.9 763.6 117.6 764.1 117.3 764.6 117.1 765.1 116.9 765.6 116.6 766.0 116.3 766.5 115.8 767.0 115.0 767.5 114.1 768.0 113.0 768.5 112.0 769.0 110.7 769.5 109.1 770.1 107.4 770.6 106.0 771.1 105.0 771.7 104.4 772.2 103.9 772.6 103.7 773.1 104.2 773.7 105.4 774.2 106.8 774.8 108.6 775.3 110.8 775.8Z"/></defs><use href="#vM1" fill="#f3a69b"/>
<path d="M50.0 770.6h2M66.2 771.4h2M47.2 772.7h2M71.4 676.7h2M70.2 773.6h2M59.7 769.6h2M60.6 768.7h2M50.5 757.2h2M75.9 768.0h2M70.8 771.3h2M51.2 772.6h2M60.1 771.3h2M62.0 772.2h2M70.2 773.5h2M72.5 775.9h2M72.2 769.0h2M49.2 773.3h2M77.6 773.7h2M68.0 775.6h2M53.0 774.6h2M59.5 773.7h2M70.4 773.4h2M59.9 754.4h2M51.6 748.7h2M63.1 769.6h2M57.9 774.5h2M56.3 774.7h2M53.3 771.3h2M68.4 773.0h2M57.8 771.1h2M69.1 772.0h2M71.0 770.4h2M80.2 771.4h2M66.8 772.0h2M74.3 771.4h2M49.3 771.1h2M65.5 773.5h2M62.7 771.8h2M79.8 774.1h2M65.8 772.9h2M62.0 772.3h2M70.0 768.7h2M65.4 769.8h2M76.9 767.8h2M52.2 768.9h2M60.9 775.0h2M68.6 772.8h2" stroke="rgb(91,192,222)" stroke-opacity="0.33" stroke-width="2" fill="none"/>
<path d="M75.4 772.1h2M66.2 773.6h2M51.9 771.2h2M78.6 769.4h2M64.1 775.0h2M69.4 766.4h2M54.7 695.5h2M51.4 774.2h2M52.1 769.3h2M51.1 773.4h2M53.0 774.5h2M58.1 775.6h2M50.9 773.8h2M77.3 770.4h2M53.9 770.9h2M78.7 769.9h2M58.9 742.2h2M52.9 769.1h2M72.7 769.9h2M58.0 767.0h2M66.3 774.2h2M49.5 664.4h2M54.2 771.3h2M72.4 774.6h2M56.2 771.9h2M76.8 773.7h2M80.2 766.1h2M47.0 767.0h2M72.1 754.2h2M66.1 768.7h2M48.1 772.0h2M49.6 768.2h2M51.3 755.5h2M54.3 769.5h2M70.4 774.7h2M75.0 772.8h2M53.9 668.5h2M74.4 775.3h2M57.8 769.4h2M59.3 774.0h2M68.3 772.8h2M56.0 774.9h2M62.9 773.0h2M60.4 771.7h2M56.3 774.7h2M62.4 773.8h2M72.6 774.7h2" stroke="rgb(91,192,222)" stroke-opacity="0.33" stroke-width="2" fill="none"/>
<path d="M52.0 768.2h2M70.3 771.1h2M65.1 771.3h2M71.3 773.9h2M65.8 768.9h2M67.9 769.4h2M53.6 774.4h2M63.7 773.9h2M48.7 775.3h2M70.1 769.2h2M79.8 770.6h2M51.8 773.3h2M75.7 770.6h2M54.3 769.4h2M72.2 770.3h2M46.6 775.1h2M67.9 773.1h2M63.9 770.3h2M73.0 770.0h2M54.3 770.1h2M80.0 768.3h2M71.3 766.4h2M68.6 738.7h2M50.1 773.9h2M73.6 772.6h2M70.7 769.1h2M53.4 774.3h2M60.8 772.6h2M56.7 768.7h2M72.0 769.1h2M60.8 725.2h2M74.8 771.5h2M72.3 768.9h2M74.1 773.5h2M75.3 773.8h2M80.2 728.1h2M77.8 772.9h2M60.9 766.7h2M78.2 762.5h2M60.9 775.2h2M68.1 771.4h2M51.9 768.4h2M55.9 772.5h2M53.4 770.1h2M52.7 773.6h2M60.1 769.2h2" stroke="rgb(91,192,222)" stroke-opacity="0.33" stroke-width="2" fill="none"/>
<path d="M56.6 772.8h2M60.3 770.5h2M53.6 771.0h2M75.4 764.8h2M72.0 768.5h2M65.9 773.9h2M69.8 769.4h2M53.4 752.9h2M62.8 775.7h2M52.1 773.7h2M60.3 767.1h2M74.3 772.2h2M59.4 773.1h2M62.7 770.2h2M72.9 775.2h2M78.4 775.0h2M53.2 729.8h2M75.9 773.2h2M49.1 769.1h2M59.7 766.2h2M72.3 723.6h2M73.5 773.1h2M75.3 774.4h2M61.8 769.8h2M48.7 772.8h2M67.0 772.3h2M61.0 763.9h2M73.9 771.6h2M68.3 770.3h2M55.2 772.4h2M52.1 771.2h2M55.2 771.0h2M72.7 775.6h2M70.0 721.8h2M52.1 760.7h2M69.7 768.0h2M73.4 766.3h2M64.5 772.2h2M55.5 771.2h2M75.1 769.9h2M54.3 770.3h2M66.9 772.1h2M78.1 775.0h2M47.6 758.9h2M63.9 773.8h2M64.9 768.1h2" stroke="rgb(91,192,222)" stroke-opacity="0.33" stroke-width="2" fill="none"/>
<path d="M52.6 768.6h2M73.8 766.2h2M66.0 749.6h2M80.1 768.4h2M55.6 772.6h2M63.6 772.7h2M57.0 775.2h2M71.9 774.9h2M68.9 748.3h2M73.1 771.6h2M72.6 770.8h2M76.2 774.5h2M58.7 771.1h2M49.6 769.2h2M79.7 769.9h2M52.7 771.3h2M70.3 771.0h2M75.4 771.1h2M72.0 772.2h2M70.8 773.5h2M66.0 772.5h2M48.0 771.0h2M57.6 774.4h2M71.8 768.2h2M53.2 769.4h2M55.5 765.8h2M64.1 769.6h2M75.5 769.4h2M67.2 772.6h2M69.9 773.1h2M56.0 764.3h2M72.0 773.1h2M74.8 772.6h2M55.5 775.1h2M77.1 762.8h2M54.1 775.0h2M52.6 773.1h2M70.4 772.1h2M65.7 766.5h2M70.3 771.8h2M77.7 772.6h2M61.3 775.3h2M56.7 773.1h2M58.0 775.2h2M71.7 750.8h2M61.2 770.0h2" stroke="rgb(91,192,222)" stroke-opacity="0.33" stroke-width="2" fill="none"/>
<path d="M49.7 769.4h2M52.7 769.0h2M54.5 775.0h2M71.0 772.7h2M68.9 772.3h2M53.6 718.9h2M60.3 771.9h2M66.2 773.2h2M53.4 775.0h2M57.0 747.0h2M71.4 662.2h2M64.3 773.3h2M75.1 770.3h2M68.7 770.1h2M55.5 773.0h2M73.9 775.9h2M79.9 773.3h2M68.1 767.5h2M66.3 773.2h2M70.1 773.4h2M70.8 774.4h2M54.7 770.0h2M51.1 772.5h2M56.9 770.1h2M67.4 769.8h2M55.5 774.5h2M64.3 769.4h2M49.5 774.6h2M46.9 772.0h2M64.6 772.3h2M55.0 771.3h2M71.8 773.0h2M76.5 771.0h2M72.1 775.2h2M58.3 772.0h2M60.2 773.5h2M72.3 767.7h2M73.4 772.5h2M47.6 770.0h2M79.4 769.6h2M56.9 769.9h2M47.3 768.1h2M57.3 771.1h2M55.7 770.5h2M55.2 773.6h2M71.5 774.3h2" stroke="rgb(91,192,222)" stroke-opacity="0.33" stroke-width="2" fill="none"/>
<path d="M77.4 748.9h2M73.8 775.3h2M78.9 775.3h2M51.7 768.4h2M52.5 733.9h2M74.1 766.2h2M50.7 772.8h2M52.1 774.5h2M54.1 773.3h2M55.5 768.4h2M54.4 773.2h2M70.4 771.4h2M64.4 768.7h2M54.1 767.3h2M77.3 772.2h2M71.4 773.7h2M66.0 750.2h2M79.6 769.9h2M70.6 688.6h2M77.9 774.0h2M53.6 760.8h2M71.2 771.2h2M67.1 772.5h2M68.0 767.0h2M68.3 768.8h2M48.1 772.1h2M52.4 769.9h2M61.9 774.1h2M69.2 775.7h2M59.1 775.3h2M75.0 769.6h2M47.0 770.9h2M55.6 768.0h2M50.9 771.8h2M57.8 774.8h2M61.1 766.1h2M64.6 771.2h2M68.6 772.0h2M53.8 773.8h2M76.1 772.4h2M47.9 774.0h2M51.8 773.0h2M61.5 771.8h2M73.7 773.7h2M75.7 771.6h2M52.3 704.9h2" stroke="rgb(91,192,222)" stroke-opacity="0.33" stroke-width="2" fill="none"/>
<path d="M56.3 774.2h2M68.8 771.1h2M53.0 769.4h2M72.0 775.6h2M65.6 772.7h2M69.8 775.0h2M78.5 772.0h2M60.9 773.0h2M78.0 773.0h2M47.7 772.3h2M56.8 774.3h2M78.1 772.5h2M63.8 771.3h2M52.6 775.6h2M55.5 774.6h2M72.2 773.7h2M68.5 764.9h2M72.8 773.7h2M54.1 772.9h2M72.2 732.3h2M72.2 767.0h2M65.5 772.9h2M48.7 775.1h2M70.8 727.4h2M78.1 770.7h2M63.4 775.3h2M59.5 768.4h2M75.3 770.2h2M79.4 770.1h2M48.5 772.5h2M74.7 772.5h2M61.3 719.8h2M54.7 745.5h2M72.4 773.2h2M60.0 763.0h2M75.6 772.1h2M62.3 752.5h2M77.0 772.1h2M71.4 775.0h2M62.7 773.0h2M50.8 773.8h2M48.3 774.4h2M65.4 727.5h2M57.6 768.8h2M74.3 700.7h2M52.9 770.5h2" stroke="rgb(91,192,222)" stroke-opacity="0.33" stroke-width="2" fill="none"/>
<path d="M126.8 764.0h2M130.1 775.3h2M132.1 772.2h2M121.4 774.4h2M117.0 775.3h2M103.6 771.3h2M128.1 774.2h2M134.3 773.7h2M136.1 759.0h2M123.6 771.3h2M113.3 775.3h2M125.6 768.1h2M135.5 770.6h2M121.9 767.0h2M105.7 773.0h2M114.8 768.1h2M105.0 772.1h2M112.1 771.5h2M107.1 771.4h2M114.9 772.2h2M117.4 769.3h2M128.1 773.8h2M135.5 773.4h2M120.7 773.7h2M134.2 766.7h2M109.6 753.5h2M104.1 764.0h2M111.0 771.7h2M103.0 767.8h2M132.5 766.9h2M113.8 772.8h2M122.5 774.8h2M120.9 774.4h2M118.1 771.5h2M106.1 768.2h2M119.0 768.5h2M128.9 773.0h2M124.7 770.6h2M120.2 769.8h2M126.8 774.1h2M107.2 767.6h2M111.2 775.1h2M111.7 764.3h2M114.6 775.3h2M116.9 763.4h2" stroke="rgb(235,80,60)" stroke-opacity="0.33" stroke-width="2" fill="none"/>
<path d="M111.2 768.6h2M135.4 770.9h2M117.9 774.9h2M106.6 773.2h2M125.2 775.1h2M124.7 773.4h2M121.7 770.8h2M126.2 729.1h2M108.4 772.3h2M122.9 773.5h2M111.7 769.6h2M103.8 775.7h2M106.5 766.8h2M111.4 773.5h2M107.5 771.2h2M113.1 768.3h2M112.0 757.3h2M130.6 769.5h2M130.7 770.6h2M120.1 774.7h2M119.3 759.7h2M116.9 766.3h2M104.0 773.5h2M108.5 774.9h2M134.7 775.3h2M110.0 772.3h2M109.6 755.0h2M118.8 766.3h2M112.4 731.9h2M109.6 771.8h2M121.4 773.5h2M115.4 764.3h2M112.1 746.3h2M136.3 772.1h2M125.8 773.0h2M131.2 773.5h2M126.1 773.7h2M108.6 772.7h2M133.0 761.8h2M117.0 770.3h2M134.4 773.0h2M104.7 771.5h2M124.6 730.6h2M122.4 775.2h2M129.4 763.4h2" stroke="rgb(235,80,60)" stroke-opacity="0.33" stroke-width="2" fill="none"/>
<path d="M110.7 771.1h2M105.6 771.4h2M108.9 772.4h2M119.1 775.2h2M133.5 768.6h2M127.8 771.2h2M135.9 775.8h2M110.5 774.4h2M123.1 769.8h2M122.3 770.5h2M134.2 765.6h2M111.8 775.5h2M136.7 768.5h2M114.6 775.6h2M111.4 773.1h2M115.3 774.2h2M131.3 771.8h2M125.6 769.0h2M106.6 773.8h2M105.8 774.0h2M127.6 773.1h2M133.7 768.8h2M118.5 770.2h2M118.2 768.8h2M130.7 774.7h2M133.3 771.4h2M107.2 770.5h2M108.1 737.8h2M126.0 765.2h2M115.8 773.5h2M121.1 772.3h2M103.8 772.8h2M115.8 775.2h2M117.3 775.9h2M122.1 773.0h2M113.2 771.3h2M133.7 772.8h2M127.4 754.9h2M136.1 766.1h2M127.4 770.2h2M124.5 775.7h2M136.6 772.6h2M122.3 766.5h2M117.4 774.5h2M113.8 773.1h2" stroke="rgb(235,80,60)" stroke-opacity="0.33" stroke-width="2" fill="none"/>
<path d="M116.7 770.0h2M104.1 774.5h2M122.6 774.9h2M123.1 770.2h2M128.7 769.5h2M118.5 774.4h2M115.0 772.1h2M108.9 769.8h2M129.5 769.8h2M132.7 775.8h2M117.6 763.9h2M131.6 766.3h2M113.0 769.7h2M103.0 771.8h2M116.8 774.3h2M120.9 773.7h2M113.0 756.3h2M127.4 768.2h2M109.4 772.5h2M123.2 767.7h2M108.1 764.0h2M120.4 772.2h2M122.1 707.1h2M127.2 770.8h2M108.8 771.6h2M115.4 766.2h2M103.7 772.8h2M106.3 771.5h2M108.1 749.4h2M104.5 768.2h2M110.7 772.0h2M105.2 771.6h2M120.5 772.2h2M123.9 772.5h2M115.0 773.6h2M116.8 768.2h2M113.6 770.3h2M105.7 771.2h2M129.3 772.3h2M129.6 773.7h2M114.8 770.4h2M105.2 771.2h2M110.8 764.6h2M120.2 775.0h2M131.2 768.7h2" stroke="rgb(235,80,60)" stroke-opacity="0.33" stroke-width="2" fill="none"/>
<path d="M126.7 768.7h2M126.5 769.8h2M105.2 774.3h2M136.5 770.7h2M114.5 773.3h2M123.2 770.2h2M117.2 766.8h2M119.1 773.5h2M109.0 775.6h2M134.2 770.5h2M132.2 764.8h2M121.8 771.7h2M111.1 774.0h2M113.1 769.2h2M113.7 775.5h2M136.1 766.0h2M118.1 773.7h2M109.6 774.5h2M111.1 772.8h2M117.4 773.9h2M115.5 772.1h2M133.8 772.0h2M134.1 764.4h2M133.2 751.3h2M104.4 769.6h2M121.6 770.0h2M116.6 770.9h2M128.0 775.9h2M122.5 773.2h2M103.2 771.0h2M136.4 764.7h2M119.6 769.8h2M130.3 769.3h2M113.8 767.9h2M112.1 767.4h2M116.9 767.9h2M114.6 770.1h2M116.8 775.6h2M130.6 769.4h2M106.0 774.0h2M122.0 774.6h2M135.8 773.6h2M124.1 754.4h2M120.8 774.7h2M122.5 774.7h2" stroke="rgb(235,80,60)" stroke-opacity="0.33" stroke-width="2" fill="none"/>
<path d="M131.3 773.2h2M130.5 773.1h2M105.0 770.6h2M108.9 766.1h2M116.4 772.6h2M110.5 737.5h2M117.2 764.6h2M126.7 771.7h2M125.9 768.9h2M105.4 775.1h2M118.5 772.5h2M106.1 774.2h2M132.1 772.1h2M113.7 763.2h2M105.3 774.0h2M120.3 775.3h2M128.9 772.5h2M133.5 747.7h2M131.0 771.3h2M135.7 775.5h2M123.2 769.8h2M126.1 765.6h2M123.8 771.3h2M122.6 768.0h2M114.8 774.2h2M115.7 773.3h2M124.5 774.4h2M123.8 773.1h2M104.7 773.7h2M127.0 772.3h2M134.1 766.2h2M123.1 771.5h2M115.5 772.9h2M134.5 771.5h2M125.9 771.2h2M106.8 772.7h2M133.1 765.7h2M131.0 765.3h2M136.3 769.7h2M123.4 773.9h2M129.6 775.7h2M104.7 721.9h2M111.5 775.2h2M116.2 770.3h2M118.0 767.9h2" stroke="rgb(235,80,60)" stroke-opacity="0.33" stroke-width="2" fill="none"/>
<path d="M135.7 771.2h2M129.0 773.1h2M116.5 773.5h2M112.4 772.7h2M108.0 761.8h2M121.0 769.7h2M110.8 773.6h2M133.6 774.5h2M130.8 726.6h2M124.6 766.3h2M130.6 771.0h2M114.1 771.3h2M127.5 770.9h2M125.9 768.1h2M133.4 773.0h2M105.1 774.9h2M110.6 772.3h2M135.0 772.0h2M122.9 763.9h2M108.3 706.3h2M133.5 766.7h2M129.5 772.0h2M127.4 775.0h2M107.0 770.5h2M114.6 742.6h2M119.4 754.9h2M133.1 766.4h2M110.7 773.6h2M111.2 775.3h2M119.9 767.2h2M114.7 772.4h2M133.2 773.0h2M104.4 754.3h2M128.5 760.9h2M120.1 769.4h2M125.1 769.9h2M113.9 764.0h2M136.4 769.9h2M103.8 771.9h2M121.9 774.7h2M114.6 773.0h2M115.8 764.8h2M132.7 772.1h2M118.7 773.3h2M103.5 769.4h2" stroke="rgb(235,80,60)" stroke-opacity="0.33" stroke-width="2" fill="none"/>
<path d="M136.0 770.5h2M130.1 772.4h2M112.2 773.0h2M130.8 771.2h2M136.1 772.9h2M110.3 758.4h2M117.9 766.7h2M125.3 769.2h2M121.5 768.1h2M134.8 770.1h2M104.4 774.7h2M125.9 768.1h2M127.3 769.7h2M116.0 775.3h2M104.9 774.0h2M131.4 772.0h2M111.5 763.1h2M113.3 771.2h2M105.3 769.2h2M130.7 705.0h2M119.9 772.3h2M135.2 715.6h2M116.7 770.7h2M118.8 765.6h2M117.2 722.1h2M104.6 773.8h2M122.3 771.3h2M125.7 771.3h2M105.6 771.9h2M122.1 769.2h2M131.2 749.7h2M121.8 775.8h2M109.8 771.2h2M104.0 770.6h2M132.4 773.0h2M118.1 771.0h2M133.0 770.9h2M121.3 762.1h2M122.8 773.8h2M122.9 719.7h2M134.7 771.5h2M109.1 772.5h2M121.3 771.5h2M113.3 758.6h2M118.1 773.4h2" stroke="rgb(235,80,60)" stroke-opacity="0.33" stroke-width="2" fill="none"/>
<path d="M63.8 662.2h1.2M63.8 747.0h1.2M63.8 748.7h1.2M63.8 742.2h1.2M63.8 752.5h1.2M63.8 750.2h1.2M63.8 668.5h1.2M63.8 676.7h1.2M63.8 664.4h1.2M63.8 695.5h1.2M63.8 754.4h1.2M63.8 762.8h1.2M63.8 721.8h1.2M63.8 754.2h1.2M63.8 749.6h1.2M63.8 725.2h1.2M63.8 745.5h1.2M63.8 738.7h1.2M63.8 752.9h1.2M63.8 760.7h1.2M120.2 705.0h1.2M120.2 754.9h1.2M120.2 759.0h1.2M120.2 721.9h1.2M120.2 731.9h1.2M120.2 758.6h1.2M120.2 754.9h1.2M120.2 749.7h1.2M120.2 747.7h1.2M120.2 737.5h1.2M120.2 754.4h1.2M120.2 719.7h1.2M120.2 757.3h1.2M120.2 753.5h1.2M120.2 749.4h1.2" stroke="#111" stroke-width="1.0" fill="none"/>
<use href="#vM0" fill="none" stroke="#000" stroke-width="1.05"/>
<use href="#vM1" fill="none" stroke="#000" stroke-width="1.05"/>
<line x1="54.80" y1="766.92" x2="74.00" y2="766.92" stroke="#000" stroke-width="1.25"/>
<rect x="60.30" y="765.57" width="8.2" height="2.70" fill="#1a1a1a" fill-opacity="0.85"/>
<line x1="64.40" y1="765.57" x2="64.40" y2="768.27" stroke="#000" stroke-width="0.6"/>
<line x1="111.20" y1="767.75" x2="130.40" y2="767.75" stroke="#000" stroke-width="1.25"/>
<rect x="116.70" y="766.40" width="8.2" height="2.70" fill="#1a1a1a" fill-opacity="0.85"/>
<line x1="120.80" y1="766.40" x2="120.80" y2="769.10" stroke="#000" stroke-width="0.6"/>
<path d="M31.00,651.50 L31.00,781.30 L154.70,781.30" fill="none" stroke="#111" stroke-width="0.9"/>
<line x1="28.20" y1="775.80" x2="31.00" y2="775.80" stroke="#111" stroke-width="0.8"/>
<text x="25.50" y="778.11" font-size="6.6" text-anchor="end" fill="#222">0</text>
<line x1="28.20" y1="755.15" x2="31.00" y2="755.15" stroke="#111" stroke-width="0.8"/>
<text x="25.50" y="757.46" font-size="6.6" text-anchor="end" fill="#222">1</text>
<line x1="28.20" y1="734.50" x2="31.00" y2="734.50" stroke="#111" stroke-width="0.8"/>
<text x="25.50" y="736.81" font-size="6.6" text-anchor="end" fill="#222">2</text>
<line x1="28.20" y1="713.85" x2="31.00" y2="713.85" stroke="#111" stroke-width="0.8"/>
<text x="25.50" y="716.16" font-size="6.6" text-anchor="end" fill="#222">3</text>
<line x1="28.20" y1="693.20" x2="31.00" y2="693.20" stroke="#111" stroke-width="0.8"/>
<text x="25.50" y="695.51" font-size="6.6" text-anchor="end" fill="#222">4</text>
<line x1="28.20" y1="672.55" x2="31.00" y2="672.55" stroke="#111" stroke-width="0.8"/>
<text x="25.50" y="674.86" font-size="6.6" text-anchor="end" fill="#222">5</text>
<line x1="28.20" y1="651.90" x2="31.00" y2="651.90" stroke="#111" stroke-width="0.8"/>
<text x="25.50" y="654.21" font-size="6.6" text-anchor="end" fill="#222">6</text>
<line x1="64.40" y1="781.30" x2="64.40" y2="784.10" stroke="#111" stroke-width="0.8"/>
<text x="64.40" y="791.70" font-size="6.6" text-anchor="middle" fill="#222">Stage I&amp;Stage II</text>
<line x1="120.80" y1="781.30" x2="120.80" y2="784.10" stroke="#111" stroke-width="0.8"/>
<text x="120.80" y="791.70" font-size="6.6" text-anchor="middle" fill="#222">Stage III&amp;Stage IV</text>
<text x="64.01" y="801.50" font-size="8.6" textLength="57.67" lengthAdjust="spacingAndGlyphs" fill="#111">Pathologic stage</text>
<text transform="translate(7.00,716.40) rotate(-90)" font-size="7.8" text-anchor="middle" fill="#111">The expression of TMC5</text>
<text transform="translate(14.90,741.00) rotate(-90)" font-size="8.4" fill="#111">Log<tspan font-size="6" dy="2.3">2</tspan><tspan font-size="7.6" dy="-2.3"> (TPM+1)</tspan></text>
<path d="M64.40,660.80 L64.40,658.30 L120.80,658.30 L120.80,660.80" fill="none" stroke="#111" stroke-width="0.85"/>
<text x="78.19" y="656.50" font-size="6.3" textLength="28.83" lengthAdjust="spacingAndGlyphs" fill="#222">p = 4.7e−04</text>
<text x="188.0" y="635.8" font-size="19.0" >N</text>
<defs><path id="vN0" d="M241.9 775.2 241.9 774.3 242.0 773.4 242.0 772.5 242.1 771.5 242.1 770.6 242.1 769.7 242.2 768.8 242.2 767.9 242.2 767.0 242.3 766.1 242.3 765.2 242.4 764.3 242.4 763.3 242.4 762.4 242.5 761.5 242.5 760.6 242.5 759.7 242.6 758.8 242.6 757.9 242.6 757.0 242.6 756.0 242.7 755.1 242.7 754.2 242.7 753.3 242.7 752.4 242.7 751.5 242.8 750.6 242.8 749.6 242.8 748.7 242.9 747.8 242.9 746.9 242.9 746.0 243.0 745.1 243.1 744.2 243.2 743.3 243.3 742.5 243.5 741.6 243.7 740.7 243.9 739.8 244.1 738.9 244.3 738.1 244.6 737.2 244.9 736.3 245.3 735.5 245.7 734.6 246.2 733.8 246.7 732.9 247.3 732.1 247.9 731.2 248.5 730.4 249.1 729.5 249.8 728.6 250.7 727.6 251.5 726.7 252.5 725.7 253.4 724.8 254.3 723.8 255.2 722.9 256.0 721.9 256.7 721.0 257.5 720.1 258.2 719.3 258.9 718.4 259.6 717.5 260.3 716.6 260.9 715.8 261.3 714.9 261.7 714.0 262.0 713.1 262.3 712.3 262.6 711.4 262.8 710.5 263.0 709.6 263.2 708.8 263.4 707.9 263.5 707.0 263.5 706.1 263.5 705.2 263.3 704.2 263.2 703.3 262.9 702.3 262.7 701.3 262.4 700.4 262.1 699.4 261.8 698.5 261.5 697.6 261.2 696.8 260.9 695.9 260.5 695.1 260.1 694.2 259.7 693.4 259.2 692.5 258.8 691.7 258.3 690.8 257.8 690.0 257.3 689.1 256.7 688.2 256.1 687.3 255.5 686.4 254.9 685.6 254.3 684.7 253.6 683.8 253.0 682.9 252.3 682.0 251.5 681.0 250.7 680.1 249.8 679.1 249.0 678.2 248.2 677.2 247.5 676.2 246.9 675.3 246.4 674.4 245.8 673.5 245.3 672.7 244.8 671.8 244.4 670.9 243.9 670.0 243.6 669.2 243.2 668.3 243.0 667.4 242.8 666.5 242.6 665.7 242.5 664.8 242.4 663.9 242.3 663.1 242.1 662.2 242.0 661.3 241.9 660.5 240.3 660.5 240.2 661.3 240.1 662.2 239.9 663.1 239.8 663.9 239.7 664.8 239.6 665.7 239.4 666.5 239.2 667.4 239.0 668.3 238.6 669.2 238.3 670.0 237.8 670.9 237.4 671.8 236.9 672.7 236.4 673.5 235.8 674.4 235.3 675.3 234.7 676.2 234.0 677.2 233.2 678.2 232.4 679.1 231.5 680.1 230.7 681.0 229.9 682.0 229.2 682.9 228.6 683.8 227.9 684.7 227.3 685.6 226.7 686.4 226.1 687.3 225.5 688.2 224.9 689.1 224.4 690.0 223.9 690.8 223.4 691.7 223.0 692.5 222.5 693.4 222.1 694.2 221.7 695.1 221.3 695.9 221.0 696.8 220.7 697.6 220.4 698.5 220.1 699.4 219.8 700.4 219.5 701.3 219.3 702.3 219.0 703.3 218.9 704.2 218.7 705.2 218.7 706.1 218.7 707.0 218.8 707.9 219.0 708.8 219.2 709.6 219.4 710.5 219.6 711.4 219.9 712.3 220.2 713.1 220.5 714.0 220.9 714.9 221.3 715.8 221.9 716.6 222.6 717.5 223.3 718.4 224.0 719.3 224.7 720.1 225.5 721.0 226.2 721.9 227.0 722.9 227.9 723.8 228.8 724.8 229.7 725.7 230.7 726.7 231.5 727.6 232.4 728.6 233.1 729.5 233.7 730.4 234.3 731.2 234.9 732.1 235.5 732.9 236.0 733.8 236.5 734.6 236.9 735.5 237.3 736.3 237.6 737.2 237.9 738.1 238.1 738.9 238.3 739.8 238.5 740.7 238.7 741.6 238.9 742.5 239.0 743.3 239.1 744.2 239.2 745.1 239.3 746.0 239.3 746.9 239.3 747.8 239.4 748.7 239.4 749.6 239.4 750.6 239.5 751.5 239.5 752.4 239.5 753.3 239.5 754.2 239.5 755.1 239.6 756.0 239.6 757.0 239.6 757.9 239.6 758.8 239.7 759.7 239.7 760.6 239.7 761.5 239.8 762.4 239.8 763.3 239.8 764.3 239.9 765.2 239.9 766.1 240.0 767.0 240.0 767.9 240.0 768.8 240.1 769.7 240.1 770.6 240.1 771.5 240.2 772.5 240.2 773.4 240.3 774.3 240.3 775.2Z"/></defs><use href="#vN0" fill="#a9dcea"/>
<defs><path id="vN1" d="M298.4 775.2 298.4 774.3 298.5 773.4 298.5 772.5 298.6 771.5 298.6 770.6 298.6 769.7 298.7 768.8 298.7 767.9 298.7 767.0 298.8 766.1 298.8 765.2 298.9 764.3 298.9 763.3 298.9 762.4 299.0 761.5 299.0 760.6 299.0 759.7 299.1 758.8 299.1 757.9 299.1 757.0 299.1 756.0 299.1 755.1 299.2 754.2 299.2 753.3 299.2 752.4 299.2 751.5 299.3 750.6 299.3 749.6 299.3 748.7 299.4 747.8 299.4 746.9 299.4 746.0 299.5 745.1 299.6 744.2 299.8 743.3 300.0 742.5 300.3 741.6 300.7 740.7 301.0 739.8 301.4 738.9 301.9 738.1 302.3 737.2 302.8 736.3 303.4 735.5 304.0 734.6 304.7 733.8 305.5 732.9 306.3 732.1 307.1 731.2 307.8 730.4 308.5 729.5 309.2 728.7 309.9 727.8 310.6 727.0 311.2 726.1 311.9 725.3 312.6 724.4 313.2 723.6 313.8 722.7 314.3 721.9 314.8 721.0 315.3 720.1 315.8 719.3 316.3 718.4 316.8 717.5 317.2 716.6 317.6 715.8 317.9 714.9 318.2 714.0 318.5 713.1 318.8 712.3 319.0 711.4 319.3 710.5 319.5 709.6 319.7 708.8 319.9 707.9 320.0 707.0 320.0 706.1 319.9 705.2 319.7 704.3 319.3 703.4 319.0 702.5 318.6 701.6 318.3 700.7 317.9 699.9 317.5 699.0 317.1 698.2 316.7 697.3 316.2 696.5 315.8 695.6 315.3 694.8 314.9 693.9 314.5 693.1 314.0 692.2 313.6 691.3 313.1 690.4 312.6 689.6 312.2 688.7 311.7 687.8 311.1 686.9 310.6 686.0 310.0 685.2 309.4 684.3 308.7 683.5 308.1 682.6 307.4 681.8 306.7 680.9 306.0 680.1 305.3 679.2 304.7 678.4 304.1 677.5 303.4 676.6 302.7 675.8 302.1 674.9 301.5 674.0 300.9 673.1 300.4 672.3 300.0 671.4 299.7 670.5 299.5 669.7 299.3 668.8 299.2 668.0 299.1 667.2 298.9 666.3 298.8 665.5 296.4 665.5 296.3 666.3 296.1 667.2 296.0 668.0 295.9 668.8 295.7 669.7 295.5 670.5 295.2 671.4 294.8 672.3 294.3 673.1 293.7 674.0 293.1 674.9 292.5 675.8 291.8 676.6 291.1 677.5 290.5 678.4 289.9 679.2 289.2 680.1 288.5 680.9 287.8 681.8 287.1 682.6 286.5 683.5 285.8 684.3 285.2 685.2 284.6 686.0 284.1 686.9 283.5 687.8 283.0 688.7 282.6 689.6 282.1 690.4 281.6 691.3 281.2 692.2 280.7 693.1 280.3 693.9 279.9 694.8 279.4 695.6 279.0 696.5 278.5 697.3 278.1 698.2 277.7 699.0 277.3 699.9 276.9 700.7 276.6 701.6 276.2 702.5 275.9 703.4 275.5 704.3 275.3 705.2 275.2 706.1 275.2 707.0 275.3 707.9 275.5 708.8 275.7 709.6 275.9 710.5 276.2 711.4 276.4 712.3 276.7 713.1 277.0 714.0 277.3 714.9 277.6 715.8 278.0 716.6 278.4 717.5 278.9 718.4 279.4 719.3 279.9 720.1 280.4 721.0 280.9 721.9 281.4 722.7 282.0 723.6 282.6 724.4 283.3 725.3 284.0 726.1 284.6 727.0 285.3 727.8 286.0 728.7 286.7 729.5 287.4 730.4 288.1 731.2 288.9 732.1 289.7 732.9 290.5 733.8 291.2 734.6 291.8 735.5 292.4 736.3 292.9 737.2 293.3 738.1 293.8 738.9 294.2 739.8 294.5 740.7 294.9 741.6 295.2 742.5 295.4 743.3 295.6 744.2 295.7 745.1 295.8 746.0 295.8 746.9 295.8 747.8 295.9 748.7 295.9 749.6 295.9 750.6 296.0 751.5 296.0 752.4 296.0 753.3 296.0 754.2 296.1 755.1 296.1 756.0 296.1 757.0 296.1 757.9 296.1 758.8 296.2 759.7 296.2 760.6 296.2 761.5 296.3 762.4 296.3 763.3 296.3 764.3 296.4 765.2 296.4 766.1 296.5 767.0 296.5 767.9 296.5 768.8 296.6 769.7 296.6 770.6 296.6 771.5 296.7 772.5 296.7 773.4 296.8 774.3 296.8 775.2Z"/></defs><use href="#vN1" fill="#f3a69b"/>
<path d="M255.7 691.9h2M252.4 734.0h2M227.9 678.8h2M253.0 694.0h2M224.6 725.9h2M251.4 707.3h2M252.3 705.0h2M228.0 703.6h2M250.5 739.6h2M232.6 721.0h2M223.7 716.0h2M223.7 696.9h2M256.3 688.6h2M224.3 735.9h2M224.7 705.1h2M229.7 695.2h2M225.5 704.1h2M227.5 683.7h2M242.2 684.8h2M235.1 702.1h2M233.6 713.0h2M251.1 761.0h2M241.4 695.8h2M255.0 709.4h2M227.9 700.0h2M226.4 749.0h2M244.6 732.1h2M248.0 688.8h2M224.9 750.3h2M234.7 706.8h2M231.8 687.4h2M226.1 735.7h2M246.4 709.2h2M235.3 741.3h2" stroke="rgb(91,192,222)" stroke-opacity="0.33" stroke-width="2" fill="none"/>
<path d="M254.7 714.3h2M229.9 708.7h2M239.2 723.1h2M245.7 741.8h2M223.8 696.9h2M245.7 714.7h2M237.5 710.3h2M227.0 691.2h2M231.6 700.9h2M229.3 689.9h2M244.5 687.6h2M254.5 698.6h2M242.9 710.6h2M251.2 670.7h2M236.9 695.9h2M231.0 736.1h2M247.2 707.9h2M224.1 734.1h2M243.1 705.1h2M225.7 701.3h2M223.4 688.9h2M230.7 693.6h2M257.0 739.9h2M234.0 691.9h2M225.8 738.8h2M242.1 717.5h2M242.4 727.9h2M224.9 712.6h2M225.2 744.3h2M226.5 717.9h2M241.8 714.6h2M247.7 735.7h2M254.1 706.6h2M229.1 715.6h2" stroke="rgb(91,192,222)" stroke-opacity="0.33" stroke-width="2" fill="none"/>
<path d="M245.4 742.6h2M243.3 705.7h2M232.4 717.5h2M244.7 689.9h2M238.9 694.7h2M239.7 700.2h2M228.5 710.6h2M240.4 710.0h2M245.1 708.8h2M233.6 712.2h2M255.9 689.7h2M239.3 684.1h2M239.9 699.4h2M233.8 718.4h2M248.1 736.6h2M245.6 716.2h2M236.8 686.0h2M250.0 713.9h2M245.7 772.1h2M225.0 693.4h2M240.5 675.7h2M224.4 713.4h2M246.9 739.2h2M229.1 703.2h2M239.1 696.5h2M223.2 740.1h2M237.7 715.2h2M224.0 690.7h2M252.8 681.0h2M239.1 738.4h2M244.7 702.8h2M248.5 705.2h2M223.2 740.3h2" stroke="rgb(91,192,222)" stroke-opacity="0.33" stroke-width="2" fill="none"/>
<path d="M248.5 714.7h2M229.4 669.3h2M251.5 723.1h2M244.0 671.3h2M234.6 758.0h2M248.1 682.5h2M236.8 714.9h2M252.2 708.5h2M236.4 701.7h2M243.2 740.7h2M247.1 703.2h2M223.4 720.8h2M231.0 727.5h2M254.3 698.8h2M232.4 699.9h2M228.2 731.1h2M256.0 676.7h2M240.3 699.2h2M255.4 729.6h2M254.5 718.7h2M227.2 693.1h2M246.3 702.9h2M238.7 704.8h2M229.3 682.5h2M230.0 706.7h2M238.4 732.5h2M229.3 697.3h2M226.6 694.1h2M239.6 685.3h2M243.2 704.5h2M232.3 687.6h2M251.1 689.2h2M226.1 688.4h2" stroke="rgb(91,192,222)" stroke-opacity="0.33" stroke-width="2" fill="none"/>
<path d="M251.2 710.7h2M245.2 716.2h2M252.5 691.4h2M235.6 683.6h2M229.0 705.0h2M232.1 710.1h2M250.8 694.1h2M233.6 722.1h2M249.1 706.1h2M238.6 691.8h2M254.0 723.9h2M251.3 704.6h2M235.0 691.7h2M256.4 717.2h2M246.6 694.5h2M249.0 689.9h2M227.2 694.5h2M252.7 735.8h2M243.4 707.0h2M255.8 696.5h2M230.2 694.9h2M231.1 724.0h2M253.8 727.8h2M250.9 716.3h2M226.3 715.3h2M245.5 742.1h2M242.6 687.0h2M251.2 688.7h2M251.9 704.4h2M255.0 694.5h2M226.2 703.3h2M242.8 719.3h2M233.2 675.4h2" stroke="rgb(91,192,222)" stroke-opacity="0.33" stroke-width="2" fill="none"/>
<path d="M242.4 748.8h2M244.0 734.2h2M229.5 694.9h2M235.1 713.5h2M252.9 687.5h2M256.8 726.0h2M224.8 699.5h2M231.3 707.5h2M243.4 719.3h2M244.5 744.5h2M236.8 738.1h2M231.2 709.7h2M247.5 776.1h2M256.6 704.3h2M228.9 765.5h2M255.6 704.1h2M246.3 713.3h2M223.9 707.4h2M253.3 734.3h2M239.5 701.4h2M227.1 742.8h2M225.1 693.1h2M235.5 696.7h2M234.7 720.8h2M230.2 705.8h2M244.3 729.8h2M234.8 726.5h2M225.8 741.4h2M224.0 682.8h2M256.6 691.9h2M230.0 716.9h2M233.8 726.0h2M239.7 702.1h2" stroke="rgb(91,192,222)" stroke-opacity="0.33" stroke-width="2" fill="none"/>
<path d="M251.6 700.4h2M229.6 719.6h2M227.0 699.8h2M253.7 681.6h2M252.6 710.2h2M231.0 696.0h2M223.1 704.2h2M230.7 694.2h2M246.2 718.5h2M235.6 688.6h2M241.7 766.9h2M236.3 718.3h2M224.8 712.3h2M256.8 722.5h2M235.5 730.0h2M227.8 690.7h2M226.3 695.2h2M242.2 758.5h2M225.5 707.3h2M241.0 698.7h2M228.3 694.0h2M236.9 748.9h2M229.2 669.2h2M226.9 705.1h2M224.4 716.8h2M234.3 722.1h2M242.5 697.1h2M242.4 719.7h2M230.4 700.4h2M239.4 687.8h2M234.9 720.2h2M242.4 675.7h2M247.3 693.2h2" stroke="rgb(91,192,222)" stroke-opacity="0.33" stroke-width="2" fill="none"/>
<path d="M239.4 689.5h2M230.6 726.9h2M230.6 689.8h2M237.6 707.9h2M247.7 725.7h2M232.9 724.6h2M225.0 706.3h2M229.5 690.8h2M248.1 707.6h2M240.0 716.2h2M228.1 715.3h2M247.4 677.5h2M247.4 707.8h2M239.0 719.6h2M235.2 667.3h2M237.0 765.3h2M237.6 715.5h2M229.9 695.5h2M233.4 681.9h2M234.5 724.4h2M229.6 735.3h2M223.9 706.9h2M229.9 721.4h2M234.1 716.4h2M255.0 742.3h2M247.7 697.5h2M235.7 737.8h2M253.0 750.5h2M245.8 697.2h2M251.3 692.4h2M240.6 715.7h2M256.1 688.5h2M226.9 706.9h2" stroke="rgb(91,192,222)" stroke-opacity="0.33" stroke-width="2" fill="none"/>
<path d="M296.1 712.3h2M284.6 708.0h2M299.4 712.9h2M285.9 721.1h2M295.7 724.8h2M294.5 728.0h2M294.9 698.9h2M311.8 686.4h2M281.9 691.2h2M299.4 717.6h2M305.0 762.3h2M304.9 698.1h2M300.9 715.1h2M312.8 731.0h2M295.7 707.7h2M312.1 721.4h2M284.4 713.5h2M308.5 687.1h2M284.4 712.3h2M282.9 701.8h2M283.3 744.4h2M299.6 719.3h2M287.0 686.8h2M303.3 722.4h2M307.3 729.1h2M312.8 687.3h2M287.7 711.2h2M286.6 698.7h2M306.5 720.0h2M308.8 714.1h2M303.1 719.3h2M313.3 700.0h2" stroke="rgb(235,80,60)" stroke-opacity="0.33" stroke-width="2" fill="none"/>
<path d="M285.4 725.4h2M279.7 730.7h2M310.1 703.2h2M309.1 692.7h2M285.4 726.0h2M288.5 757.0h2M297.4 701.7h2M309.5 682.2h2M296.5 726.6h2M288.8 723.3h2M308.9 699.0h2M281.5 691.6h2M304.0 683.5h2M284.3 699.5h2M285.1 755.7h2M305.2 715.5h2M305.2 680.8h2M284.7 717.0h2M288.1 720.8h2M281.2 722.3h2M289.8 722.9h2M302.1 705.9h2M281.4 683.0h2M285.9 701.8h2M302.7 691.8h2M300.9 730.5h2M303.6 737.9h2M309.7 724.0h2M294.6 732.0h2M307.7 759.6h2M305.2 684.6h2M290.2 695.5h2" stroke="rgb(235,80,60)" stroke-opacity="0.33" stroke-width="2" fill="none"/>
<path d="M293.7 712.1h2M309.4 674.1h2M294.7 691.2h2M281.2 703.5h2M307.7 710.0h2M301.3 760.7h2M313.0 705.0h2M296.4 699.2h2M295.6 721.4h2M297.4 681.5h2M294.1 671.8h2M294.0 749.1h2M288.2 691.9h2M292.6 693.6h2M294.4 693.0h2M283.0 704.9h2M305.5 701.6h2M285.8 711.4h2M281.9 717.2h2M312.2 713.8h2M288.2 695.6h2M292.0 700.1h2M279.7 730.6h2M294.6 678.2h2M308.4 717.3h2M313.3 714.5h2M290.1 702.4h2M300.2 702.7h2M301.2 688.1h2M300.0 728.4h2M283.6 716.6h2M285.1 704.4h2" stroke="rgb(235,80,60)" stroke-opacity="0.33" stroke-width="2" fill="none"/>
<path d="M299.6 711.0h2M311.1 711.2h2M303.4 705.3h2M307.1 702.4h2M291.3 727.0h2M292.8 731.9h2M291.8 694.3h2M282.1 733.5h2M298.6 697.1h2M303.3 694.6h2M299.3 678.6h2M281.6 728.0h2M284.7 697.4h2M304.2 701.1h2M284.9 696.1h2M292.7 731.8h2M286.0 697.6h2M287.0 676.7h2M305.4 701.7h2M303.6 716.9h2M289.8 722.0h2M291.4 721.4h2M283.3 689.5h2M310.4 702.9h2M294.9 745.2h2M287.5 721.6h2M287.4 672.8h2M298.1 711.2h2M297.4 737.3h2M282.8 697.6h2M283.3 729.7h2M282.9 690.4h2" stroke="rgb(235,80,60)" stroke-opacity="0.33" stroke-width="2" fill="none"/>
<path d="M280.4 706.7h2M306.4 704.5h2M286.6 715.5h2M307.7 674.3h2M282.3 735.6h2M284.6 697.0h2M309.9 687.8h2M306.4 703.8h2M290.9 712.0h2M311.9 721.1h2M295.8 691.2h2M302.8 761.8h2M300.9 733.9h2M285.2 761.0h2M292.5 706.6h2M287.0 714.7h2M306.5 724.5h2M302.7 705.4h2M296.8 757.4h2M289.5 682.5h2M284.2 711.6h2M283.8 740.0h2M313.2 731.3h2M291.1 701.4h2M300.6 700.7h2M296.3 712.2h2M300.1 686.0h2M307.4 705.9h2M311.5 698.1h2M303.4 725.1h2M307.8 682.5h2M292.8 672.5h2" stroke="rgb(235,80,60)" stroke-opacity="0.33" stroke-width="2" fill="none"/>
<path d="M288.0 696.1h2M306.2 725.6h2M298.5 751.4h2M301.7 708.4h2M286.5 711.7h2M293.1 724.4h2M302.8 687.4h2M295.4 722.9h2M296.3 693.0h2M295.0 682.1h2M290.8 710.5h2M307.1 713.6h2M286.6 700.7h2M287.7 716.0h2M301.9 701.4h2M292.4 750.0h2M293.0 706.7h2M291.6 716.9h2M300.9 728.0h2M309.6 735.6h2M308.5 715.6h2M302.9 697.5h2M280.6 725.8h2M311.5 690.4h2M307.8 697.3h2M280.3 696.9h2M312.0 693.0h2M283.0 713.2h2M303.8 718.6h2M295.0 715.2h2M302.0 696.4h2M282.5 714.1h2" stroke="rgb(235,80,60)" stroke-opacity="0.33" stroke-width="2" fill="none"/>
<path d="M313.4 714.6h2M305.0 737.7h2M302.8 706.3h2M294.2 700.7h2M306.4 723.4h2M283.8 691.7h2M309.7 722.7h2M303.3 729.6h2M288.5 751.0h2M284.2 712.7h2M301.9 721.9h2M302.6 734.9h2M296.0 720.5h2M284.8 705.6h2M286.2 691.7h2M304.4 674.9h2M299.2 697.5h2M286.2 728.2h2M298.5 776.1h2M296.6 698.2h2M282.9 679.6h2M286.0 693.4h2M295.7 703.1h2M294.2 763.4h2M295.0 705.9h2M307.0 694.6h2M300.2 713.6h2M307.5 699.4h2M292.4 719.7h2M280.3 760.7h2M298.6 754.7h2M285.7 729.4h2" stroke="rgb(235,80,60)" stroke-opacity="0.33" stroke-width="2" fill="none"/>
<path d="M289.6 706.5h2M290.3 699.8h2M304.4 683.3h2M311.2 700.4h2M294.9 748.3h2M279.8 715.2h2M287.1 712.9h2M289.2 692.5h2M300.1 720.1h2M307.4 683.9h2M291.8 710.8h2M282.4 705.5h2M283.7 742.1h2M306.7 683.4h2M298.2 758.9h2M286.7 713.3h2M282.9 695.5h2M304.3 714.5h2M292.1 681.8h2M313.2 718.5h2M287.4 701.6h2M299.7 746.2h2M305.1 709.8h2M300.5 721.0h2M295.4 721.7h2M303.7 692.7h2M295.4 731.0h2M279.9 689.7h2M295.7 705.8h2M297.8 705.8h2M301.5 721.6h2M280.2 728.5h2" stroke="rgb(235,80,60)" stroke-opacity="0.33" stroke-width="2" fill="none"/>
<use href="#vN0" fill="none" stroke="#000" stroke-width="1.05"/>
<use href="#vN1" fill="none" stroke="#000" stroke-width="1.05"/>
<line x1="231.40" y1="708.75" x2="250.80" y2="708.75" stroke="#000" stroke-width="1.25"/>
<rect x="237.00" y="707.40" width="8.2" height="2.70" fill="#1a1a1a" fill-opacity="0.85"/>
<line x1="241.10" y1="707.40" x2="241.10" y2="710.10" stroke="#000" stroke-width="0.6"/>
<line x1="287.90" y1="708.75" x2="307.30" y2="708.75" stroke="#000" stroke-width="1.25"/>
<rect x="293.50" y="707.40" width="8.2" height="2.70" fill="#1a1a1a" fill-opacity="0.85"/>
<line x1="297.60" y1="707.40" x2="297.60" y2="710.10" stroke="#000" stroke-width="0.6"/>
<path d="M207.80,651.50 L207.80,781.30 L330.90,781.30" fill="none" stroke="#111" stroke-width="0.9"/>
<line x1="205.00" y1="764.20" x2="207.80" y2="764.20" stroke="#111" stroke-width="0.8"/>
<text x="202.30" y="766.51" font-size="6.6" text-anchor="end" fill="#222">1</text>
<line x1="205.00" y1="740.30" x2="207.80" y2="740.30" stroke="#111" stroke-width="0.8"/>
<text x="202.30" y="742.61" font-size="6.6" text-anchor="end" fill="#222">2</text>
<line x1="205.00" y1="716.40" x2="207.80" y2="716.40" stroke="#111" stroke-width="0.8"/>
<text x="202.30" y="718.71" font-size="6.6" text-anchor="end" fill="#222">3</text>
<line x1="205.00" y1="692.50" x2="207.80" y2="692.50" stroke="#111" stroke-width="0.8"/>
<text x="202.30" y="694.81" font-size="6.6" text-anchor="end" fill="#222">4</text>
<line x1="205.00" y1="668.60" x2="207.80" y2="668.60" stroke="#111" stroke-width="0.8"/>
<text x="202.30" y="670.91" font-size="6.6" text-anchor="end" fill="#222">5</text>
<line x1="241.10" y1="781.30" x2="241.10" y2="784.10" stroke="#111" stroke-width="0.8"/>
<text x="241.10" y="791.70" font-size="6.6" text-anchor="middle" fill="#222">Stage I&amp;Stage II</text>
<line x1="297.60" y1="781.30" x2="297.60" y2="784.10" stroke="#111" stroke-width="0.8"/>
<text x="297.60" y="791.70" font-size="6.6" text-anchor="middle" fill="#222">Stage III&amp;Stage IV</text>
<text x="240.51" y="801.50" font-size="8.6" textLength="57.67" lengthAdjust="spacingAndGlyphs" fill="#111">Pathologic stage</text>
<text transform="translate(183.20,716.40) rotate(-90)" font-size="7.8" text-anchor="middle" fill="#111">The expression of TMC6</text>
<text transform="translate(191.50,741.00) rotate(-90)" font-size="8.4" fill="#111">Log<tspan font-size="6" dy="2.3">2</tspan><tspan font-size="7.6" dy="-2.3"> (TPM+1)</tspan></text>
<path d="M241.10,660.80 L241.10,658.30 L297.60,658.30 L297.60,660.80" fill="none" stroke="#111" stroke-width="0.85"/>
<text x="259.52" y="656.50" font-size="6.3" textLength="19.67" lengthAdjust="spacingAndGlyphs" fill="#222">p = 0.65</text>
<text x="360.5" y="635.8" font-size="19.0" >O</text>
<defs><path id="vO0" d="M418.5 774.7 418.8 773.9 419.0 773.2 419.3 772.4 419.5 771.7 419.8 770.9 420.0 770.2 420.3 769.4 420.6 768.7 420.8 767.9 421.1 767.2 421.4 766.4 421.7 765.7 422.0 765.0 422.3 764.2 422.6 763.5 422.9 762.8 423.2 762.0 423.6 761.3 423.9 760.5 424.2 759.8 424.5 759.1 424.8 758.3 425.1 757.6 425.4 756.9 425.8 756.1 426.1 755.4 426.4 754.6 426.7 753.9 427.1 753.2 427.5 752.5 427.8 751.8 428.2 751.1 428.6 750.4 429.0 749.7 429.5 749.0 429.9 748.3 430.3 747.6 430.7 746.9 431.1 746.1 431.6 745.4 432.0 744.6 432.5 743.9 433.0 743.2 433.4 742.4 433.8 741.7 434.2 741.0 434.5 740.2 434.8 739.5 435.1 738.7 435.4 738.0 435.7 737.3 435.9 736.5 436.2 735.8 436.4 735.1 436.5 734.3 436.6 733.6 436.7 732.9 436.7 732.2 436.8 731.5 436.8 730.8 436.8 730.1 436.9 729.4 436.9 728.7 436.9 728.0 436.9 727.3 436.9 726.5 436.8 725.8 436.7 725.0 436.6 724.3 436.5 723.6 436.3 722.8 436.1 722.1 436.0 721.4 435.8 720.6 435.6 719.9 435.4 719.1 435.1 718.4 434.8 717.7 434.5 716.9 434.2 716.2 433.9 715.5 433.5 714.7 433.2 714.0 432.9 713.3 432.5 712.6 432.1 711.9 431.8 711.2 431.4 710.5 431.0 709.8 430.6 709.1 430.2 708.4 429.9 707.7 429.6 706.9 429.2 706.2 428.9 705.5 428.6 704.7 428.3 704.0 428.0 703.2 427.7 702.5 427.4 701.8 427.1 701.0 426.8 700.3 426.5 699.6 426.3 698.9 426.0 698.2 425.7 697.5 425.5 696.8 425.2 696.1 424.9 695.4 424.6 694.7 424.3 694.0 423.9 693.2 423.6 692.5 423.2 691.8 422.8 691.0 422.5 690.3 422.1 689.6 421.8 688.8 421.5 688.1 421.2 687.3 420.9 686.6 420.7 685.8 420.4 685.0 420.2 684.3 420.0 683.5 419.7 682.8 419.5 682.0 419.2 681.3 419.0 680.5 416.4 680.5 416.2 681.3 415.9 682.0 415.7 682.8 415.4 683.5 415.2 684.3 415.0 685.0 414.7 685.8 414.5 686.6 414.2 687.3 413.9 688.1 413.6 688.8 413.3 689.6 412.9 690.3 412.6 691.0 412.2 691.8 411.8 692.5 411.5 693.2 411.1 694.0 410.8 694.7 410.5 695.4 410.2 696.1 409.9 696.8 409.7 697.5 409.4 698.2 409.1 698.9 408.9 699.6 408.6 700.3 408.3 701.0 408.0 701.8 407.7 702.5 407.4 703.2 407.1 704.0 406.8 704.7 406.5 705.5 406.2 706.2 405.8 706.9 405.5 707.7 405.2 708.4 404.8 709.1 404.4 709.8 404.0 710.5 403.6 711.2 403.3 711.9 402.9 712.6 402.5 713.3 402.2 714.0 401.9 714.7 401.5 715.5 401.2 716.2 400.9 716.9 400.6 717.7 400.3 718.4 400.0 719.1 399.8 719.9 399.6 720.6 399.4 721.4 399.3 722.1 399.1 722.8 398.9 723.6 398.8 724.3 398.7 725.0 398.6 725.8 398.5 726.5 398.5 727.3 398.5 728.0 398.5 728.7 398.5 729.4 398.6 730.1 398.6 730.8 398.6 731.5 398.7 732.2 398.7 732.9 398.8 733.6 398.9 734.3 399.0 735.1 399.2 735.8 399.5 736.5 399.7 737.3 400.0 738.0 400.3 738.7 400.6 739.5 400.9 740.2 401.2 741.0 401.6 741.7 402.0 742.4 402.4 743.2 402.9 743.9 403.4 744.6 403.8 745.4 404.3 746.1 404.7 746.9 405.1 747.6 405.5 748.3 405.9 749.0 406.4 749.7 406.8 750.4 407.2 751.1 407.6 751.8 407.9 752.5 408.3 753.2 408.7 753.9 409.0 754.6 409.3 755.4 409.6 756.1 410.0 756.9 410.3 757.6 410.6 758.3 410.9 759.1 411.2 759.8 411.5 760.5 411.8 761.3 412.2 762.0 412.5 762.8 412.8 763.5 413.1 764.2 413.4 765.0 413.7 765.7 414.0 766.4 414.3 767.2 414.6 767.9 414.8 768.7 415.1 769.4 415.4 770.2 415.6 770.9 415.9 771.7 416.1 772.4 416.4 773.2 416.6 773.9 416.9 774.7Z"/></defs><use href="#vO0" fill="#a9dcea"/>
<defs><path id="vO1" d="M474.7 775.9 475.1 775.0 475.5 774.0 475.9 773.1 476.3 772.1 476.8 771.2 477.3 770.3 477.9 769.5 478.5 768.6 479.1 767.8 479.8 766.9 480.4 766.0 481.0 765.2 481.6 764.3 482.1 763.5 482.7 762.6 483.3 761.7 483.9 760.9 484.5 760.0 485.1 759.2 485.9 758.2 486.7 757.3 487.6 756.3 488.5 755.4 489.3 754.4 490.1 753.5 490.8 752.6 491.5 751.8 492.2 750.9 492.9 750.1 493.5 749.2 494.1 748.3 494.5 747.5 494.9 746.6 495.3 745.8 495.7 744.9 496.0 744.1 496.3 743.2 496.4 742.3 496.5 741.5 496.5 740.6 496.4 739.7 496.3 738.9 496.2 738.0 496.0 737.1 495.8 736.1 495.5 735.2 495.1 734.2 494.8 733.3 494.4 732.3 494.1 731.5 493.7 730.6 493.3 729.7 492.9 728.9 492.5 728.0 492.1 727.2 491.7 726.3 491.3 725.5 490.9 724.6 490.5 723.7 490.1 722.9 489.7 722.0 489.2 721.2 488.8 720.3 488.3 719.4 487.8 718.4 487.3 717.5 486.7 716.5 486.2 715.6 485.7 714.6 485.2 713.8 484.8 712.9 484.4 712.0 483.9 711.2 483.5 710.3 483.0 709.5 482.6 708.6 482.1 707.8 481.7 706.9 481.2 706.0 480.8 705.2 480.3 704.3 479.9 703.5 479.4 702.6 478.9 701.7 478.3 700.7 477.7 699.8 477.2 698.8 476.7 697.9 476.3 696.9 476.0 696.0 475.7 695.2 475.4 694.3 475.1 693.4 474.9 692.5 474.7 691.7 474.5 690.9 474.4 690.1 474.3 689.3 474.2 688.5 474.2 687.8 474.2 687.0 474.1 686.2 474.1 685.2 474.1 684.3 474.1 683.4 474.1 682.4 474.1 681.5 474.1 680.6 474.1 679.6 474.1 678.7 474.1 677.7 474.1 676.8 474.1 675.9 474.1 674.9 474.1 674.0 474.1 673.1 474.1 672.1 474.1 671.2 474.1 670.3 474.1 669.3 474.1 668.4 474.1 667.4 474.1 666.5 474.1 665.6 474.1 664.6 474.1 663.7 474.1 662.8 474.1 661.8 474.1 660.9 474.0 660.0 473.8 660.0 473.7 660.9 473.7 661.8 473.7 662.8 473.7 663.7 473.7 664.6 473.7 665.6 473.7 666.5 473.7 667.4 473.7 668.4 473.7 669.3 473.7 670.3 473.7 671.2 473.7 672.1 473.7 673.1 473.7 674.0 473.7 674.9 473.7 675.9 473.7 676.8 473.7 677.7 473.7 678.7 473.7 679.6 473.7 680.6 473.7 681.5 473.7 682.4 473.7 683.4 473.7 684.3 473.7 685.2 473.6 686.2 473.6 687.0 473.6 687.8 473.6 688.5 473.5 689.3 473.4 690.1 473.3 690.9 473.1 691.7 472.9 692.5 472.7 693.4 472.4 694.3 472.1 695.2 471.8 696.0 471.5 696.9 471.1 697.9 470.6 698.8 470.1 699.8 469.5 700.7 468.9 701.7 468.4 702.6 467.9 703.5 467.5 704.3 467.0 705.2 466.6 706.0 466.1 706.9 465.7 707.8 465.2 708.6 464.8 709.5 464.3 710.3 463.9 711.2 463.4 712.0 463.0 712.9 462.6 713.8 462.1 714.6 461.6 715.6 461.1 716.5 460.5 717.5 460.0 718.4 459.5 719.4 459.0 720.3 458.6 721.2 458.1 722.0 457.7 722.9 457.3 723.7 456.9 724.6 456.5 725.5 456.1 726.3 455.7 727.2 455.3 728.0 454.9 728.9 454.5 729.7 454.1 730.6 453.7 731.5 453.4 732.3 453.0 733.3 452.7 734.2 452.3 735.2 452.0 736.1 451.8 737.1 451.6 738.0 451.5 738.9 451.4 739.7 451.3 740.6 451.3 741.5 451.4 742.3 451.5 743.2 451.8 744.1 452.1 744.9 452.5 745.8 452.9 746.6 453.3 747.5 453.7 748.3 454.3 749.2 454.9 750.1 455.6 750.9 456.3 751.8 457.0 752.6 457.7 753.5 458.5 754.4 459.3 755.4 460.2 756.3 461.1 757.3 461.9 758.2 462.7 759.2 463.3 760.0 463.9 760.9 464.5 761.7 465.1 762.6 465.7 763.5 466.2 764.3 466.8 765.2 467.4 766.0 468.0 766.9 468.7 767.8 469.3 768.6 469.9 769.5 470.5 770.3 471.0 771.2 471.5 772.1 471.9 773.1 472.3 774.0 472.7 775.0 473.1 775.9Z"/></defs><use href="#vO1" fill="#f3a69b"/>
<path d="M407.2 744.8h2M409.6 744.2h2M405.0 745.6h2M426.7 725.5h2M405.2 728.8h2M408.4 724.3h2M400.6 725.4h2M423.1 721.6h2M409.8 694.9h2M432.6 722.1h2M419.4 748.8h2M424.7 741.5h2M418.2 725.5h2M419.4 720.7h2M404.1 750.1h2M430.7 685.2h2M407.2 760.6h2M411.4 768.4h2M424.5 737.7h2M402.5 713.1h2M411.6 737.0h2M408.5 737.4h2M429.8 742.9h2M428.0 704.6h2M412.8 724.7h2M416.0 694.6h2M416.5 708.9h2M423.9 723.8h2M405.8 734.3h2M403.1 743.3h2M419.4 684.9h2" stroke="rgb(91,192,222)" stroke-opacity="0.33" stroke-width="2" fill="none"/>
<path d="M405.7 729.0h2M411.1 723.7h2M417.2 737.1h2M417.0 747.7h2M410.5 692.2h2M426.4 721.3h2M404.4 739.6h2M403.2 751.5h2M402.4 726.9h2M413.5 693.9h2M403.4 730.7h2M422.6 743.2h2M425.1 766.0h2M418.1 747.0h2M422.2 705.0h2M401.3 757.7h2M433.4 743.7h2M431.5 734.3h2M433.2 719.8h2M420.8 710.6h2M412.7 729.0h2M429.5 736.1h2M402.6 717.7h2M413.9 681.8h2M413.8 760.5h2M425.6 763.9h2M422.8 713.7h2M404.3 709.7h2M429.8 734.8h2M410.7 748.6h2M420.8 719.9h2" stroke="rgb(91,192,222)" stroke-opacity="0.33" stroke-width="2" fill="none"/>
<path d="M427.1 747.2h2M410.5 735.5h2M422.9 712.7h2M410.1 715.6h2M411.6 756.3h2M405.3 748.1h2M422.0 765.7h2M418.2 742.2h2M400.5 751.9h2M404.3 745.1h2M409.8 723.7h2M414.1 714.1h2M412.4 722.6h2M403.2 755.3h2M407.8 737.6h2M420.0 738.7h2M410.7 693.6h2M415.1 723.8h2M406.3 730.4h2M408.3 724.5h2M407.2 692.0h2M432.7 729.9h2M400.7 738.2h2M421.1 724.7h2M433.3 696.5h2M401.5 744.0h2M432.3 725.9h2M416.9 708.6h2M416.0 704.2h2M409.5 699.1h2M410.2 702.4h2" stroke="rgb(91,192,222)" stroke-opacity="0.33" stroke-width="2" fill="none"/>
<path d="M418.4 746.4h2M411.6 757.9h2M430.5 744.2h2M431.8 723.1h2M424.1 747.9h2M418.8 739.9h2M425.8 717.0h2M402.2 744.3h2M421.2 697.1h2M407.2 726.7h2M413.3 718.6h2M419.9 697.6h2M412.4 728.0h2M427.1 740.8h2M412.6 730.4h2M424.5 699.2h2M408.9 744.1h2M428.6 760.1h2M408.3 737.5h2M413.1 766.5h2M430.9 727.1h2M428.9 726.1h2M411.4 741.5h2M426.8 691.1h2M410.5 726.1h2M420.9 769.6h2M403.9 770.9h2M414.7 702.8h2M412.4 750.0h2M425.1 719.4h2M405.2 743.3h2" stroke="rgb(91,192,222)" stroke-opacity="0.33" stroke-width="2" fill="none"/>
<path d="M414.3 753.3h2M420.0 730.0h2M433.0 718.5h2M400.5 743.8h2M409.5 716.7h2M423.1 725.9h2M413.6 714.3h2M415.9 735.6h2M424.7 695.5h2M406.6 743.2h2M414.5 726.4h2M409.7 718.2h2M420.4 747.1h2M419.2 687.7h2M423.7 755.3h2M414.4 721.3h2M422.2 766.0h2M410.0 726.5h2M419.2 729.0h2M404.9 743.2h2M405.5 715.4h2M411.1 754.3h2M419.3 716.6h2M408.1 711.6h2M410.5 726.9h2M428.5 715.7h2M411.8 701.6h2M407.6 735.2h2M400.9 720.1h2M427.7 766.2h2M399.8 759.6h2" stroke="rgb(91,192,222)" stroke-opacity="0.33" stroke-width="2" fill="none"/>
<path d="M419.6 705.2h2M420.9 738.9h2M431.8 724.2h2M402.5 706.7h2M419.7 716.0h2M410.9 723.4h2M433.3 706.6h2M419.3 739.1h2M417.6 761.1h2M424.4 725.2h2M425.6 713.3h2M402.6 741.9h2M416.4 713.4h2M401.0 715.9h2M413.0 700.2h2M400.2 711.9h2M409.6 705.3h2M412.9 693.1h2M409.2 718.4h2M419.0 712.2h2M417.3 720.0h2M410.7 727.3h2M405.6 738.5h2M427.4 751.7h2M431.8 720.8h2M415.2 725.0h2M415.3 761.0h2M408.3 743.9h2M403.6 731.2h2M428.2 714.8h2M429.5 757.7h2" stroke="rgb(91,192,222)" stroke-opacity="0.33" stroke-width="2" fill="none"/>
<path d="M415.4 748.7h2M425.2 715.0h2M429.3 728.2h2M432.7 710.6h2M427.4 704.3h2M417.1 753.8h2M416.7 719.8h2M413.3 744.7h2M410.8 728.4h2M404.5 682.8h2M407.8 717.0h2M428.5 728.6h2M414.3 753.2h2M428.8 774.7h2M401.1 693.7h2M410.3 713.0h2M407.0 759.7h2M406.1 693.2h2M417.5 769.9h2M401.4 731.1h2M408.0 747.9h2M416.5 709.9h2M410.3 749.4h2M403.2 743.9h2M412.2 727.2h2M407.1 704.6h2M411.5 723.2h2M433.6 731.1h2M426.8 709.3h2M407.9 734.3h2" stroke="rgb(91,192,222)" stroke-opacity="0.33" stroke-width="2" fill="none"/>
<path d="M412.2 721.7h2M410.4 703.0h2M401.1 737.3h2M431.1 723.0h2M423.5 747.9h2M428.4 730.6h2M426.2 696.7h2M401.9 745.6h2M421.9 730.8h2M419.4 742.8h2M432.4 712.8h2M409.3 728.0h2M408.3 724.0h2M412.1 713.9h2M422.8 730.3h2M427.3 737.6h2M428.3 749.6h2M415.7 751.3h2M426.1 737.9h2M411.5 738.1h2M415.2 725.7h2M421.2 715.9h2M427.5 740.7h2M421.8 705.1h2M412.1 729.4h2M422.3 762.7h2M406.6 716.9h2M430.1 767.3h2M404.2 690.5h2M423.6 732.5h2" stroke="rgb(91,192,222)" stroke-opacity="0.33" stroke-width="2" fill="none"/>
<path d="M477.0 717.2h2M467.0 734.7h2M482.2 761.6h2M466.2 726.7h2M488.4 674.9h2M473.5 759.4h2M475.0 730.4h2M473.8 717.9h2M472.4 739.4h2M458.1 709.8h2M456.7 736.9h2M470.6 739.5h2M479.6 737.8h2M486.9 740.9h2M489.1 723.1h2M477.9 743.2h2M481.2 707.7h2M483.0 729.1h2M472.1 741.2h2M473.5 731.8h2M473.9 739.5h2M478.7 757.6h2M478.1 751.6h2M471.3 730.2h2M461.4 701.6h2M489.3 731.9h2M487.5 764.8h2M465.3 723.3h2M475.7 740.8h2M464.3 754.3h2M483.2 762.0h2" stroke="rgb(235,80,60)" stroke-opacity="0.33" stroke-width="2" fill="none"/>
<path d="M475.9 723.4h2M463.6 742.5h2M475.9 711.1h2M478.4 768.5h2M461.5 743.9h2M468.3 741.2h2M470.2 755.8h2M470.7 696.8h2M470.4 721.3h2M483.4 694.4h2M459.1 691.8h2M463.1 745.5h2M467.2 728.6h2M464.9 718.3h2M466.2 720.2h2M459.5 741.9h2M487.9 756.0h2M468.6 761.7h2M477.0 743.0h2M484.2 741.2h2M472.2 749.7h2M477.2 741.0h2M461.8 739.2h2M464.6 756.0h2M458.1 735.4h2M459.2 732.8h2M462.9 749.2h2M460.4 743.7h2M463.4 766.7h2M483.1 759.0h2" stroke="rgb(235,80,60)" stroke-opacity="0.33" stroke-width="2" fill="none"/>
<path d="M475.3 719.6h2M464.3 721.5h2M486.0 750.3h2M469.8 737.8h2M461.2 754.6h2M480.5 724.8h2M464.9 732.0h2M479.5 755.9h2M473.8 732.9h2M474.7 728.3h2M487.9 753.7h2M464.8 736.7h2M470.2 722.0h2M469.5 724.9h2M478.5 714.9h2M473.9 728.1h2M484.7 721.5h2M485.8 740.2h2M464.2 705.1h2M471.8 722.6h2M488.5 725.5h2M486.7 756.9h2M475.9 738.4h2M465.7 749.8h2M472.6 738.6h2M482.9 729.7h2M464.8 706.6h2M469.3 708.3h2M475.6 762.7h2M481.7 748.7h2" stroke="rgb(235,80,60)" stroke-opacity="0.33" stroke-width="2" fill="none"/>
<path d="M487.3 754.9h2M471.0 745.4h2M469.5 710.2h2M459.5 708.9h2M485.9 769.6h2M466.0 742.5h2M479.0 718.0h2M462.9 735.4h2M462.1 748.4h2M468.4 773.0h2M486.0 708.3h2M463.8 746.1h2M471.1 734.0h2M478.9 732.8h2M478.1 741.9h2M461.4 725.3h2M457.6 716.1h2M466.3 760.7h2M484.6 714.8h2M462.2 751.7h2M458.4 737.7h2M489.3 747.7h2M467.0 740.3h2M478.2 754.7h2M457.9 690.4h2M466.7 724.6h2M484.7 709.7h2M478.7 732.5h2M465.7 726.6h2M485.1 746.0h2" stroke="rgb(235,80,60)" stroke-opacity="0.33" stroke-width="2" fill="none"/>
<path d="M473.5 748.5h2M485.9 776.2h2M475.8 723.6h2M457.1 752.0h2M465.3 736.1h2M462.0 755.2h2M462.5 718.4h2M484.4 708.8h2M465.8 728.2h2M478.7 768.8h2M470.2 734.8h2M479.5 758.3h2M480.4 729.7h2M480.7 751.6h2M467.1 773.1h2M484.9 747.3h2M480.8 737.6h2M475.7 716.3h2M488.5 716.1h2M480.5 741.9h2M476.1 714.6h2M468.0 755.3h2M466.0 754.7h2M478.9 734.5h2M481.2 693.6h2M459.4 705.2h2M482.0 725.5h2M465.0 738.0h2M457.0 766.8h2M465.4 726.1h2" stroke="rgb(235,80,60)" stroke-opacity="0.33" stroke-width="2" fill="none"/>
<path d="M461.7 748.2h2M485.3 723.7h2M487.9 750.4h2M477.9 749.0h2M485.6 735.6h2M489.5 743.5h2M479.3 740.1h2M466.3 741.4h2M456.3 729.2h2M485.9 748.1h2M485.7 742.0h2M481.3 740.9h2M468.2 741.3h2M466.9 739.9h2M474.8 739.0h2M484.3 739.0h2M478.5 751.3h2M483.9 752.0h2M479.4 742.9h2M484.6 747.9h2M472.7 757.3h2M489.1 720.2h2M476.7 724.0h2M461.8 743.1h2M486.7 761.9h2M485.8 734.9h2M477.3 731.2h2M479.8 736.0h2M456.6 740.0h2M486.8 730.6h2" stroke="rgb(235,80,60)" stroke-opacity="0.33" stroke-width="2" fill="none"/>
<path d="M479.1 740.2h2M474.4 705.4h2M463.1 753.9h2M481.3 752.0h2M460.3 741.1h2M473.6 750.3h2M459.4 734.4h2M486.1 746.9h2M456.4 714.4h2M475.1 763.4h2M476.2 728.8h2M467.2 706.1h2M479.1 742.0h2M457.7 740.8h2M464.3 746.9h2M468.7 756.7h2M484.1 734.0h2M460.2 758.5h2M459.3 749.5h2M461.2 725.5h2M459.5 761.0h2M471.5 737.8h2M459.9 758.7h2M482.7 721.3h2M487.0 714.3h2M475.6 761.1h2M466.2 728.0h2M466.2 712.8h2M484.8 747.4h2M480.9 746.6h2" stroke="rgb(235,80,60)" stroke-opacity="0.33" stroke-width="2" fill="none"/>
<path d="M477.9 727.2h2M475.0 726.4h2M460.0 731.6h2M483.7 748.9h2M483.5 741.3h2M479.5 769.0h2M457.9 733.6h2M484.1 755.7h2M475.4 771.1h2M460.8 767.9h2M467.5 729.0h2M478.7 748.2h2M470.8 753.0h2M481.4 736.2h2M489.5 660.9h2M473.3 742.3h2M457.0 729.7h2M476.7 750.4h2M484.0 738.4h2M464.5 726.0h2M459.8 746.2h2M470.5 718.0h2M468.7 748.4h2M463.1 755.6h2M458.7 764.1h2M474.7 743.5h2M463.1 764.8h2M458.7 747.2h2M487.1 740.9h2M460.3 753.8h2" stroke="rgb(235,80,60)" stroke-opacity="0.33" stroke-width="2" fill="none"/>
<path d="M473.3 660.9h1.2M473.3 691.8h1.2M473.3 690.4h1.2" stroke="#111" stroke-width="1.0" fill="none"/>
<use href="#vO0" fill="none" stroke="#000" stroke-width="1.05"/>
<use href="#vO1" fill="none" stroke="#000" stroke-width="1.05"/>
<line x1="407.90" y1="729.47" x2="427.50" y2="729.47" stroke="#000" stroke-width="1.25"/>
<rect x="413.60" y="728.12" width="8.2" height="2.70" fill="#1a1a1a" fill-opacity="0.85"/>
<line x1="417.70" y1="728.12" x2="417.70" y2="730.82" stroke="#000" stroke-width="0.6"/>
<line x1="464.30" y1="735.79" x2="483.50" y2="735.79" stroke="#000" stroke-width="1.25"/>
<rect x="469.80" y="734.44" width="8.2" height="2.70" fill="#1a1a1a" fill-opacity="0.85"/>
<line x1="473.90" y1="734.44" x2="473.90" y2="737.14" stroke="#000" stroke-width="0.6"/>
<path d="M384.50,651.50 L384.50,781.30 L507.50,781.30" fill="none" stroke="#111" stroke-width="0.9"/>
<line x1="381.70" y1="779.40" x2="384.50" y2="779.40" stroke="#111" stroke-width="0.8"/>
<text x="379.00" y="781.71" font-size="6.6" text-anchor="end" fill="#222">0</text>
<line x1="381.70" y1="747.80" x2="384.50" y2="747.80" stroke="#111" stroke-width="0.8"/>
<text x="379.00" y="750.11" font-size="6.6" text-anchor="end" fill="#222">1</text>
<line x1="381.70" y1="716.20" x2="384.50" y2="716.20" stroke="#111" stroke-width="0.8"/>
<text x="379.00" y="718.51" font-size="6.6" text-anchor="end" fill="#222">2</text>
<line x1="381.70" y1="684.60" x2="384.50" y2="684.60" stroke="#111" stroke-width="0.8"/>
<text x="379.00" y="686.91" font-size="6.6" text-anchor="end" fill="#222">3</text>
<line x1="381.70" y1="653.00" x2="384.50" y2="653.00" stroke="#111" stroke-width="0.8"/>
<text x="379.00" y="655.31" font-size="6.6" text-anchor="end" fill="#222">4</text>
<line x1="417.70" y1="781.30" x2="417.70" y2="784.10" stroke="#111" stroke-width="0.8"/>
<text x="417.70" y="791.70" font-size="6.6" text-anchor="middle" fill="#222">Stage I&amp;Stage II</text>
<line x1="473.90" y1="781.30" x2="473.90" y2="784.10" stroke="#111" stroke-width="0.8"/>
<text x="473.90" y="791.70" font-size="6.6" text-anchor="middle" fill="#222">Stage III&amp;Stage IV</text>
<text x="417.16" y="801.50" font-size="8.6" textLength="57.67" lengthAdjust="spacingAndGlyphs" fill="#111">Pathologic stage</text>
<text transform="translate(360.00,716.40) rotate(-90)" font-size="7.8" text-anchor="middle" fill="#111">The expression of TMC7</text>
<text transform="translate(368.50,741.00) rotate(-90)" font-size="8.4" fill="#111">Log<tspan font-size="6" dy="2.3">2</tspan><tspan font-size="7.6" dy="-2.3"> (TPM+1)</tspan></text>
<path d="M417.70,660.80 L417.70,658.30 L473.90,658.30 L473.90,660.80" fill="none" stroke="#111" stroke-width="0.85"/>
<text x="431.39" y="656.50" font-size="6.3" textLength="28.83" lengthAdjust="spacingAndGlyphs" fill="#222">p = 9.1e−05</text>
<text x="532.2" y="635.8" font-size="19.0" >P</text>
<defs><path id="vP0" d="M595.2 775.3 595.3 774.4 595.3 773.5 595.4 772.6 595.4 771.7 595.5 770.7 595.5 769.8 595.6 768.9 595.6 768.0 595.7 767.0 595.7 766.1 595.8 765.2 595.9 764.3 595.9 763.3 596.0 762.4 596.1 761.5 596.2 760.6 596.3 759.7 596.4 758.9 596.6 758.0 596.7 757.2 596.9 756.3 597.1 755.4 597.3 754.6 597.5 753.7 597.7 752.9 598.0 752.0 598.3 751.1 598.6 750.3 599.0 749.4 599.4 748.5 599.9 747.6 600.3 746.8 600.8 745.9 601.2 745.0 601.6 744.2 602.1 743.3 602.6 742.4 603.1 741.6 603.6 740.7 604.1 739.9 604.6 739.0 605.2 738.2 605.7 737.3 606.3 736.4 606.9 735.6 607.5 734.7 608.1 733.8 608.7 732.9 609.3 732.1 609.9 731.2 610.5 730.3 611.1 729.4 611.7 728.6 612.3 727.7 612.9 726.9 613.5 726.0 614.1 725.2 614.7 724.3 615.2 723.5 615.6 722.6 615.9 721.8 616.2 720.9 616.4 720.0 616.6 719.1 616.8 718.3 617.0 717.4 617.1 716.5 617.1 715.7 617.1 714.8 617.0 713.9 616.9 713.0 616.7 712.1 616.5 711.2 616.3 710.3 616.1 709.3 615.9 708.5 615.6 707.6 615.3 706.8 614.9 705.9 614.6 705.1 614.2 704.2 613.8 703.4 613.4 702.5 613.0 701.7 612.6 700.8 612.2 699.9 611.8 699.0 611.3 698.2 610.9 697.3 610.4 696.4 610.0 695.5 609.5 694.7 609.0 693.8 608.5 692.9 607.9 692.1 607.4 691.2 606.8 690.4 606.2 689.5 605.6 688.7 605.0 687.8 604.4 687.0 603.9 686.1 603.4 685.2 602.8 684.4 602.3 683.5 601.7 682.6 601.2 681.7 600.7 680.9 600.2 680.0 599.7 679.1 599.3 678.2 598.9 677.4 598.5 676.5 598.0 675.7 597.6 674.8 597.3 674.0 596.9 673.1 596.6 672.2 596.4 671.4 596.2 670.5 596.1 669.7 595.9 668.8 595.8 667.9 595.7 667.0 595.7 666.2 595.6 665.3 595.5 664.4 595.4 663.5 595.4 662.6 595.3 661.8 595.2 660.9 593.6 660.9 593.5 661.8 593.4 662.6 593.4 663.5 593.3 664.4 593.2 665.3 593.1 666.2 593.1 667.0 593.0 667.9 592.9 668.8 592.7 669.7 592.6 670.5 592.4 671.4 592.2 672.2 591.9 673.1 591.5 674.0 591.2 674.8 590.8 675.7 590.3 676.5 589.9 677.4 589.5 678.2 589.1 679.1 588.6 680.0 588.1 680.9 587.6 681.7 587.1 682.6 586.5 683.5 586.0 684.4 585.4 685.2 584.9 686.1 584.4 687.0 583.8 687.8 583.2 688.7 582.6 689.5 582.0 690.4 581.4 691.2 580.9 692.1 580.3 692.9 579.8 693.8 579.3 694.7 578.8 695.5 578.4 696.4 577.9 697.3 577.5 698.2 577.0 699.0 576.6 699.9 576.2 700.8 575.8 701.7 575.4 702.5 575.0 703.4 574.6 704.2 574.2 705.1 573.9 705.9 573.5 706.8 573.2 707.6 572.9 708.5 572.7 709.3 572.5 710.3 572.3 711.2 572.1 712.1 571.9 713.0 571.8 713.9 571.7 714.8 571.7 715.7 571.7 716.5 571.8 717.4 572.0 718.3 572.2 719.1 572.4 720.0 572.6 720.9 572.9 721.8 573.2 722.6 573.6 723.5 574.1 724.3 574.7 725.2 575.3 726.0 575.9 726.9 576.5 727.7 577.1 728.6 577.7 729.4 578.3 730.3 578.9 731.2 579.5 732.1 580.1 732.9 580.7 733.8 581.3 734.7 581.9 735.6 582.5 736.4 583.1 737.3 583.6 738.2 584.2 739.0 584.7 739.9 585.2 740.7 585.7 741.6 586.2 742.4 586.7 743.3 587.2 744.2 587.6 745.0 588.0 745.9 588.5 746.8 588.9 747.6 589.4 748.5 589.8 749.4 590.2 750.3 590.5 751.1 590.8 752.0 591.1 752.9 591.3 753.7 591.5 754.6 591.7 755.4 591.9 756.3 592.1 757.2 592.2 758.0 592.4 758.9 592.5 759.7 592.6 760.6 592.7 761.5 592.8 762.4 592.9 763.3 592.9 764.3 593.0 765.2 593.1 766.1 593.1 767.0 593.2 768.0 593.2 768.9 593.3 769.8 593.3 770.7 593.4 771.7 593.4 772.6 593.5 773.5 593.5 774.4 593.6 775.3Z"/></defs><use href="#vP0" fill="#a9dcea"/>
<defs><path id="vP1" d="M652.2 754.3 652.3 753.6 652.4 752.8 652.5 752.1 652.6 751.4 652.7 750.7 652.9 750.0 653.0 749.3 653.2 748.6 653.5 747.9 653.7 747.1 654.0 746.4 654.2 745.7 654.5 745.0 654.8 744.3 655.1 743.6 655.5 742.9 655.8 742.2 656.2 741.5 656.6 740.8 657.0 740.0 657.4 739.3 657.8 738.6 658.2 737.9 658.6 737.2 659.0 736.5 659.4 735.7 659.9 735.0 660.3 734.3 660.7 733.5 661.1 732.8 661.6 732.1 662.0 731.4 662.4 730.6 662.8 729.9 663.2 729.2 663.6 728.5 664.0 727.8 664.4 727.1 664.8 726.4 665.2 725.7 665.5 725.0 665.9 724.2 666.3 723.5 666.7 722.8 667.1 722.1 667.5 721.4 667.9 720.7 668.3 720.0 668.7 719.3 669.1 718.6 669.4 717.9 669.7 717.2 669.9 716.4 670.1 715.7 670.3 715.0 670.5 714.3 670.7 713.6 670.9 712.9 671.0 712.2 671.1 711.5 671.2 710.8 671.3 710.1 671.3 709.3 671.3 708.6 671.2 707.9 671.1 707.2 670.9 706.5 670.8 705.7 670.6 705.0 670.4 704.3 670.2 703.6 670.0 702.9 669.8 702.2 669.5 701.5 669.3 700.8 669.0 700.1 668.7 699.3 668.5 698.6 668.2 697.9 667.9 697.2 667.6 696.5 667.4 695.7 667.1 695.0 666.8 694.3 666.5 693.6 666.2 692.8 665.8 692.1 665.5 691.4 665.2 690.6 664.9 689.9 664.5 689.2 664.2 688.5 663.9 687.8 663.5 687.1 663.1 686.4 662.8 685.7 662.4 685.0 662.1 684.3 661.7 683.5 661.3 682.8 661.0 682.1 660.6 681.4 660.3 680.7 659.9 680.0 659.6 679.3 659.2 678.6 658.9 677.9 658.5 677.2 658.1 676.5 657.7 675.7 657.3 675.0 656.8 674.3 656.3 673.6 655.9 672.9 655.4 672.2 655.0 671.5 654.5 670.8 654.1 670.1 653.8 669.4 653.5 668.6 653.2 667.9 652.9 667.2 652.7 666.4 652.4 665.7 652.2 665.0 651.9 664.2 649.3 664.2 649.0 665.0 648.8 665.7 648.5 666.4 648.3 667.2 648.0 667.9 647.7 668.6 647.4 669.4 647.1 670.1 646.7 670.8 646.2 671.5 645.8 672.2 645.3 672.9 644.9 673.6 644.4 674.3 643.9 675.0 643.5 675.7 643.1 676.5 642.7 677.2 642.3 677.9 642.0 678.6 641.6 679.3 641.3 680.0 640.9 680.7 640.6 681.4 640.2 682.1 639.9 682.8 639.5 683.5 639.1 684.3 638.8 685.0 638.4 685.7 638.1 686.4 637.7 687.1 637.3 687.8 637.0 688.5 636.7 689.2 636.3 689.9 636.0 690.6 635.7 691.4 635.4 692.1 635.0 692.8 634.7 693.6 634.4 694.3 634.1 695.0 633.8 695.7 633.6 696.5 633.3 697.2 633.0 697.9 632.7 698.6 632.5 699.3 632.2 700.1 631.9 700.8 631.7 701.5 631.4 702.2 631.2 702.9 631.0 703.6 630.8 704.3 630.6 705.0 630.4 705.7 630.3 706.5 630.1 707.2 630.0 707.9 629.9 708.6 629.9 709.3 629.9 710.1 630.0 710.8 630.1 711.5 630.2 712.2 630.3 712.9 630.5 713.6 630.7 714.3 630.9 715.0 631.1 715.7 631.3 716.4 631.5 717.2 631.8 717.9 632.1 718.6 632.5 719.3 632.9 720.0 633.3 720.7 633.7 721.4 634.1 722.1 634.5 722.8 634.9 723.5 635.3 724.2 635.7 725.0 636.0 725.7 636.4 726.4 636.8 727.1 637.2 727.8 637.6 728.5 638.0 729.2 638.4 729.9 638.8 730.6 639.2 731.4 639.6 732.1 640.1 732.8 640.5 733.5 640.9 734.3 641.3 735.0 641.8 735.7 642.2 736.5 642.6 737.2 643.0 737.9 643.4 738.6 643.8 739.3 644.2 740.0 644.6 740.8 645.0 741.5 645.4 742.2 645.7 742.9 646.1 743.6 646.4 744.3 646.7 745.0 647.0 745.7 647.2 746.4 647.5 747.1 647.7 747.9 648.0 748.6 648.2 749.3 648.3 750.0 648.5 750.7 648.6 751.4 648.7 752.1 648.8 752.8 648.9 753.6 649.0 754.3Z"/></defs><use href="#vP1" fill="#f3a69b"/>
<path d="M594.7 712.1h2M604.3 702.3h2M583.8 693.4h2M581.1 693.7h2M597.0 696.7h2M590.5 735.3h2M577.6 728.1h2M599.0 724.2h2M597.4 731.3h2M607.6 711.2h2M593.3 687.8h2M606.9 673.2h2M607.3 709.6h2M594.1 750.3h2M601.5 726.6h2M584.1 706.5h2M580.2 727.9h2M609.6 715.2h2M586.8 732.7h2M590.1 706.1h2M589.5 706.1h2M589.4 725.0h2M604.6 679.5h2M606.6 701.4h2M582.1 722.7h2M609.9 695.0h2M592.6 703.1h2M577.1 699.4h2M605.2 696.8h2M581.2 689.9h2M577.1 697.2h2M588.1 719.7h2" stroke="rgb(91,192,222)" stroke-opacity="0.33" stroke-width="2" fill="none"/>
<path d="M604.6 713.2h2M602.3 696.2h2M598.4 722.8h2M604.1 714.9h2M603.0 722.7h2M583.6 688.2h2M594.5 727.8h2M608.9 722.3h2M582.1 739.8h2M585.7 699.0h2M604.4 704.1h2M593.1 677.7h2M590.5 736.2h2M605.9 720.6h2M596.1 688.5h2M602.2 700.4h2M586.7 728.2h2M584.8 681.9h2M585.9 716.3h2M582.8 742.4h2M596.2 714.0h2M609.1 746.8h2M609.5 775.5h2M606.9 742.3h2M595.2 676.6h2M584.2 750.7h2M600.4 705.5h2M591.6 708.9h2M608.6 722.8h2M582.2 742.5h2M585.2 720.5h2M579.2 713.8h2" stroke="rgb(91,192,222)" stroke-opacity="0.33" stroke-width="2" fill="none"/>
<path d="M594.8 716.6h2M596.5 690.5h2M596.3 707.5h2M601.8 718.4h2M599.2 715.3h2M606.0 697.8h2M580.4 736.2h2M604.9 704.2h2M596.2 704.1h2M579.8 742.4h2M594.0 696.6h2M590.3 691.5h2M598.5 721.5h2M609.9 721.6h2M599.9 697.9h2M606.9 714.6h2M596.4 707.4h2M580.2 723.3h2M590.3 681.7h2M593.3 719.3h2M609.7 708.5h2M586.6 695.9h2M583.4 719.5h2M588.4 726.4h2M594.4 709.5h2M595.1 745.8h2M580.3 706.8h2M593.0 685.0h2M608.8 689.7h2M577.6 720.9h2M601.1 733.4h2M603.1 751.4h2" stroke="rgb(91,192,222)" stroke-opacity="0.33" stroke-width="2" fill="none"/>
<path d="M585.7 726.7h2M579.7 747.8h2M584.7 712.8h2M591.5 703.3h2M584.7 675.8h2M598.5 698.2h2M577.1 711.1h2M599.8 713.6h2M594.0 712.6h2M594.0 679.1h2M597.5 736.2h2M592.8 738.1h2M605.1 750.0h2M606.1 717.2h2M577.7 723.4h2M587.6 686.2h2M591.5 714.6h2M586.1 730.5h2M606.6 737.2h2M581.1 719.4h2M589.7 721.0h2M583.4 706.0h2M579.7 721.1h2M597.5 749.7h2M587.5 693.6h2M598.3 752.6h2M579.3 741.7h2M595.8 761.7h2M582.1 731.4h2M601.5 695.7h2M583.5 728.6h2M580.2 742.6h2" stroke="rgb(91,192,222)" stroke-opacity="0.33" stroke-width="2" fill="none"/>
<path d="M587.8 684.3h2M589.4 716.6h2M604.7 718.9h2M602.0 712.5h2M587.4 716.6h2M591.5 750.4h2M592.5 748.1h2M590.7 714.8h2M594.9 728.4h2M585.6 725.2h2M595.7 697.4h2M604.2 704.0h2M598.1 740.9h2M591.3 737.9h2M593.8 728.1h2M594.1 690.6h2M585.1 709.0h2M604.9 726.8h2M588.6 743.2h2M595.1 718.8h2M599.9 704.7h2M585.0 726.4h2M581.0 719.6h2M586.5 720.9h2M602.6 696.6h2M600.0 698.9h2M579.0 704.1h2M590.9 717.2h2M577.3 679.4h2M607.3 729.8h2M587.1 741.6h2M603.9 702.6h2" stroke="rgb(91,192,222)" stroke-opacity="0.33" stroke-width="2" fill="none"/>
<path d="M582.3 740.2h2M589.7 733.7h2M607.6 690.7h2M586.1 747.4h2M595.1 683.2h2M591.6 740.0h2M605.4 688.4h2M602.6 703.5h2M607.1 694.9h2M601.3 721.4h2M595.1 694.3h2M597.1 728.2h2M597.1 729.7h2M603.8 727.9h2M579.8 736.3h2M586.9 714.8h2M588.7 733.2h2M605.2 731.3h2M602.0 708.5h2M579.2 757.7h2M587.6 701.3h2M578.0 690.7h2M581.2 708.2h2M587.9 706.3h2M606.2 696.5h2M587.1 702.9h2M597.1 692.0h2M596.2 709.4h2M606.6 716.5h2M593.7 725.0h2M580.3 752.9h2M581.6 719.0h2" stroke="rgb(91,192,222)" stroke-opacity="0.33" stroke-width="2" fill="none"/>
<path d="M587.1 712.9h2M585.6 718.1h2M591.1 704.1h2M579.5 710.0h2M607.4 718.6h2M606.9 671.9h2M581.2 731.2h2M600.4 743.0h2M597.7 670.3h2M609.5 707.9h2M587.5 708.9h2M600.9 740.2h2M578.8 731.1h2M579.7 710.5h2M596.4 692.7h2M600.5 727.8h2M608.3 739.4h2M606.8 705.4h2M596.6 713.7h2M576.6 716.8h2M591.8 699.5h2M588.7 735.1h2M606.2 683.0h2M596.0 753.4h2M602.0 693.1h2M587.7 689.9h2M589.0 723.2h2M597.5 703.2h2M577.5 696.5h2M586.4 715.6h2M605.2 743.9h2M603.8 705.0h2" stroke="rgb(91,192,222)" stroke-opacity="0.33" stroke-width="2" fill="none"/>
<path d="M587.9 732.0h2M580.3 720.7h2M584.8 684.8h2M601.5 724.9h2M590.1 761.5h2M584.9 740.3h2M596.8 734.4h2M605.0 741.0h2M598.7 717.7h2M587.9 766.4h2M583.3 723.0h2M601.3 734.7h2M587.0 696.7h2M583.8 711.5h2M596.5 734.2h2M591.0 735.2h2M595.1 710.1h2M586.5 692.1h2M577.4 750.5h2M596.8 721.7h2M594.7 673.9h2M578.2 715.8h2M609.3 713.8h2M609.7 689.5h2M578.7 706.5h2M590.8 687.1h2M606.1 698.8h2M577.0 732.0h2M591.8 677.5h2M607.2 739.0h2M578.7 707.2h2" stroke="rgb(91,192,222)" stroke-opacity="0.33" stroke-width="2" fill="none"/>
<path d="M656.9 714.2h2M638.9 712.2h2M634.0 711.1h2M652.7 706.8h2M650.2 705.5h2M657.2 739.1h2M654.8 696.0h2M640.0 676.0h2M633.7 732.2h2M665.2 715.1h2M642.4 697.3h2M638.4 708.9h2M638.0 674.8h2M651.8 701.6h2M651.1 713.5h2M656.7 718.2h2M660.3 711.3h2M663.4 736.9h2M659.5 707.2h2M636.5 712.1h2M647.7 687.0h2M662.4 728.0h2M639.7 706.6h2M640.2 718.0h2M634.4 706.4h2M658.4 717.1h2M652.8 716.5h2M649.6 753.9h2M642.1 693.0h2M640.6 674.6h2" stroke="rgb(235,80,60)" stroke-opacity="0.33" stroke-width="2" fill="none"/>
<path d="M643.5 715.3h2M638.4 706.0h2M642.5 709.5h2M651.4 743.5h2M643.2 722.4h2M638.0 715.1h2M634.5 732.1h2M650.7 680.6h2M633.1 703.9h2M659.8 715.5h2M636.9 694.1h2M652.4 677.6h2M653.6 692.5h2M636.1 729.0h2M665.7 681.6h2M658.8 722.5h2M657.5 667.8h2M639.7 733.8h2M632.9 725.9h2M635.6 703.6h2M657.9 680.8h2M639.7 726.9h2M656.4 723.0h2M650.8 710.4h2M638.8 713.4h2M652.3 678.6h2M657.8 736.9h2M657.2 697.1h2M639.4 692.2h2M635.2 701.5h2" stroke="rgb(235,80,60)" stroke-opacity="0.33" stroke-width="2" fill="none"/>
<path d="M641.2 713.2h2M657.9 677.5h2M635.0 710.4h2M661.6 738.3h2M656.6 684.2h2M646.5 727.6h2M654.6 734.1h2M635.6 736.7h2M647.8 696.9h2M652.0 701.0h2M659.9 742.7h2M654.2 689.8h2M660.3 731.2h2M654.3 742.9h2M656.3 709.4h2M644.1 694.2h2M656.6 748.2h2M666.1 725.5h2M642.9 704.0h2M646.8 689.0h2M652.9 698.4h2M665.6 711.2h2M644.5 747.6h2M659.9 747.4h2M633.9 713.4h2M649.5 726.4h2M655.8 705.0h2M657.5 692.1h2M648.2 733.8h2M659.1 693.9h2" stroke="rgb(235,80,60)" stroke-opacity="0.33" stroke-width="2" fill="none"/>
<path d="M638.8 690.4h2M658.7 709.8h2M660.1 704.3h2M658.0 717.3h2M647.9 691.4h2M652.7 713.9h2M662.3 704.7h2M636.3 714.3h2M653.5 673.5h2M644.6 686.2h2M648.6 693.1h2M646.4 726.2h2M661.3 713.3h2M647.9 714.4h2M665.7 724.4h2M642.0 721.8h2M633.4 715.3h2M648.6 696.0h2M660.9 683.5h2M651.0 687.6h2M650.0 688.6h2M643.9 725.7h2M632.8 706.5h2M664.6 696.6h2M633.5 700.2h2M634.0 702.7h2M663.2 700.5h2M653.6 711.6h2M648.4 696.7h2M665.8 686.1h2" stroke="rgb(235,80,60)" stroke-opacity="0.33" stroke-width="2" fill="none"/>
<path d="M664.1 740.2h2M642.7 696.6h2M632.7 689.7h2M634.8 715.0h2M663.9 704.8h2M646.3 717.9h2M651.3 709.3h2M657.5 714.6h2M656.0 673.9h2M644.4 712.9h2M658.6 690.6h2M651.2 707.5h2M642.6 711.4h2M653.7 709.7h2M664.6 715.1h2M663.1 717.3h2M642.1 754.7h2M651.0 697.8h2M655.1 718.1h2M647.9 674.9h2M663.6 720.4h2M638.4 721.0h2M642.1 686.0h2M656.3 711.3h2M650.6 709.9h2M664.2 733.5h2M651.8 708.0h2M649.1 718.1h2M654.3 720.5h2" stroke="rgb(235,80,60)" stroke-opacity="0.33" stroke-width="2" fill="none"/>
<path d="M650.9 709.4h2M642.8 738.5h2M666.0 688.5h2M656.9 708.1h2M653.2 684.3h2M647.8 680.4h2M650.3 716.4h2M637.9 746.8h2M654.2 744.1h2M644.5 687.2h2M660.0 724.8h2M642.1 711.6h2M636.6 670.7h2M647.4 718.1h2M638.6 742.2h2M638.8 732.0h2M663.1 724.9h2M664.8 694.4h2M655.5 702.1h2M663.8 688.0h2M635.6 706.2h2M640.5 693.6h2M653.8 714.5h2M645.3 706.3h2M653.8 716.0h2M644.1 693.0h2M659.3 730.9h2M662.3 692.5h2M642.0 673.9h2" stroke="rgb(235,80,60)" stroke-opacity="0.33" stroke-width="2" fill="none"/>
<path d="M656.6 690.3h2M640.9 694.1h2M651.6 725.6h2M634.6 721.8h2M646.1 708.9h2M661.9 717.5h2M632.9 697.7h2M642.4 682.9h2M644.5 707.2h2M645.5 709.0h2M661.9 687.7h2M660.4 722.7h2M639.6 700.7h2M645.2 715.7h2M650.7 708.1h2M655.6 679.9h2M659.4 749.9h2M665.4 719.6h2M633.7 707.9h2M648.6 704.7h2M653.9 712.9h2M662.2 668.9h2M642.3 714.0h2M641.0 703.6h2M653.5 706.2h2M649.8 731.6h2M647.0 692.8h2M647.0 689.4h2M640.0 689.4h2" stroke="rgb(235,80,60)" stroke-opacity="0.33" stroke-width="2" fill="none"/>
<path d="M656.0 709.1h2M651.3 718.8h2M634.4 700.5h2M649.6 695.1h2M633.3 716.6h2M650.8 728.7h2M658.9 688.1h2M665.4 711.9h2M662.3 718.3h2M639.8 702.0h2M658.2 733.9h2M633.7 702.1h2M637.8 706.2h2M633.2 727.8h2M659.0 708.1h2M658.7 683.4h2M648.7 676.6h2M663.3 731.8h2M652.7 715.4h2M643.9 730.1h2M634.9 691.2h2M664.9 750.6h2M656.8 713.6h2M656.0 716.1h2M664.7 725.9h2M665.8 726.3h2M657.1 682.1h2M649.2 698.4h2M650.1 716.2h2" stroke="rgb(235,80,60)" stroke-opacity="0.33" stroke-width="2" fill="none"/>
<use href="#vP0" fill="none" stroke="#000" stroke-width="1.05"/>
<use href="#vP1" fill="none" stroke="#000" stroke-width="1.05"/>
<line x1="584.60" y1="715.85" x2="604.20" y2="715.85" stroke="#000" stroke-width="1.25"/>
<rect x="590.30" y="714.40" width="8.2" height="2.90" fill="#1a1a1a" fill-opacity="0.85"/>
<line x1="594.40" y1="714.40" x2="594.40" y2="717.30" stroke="#000" stroke-width="0.6"/>
<line x1="640.90" y1="710.14" x2="660.30" y2="710.14" stroke="#000" stroke-width="1.25"/>
<rect x="646.50" y="708.69" width="8.2" height="2.90" fill="#1a1a1a" fill-opacity="0.85"/>
<line x1="650.60" y1="708.69" x2="650.60" y2="711.59" stroke="#000" stroke-width="0.6"/>
<path d="M560.40,651.50 L560.40,781.30 L684.50,781.30" fill="none" stroke="#111" stroke-width="0.9"/>
<line x1="557.60" y1="778.30" x2="560.40" y2="778.30" stroke="#111" stroke-width="0.8"/>
<text x="554.90" y="780.61" font-size="6.6" text-anchor="end" fill="#222">0</text>
<line x1="557.60" y1="758.60" x2="560.40" y2="758.60" stroke="#111" stroke-width="0.8"/>
<text x="554.90" y="760.91" font-size="6.6" text-anchor="end" fill="#222">1</text>
<line x1="557.60" y1="738.90" x2="560.40" y2="738.90" stroke="#111" stroke-width="0.8"/>
<text x="554.90" y="741.21" font-size="6.6" text-anchor="end" fill="#222">2</text>
<line x1="557.60" y1="719.20" x2="560.40" y2="719.20" stroke="#111" stroke-width="0.8"/>
<text x="554.90" y="721.51" font-size="6.6" text-anchor="end" fill="#222">3</text>
<line x1="557.60" y1="699.50" x2="560.40" y2="699.50" stroke="#111" stroke-width="0.8"/>
<text x="554.90" y="701.81" font-size="6.6" text-anchor="end" fill="#222">4</text>
<line x1="557.60" y1="679.80" x2="560.40" y2="679.80" stroke="#111" stroke-width="0.8"/>
<text x="554.90" y="682.11" font-size="6.6" text-anchor="end" fill="#222">5</text>
<line x1="557.60" y1="660.10" x2="560.40" y2="660.10" stroke="#111" stroke-width="0.8"/>
<text x="554.90" y="662.41" font-size="6.6" text-anchor="end" fill="#222">6</text>
<line x1="594.40" y1="781.30" x2="594.40" y2="784.10" stroke="#111" stroke-width="0.8"/>
<text x="594.40" y="791.70" font-size="6.6" text-anchor="middle" fill="#222">Stage I&amp;Stage II</text>
<line x1="650.60" y1="781.30" x2="650.60" y2="784.10" stroke="#111" stroke-width="0.8"/>
<text x="650.60" y="791.70" font-size="6.6" text-anchor="middle" fill="#222">Stage III&amp;Stage IV</text>
<text x="593.61" y="801.50" font-size="8.6" textLength="57.67" lengthAdjust="spacingAndGlyphs" fill="#111">Pathologic stage</text>
<text transform="translate(536.10,716.40) rotate(-90)" font-size="7.8" text-anchor="middle" fill="#111">The expression of TMC8</text>
<text transform="translate(544.00,741.00) rotate(-90)" font-size="8.4" fill="#111">Log<tspan font-size="6" dy="2.3">2</tspan><tspan font-size="7.6" dy="-2.3"> (TPM+1)</tspan></text>
<path d="M594.40,660.80 L594.40,658.30 L650.60,658.30 L650.60,660.80" fill="none" stroke="#111" stroke-width="0.85"/>
<text x="608.09" y="656.50" font-size="6.3" textLength="28.83" lengthAdjust="spacingAndGlyphs" fill="#222">p = 2.4e−03</text></svg></body></html>
